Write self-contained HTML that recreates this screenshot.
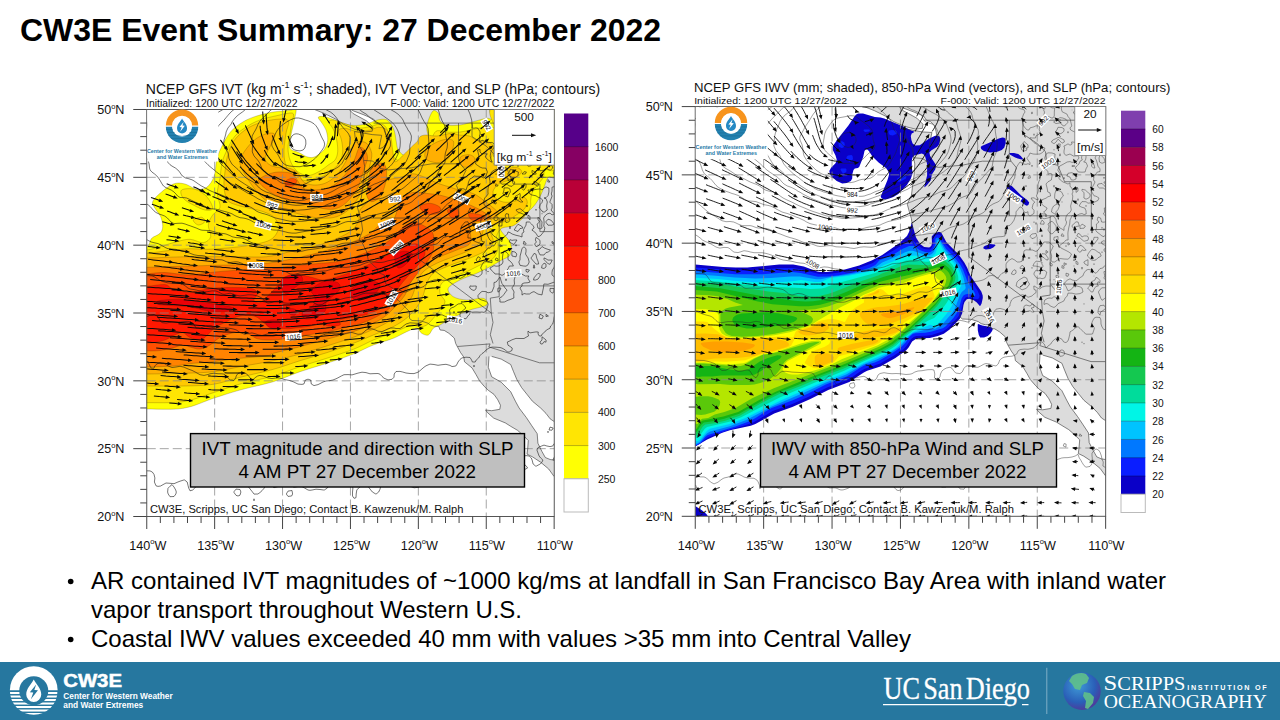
<!DOCTYPE html>
<html><head><meta charset="utf-8"><title>CW3E Event Summary</title>
<style>html,body{margin:0;padding:0;background:#fff;}body{width:1280px;height:720px;overflow:hidden;position:relative;font-family:"Liberation Sans",sans-serif;}svg{position:absolute;left:0;top:0;display:block}</style>
</head><body>
<svg width="1280" height="720" viewBox="0 0 1280 720">
<defs>
<clipPath id="cl"><rect x="146.75" y="109.5" width="407.5" height="407"/></clipPath>
<clipPath id="cr"><rect x="695.25" y="106.6" width="410.4" height="409.7"/></clipPath>
</defs>
<rect width="1280" height="720" fill="#fff"/>

<text x="20" y="40.6" font-size="32" font-weight="bold" font-family="Liberation Sans, sans-serif" fill="#000" textLength="641" lengthAdjust="spacingAndGlyphs">CW3E Event Summary: 27 December 2022</text>
<g clip-path="url(#cl)">
<path d="M316.5 89.1L316.5 95.9L330.1 101.3L346.4 106.8L353.2 110.8L364.0 114.9L373.5 119.0L376.3 123.1L380.3 124.4L384.4 128.5L385.8 133.9L387.1 142.1L383.0 147.5L379.0 148.8L380.3 142.1L381.7 135.3L372.2 134.6L354.5 131.5L355.2 138.0L359.3 146.1L362.7 151.5L363.4 159.7L364.7 166.5L364.0 177.3L362.7 186.8L361.3 197.7L357.2 206.5L359.3 214.0L361.3 220.7L362.7 230.2L359.3 239.1L362.7 243.8L366.7 251.9L368.1 259.4L373.5 265.5L377.6 268.9L377.6 272.3L384.4 275.0L384.4 279.1L385.8 283.8L389.8 286.5L393.2 288.6L391.9 292.0L392.5 295.4L398.0 300.1L402.1 304.2L406.1 308.2L409.5 311.6L409.5 318.4L412.0 320.5L421.1 320.9L427.9 323.2L430.6 325.2L434.6 326.2L438.7 326.3L440.1 330.0L444.2 330.4L448.9 333.3L454.3 338.1L455.7 343.5L457.5 346.9L460.4 352.3L463.8 357.1L464.5 361.8L472.0 367.9L476.1 374.7L479.5 380.8L484.2 386.3L488.3 390.3L494.0 394.4L497.8 399.8L500.5 405.3L499.8 409.3L491.7 410.7L485.6 410.0L487.6 412.7L493.7 418.1L505.3 422.9L510.7 426.3L517.5 430.3L522.9 435.1L528.3 440.5L527.7 448.7L527.0 454.1L532.4 456.8L540.6 462.2L548.7 469.0L554.1 476.5L567.7 477.2L567.7 89.1Z" fill="#dcdcdc"/>
<path d="M304.3 99.3L311.1 108.1L324.6 113.6L335.5 119.0L343.7 124.4L354.5 129.2L365.4 131.9L372.2 131.2L372.9 127.1L366.7 121.0L353.2 113.6L346.4 106.8L330.1 102.0L312.4 97.3Z" fill="#dcdcdc"/>
<path d="M489.0 356.4L488.3 367.3L491.7 376.8L501.2 382.2L510.7 391.7L515.4 401.2L519.1 408.0L526.3 417.5L531.7 425.6L537.2 433.7L537.9 443.2L541.9 451.4L545.3 457.5L550.1 459.5L567.7 462.2L567.7 428.3L554.1 421.5L550.1 418.8L546.0 413.4L540.6 408.0L532.4 401.2L527.0 394.4L521.6 387.6L516.8 379.5L513.4 371.3L510.7 364.5L501.2 359.1L491.7 356.4Z" fill="#fff"/>
<path d="M130.0 409.0C130.0 381.9 127.2 273.7 130.0 246.7C132.8 219.6 143.1 248.1 146.7 246.7C150.3 245.3 149.4 240.6 151.7 238.3C153.9 236.1 158.2 235.3 160.0 233.3C161.8 231.4 162.6 229.4 162.7 226.7C162.8 223.9 161.9 219.7 160.7 216.7C159.4 213.6 156.3 210.8 155.0 208.3C153.7 205.8 151.8 204.2 152.7 201.7C153.5 199.2 156.6 196.3 160.0 193.3C163.4 190.4 169.2 185.6 173.3 184.0C177.5 182.4 181.1 183.1 185.0 184.0C188.9 184.9 193.1 188.8 196.7 189.3C200.3 189.9 203.8 189.4 206.7 187.3C209.6 185.2 212.3 181.2 214.0 176.7C215.7 172.1 215.4 165.0 216.7 160.0C217.9 155.0 219.3 151.4 221.7 146.7C224.0 141.9 227.1 135.8 230.7 131.7C234.3 127.5 239.0 124.3 243.3 121.7C247.7 119.1 251.7 117.6 256.7 116.0C261.7 114.4 267.8 112.9 273.3 112.0C278.9 111.1 286.2 110.8 290.0 110.3C293.8 109.9 295.3 107.4 296.0 109.3C296.7 111.2 294.9 117.1 294.0 121.7C293.1 126.2 291.3 132.2 290.7 136.7C290.0 141.1 288.6 145.7 290.0 148.3C291.4 151.0 296.6 151.3 299.3 152.7C302.1 154.1 304.3 155.9 306.7 156.7C309.0 157.4 311.1 157.9 313.3 157.3C315.6 156.8 318.1 154.8 320.0 153.3C321.9 151.8 323.7 150.6 325.0 148.3C326.3 146.1 327.5 143.1 327.7 140.0C327.8 136.9 327.0 132.9 326.0 130.0C325.0 127.1 322.9 124.8 321.7 122.7C320.4 120.6 317.8 118.3 318.3 117.3C318.9 116.3 321.9 116.1 325.0 116.7C328.1 117.2 332.8 119.3 336.7 120.7C340.6 122.0 344.7 123.9 348.3 124.7C351.9 125.4 354.7 125.7 358.3 125.3C361.9 125.0 367.2 123.4 370.0 122.7C372.8 121.9 373.1 121.2 375.0 120.7C376.9 120.1 379.4 119.3 381.7 119.3C383.9 119.3 386.3 118.9 388.3 120.7C390.4 122.4 392.7 126.8 394.0 130.0C395.3 133.2 395.3 136.7 396.0 140.0C396.7 143.3 396.6 147.2 398.3 150.0C400.1 152.8 403.3 155.8 406.7 156.7C410.0 157.5 416.7 156.4 418.3 155.0C420.0 153.6 415.8 150.0 416.7 148.3C417.5 146.7 421.4 146.7 423.3 145.0C425.3 143.3 427.8 141.1 428.3 138.3C428.9 135.6 426.6 131.5 426.7 128.3C426.7 125.2 427.6 122.3 428.7 119.3C429.8 116.4 431.7 111.7 433.3 110.7C434.9 109.7 437.2 111.7 438.3 113.3C439.4 115.0 438.6 118.7 440.0 120.7C441.4 122.6 443.3 124.3 446.7 125.0C450.0 125.7 455.6 125.6 460.0 125.0C464.4 124.4 468.9 122.8 473.3 121.7C477.8 120.6 483.2 118.7 486.7 118.3C490.1 117.9 492.8 121.3 494.0 119.3C495.2 117.4 483.6 108.8 494.0 106.7C504.4 104.6 546.2 95.8 556.7 106.7C567.1 117.5 558.1 159.9 556.7 171.7C555.3 183.4 550.4 174.7 548.3 177.3C546.2 179.9 545.4 184.1 544.0 187.3C542.6 190.6 541.8 193.4 540.0 196.7C538.2 199.9 536.1 203.6 533.3 206.7C530.6 209.7 526.7 212.7 523.3 215.0C520.0 217.3 516.7 219.0 513.3 220.7C510.0 222.3 505.4 223.4 503.3 225.0C501.2 226.6 499.4 226.9 500.7 230.0C501.9 233.1 509.1 239.2 510.7 243.3C512.2 247.5 511.5 252.2 510.0 255.0C508.5 257.8 504.4 258.3 501.7 260.0C498.9 261.7 497.5 262.8 493.3 265.0C489.2 267.2 482.2 270.8 476.7 273.3C471.1 275.8 464.7 277.5 460.0 280.0C455.3 282.5 449.4 285.6 448.3 288.3C447.2 291.1 450.3 294.7 453.3 296.7C456.4 298.6 461.7 299.7 466.7 300.0C471.7 300.3 480.0 297.5 483.3 298.3C486.7 299.2 488.9 303.1 486.7 305.0C484.4 306.9 475.6 307.9 470.0 310.0C464.4 312.1 458.3 314.8 453.3 317.3C448.3 319.8 443.3 323.2 440.0 325.0C436.7 326.8 435.3 326.7 433.3 328.3C431.4 330.0 430.3 334.2 428.3 335.0C426.4 335.8 423.6 334.4 421.7 333.3C419.7 332.2 419.2 328.6 416.7 328.3C414.2 328.1 410.6 330.0 406.7 331.7C402.8 333.3 398.9 336.1 393.3 338.3C387.8 340.6 380.0 342.4 373.3 345.0C366.7 347.6 361.1 350.9 353.3 354.0C345.6 357.1 335.6 360.4 326.7 363.3C317.8 366.3 308.9 368.6 300.0 371.7C291.1 374.7 283.3 378.6 273.3 381.7C263.3 384.7 250.0 387.2 240.0 390.0C230.0 392.8 222.8 395.3 213.3 398.3C203.9 401.4 194.4 406.6 183.3 408.3C172.2 410.1 155.6 408.9 146.7 409.0C137.8 409.1 132.8 409.0 130.0 409.0C127.2 409.0 130.0 436.1 130.0 409.0Z" fill="#ffff03" stroke="#3a2a00" stroke-opacity="0.45" stroke-width="0.5"/>
<path d="M130.0 402.3C130.0 376.9 127.2 275.4 130.0 250.0C132.8 224.6 141.7 250.6 146.7 250.0C151.7 249.4 155.0 248.1 160.0 246.7C165.0 245.3 171.7 242.9 176.7 241.7C181.7 240.4 185.6 239.2 190.0 239.3C194.4 239.5 199.9 243.1 203.3 242.7C206.8 242.2 209.8 239.6 210.7 236.7C211.5 233.7 208.0 228.6 208.3 225.0C208.7 221.4 210.7 217.9 212.7 215.0C214.6 212.1 219.2 210.9 220.0 207.3C220.8 203.7 217.3 198.2 217.3 193.3C217.3 188.5 219.2 183.4 220.0 178.3C220.8 173.2 220.8 167.5 222.0 162.7C223.2 157.8 225.2 153.8 227.3 149.3C229.5 144.9 231.8 139.8 235.0 136.0C238.2 132.2 242.5 129.3 246.7 126.7C250.8 124.0 255.0 121.8 260.0 120.0C265.0 118.2 271.2 116.8 276.7 115.7C282.1 114.6 290.2 112.1 292.7 113.3C295.2 114.6 292.2 119.4 291.7 123.3C291.2 127.2 290.3 132.5 289.7 136.7C289.1 140.8 287.9 144.4 288.0 148.3C288.1 152.2 288.8 156.6 290.0 160.0C291.2 163.4 293.1 166.7 295.0 169.0C296.9 171.3 299.2 172.9 301.7 174.0C304.2 175.1 306.9 175.8 310.0 175.3C313.1 174.8 316.9 172.7 320.0 171.0C323.1 169.3 325.8 166.8 328.3 165.0C330.8 163.2 333.4 162.2 335.0 160.0C336.6 157.8 337.4 155.0 337.7 151.7C337.9 148.3 337.4 143.7 336.7 140.0C335.9 136.3 334.7 132.3 333.3 129.3C332.0 126.3 328.7 123.6 328.7 122.0C328.7 120.4 331.4 120.0 333.3 120.0C335.2 120.0 337.2 121.1 340.0 122.0C342.8 122.9 346.7 124.3 350.0 125.3C353.3 126.3 356.7 127.8 360.0 128.0C363.3 128.2 366.7 127.3 370.0 126.7C373.3 126.0 377.3 123.9 380.0 124.0C382.7 124.1 384.4 125.2 386.0 127.3C387.6 129.4 388.4 132.9 389.3 136.7C390.2 140.4 390.2 146.2 391.3 150.0C392.4 153.8 393.4 157.4 396.0 159.3C398.6 161.3 402.7 161.7 406.7 161.7C410.7 161.7 417.3 161.3 420.0 159.3C422.7 157.4 421.0 152.7 422.7 150.0C424.3 147.3 428.2 145.8 430.0 143.3C431.8 140.8 432.1 137.1 433.3 135.0C434.6 132.9 435.1 131.2 437.3 130.7C439.6 130.2 442.9 131.8 446.7 132.0C450.4 132.2 455.6 132.4 460.0 132.0C464.4 131.6 468.9 130.2 473.3 129.3C477.8 128.4 483.2 127.1 486.7 126.7C490.1 126.2 492.8 130.0 494.0 126.7C495.2 123.3 483.6 110.0 494.0 106.7C504.4 103.3 546.2 96.9 556.7 106.7C567.1 116.4 558.6 154.4 556.7 165.0C554.8 175.6 547.6 167.9 545.3 170.0C543.1 172.1 544.6 174.9 543.3 177.3C542.1 179.7 539.8 181.9 538.0 184.3C536.2 186.7 533.9 189.1 532.7 191.7C531.4 194.3 531.0 197.6 530.7 200.0C530.3 202.4 531.2 203.8 530.7 206.0C530.1 208.2 529.1 210.9 527.3 213.3C525.6 215.8 522.4 218.6 520.0 220.7C517.6 222.8 515.7 224.7 512.7 226.0C509.6 227.3 504.3 226.6 501.7 228.3C499.0 230.1 497.2 233.6 496.7 236.7C496.1 239.7 498.9 243.1 498.3 246.7C497.8 250.3 496.4 255.3 493.3 258.3C490.3 261.4 484.4 262.8 480.0 265.0C475.6 267.2 471.1 269.7 466.7 271.7C462.2 273.6 457.5 274.7 453.3 276.7C449.2 278.6 443.9 280.6 441.7 283.3C439.4 286.1 439.4 290.3 440.0 293.3C440.6 296.4 445.0 298.9 445.0 301.7C445.0 304.4 441.9 307.2 440.0 310.0C438.1 312.8 435.6 315.8 433.3 318.3C431.1 320.8 428.9 323.6 426.7 325.0C424.4 326.4 422.5 326.7 420.0 326.7C417.5 326.7 414.4 324.7 411.7 325.0C408.9 325.3 406.9 326.8 403.3 328.3C399.7 329.8 395.0 332.1 390.0 334.0C385.0 335.9 379.4 337.4 373.3 340.0C367.2 342.6 361.1 346.3 353.3 349.3C345.6 352.4 335.6 355.4 326.7 358.3C317.8 361.2 308.9 363.7 300.0 366.7C291.1 369.6 283.3 373.1 273.3 376.0C263.3 378.9 250.0 381.2 240.0 384.0C230.0 386.8 222.8 389.7 213.3 392.7C203.9 395.6 194.4 400.0 183.3 401.7C172.2 403.3 155.6 402.5 146.7 402.7C137.8 402.8 132.8 402.7 130.0 402.7C127.2 402.6 130.0 427.8 130.0 402.3Z" fill="#ffe503" stroke="#3a2a00" stroke-opacity="0.45" stroke-width="0.5"/>
<path d="M181.7 190.0C183.6 188.5 190.8 188.2 195.0 189.3C199.2 190.4 203.7 193.5 206.7 196.7C209.6 199.8 212.9 206.1 212.7 208.3C212.4 210.6 208.2 210.6 205.0 210.0C201.8 209.4 196.9 206.9 193.3 205.0C189.7 203.1 185.3 200.8 183.3 198.3C181.4 195.8 179.7 191.5 181.7 190.0Z" fill="#ffe503" stroke="#3a2a00" stroke-opacity="0.45" stroke-width="0.5"/>
<path d="M193.3 220.0C193.9 218.7 199.7 217.1 201.7 217.3C203.6 217.6 205.6 220.4 205.0 221.7C204.4 222.9 200.3 225.3 198.3 225.0C196.4 224.7 192.8 221.3 193.3 220.0Z" fill="#ffe503" stroke="#3a2a00" stroke-opacity="0.45" stroke-width="0.5"/>
<path d="M130.0 386.0C130.0 363.9 127.2 275.4 130.0 253.3C132.8 231.2 141.7 253.6 146.7 253.3C151.7 253.1 155.6 252.2 160.0 251.7C164.4 251.1 168.3 250.5 173.3 250.0C178.3 249.5 184.4 248.8 190.0 248.7C195.6 248.6 201.1 249.4 206.7 249.3C212.2 249.3 217.8 248.8 223.3 248.3C228.9 247.9 234.4 247.4 240.0 246.7C245.6 245.9 251.7 245.1 256.7 244.0C261.7 242.9 266.7 241.8 270.0 240.0C273.3 238.2 275.3 235.8 276.7 233.3C278.1 230.8 278.9 227.8 278.3 225.0C277.8 222.2 275.8 218.9 273.3 216.7C270.8 214.4 267.2 213.1 263.3 211.7C259.4 210.3 254.4 209.4 250.0 208.3C245.6 207.2 240.4 206.4 236.7 205.0C232.9 203.6 229.4 203.1 227.3 200.0C225.2 196.9 224.4 191.4 224.0 186.7C223.6 181.9 224.4 176.7 225.0 171.7C225.6 166.7 225.9 161.7 227.3 156.7C228.7 151.7 230.4 146.1 233.3 141.7C236.3 137.2 240.6 133.2 245.0 130.0C249.4 126.8 254.7 124.4 260.0 122.7C265.3 120.9 271.9 119.7 276.7 119.3C281.4 119.0 286.8 118.3 288.3 120.7C289.9 123.0 286.7 128.4 286.0 133.3C285.3 138.2 284.1 145.0 284.0 150.0C283.9 155.0 284.2 159.4 285.3 163.3C286.4 167.2 288.2 170.7 290.7 173.3C293.1 176.0 296.5 178.1 300.0 179.3C303.5 180.6 307.8 181.2 311.7 180.7C315.6 180.1 319.7 177.9 323.3 176.0C326.9 174.1 330.6 171.7 333.3 169.3C336.1 166.9 338.4 164.6 340.0 161.7C341.6 158.7 342.4 155.4 342.7 151.7C342.9 147.9 342.1 142.8 341.3 139.3C340.6 135.8 337.7 132.5 338.3 130.7C338.9 128.8 341.9 128.2 345.0 128.3C348.1 128.4 352.5 131.1 356.7 131.3C360.8 131.6 366.4 130.7 370.0 130.0C373.6 129.3 375.7 127.4 378.3 127.3C381.0 127.2 383.9 127.8 386.0 129.3C388.1 130.9 389.6 133.2 390.7 136.7C391.8 140.1 391.9 145.8 392.7 150.0C393.4 154.2 393.2 160.8 395.0 161.7C396.8 162.5 400.6 157.5 403.3 155.0C406.1 152.5 409.4 148.9 411.7 146.7C413.9 144.4 415.6 143.3 417.0 141.7C418.4 140.0 418.5 137.8 420.0 136.7C421.5 135.6 423.2 135.1 426.0 135.0C428.8 134.9 432.8 136.3 437.0 136.0C441.2 135.7 447.7 133.5 451.3 133.3C454.9 133.2 455.7 134.6 458.7 135.0C461.7 135.4 466.6 135.3 469.3 136.0C472.1 136.7 472.6 138.4 475.0 139.3C477.4 140.2 481.3 140.7 484.0 141.3C486.7 142.0 489.4 141.9 491.0 143.3C492.6 144.8 493.7 147.4 493.7 150.0C493.7 152.6 490.8 156.6 491.0 159.0C491.2 161.4 492.2 163.1 494.7 164.7C497.1 166.2 502.1 167.9 505.7 168.3C509.3 168.8 513.7 166.8 516.3 167.3C519.0 167.9 521.7 170.0 521.7 171.7C521.7 173.3 518.7 175.8 516.3 177.3C513.9 178.8 510.3 179.5 507.3 180.7C504.3 181.8 500.7 182.5 498.3 184.3C495.9 186.2 493.3 189.2 493.0 191.7C492.7 194.1 494.6 197.2 496.7 199.0C498.8 200.8 502.4 202.1 505.7 202.3C508.9 202.6 513.3 201.6 516.3 200.7C519.3 199.8 521.8 196.7 523.7 197.0C525.5 197.3 527.3 200.2 527.3 202.3C527.3 204.4 525.5 207.6 523.7 209.7C521.8 211.8 519.1 213.2 516.3 215.0C513.6 216.8 510.6 219.2 507.3 220.7C504.1 222.2 499.6 222.4 496.7 224.0C493.8 225.6 490.6 227.1 490.0 230.0C489.4 232.9 493.9 238.3 493.3 241.7C492.8 245.0 490.0 247.5 486.7 250.0C483.3 252.5 477.8 254.7 473.3 256.7C468.9 258.6 464.4 260.0 460.0 261.7C455.6 263.3 451.1 264.7 446.7 266.7C442.2 268.6 436.7 270.6 433.3 273.3C430.0 276.1 428.3 279.7 426.7 283.3C425.0 286.9 424.7 291.4 423.3 295.0C421.9 298.6 420.6 301.7 418.3 305.0C416.1 308.3 412.8 312.2 410.0 315.0C407.2 317.8 405.0 319.4 401.7 321.7C398.3 323.9 394.7 326.1 390.0 328.3C385.3 330.6 379.4 332.5 373.3 335.0C367.2 337.5 361.1 340.4 353.3 343.3C345.6 346.3 335.6 349.8 326.7 352.7C317.8 355.6 308.9 357.9 300.0 360.7C291.1 363.4 283.3 366.6 273.3 369.3C263.3 372.1 250.0 374.8 240.0 377.3C230.0 379.8 222.8 382.9 213.3 384.3C203.9 385.8 194.4 385.7 183.3 386.0C172.2 386.3 155.6 386.0 146.7 386.0C137.8 386.0 132.8 386.0 130.0 386.0C127.2 386.0 130.0 408.1 130.0 386.0Z" fill="#ffc902" stroke="#3a2a00" stroke-opacity="0.45" stroke-width="0.5"/>
<path d="M240.0 160.0C240.8 156.7 243.9 151.9 246.7 148.3C249.4 144.7 253.1 140.8 256.7 138.3C260.3 135.8 265.3 133.9 268.3 133.3C271.4 132.8 274.7 132.8 275.0 135.0C275.3 137.2 271.7 142.8 270.0 146.7C268.3 150.6 265.0 155.3 265.0 158.3C265.0 161.4 267.8 163.5 270.0 165.0C272.2 166.5 275.0 166.9 278.3 167.5C281.7 168.1 286.7 167.4 290.0 168.3C293.3 169.3 296.1 171.1 298.3 173.3C300.6 175.6 300.8 179.7 303.3 181.7C305.8 183.6 309.7 184.7 313.3 185.0C316.9 185.3 321.4 184.7 325.0 183.3C328.6 181.9 332.2 179.2 335.0 176.7C337.8 174.2 339.4 171.7 341.7 168.3C343.9 165.0 346.4 160.6 348.3 156.7C350.3 152.8 351.7 147.5 353.3 145.0C355.0 142.5 356.1 141.9 358.3 141.7C360.6 141.4 364.4 141.4 366.7 143.3C368.9 145.3 371.1 149.7 371.7 153.3C372.2 156.9 370.8 161.1 370.0 165.0C369.2 168.9 367.8 172.8 366.7 176.7C365.6 180.6 365.0 184.4 363.3 188.3C361.7 192.2 359.2 196.4 356.7 200.0C354.2 203.6 351.7 207.2 348.3 210.0C345.0 212.8 340.8 215.3 336.7 216.7C332.5 218.1 327.8 218.3 323.3 218.3C318.9 218.3 314.4 217.5 310.0 216.7C305.6 215.8 301.1 214.4 296.7 213.3C292.2 212.2 287.8 211.7 283.3 210.0C278.9 208.3 274.2 206.1 270.0 203.3C265.8 200.6 261.9 197.2 258.3 193.3C254.7 189.4 251.1 184.2 248.3 180.0C245.6 175.8 243.1 171.7 241.7 168.3C240.3 165.0 239.2 163.3 240.0 160.0Z" fill="#ffaf02" stroke="#3a2a00" stroke-opacity="0.45" stroke-width="0.5"/>
<path d="M130.0 374.0C130.0 354.7 127.2 277.3 130.0 258.0C132.8 238.7 140.6 258.1 146.7 258.0C152.8 257.9 159.4 257.6 166.7 257.3C173.9 257.1 182.2 256.8 190.0 256.7C197.8 256.6 205.0 256.7 213.3 256.7C221.7 256.7 231.1 256.7 240.0 256.7C248.9 256.7 258.3 257.5 266.7 256.7C275.0 255.8 282.2 253.3 290.0 251.7C297.8 250.0 306.1 248.6 313.3 246.7C320.6 244.7 327.2 242.5 333.3 240.0C339.4 237.5 345.8 234.7 350.0 231.7C354.2 228.6 356.7 225.3 358.3 221.7C360.0 218.1 358.1 213.6 360.0 210.0C361.9 206.4 366.7 203.9 370.0 200.0C373.3 196.1 376.9 190.0 380.0 186.7C383.1 183.3 384.9 181.6 388.3 180.0C391.8 178.4 396.8 178.4 400.7 177.3C404.6 176.3 408.1 173.8 411.7 173.7C415.3 173.5 419.0 175.2 422.3 176.3C425.7 177.5 428.6 179.3 431.7 180.7C434.7 182.0 437.7 183.3 440.7 184.3C443.7 185.4 446.7 186.1 449.7 187.0C452.7 187.9 455.7 189.2 458.7 190.0C461.7 190.8 464.7 190.8 467.7 191.7C470.7 192.6 473.9 193.8 476.7 195.3C479.4 196.8 481.6 198.9 484.0 200.7C486.4 202.4 488.6 203.9 491.0 206.0C493.4 208.1 497.9 211.3 498.3 213.3C498.7 215.4 495.3 216.8 493.3 218.3C491.4 219.9 488.3 220.7 486.7 222.7C485.0 224.6 484.4 226.8 483.3 230.0C482.2 233.2 482.2 238.3 480.0 241.7C477.8 245.0 474.4 247.5 470.0 250.0C465.6 252.5 458.9 254.4 453.3 256.7C447.8 258.9 441.7 260.8 436.7 263.3C431.7 265.8 426.7 268.3 423.3 271.7C420.0 275.0 418.4 279.4 416.7 283.3C414.9 287.2 414.3 291.4 412.7 295.0C411.0 298.6 409.1 301.9 406.7 305.0C404.3 308.1 401.4 310.6 398.3 313.3C395.3 316.1 392.5 319.0 388.3 321.7C384.2 324.3 379.2 326.7 373.3 329.3C367.5 331.9 361.1 334.6 353.3 337.3C345.6 340.1 335.6 343.2 326.7 346.0C317.8 348.8 308.9 351.6 300.0 354.0C291.1 356.4 283.3 358.6 273.3 360.7C263.3 362.8 250.0 364.8 240.0 366.7C230.0 368.5 222.8 370.6 213.3 371.7C203.9 372.8 194.4 372.9 183.3 373.3C172.2 373.7 155.6 373.9 146.7 374.0C137.8 374.1 132.8 374.0 130.0 374.0C127.2 374.0 130.0 393.3 130.0 374.0Z" fill="#ffaf02" stroke="#3a2a00" stroke-opacity="0.45" stroke-width="0.5"/>
<path d="M426.0 150.0C427.5 147.3 431.7 144.8 435.0 143.0C438.3 141.2 442.9 139.7 446.0 139.3C449.1 139.0 452.3 139.2 453.3 141.0C454.4 142.8 453.3 147.0 452.3 150.0C451.4 153.0 450.2 156.9 447.7 159.0C445.1 161.1 440.6 162.7 437.0 162.7C433.4 162.7 427.8 161.1 426.0 159.0C424.2 156.9 424.5 152.7 426.0 150.0Z" fill="#ffaf02" stroke="#3a2a00" stroke-opacity="0.45" stroke-width="0.5"/>
<path d="M460.3 157.3C461.5 155.4 466.9 154.4 469.3 154.7C471.8 154.9 474.7 157.1 475.0 159.0C475.3 160.9 473.4 165.1 471.3 166.3C469.2 167.6 464.2 167.8 462.3 166.3C460.5 164.8 459.2 159.3 460.3 157.3Z" fill="#ffaf02" stroke="#3a2a00" stroke-opacity="0.45" stroke-width="0.5"/>
<path d="M259.2 179.2C260.6 177.6 265.1 175.4 268.3 174.2C271.5 173.0 274.7 172.2 278.3 172.0C281.9 171.8 287.2 172.2 290.0 173.0C292.8 173.8 293.6 175.2 295.0 176.7C296.4 178.1 296.9 179.7 298.3 181.7C299.7 183.6 300.8 186.9 303.3 188.3C305.8 189.7 309.4 190.0 313.3 190.0C317.2 190.0 322.8 189.4 326.7 188.3C330.6 187.2 333.9 185.3 336.7 183.3C339.4 181.4 341.1 179.2 343.3 176.7C345.6 174.2 348.1 171.4 350.0 168.3C351.9 165.3 353.6 161.5 355.0 158.3C356.4 155.1 357.2 151.0 358.3 149.2C359.4 147.4 360.4 147.1 361.7 147.5C362.9 147.9 364.9 149.9 365.8 151.7C366.8 153.5 367.6 155.8 367.5 158.3C367.4 160.8 366.0 163.6 365.0 166.7C364.0 169.7 362.8 173.3 361.7 176.7C360.6 180.0 360.0 183.3 358.3 186.7C356.7 190.0 354.2 193.6 351.7 196.7C349.2 199.7 346.4 202.9 343.3 205.0C340.3 207.1 336.9 208.6 333.3 209.2C329.7 209.7 325.6 209.0 321.7 208.3C317.8 207.6 313.9 205.8 310.0 205.0C306.1 204.2 302.2 204.2 298.3 203.3C294.4 202.5 290.6 201.4 286.7 200.0C282.8 198.6 278.6 196.9 275.0 195.0C271.4 193.1 267.5 190.3 265.0 188.3C262.5 186.4 261.0 184.9 260.0 183.3C259.0 181.8 257.8 180.7 259.2 179.2Z" fill="#ff8301" stroke="#3a2a00" stroke-opacity="0.45" stroke-width="0.5"/>
<path d="M130.0 367.0C130.0 350.4 127.2 283.9 130.0 267.3C132.8 250.7 140.6 267.4 146.7 267.3C152.8 267.2 159.4 266.9 166.7 266.7C173.9 266.4 182.2 266.2 190.0 266.0C197.8 265.8 205.0 265.6 213.3 265.3C221.7 265.1 231.1 265.0 240.0 264.7C248.9 264.3 258.3 264.2 266.7 263.3C275.0 262.4 282.2 260.9 290.0 259.3C297.8 257.8 306.1 255.8 313.3 254.0C320.6 252.2 326.7 250.4 333.3 248.3C340.0 246.3 347.2 244.2 353.3 241.7C359.4 239.2 365.6 236.1 370.0 233.3C374.4 230.6 376.1 227.2 380.0 225.0C383.9 222.8 389.9 224.2 393.3 220.0C396.8 215.8 397.6 204.6 400.7 200.0C403.7 195.4 407.4 193.8 411.7 192.7C415.9 191.6 421.2 192.9 426.0 193.3C430.8 193.8 436.1 194.4 440.7 195.3C445.2 196.3 449.2 197.7 453.3 199.0C457.5 200.3 461.8 201.8 465.7 203.3C469.6 204.8 473.3 206.3 476.7 208.0C480.0 209.7 483.3 211.7 485.7 213.3C488.1 214.9 491.3 216.4 491.0 217.7C490.7 218.9 486.7 219.9 484.0 220.7C481.3 221.4 477.3 221.3 475.0 222.3C472.7 223.3 470.8 225.4 470.0 226.7C469.2 227.9 470.0 227.2 470.0 230.0C470.0 232.8 472.2 240.0 470.0 243.3C467.8 246.7 461.7 247.8 456.7 250.0C451.7 252.2 445.0 254.4 440.0 256.7C435.0 258.9 430.6 260.8 426.7 263.3C422.8 265.8 419.4 268.3 416.7 271.7C413.9 275.0 411.9 279.4 410.0 283.3C408.1 287.2 407.2 291.4 405.0 295.0C402.8 298.6 399.7 301.7 396.7 305.0C393.6 308.3 390.6 311.9 386.7 315.0C382.8 318.1 378.9 320.6 373.3 323.3C367.8 326.1 361.1 329.0 353.3 331.7C345.6 334.3 335.6 336.8 326.7 339.3C317.8 341.8 308.9 344.3 300.0 346.7C291.1 349.0 278.9 351.8 273.3 353.3C267.8 354.9 272.2 355.2 266.7 356.0C261.1 356.8 248.9 357.4 240.0 358.3C231.1 359.3 221.1 360.8 213.3 361.7C205.6 362.5 200.0 362.6 193.3 363.3C186.7 364.1 181.1 365.4 173.3 366.0C165.6 366.6 153.9 366.8 146.7 367.0C139.4 367.2 132.8 367.0 130.0 367.0C127.2 367.0 130.0 383.6 130.0 367.0Z" fill="#ff8301" stroke="#3a2a00" stroke-opacity="0.45" stroke-width="0.5"/>
<path d="M370.0 171.7C371.1 168.6 372.8 166.4 375.0 165.0C377.2 163.6 381.4 162.2 383.3 163.3C385.3 164.4 386.4 168.1 386.7 171.7C386.9 175.3 386.1 180.8 385.0 185.0C383.9 189.2 382.2 193.9 380.0 196.7C377.8 199.4 373.9 201.9 371.7 201.7C369.4 201.4 367.2 198.1 366.7 195.0C366.1 191.9 367.8 187.2 368.3 183.3C368.9 179.4 368.9 174.7 370.0 171.7Z" fill="#ff8301" stroke="#3a2a00" stroke-opacity="0.45" stroke-width="0.5"/>
<path d="M285.0 181.7C285.7 180.3 289.7 178.5 291.7 178.3C293.6 178.2 296.4 179.6 296.7 180.8C296.9 182.1 294.9 184.9 293.3 185.8C291.8 186.8 288.9 187.4 287.5 186.7C286.1 186.0 284.3 183.1 285.0 181.7Z" fill="#ff4f01" stroke="#3a2a00" stroke-opacity="0.45" stroke-width="0.5"/>
<path d="M130.0 351.0C127.2 338.1 127.2 286.6 130.0 273.8C132.8 260.9 140.9 274.0 146.8 273.8C152.6 273.5 157.8 272.3 165.0 272.5C172.2 272.7 181.7 275.1 190.0 275.0C198.3 274.9 206.7 272.8 215.0 272.0C223.3 271.2 231.7 270.5 240.0 270.0C248.3 269.5 256.7 269.4 265.0 268.8C273.3 268.1 281.7 267.1 290.0 266.2C298.3 265.4 306.7 264.6 315.0 263.8C323.3 262.9 332.5 262.7 340.0 261.2C347.5 259.8 353.8 257.3 360.0 255.0C366.2 252.7 372.5 250.0 377.5 247.5C382.5 245.0 386.2 242.9 390.0 240.0C393.8 237.1 396.2 232.9 400.0 230.0C403.8 227.1 408.8 223.3 412.5 222.5C416.2 221.7 419.2 223.3 422.5 225.0C425.8 226.7 430.6 229.2 432.5 232.5C434.4 235.8 433.8 241.7 433.8 245.0C433.8 248.3 433.5 249.8 432.5 252.5C431.5 255.2 429.6 258.3 427.5 261.2C425.4 264.2 422.5 266.9 420.0 270.0C417.5 273.1 415.0 276.7 412.5 280.0C410.0 283.3 407.5 286.7 405.0 290.0C402.5 293.3 400.4 296.7 397.5 300.0C394.6 303.3 391.2 307.1 387.5 310.0C383.8 312.9 379.6 315.2 375.0 317.5C370.4 319.8 365.0 322.1 360.0 323.8C355.0 325.4 350.0 326.2 345.0 327.5C340.0 328.8 335.0 330.2 330.0 331.2C325.0 332.3 320.0 332.9 315.0 333.8C310.0 334.6 305.0 335.4 300.0 336.2C295.0 337.1 290.0 338.1 285.0 338.8C280.0 339.4 274.6 340.0 270.0 340.0C265.4 340.0 261.2 339.8 257.5 338.8C253.8 337.7 251.2 334.8 247.5 333.8C243.8 332.7 239.6 331.9 235.0 332.5C230.4 333.1 224.2 335.4 220.0 337.5C215.8 339.6 213.3 343.1 210.0 345.0C206.7 346.9 203.3 348.7 200.0 349.0C196.7 349.3 192.9 347.7 190.0 347.0C187.1 346.3 185.4 344.8 182.5 345.0C179.6 345.2 176.2 347.1 172.5 348.0C168.8 348.9 164.3 350.0 160.0 350.5C155.7 351.0 151.8 350.9 146.8 351.0C141.8 351.1 132.8 363.9 130.0 351.0Z" fill="#ff4f01" stroke="#3a2a00" stroke-opacity="0.45" stroke-width="0.5"/>
<path d="M420.0 206.7C420.6 204.9 426.7 203.2 430.0 203.3C433.3 203.4 438.6 205.7 440.0 207.3C441.4 209.0 440.6 212.2 438.3 213.3C436.1 214.4 429.7 215.1 426.7 214.0C423.6 212.9 419.4 208.4 420.0 206.7Z" fill="#ff4f01" stroke="#3a2a00" stroke-opacity="0.45" stroke-width="0.5"/>
<path d="M447.7 209.7C448.6 208.2 454.8 207.8 456.7 208.7C458.5 209.6 459.6 213.5 458.7 215.0C457.8 216.5 453.2 218.6 451.3 217.7C449.5 216.8 446.8 211.2 447.7 209.7Z" fill="#ff4f01" stroke="#3a2a00" stroke-opacity="0.45" stroke-width="0.5"/>
<path d="M469.3 213.3C471.4 212.7 482.2 214.8 484.0 216.0C485.8 217.2 482.4 220.1 480.3 220.7C478.2 221.3 473.2 220.9 471.3 219.7C469.5 218.4 467.2 213.9 469.3 213.3Z" fill="#ff4f01" stroke="#3a2a00" stroke-opacity="0.45" stroke-width="0.5"/>
<path d="M130.0 286.2C132.8 276.8 140.9 286.5 146.8 286.2C152.6 286.0 160.7 284.1 165.0 284.5C169.3 284.9 168.3 287.4 172.5 288.8C176.7 290.1 185.0 292.3 190.0 292.5C195.0 292.7 198.3 290.8 202.5 290.0C206.7 289.2 209.6 288.4 215.0 288.0C220.4 287.6 228.8 287.4 235.0 287.5C241.2 287.6 248.8 287.7 252.5 288.8C256.2 289.8 257.3 291.9 257.5 293.8C257.7 295.6 253.3 298.5 253.8 300.0C254.2 301.5 257.3 303.5 260.0 302.5C262.7 301.5 266.7 296.9 270.0 293.8C273.3 290.6 276.7 286.5 280.0 283.8C283.3 281.0 286.7 279.0 290.0 277.5C293.3 276.0 296.2 275.0 300.0 275.0C303.8 275.0 308.8 276.7 312.5 277.5C316.2 278.3 318.8 280.0 322.5 280.0C326.2 280.0 330.4 278.8 335.0 277.5C339.6 276.2 345.0 274.4 350.0 272.5C355.0 270.6 360.0 268.5 365.0 266.2C370.0 264.0 375.4 261.0 380.0 258.8C384.6 256.5 388.8 254.4 392.5 252.5C396.2 250.6 398.8 249.0 402.5 247.5C406.2 246.0 411.7 243.8 415.0 243.8C418.3 243.8 420.8 245.8 422.5 247.5C424.2 249.2 425.4 251.2 425.0 253.8C424.6 256.2 422.3 259.4 420.0 262.5C417.7 265.6 414.2 269.2 411.2 272.5C408.3 275.8 405.2 279.2 402.5 282.5C399.8 285.8 397.5 289.2 395.0 292.5C392.5 295.8 390.4 299.6 387.5 302.5C384.6 305.4 381.2 307.9 377.5 310.0C373.8 312.1 369.2 313.8 365.0 315.0C360.8 316.2 356.7 316.7 352.5 317.5C348.3 318.3 342.1 318.8 340.0 320.0C337.9 321.2 341.7 324.0 340.0 325.0C338.3 326.0 333.3 326.5 330.0 326.2C326.7 326.0 323.3 323.8 320.0 323.8C316.7 323.8 313.3 325.6 310.0 326.2C306.7 326.9 303.8 327.1 300.0 327.5C296.2 327.9 291.5 328.8 287.5 328.8C283.5 328.8 280.0 328.3 276.2 327.5C272.5 326.7 268.1 325.4 265.0 323.8C261.9 322.1 260.4 319.0 257.5 317.5C254.6 316.0 251.2 315.0 247.5 315.0C243.8 315.0 238.8 316.2 235.0 317.5C231.2 318.8 228.3 320.8 225.0 322.5C221.7 324.2 217.9 325.4 215.0 327.5C212.1 329.6 210.0 332.9 207.5 335.0C205.0 337.1 202.9 339.6 200.0 340.0C197.1 340.4 192.9 338.8 190.0 337.5C187.1 336.2 185.0 332.9 182.5 332.5C180.0 332.1 177.9 333.8 175.0 335.0C172.1 336.2 168.3 338.8 165.0 340.0C161.7 341.2 158.0 342.0 155.0 342.5C152.0 343.0 150.9 342.9 146.8 343.0C142.6 343.1 132.8 352.5 130.0 343.0C127.2 333.5 127.2 295.7 130.0 286.2Z" fill="#ff1801" stroke="#3a2a00" stroke-opacity="0.45" stroke-width="0.5"/>
<path d="M157.5 301.2C159.4 300.4 164.6 299.7 170.0 299.5C175.4 299.3 182.9 299.3 190.0 300.0C197.1 300.7 205.4 302.5 212.5 303.8C219.6 305.0 230.0 306.2 232.5 307.5C235.0 308.8 231.2 310.6 227.5 311.2C223.8 311.9 216.2 312.0 210.0 311.2C203.8 310.5 196.7 308.0 190.0 307.0C183.3 306.0 175.2 305.9 170.0 305.5C164.8 305.1 160.8 305.2 158.8 304.5C156.7 303.8 155.6 302.1 157.5 301.2Z" fill="#eb0107" stroke="#3a2a00" stroke-opacity="0.45" stroke-width="0.5"/>
<path d="M281.2 280.0C282.5 277.5 286.9 275.8 290.0 275.0C293.1 274.2 297.9 274.0 300.0 275.0C302.1 276.0 303.3 279.2 302.5 281.2C301.7 283.3 297.5 285.4 295.0 287.5C292.5 289.6 289.6 293.3 287.5 293.8C285.4 294.2 283.5 292.3 282.5 290.0C281.5 287.7 280.0 282.5 281.2 280.0Z" fill="#eb0107" stroke="#3a2a00" stroke-opacity="0.45" stroke-width="0.5"/>
<path d="M315.0 286.2C317.3 284.6 321.2 281.9 325.0 281.2C328.8 280.6 335.0 281.2 337.5 282.5C340.0 283.8 340.8 286.5 340.0 288.8C339.2 291.0 334.8 294.0 332.5 296.2C330.2 298.5 327.5 300.0 326.2 302.5C325.0 305.0 326.9 308.8 325.0 311.2C323.1 313.8 318.3 316.2 315.0 317.5C311.7 318.8 307.1 319.6 305.0 318.8C302.9 317.9 301.2 314.6 302.5 312.5C303.8 310.4 310.4 308.8 312.5 306.2C314.6 303.8 315.2 300.0 315.0 297.5C314.8 295.0 311.2 293.1 311.2 291.2C311.2 289.4 312.7 287.9 315.0 286.2Z" fill="#eb0107" stroke="#3a2a00" stroke-opacity="0.45" stroke-width="0.5"/>
<path d="M266.2 321.2C267.7 320.2 273.8 319.4 276.2 320.0C278.8 320.6 281.5 323.5 281.2 325.0C281.0 326.5 277.3 328.5 275.0 328.8C272.7 329.0 269.0 327.5 267.5 326.2C266.0 325.0 264.8 322.3 266.2 321.2Z" fill="#eb0107" stroke="#3a2a00" stroke-opacity="0.45" stroke-width="0.5"/>
<path d="M290.0 308.8C291.1 308.1 295.4 309.0 296.2 310.0C297.1 311.0 296.1 314.4 295.0 315.0C293.9 315.6 290.3 314.8 289.5 313.8C288.7 312.7 288.9 309.4 290.0 308.8Z" fill="#eb0107" stroke="#3a2a00" stroke-opacity="0.45" stroke-width="0.5"/>
<path d="M350.0 291.2C350.8 288.5 356.2 285.4 360.0 283.8C363.8 282.1 369.2 281.0 372.5 281.2C375.8 281.5 379.6 282.9 380.0 285.0C380.4 287.1 377.5 291.5 375.0 293.8C372.5 296.0 368.3 297.7 365.0 298.8C361.7 299.8 357.5 301.2 355.0 300.0C352.5 298.8 349.2 294.0 350.0 291.2Z" fill="#eb0107" stroke="#3a2a00" stroke-opacity="0.45" stroke-width="0.5"/>
<path d="M395.0 255.0C396.2 252.3 402.1 251.2 405.0 251.2C407.9 251.2 412.5 252.7 412.5 255.0C412.5 257.3 407.5 262.9 405.0 265.0C402.5 267.1 399.2 269.2 397.5 267.5C395.8 265.8 393.8 257.7 395.0 255.0Z" fill="#eb0107" stroke="#3a2a00" stroke-opacity="0.45" stroke-width="0.5"/>
<path d="M214.65 109.5V516.5M282.55 109.5V516.5M350.45 109.5V516.5M418.35 109.5V516.5M486.25 109.5V516.5M146.75 448.66H554.25M146.75 380.83H554.25M146.75 313.00H554.25M146.75 245.16H554.25M146.75 177.32H554.25" stroke="#888" stroke-width="1" stroke-dasharray="9 4" fill="none" opacity="0.75"/>
<path d="M296.0 133.8L294.0 134.3L291.9 136.0L290.0 140.0L289.7 142.0L290.0 144.8L291.7 148.0L294.0 149.7L296.0 150.4L300.0 150.9L303.1 150.0L304.8 148.0L305.9 144.0L305.7 140.0L304.0 137.0L302.0 135.5L298.4 134.0L296.0 133.8M296.0 118.0L294.0 118.4L290.2 120.0L288.0 121.2L286.0 122.4L283.8 124.0L281.2 126.0L279.1 128.0L277.5 130.0L276.0 132.6L274.3 136.0L273.3 138.0L272.0 141.5L271.7 144.0L272.0 146.0L274.0 149.7L276.0 152.0L277.5 154.0L278.7 156.0L280.0 158.6L282.0 162.0L284.0 163.9L286.0 165.1L289.2 166.0L292.0 166.3L296.0 166.6L300.0 166.7L302.9 166.0L306.0 164.7L308.0 163.5L310.4 162.0L313.2 160.0L315.6 158.0L317.5 156.0L319.2 154.0L320.6 152.0L322.1 150.0L324.0 147.1L324.7 144.0L324.0 141.5L322.1 138.0L321.1 136.0L320.0 133.4L318.6 130.0L317.5 128.0L316.0 125.8L314.0 123.8L311.1 122.0L308.0 120.8L305.3 120.0L302.0 118.8L298.7 118.0L296.0 118.0M285.5 104.0L282.0 105.2L279.1 106.0L276.0 107.1L273.9 108.0L271.0 110.0L268.8 112.0L267.0 114.0L264.9 116.0L262.8 118.0L260.8 120.0L259.3 122.0L258.0 124.4L256.5 128.0L255.5 130.0L254.0 132.5L252.1 136.0L252.0 138.0L252.2 140.0L252.7 144.0L252.4 148.0L252.3 152.0L254.0 155.9L255.8 158.0L257.6 160.0L259.1 162.0L260.1 164.0L261.7 168.0L262.8 170.0L264.5 172.0L267.2 174.0L270.0 175.3L272.0 176.2L275.1 178.0L277.4 180.0L279.9 182.0L282.0 183.1L286.0 184.0L288.0 184.1L292.0 184.3L296.0 184.9L300.0 185.2L304.0 184.4L306.0 183.6L308.8 182.0L312.0 180.5L314.0 179.9L318.0 179.1L322.0 178.0L324.0 177.1L326.0 175.9L328.2 174.0L330.3 172.0L333.1 170.0L336.0 168.3L338.0 167.1L340.0 165.5L342.0 163.3L343.9 160.0L344.7 158.0L346.0 155.9L348.0 153.3L349.3 150.0L349.5 146.0L349.8 142.0L350.0 140.0L350.0 137.5L348.7 134.0L347.2 132.0L345.3 130.0L343.4 128.0L341.8 126.0L340.0 123.4L338.0 120.2L336.6 118.0L335.0 116.0L333.1 114.0L330.4 112.0L328.0 110.8L326.0 109.7L323.2 108.0L320.1 106.0L318.0 105.0L314.5 104.0M250.8 104.0L248.5 106.0L246.6 108.0L244.9 110.0L242.4 112.0L240.0 113.7L238.0 115.2L236.0 117.0L234.0 119.3L232.0 122.0L231.2 124.0L229.6 126.0L227.9 128.0L226.1 132.0L225.8 134.0L224.7 138.0L224.0 140.0L223.7 144.0L224.0 146.5L226.0 149.7L227.6 152.0L228.4 154.0L228.8 158.0L230.0 160.8L231.9 164.0L233.9 166.0L236.0 167.8L238.0 169.5L240.0 171.6L242.0 174.0L243.9 176.0L246.0 178.0L248.0 179.1L250.0 180.2L253.2 182.0L255.7 184.0L257.5 186.0L259.4 188.0L262.0 189.9L264.0 190.9L266.0 192.0L270.0 193.2L272.0 194.1L276.0 196.0L278.0 196.4L281.6 198.0L284.0 198.3L288.0 199.3L290.0 200.1L294.0 200.6L298.0 200.7L302.0 200.3L304.6 200.0L308.0 198.9L312.0 198.2L314.0 198.0L318.0 196.5L320.4 196.0L324.0 194.6L326.7 194.0L330.0 192.5L332.0 191.6L334.9 190.0L338.0 188.1L340.0 187.0L342.8 186.0L346.0 184.6L348.0 183.7L351.1 182.0L354.0 180.1L356.0 178.5L358.0 177.2L360.9 176.0L364.0 174.5L366.0 173.3L368.0 172.0L370.3 170.0L372.1 168.0L374.0 165.3L376.0 163.4L378.3 162.0L381.1 160.0L382.2 158.0L383.6 154.0L385.6 152.0L388.0 150.5L389.4 148.0L390.4 146.0L390.5 142.0L389.9 140.0L388.0 136.7L386.0 135.2L384.9 132.0L384.0 129.3L382.1 126.0L380.0 124.0L378.0 122.8L376.0 121.7L373.2 120.0L370.4 118.0L368.3 116.0L366.1 114.0L364.0 112.9L362.0 111.6L360.0 109.9L356.8 108.0L354.1 106.0L352.0 105.2L350.5 104.0M241.8 104.0L239.0 106.0L236.1 108.0L234.0 109.5L232.0 111.1L230.0 113.0L228.0 115.3L226.0 117.7L224.1 120.0L222.1 122.0L220.1 124.0L218.3 126.0L217.0 128.0L216.0 130.6L214.7 134.0L213.9 136.0L212.1 140.0L211.6 142.0L211.8 146.0L212.5 148.0L214.0 150.9L215.6 154.0L216.5 156.0L218.0 159.1L219.6 162.0L221.0 164.0L223.0 166.0L225.3 168.0L227.7 170.0L229.9 172.0L231.8 174.0L233.8 176.0L235.9 178.0L238.0 179.6L240.0 181.0L242.0 182.3L244.6 184.0L247.8 186.0L250.0 187.3L252.0 188.6L254.0 190.0L256.9 192.0L260.0 194.0L262.0 195.1L264.0 196.0L268.0 197.7L270.0 198.5L273.4 200.0L276.0 201.2L278.5 202.0L282.0 202.9L286.0 203.7L288.0 204.2L292.0 204.9L296.0 205.3L300.0 205.2L304.0 204.7L308.0 204.1L310.0 203.8L314.0 203.0L317.7 202.0L320.0 201.3L323.8 200.0L326.0 199.2L329.3 198.0L332.0 197.0L334.2 196.0L338.0 194.2L340.0 193.3L342.5 192.0L346.0 190.3L348.0 189.4L351.1 188.0L354.0 186.6L356.0 185.6L359.1 184.0L362.0 182.5L364.0 181.5L366.9 180.0L370.0 178.3L372.0 177.1L374.0 175.9L377.3 174.0L380.0 172.6L382.0 171.6L385.1 170.0L388.0 168.0L390.0 166.3L392.0 164.2L393.7 162.0L395.0 160.0L396.1 158.0L398.0 154.1L398.9 152.0L399.8 148.0L400.1 146.0L400.3 142.0L400.1 138.0L399.7 136.0L398.4 132.0L397.5 130.0L396.0 127.2L394.0 124.4L392.0 122.3L390.0 120.7L388.0 119.2L386.0 117.8L383.5 116.0L380.6 114.0L378.0 112.4L376.0 111.1L374.0 109.8L371.1 108.0L368.0 106.3L366.0 105.2L363.5 104.0M229.7 104.0L227.2 106.0L224.8 108.0L222.2 110.0L220.0 111.2L218.0 112.4L215.5 114.0L212.9 116.0L210.7 118.0L208.7 120.0L206.7 122.0L204.9 124.0L203.3 126.0L202.0 128.0L200.0 130.4L198.0 133.6L196.9 136.0L197.3 140.0L197.8 144.0L197.7 148.0L198.0 151.2L198.6 154.0L200.1 156.0L202.0 158.3L204.0 160.7L206.0 162.8L208.0 164.8L210.0 166.6L212.0 168.2L214.2 170.0L216.5 172.0L219.2 174.0L222.0 175.9L224.0 177.7L226.0 179.7L228.0 181.5L230.0 182.9L232.0 184.1L236.0 186.0L238.0 187.3L240.0 188.4L242.6 190.0L246.0 192.0L248.0 193.3L250.0 194.1L253.5 196.0L256.0 197.5L258.0 198.8L260.6 200.0L264.0 201.7L266.0 202.7L269.3 204.0L272.0 205.7L274.0 206.5L278.0 207.9L280.0 208.1L284.0 208.8L288.0 209.4L292.0 209.9L294.0 210.2L298.0 210.3L300.7 210.0L304.0 209.8L308.0 209.4L312.0 208.7L315.0 208.0L318.0 207.7L322.0 206.8L324.0 206.0L328.0 204.2L330.0 203.5L333.4 202.0L336.0 201.4L339.9 200.0L342.0 199.4L344.7 198.0L348.0 196.1L350.0 195.4L352.7 194.0L356.0 193.1L358.9 192.0L362.0 190.8L364.0 189.9L367.2 188.0L370.0 186.5L372.0 185.4L374.6 184.0L378.0 182.8L380.0 181.8L384.0 180.5L386.0 179.7L388.6 178.0L391.1 176.0L393.4 174.0L395.6 172.0L398.0 170.1L400.0 168.6L402.0 166.9L404.0 164.7L405.8 162.0L406.9 160.0L408.0 157.3L409.4 154.0L409.8 150.0L409.8 146.0L410.1 144.0L411.2 140.0L411.4 136.0L410.0 132.6L408.0 130.0L407.1 128.0L405.8 126.0L404.0 122.4L403.0 120.0L401.6 118.0L399.9 116.0L397.8 114.0L395.0 112.0L392.0 110.4L390.0 109.0L387.8 108.0L384.0 106.0L382.0 105.0L379.2 104.0M195.1 104.0L192.2 106.0L190.0 107.3L188.0 108.2L184.0 109.9L182.0 110.9L180.0 112.1L177.3 114.0L175.0 116.0L173.1 118.0L171.4 120.0L170.0 122.0L168.0 125.5L167.2 128.0L166.7 132.0L166.0 135.1L164.7 138.0L163.8 140.0L163.1 144.0L164.0 147.7L164.9 150.0L166.0 153.3L166.5 156.0L167.0 160.0L168.0 162.5L170.0 164.7L172.0 166.1L175.4 168.0L177.9 170.0L179.6 172.0L180.9 174.0L182.4 176.0L185.6 178.0L188.0 178.5L192.0 179.8L194.0 180.9L196.0 182.3L198.4 184.0L201.5 186.0L204.0 187.3L206.0 188.4L208.8 190.0L212.0 191.5L214.0 192.3L218.0 193.6L220.0 194.3L223.9 196.0L226.0 197.1L228.0 198.1L232.0 199.8L234.0 200.6L236.9 202.0L240.0 203.4L242.0 204.1L246.0 205.3L248.2 206.0L252.0 207.9L254.0 209.3L256.0 210.8L258.2 212.0L262.0 213.3L264.8 214.0L268.0 215.0L270.4 216.0L274.0 217.5L276.0 218.1L280.0 219.0L284.0 219.9L286.0 220.4L290.0 221.2L294.0 221.4L298.0 221.3L302.0 221.3L306.0 220.9L310.0 220.0L312.0 219.5L316.0 218.5L319.0 218.0L322.0 217.5L326.0 216.4L328.0 215.7L332.0 214.3L334.0 213.6L338.0 212.6L340.4 212.0L344.0 210.7L346.0 209.7L349.6 208.0L352.0 207.2L356.0 206.5L359.0 206.0L362.0 205.2L364.5 204.0L367.7 202.0L370.0 200.6L372.0 199.8L376.0 199.1L380.0 198.7L382.6 198.0L386.0 196.6L388.0 195.5L391.0 194.0L394.0 192.8L396.1 192.0L400.0 190.2L402.0 188.9L404.0 187.5L406.0 185.8L408.1 184.0L410.3 182.0L412.7 180.0L415.1 178.0L417.3 176.0L419.0 174.0L420.3 172.0L421.8 168.0L422.5 166.0L424.0 162.9L425.6 160.0L426.5 158.0L427.6 154.0L428.0 151.9L428.6 148.0L428.9 144.0L428.7 140.0L428.4 136.0L428.4 132.0L428.0 128.4L427.0 126.0L425.8 124.0L424.0 121.4L422.1 118.0L421.2 116.0L420.0 113.3L418.2 110.0L416.5 108.0L414.1 106.0L412.0 104.7L411.1 104.0M160.9 104.0L158.8 106.0L157.2 108.0L156.0 110.7L154.4 114.0L152.9 116.0L150.9 118.0L149.2 120.0L148.0 122.2L147.3 126.0L146.5 130.0L146.0 132.5L145.1 136.0L145.1 140.0L145.1 144.0L144.1 148.0L143.5 150.0L144.0 154.0L145.2 156.0L146.6 158.0L148.0 160.2L149.1 164.0L149.5 168.0L150.1 170.0L152.0 172.1L154.6 174.0L156.9 176.0L158.5 178.0L160.0 180.3L162.0 183.9L163.5 186.0L166.0 187.7L168.0 188.6L171.2 190.0L174.0 192.0L176.0 194.0L177.6 196.0L180.0 197.5L184.0 197.6L186.6 198.0L190.0 199.6L192.0 200.6L194.8 202.0L198.0 203.3L200.0 204.0L204.0 205.9L206.0 207.0L208.1 208.0L212.0 208.8L216.0 209.2L219.4 210.0L222.0 210.8L226.0 211.8L228.0 212.4L232.0 213.8L234.0 215.1L236.0 216.1L240.0 217.7L243.0 218.0L246.0 218.6L249.9 220.0L252.0 221.2L254.0 222.3L257.9 224.0L260.0 225.0L263.3 226.0L266.0 227.4L268.0 228.3L272.0 229.8L274.0 230.0L278.0 230.2L282.0 231.0L285.8 232.0L288.0 232.6L292.0 233.1L296.0 233.1L300.0 232.3L302.0 231.9L306.0 231.3L310.0 230.7L314.0 230.3L316.2 230.0L320.0 229.5L324.0 228.4L326.0 227.8L330.0 227.2L334.0 226.6L336.1 226.0L340.0 224.2L342.0 223.3L345.5 222.0L348.0 221.5L352.0 221.6L356.0 221.4L359.4 220.0L362.0 218.4L364.0 217.4L367.8 216.0L370.0 215.6L374.0 215.3L378.0 214.1L380.0 213.6L384.0 212.6L386.9 212.0L390.0 211.8L394.0 210.3L396.0 209.2L398.0 207.8L401.6 206.0L404.0 205.2L407.5 204.0L410.0 202.9L412.0 201.7L414.0 199.9L416.0 198.0L418.7 196.0L422.0 194.2L424.0 193.0L426.0 191.3L427.8 188.0L428.4 186.0L430.0 183.0L432.0 180.7L434.0 178.8L436.0 176.3L437.5 174.0L438.5 172.0L440.0 169.2L442.0 166.4L444.0 164.2L445.1 162.0L444.9 158.0L445.2 154.0L446.0 151.0L447.1 148.0L447.5 144.0L446.8 140.0L446.0 137.0L445.6 134.0L445.6 130.0L444.7 126.0L443.9 124.0L442.0 120.6L441.0 118.0L440.0 116.0L439.0 112.0L438.0 109.4L436.0 106.0L434.1 104.0M140.0 200.9L142.0 202.1L146.0 203.7L148.0 204.7L150.0 206.4L152.0 208.7L154.0 210.9L156.0 212.5L159.1 214.0L162.0 215.0L164.6 216.0L167.4 218.0L169.2 220.0L171.0 222.0L174.0 223.6L178.0 223.3L182.0 223.2L185.1 224.0L188.0 225.1L190.7 226.0L194.0 227.2L196.2 228.0L200.0 229.7L202.0 230.2L206.0 230.4L210.0 230.6L214.0 231.7L216.0 232.3L220.0 233.2L224.0 233.6L226.0 234.0L230.0 235.6L232.0 236.7L236.0 237.6L240.0 237.8L242.0 238.0L246.0 239.6L248.0 240.8L250.2 242.0L254.0 243.5L256.9 244.0L260.0 244.8L263.4 246.0L266.0 247.0L270.0 247.9L272.0 248.2L276.0 248.9L280.0 249.8L282.0 250.2L286.0 250.7L290.0 251.1L294.0 251.6L298.0 251.8L302.0 251.2L306.0 250.2L308.0 249.8L312.0 249.3L316.0 248.8L320.0 248.1L322.0 247.7L326.0 247.3L330.0 247.2L334.0 246.4L336.0 245.7L340.0 244.2L342.0 243.5L346.0 243.0L350.0 243.0L354.0 242.0L356.0 241.5L360.0 240.4L363.1 240.0L366.0 239.8L370.0 239.2L373.1 238.0L376.0 237.0L380.0 236.3L384.0 236.3L386.6 236.0L390.0 235.1L393.0 234.0L396.0 233.2L400.0 232.3L402.0 231.9L405.9 230.0L408.0 228.4L410.0 227.0L412.0 226.0L416.0 225.0L420.0 224.1L422.0 223.1L424.0 221.4L426.0 218.9L428.0 216.5L430.0 214.9L432.0 213.9L436.0 212.7L438.7 212.0L441.9 210.0L443.6 208.0L445.3 206.0L447.5 204.0L450.0 202.2L452.0 200.7L454.0 198.4L455.0 196.0L456.0 193.1L457.7 190.0L460.0 188.6L464.0 188.9L466.0 190.3L466.7 188.0L468.0 184.6L468.5 182.0L470.0 178.8L472.1 178.0L474.0 175.9L476.0 176.3L480.0 176.3L483.9 178.0L484.1 178.0L486.0 175.6L487.4 172.0L486.0 168.2L482.3 168.0L480.0 167.1L478.0 165.7L475.6 164.0L476.0 161.2L478.0 160.0L478.0 158.0L478.9 156.0L478.0 152.2L477.5 150.0L480.0 149.4L480.0 152.0L482.0 154.0L484.0 153.7L487.4 154.0L485.2 156.0L486.0 158.0L488.3 160.0L491.2 162.0L492.2 162.0L491.1 160.0L490.2 156.0L490.9 152.0L492.0 149.9L494.0 147.5L494.3 144.0L492.0 142.4L488.0 142.7L486.0 141.9L482.0 140.1L480.0 142.4L479.5 140.0L480.1 138.0L479.4 136.0L480.1 134.0L480.0 131.8L478.0 128.3L476.0 127.8L474.0 128.2L472.0 128.0L472.4 126.0L472.0 124.0L471.7 120.0L470.5 116.0L470.0 114.0L468.2 110.0L467.1 108.0L465.9 106.0L464.7 104.0M514.0 115.9L512.0 116.5L510.0 119.9L510.0 120.1L512.0 122.4L514.0 124.5L514.5 122.0L516.0 120.0L516.0 116.7L514.0 115.9M496.0 125.4L496.0 126.3L496.0 125.4M512.0 135.2L510.0 137.5L509.6 140.0L507.1 142.0L508.9 144.0L511.0 144.0L511.6 140.0L512.6 138.0L512.0 135.2M508.0 147.5L508.0 149.1L508.0 147.5M508.0 155.9L507.1 158.0L508.0 160.2L509.1 158.0L510.2 156.0L508.0 155.9M506.0 161.8L506.0 162.1L506.0 161.8M515.4 104.0L516.8 106.0L520.0 106.4L522.0 104.2L522.1 104.0M551.5 104.0L554.0 104.5L554.3 104.0M140.0 236.3L144.0 237.6L146.0 238.9L148.0 240.4L151.3 242.0L154.0 242.7L158.0 243.6L160.0 244.5L162.6 246.0L166.0 247.9L168.0 248.7L172.0 249.1L176.0 249.4L178.7 250.0L182.0 250.9L186.0 251.9L188.0 252.5L192.0 254.0L194.0 254.8L198.0 255.5L202.0 255.6L204.6 256.0L208.0 257.7L210.0 258.8L214.0 259.8L218.0 259.6L222.0 259.9L224.0 260.6L227.0 262.0L230.0 262.5L233.7 262.0L236.0 261.8L238.2 262.0L242.0 263.4L244.0 264.6L247.9 266.0L248.8 266.0L252.0 265.9L254.0 266.1L258.0 267.4L260.0 268.1L264.0 269.4L268.0 269.9L270.0 270.1L274.0 270.6L278.0 270.4L282.0 270.5L286.0 271.8L288.0 272.9L290.4 274.0L294.0 274.4L296.0 274.0L300.0 272.9L304.0 272.5L308.0 272.8L312.0 272.6L315.1 272.0L318.0 271.4L322.0 271.1L326.0 270.9L328.9 270.0L332.0 269.1L335.1 268.0L338.0 267.4L342.0 267.3L346.0 267.4L350.0 266.9L354.0 266.1L356.0 265.9L360.0 265.3L363.0 264.0L366.0 262.9L368.9 262.0L372.0 261.8L374.9 262.0L378.0 262.5L382.0 262.4L384.1 262.0L388.0 260.8L392.0 260.0L394.0 259.7L398.0 258.3L400.0 257.4L402.7 256.0L406.0 254.8L410.0 254.3L414.0 254.2L416.0 253.7L418.7 252.0L420.6 250.0L422.6 248.0L425.4 246.0L428.0 245.1L432.0 245.0L436.0 244.2L438.0 243.0L440.0 240.9L442.0 238.6L444.0 237.2L448.0 236.3L452.0 236.9L456.0 237.3L460.0 236.0L460.0 234.3L459.8 232.0L460.6 230.0L461.7 226.0L463.4 224.0L465.0 222.0L468.0 221.8L468.8 224.0L469.3 228.0L471.0 230.0L470.0 232.7L468.0 234.8L467.9 238.0L468.9 238.0L470.2 238.0L472.6 240.0L476.0 241.9L478.0 242.5L482.0 244.0L482.0 244.0L484.7 242.0L482.0 241.5L481.1 238.0L480.9 234.0L479.5 232.0L480.0 228.3L481.1 226.0L480.7 222.0L481.2 218.0L484.0 216.1L486.0 215.7L488.0 213.3L490.9 212.0L490.0 208.7L487.4 208.0L485.4 206.0L483.8 204.0L484.0 200.8L484.7 198.0L486.6 196.0L488.1 194.0L487.9 192.0L488.0 188.8L488.5 186.0L490.0 183.5L490.0 181.1L489.3 178.0L490.2 176.0L491.5 172.0L494.0 170.3L496.0 169.3L500.0 168.6L503.2 170.0L506.0 170.8L507.7 168.0L510.0 166.1L510.9 164.0L511.9 160.0L512.4 160.0L515.2 160.0L516.0 157.6L518.0 159.0L522.0 159.0L526.0 158.1L528.0 156.2L529.2 154.0L526.5 152.0L525.3 152.0L522.0 153.7L518.7 152.0L516.0 151.3L512.8 150.0L514.0 146.9L515.3 144.0L516.0 141.1L519.1 140.0L517.8 138.0L520.0 137.9L522.0 138.5L524.0 137.7L526.0 138.5L528.0 141.9L530.0 142.4L531.3 140.0L529.4 138.0L527.5 136.0L524.0 134.8L522.0 132.8L520.9 130.0L518.2 128.0L517.9 126.0L518.7 124.0L520.0 120.6L520.0 118.5L518.8 116.0L517.2 114.0L514.0 113.2L510.0 113.3L507.8 112.0L505.8 112.0L504.0 114.6L502.0 116.3L500.0 114.7L500.0 112.9L501.3 110.0L504.0 108.7L504.0 107.8L504.0 105.6L506.0 106.4L507.4 104.0M536.0 105.0L534.0 106.0L533.2 110.0L531.4 112.0L533.8 114.0L534.1 114.0L536.0 111.4L538.0 109.3L538.0 106.2L536.0 105.0M494.0 107.1L496.0 108.6L496.0 110.3L494.0 108.9L494.0 107.1M502.0 118.8L506.0 119.5L508.0 121.5L510.0 123.3L511.4 126.0L510.0 130.0L508.6 132.0L506.0 133.2L506.0 135.0L506.5 138.0L504.6 138.0L502.3 136.0L501.3 136.0L502.0 138.5L502.0 140.4L500.0 139.7L496.0 138.1L496.0 137.8L498.0 134.6L499.7 132.0L502.0 131.7L502.0 129.4L500.0 126.2L500.0 125.3L500.8 122.0L502.0 118.8M532.0 123.6L530.1 126.0L529.6 128.0L528.0 131.3L527.4 134.0L530.0 135.1L531.7 132.0L534.0 130.9L538.0 131.7L540.0 132.8L542.0 131.9L546.0 131.9L549.7 130.0L549.7 126.0L546.0 125.1L542.0 125.2L538.2 124.0L537.9 124.0L536.0 126.1L534.0 125.2L532.0 123.6M504.0 131.9L504.0 133.7L504.0 131.9M546.0 137.9L546.0 138.2L546.0 137.9M544.0 140.4L544.0 143.7L544.3 146.0L543.3 148.0L545.3 148.0L548.0 147.0L550.8 146.0L550.0 142.5L548.0 141.5L544.0 140.4M536.0 145.1L536.0 146.7L536.0 145.1M500.0 149.6L502.7 150.0L502.5 154.0L503.7 158.0L500.8 160.0L498.0 160.9L496.0 159.1L494.0 156.4L494.0 154.7L494.7 152.0L498.0 150.4L500.0 149.6M534.0 148.4L532.8 152.0L531.3 154.0L532.0 156.1L534.6 158.0L537.4 158.0L538.1 156.0L540.3 154.0L539.6 152.0L537.1 150.0L534.0 148.4M538.0 159.7L538.0 160.1L540.0 162.8L540.3 166.0L538.9 168.0L540.0 170.9L544.0 170.1L546.0 168.1L549.0 170.0L550.6 170.0L552.8 168.0L552.0 165.7L548.6 164.0L546.0 163.8L542.8 162.0L540.7 160.0L538.0 159.7M530.0 170.0L530.0 170.0L530.0 170.0M524.0 171.7L522.1 174.0L525.4 174.0L526.4 172.0L524.0 171.7M532.0 170.4L532.0 172.9L534.0 174.4L536.3 174.0L535.1 172.0L532.0 170.4M530.0 175.5L530.0 176.4L532.2 176.0L530.0 175.5M504.0 177.7L502.1 180.0L500.0 181.5L500.0 182.5L502.0 184.2L505.8 184.0L506.2 184.0L509.8 186.0L512.0 186.3L514.0 184.3L514.8 182.0L512.1 180.0L510.0 179.8L508.0 180.5L508.0 178.0L508.0 178.0L504.0 177.7M548.0 179.5L547.8 182.0L550.0 182.0L550.0 182.0L548.0 179.5M496.0 183.7L495.4 186.0L498.0 186.0L498.0 185.7L496.0 183.7M546.0 186.9L544.0 188.1L542.0 190.0L540.0 188.9L536.0 189.4L533.1 190.0L530.0 190.3L528.0 189.9L528.0 190.3L529.9 194.0L532.0 195.0L536.0 195.8L538.0 197.2L540.2 198.0L542.7 200.0L542.0 202.4L540.0 204.7L539.2 208.0L541.4 210.0L542.7 212.0L544.4 212.0L547.2 210.0L546.6 206.0L547.3 202.0L546.0 198.6L544.0 198.0L546.0 197.7L548.0 195.7L548.9 192.0L548.9 188.0L546.0 186.9M520.0 193.4L518.0 194.9L515.5 196.0L516.0 199.0L518.0 200.5L520.5 202.0L522.9 202.0L520.9 200.0L519.7 198.0L520.3 196.0L520.0 193.4M526.0 205.7L526.0 206.2L528.0 206.0L526.0 205.7M470.0 207.9L472.0 209.8L472.0 210.4L470.0 212.7L468.0 212.0L469.3 210.0L470.0 207.9M500.0 209.3L500.0 210.8L500.0 209.3M536.0 209.2L536.0 210.4L536.0 209.2M506.0 213.7L505.1 216.0L506.3 218.0L505.0 220.0L506.0 222.5L508.7 222.0L510.1 220.0L508.8 218.0L508.5 214.0L506.0 213.7M542.0 213.6L542.0 214.1L542.0 213.6M490.0 217.9L490.0 218.3L490.0 217.9M514.0 217.5L514.0 218.8L514.0 217.5M538.0 217.1L538.0 219.4L539.5 222.0L537.1 224.0L537.9 228.0L540.0 229.0L542.1 228.0L541.7 226.0L542.0 222.1L542.0 221.9L540.0 219.2L538.0 217.1M486.0 221.4L486.0 222.8L488.0 224.5L490.5 224.0L489.0 222.0L486.0 221.4M492.0 225.6L492.0 226.4L492.0 225.6M558.0 112.0L556.8 110.0L556.9 106.0L557.4 104.0M558.0 142.5L556.4 140.0L554.0 138.6L551.8 138.0L550.8 134.0L553.0 132.0L553.3 128.0L552.8 124.0L551.3 122.0L548.0 120.0L548.0 119.8L552.0 119.5L555.1 120.0L558.0 121.4M558.0 159.9L556.0 160.5L553.9 160.0L550.0 159.6L548.0 160.7L546.0 159.8L545.6 156.0L545.8 152.0L546.3 152.0L550.0 153.2L554.0 153.1L556.0 151.3L557.6 148.0L558.0 145.2M558.0 177.7L556.0 176.0L553.2 174.0L554.0 170.9L555.9 168.0L558.0 167.7M558.0 228.7L555.9 230.0L558.0 231.1M140.0 275.2L143.1 276.0L144.8 276.0L148.0 275.7L152.0 275.9L154.0 276.7L156.2 278.0L159.4 280.0L162.0 281.2L164.5 282.0L168.0 282.9L172.0 283.2L176.0 282.9L180.0 283.1L182.4 284.0L185.4 286.0L187.9 288.0L190.0 289.0L194.0 289.6L196.3 290.0L200.0 291.1L203.9 292.0L204.3 292.0L208.0 291.6L212.0 290.9L216.0 291.0L218.5 292.0L222.0 293.9L224.0 294.3L226.0 294.0L230.0 293.2L233.0 294.0L236.0 295.2L240.0 295.9L244.0 295.4L248.0 294.8L252.0 294.9L256.0 295.6L258.0 296.2L261.8 298.0L263.9 300.0L265.6 302.0L268.0 303.1L272.0 302.4L274.0 301.6L278.0 301.2L281.0 302.0L284.0 302.9L288.0 303.3L292.0 302.9L296.0 302.7L300.0 303.3L304.0 303.3L308.0 302.3L310.0 301.8L312.7 302.0L316.0 304.0L318.0 304.9L322.0 304.6L324.0 303.3L326.0 301.9L330.0 300.3L334.0 300.1L337.9 300.0L340.0 299.6L344.0 298.4L346.0 297.9L350.0 297.3L354.0 296.9L357.1 296.0L360.0 294.8L362.0 294.0L366.0 293.1L370.0 293.1L374.0 293.0L378.0 292.9L382.0 293.5L384.0 294.4L388.0 295.4L390.7 294.0L393.3 292.0L396.0 290.6L400.0 290.3L403.4 292.0L405.7 292.0L408.0 291.1L410.2 290.0L414.0 288.5L417.8 288.0L420.0 287.9L424.0 286.5L426.0 284.3L428.0 282.4L430.0 281.3L434.0 280.0L436.0 279.8L438.3 280.0L442.0 280.3L446.0 280.3L450.0 280.1L452.0 279.3L456.0 278.6L458.0 277.6L460.0 278.6L462.0 277.5L464.8 276.0L466.0 273.2L468.2 274.0L472.0 274.8L475.1 276.0L478.0 277.0L480.0 275.6L482.0 273.8L482.1 270.0L480.6 268.0L482.0 264.9L483.7 262.0L486.0 261.3L488.0 262.1L492.0 262.7L492.0 260.4L488.0 261.8L486.0 258.6L484.0 256.8L482.9 254.0L484.9 252.0L486.2 250.0L488.0 247.8L490.0 248.2L491.9 246.0L494.0 245.9L496.0 242.7L496.0 241.6L492.0 241.7L489.9 240.0L488.0 236.6L487.3 234.0L489.2 232.0L491.1 232.0L492.0 234.0L494.0 236.2L497.0 238.0L499.3 240.0L502.0 241.5L502.6 238.0L505.4 236.0L507.4 234.0L508.0 231.9L510.0 232.6L512.2 234.0L516.0 235.3L519.3 236.0L522.0 237.0L522.0 236.0L522.0 233.4L524.0 232.0L523.4 230.0L524.4 228.0L526.0 225.1L526.3 222.0L529.4 222.0L531.5 224.0L533.4 226.0L534.1 228.0L532.0 229.7L532.0 230.2L534.8 232.0L536.4 234.0L538.0 236.7L540.2 236.0L542.0 233.9L544.0 231.3L544.9 228.0L543.7 226.0L544.1 224.0L544.0 221.1L543.6 218.0L544.9 216.0L546.9 214.0L550.0 213.1L552.0 214.9L554.6 214.0L552.7 212.0L551.0 210.0L552.2 208.0L552.0 204.4L550.0 202.4L550.0 201.3L551.4 198.0L552.1 196.0L551.3 194.0L552.0 191.1L552.0 188.4L552.0 187.2L556.0 186.2L558.0 185.7M544.0 115.3L546.1 116.0L546.0 118.7L544.0 117.5L544.0 115.3M538.0 119.5L538.0 120.9L538.0 119.5M526.0 121.3L526.0 122.4L526.0 121.3M522.0 123.9L524.1 124.0L524.0 126.3L522.0 124.2L522.0 123.9M520.0 143.6L524.0 143.9L524.7 146.0L524.0 149.8L520.9 148.0L518.7 146.0L520.0 143.6M530.0 159.9L532.0 160.5L532.0 163.8L530.8 166.0L528.0 166.2L526.7 164.0L529.3 162.0L530.0 159.9M518.0 165.1L518.0 166.6L518.0 165.1M510.0 169.7L514.0 169.7L516.0 171.2L518.4 172.0L518.0 175.3L516.0 177.3L512.0 177.3L509.5 176.0L507.5 174.0L509.5 172.0L510.0 169.7M496.0 173.8L496.0 174.4L496.0 173.8M498.0 176.0L498.0 176.0L498.0 176.0M534.0 181.1L536.0 182.2L538.7 184.0L538.0 186.2L536.0 185.7L534.0 183.6L534.0 181.1M524.0 183.5L526.1 184.0L526.0 187.1L524.1 190.0L523.3 190.0L521.2 188.0L522.9 186.0L524.0 183.5M504.0 187.9L508.0 187.9L510.0 189.1L510.4 192.0L509.1 194.0L508.0 197.0L505.1 196.0L502.9 194.0L504.0 190.1L504.0 189.2L504.0 187.9M492.0 199.9L494.0 200.4L496.2 202.0L496.0 204.0L494.0 203.4L491.5 202.0L492.0 199.9M516.0 209.9L520.0 208.6L522.0 210.0L524.3 212.0L527.0 214.0L524.0 214.5L522.0 213.6L518.0 212.2L516.0 210.3L516.0 209.9M528.0 215.1L530.0 216.4L530.0 219.9L528.0 217.6L528.0 215.1M494.0 216.9L498.0 217.1L498.0 219.5L496.0 220.7L494.0 219.8L494.0 216.9M502.0 221.4L502.0 223.5L501.9 226.0L498.4 226.0L500.0 222.1L502.0 221.4M518.0 224.3L521.5 226.0L523.0 228.0L520.0 228.6L518.0 231.5L514.2 230.0L516.0 226.9L518.0 224.3M510.0 226.1L510.0 228.8L510.0 226.1M500.0 235.9L500.0 236.1L500.0 235.9M536.0 237.4L535.3 240.0L536.4 242.0L534.6 244.0L536.0 246.6L538.1 246.0L540.0 244.0L540.0 240.4L538.0 238.7L536.0 237.4M552.0 241.4L552.0 243.1L554.0 244.3L554.0 243.0L552.0 241.4M490.0 242.4L490.0 244.5L490.0 242.4M500.0 244.9L500.0 246.8L502.5 246.0L500.0 244.9M512.0 251.4L511.8 254.0L512.0 256.0L516.0 256.9L516.8 254.0L515.1 252.0L512.0 251.4M534.0 253.4L532.5 256.0L530.9 258.0L532.4 260.0L534.3 262.0L536.0 264.1L538.7 264.0L538.0 261.1L536.7 258.0L536.0 254.2L534.0 253.4M478.0 256.7L480.5 258.0L479.5 260.0L478.0 262.0L476.0 260.0L478.0 256.7M496.0 257.9L495.2 260.0L498.0 260.9L498.0 258.8L496.0 257.9M544.0 257.9L544.0 259.5L546.0 261.8L548.0 263.6L550.0 264.3L551.3 262.0L552.2 260.0L551.1 260.0L548.0 260.1L546.0 258.8L544.0 257.9M460.0 262.0L460.0 262.0L460.0 262.0M544.0 263.1L542.0 265.6L541.6 268.0L544.0 268.5L546.0 267.0L546.0 264.1L544.0 263.1M534.0 264.8L533.3 268.0L534.8 268.0L534.0 264.8M526.0 269.3L526.0 271.4L528.0 272.3L529.4 270.0L526.0 269.3M506.0 278.9L506.0 280.7L506.0 278.9M470.0 285.9L469.7 288.0L472.0 289.8L474.0 290.5L476.0 288.9L476.3 286.0L474.5 286.0L472.0 286.2L470.0 285.9M558.0 253.0L556.8 250.0L558.0 248.9M558.0 278.0L556.0 278.4L554.0 276.6L552.0 274.9L552.0 272.5L552.4 270.0L554.0 267.5L555.4 264.0L555.9 260.0L557.0 258.0L556.0 256.0L553.9 254.0L556.0 253.3L558.0 254.8M140.0 316.7L144.0 317.3L148.0 316.2L150.0 315.3L154.0 314.6L157.2 316.0L158.7 318.0L160.0 320.7L162.0 322.6L166.0 323.1L170.0 322.3L172.0 321.9L176.0 321.9L178.0 322.1L180.5 322.0L184.0 321.6L188.0 321.4L190.7 322.0L193.5 324.0L194.9 326.0L196.0 328.0L200.0 328.5L202.0 327.4L206.0 326.1L210.0 326.9L214.0 327.8L216.0 328.1L219.7 328.0L222.0 327.9L226.0 327.9L228.0 328.1L232.0 328.7L236.0 329.8L238.0 331.1L240.0 332.5L244.0 334.0L248.0 333.6L252.0 332.9L256.0 334.0L258.0 334.8L262.0 335.5L266.0 334.4L268.0 333.8L272.0 333.4L274.6 334.0L278.0 335.2L282.0 335.1L286.0 335.3L288.2 336.0L292.0 337.9L294.0 338.4L297.7 338.0L300.0 337.1L303.1 336.0L306.0 335.5L309.5 336.0L312.0 336.6L316.0 337.3L320.0 336.4L322.0 335.4L325.8 334.0L328.0 333.7L332.0 333.4L336.0 333.2L340.0 333.6L344.0 333.8L348.0 332.9L352.0 332.5L356.0 333.7L358.0 334.3L361.3 334.0L364.0 332.1L366.0 330.2L368.0 329.1L372.0 328.8L375.5 330.0L378.0 331.2L382.0 331.6L385.7 330.0L388.0 328.9L390.5 328.0L394.0 328.0L396.0 328.5L400.0 328.5L402.0 327.3L404.0 325.5L406.1 324.0L410.0 322.8L414.0 323.1L418.0 323.3L421.5 322.0L423.6 320.0L425.2 318.0L427.5 316.0L430.0 315.2L434.0 315.3L438.0 315.3L442.0 314.8L444.6 316.0L448.0 317.6L450.0 314.9L450.0 312.8L449.5 310.0L451.1 308.0L454.0 307.0L456.0 305.5L458.1 304.0L462.0 303.5L464.0 305.5L465.9 308.0L463.5 310.0L461.1 312.0L460.0 314.2L460.0 316.7L462.0 318.1L466.0 318.8L467.9 316.0L469.8 314.0L470.0 311.5L472.0 312.2L475.1 312.0L477.1 312.0L480.0 312.2L482.0 312.0L484.0 312.4L486.0 310.9L487.2 308.0L488.0 304.9L488.0 303.3L486.0 301.4L482.0 300.1L480.0 299.4L478.0 297.7L478.0 295.5L480.0 293.0L482.0 291.4L486.0 291.6L488.0 292.8L491.8 292.0L492.7 290.0L494.0 286.7L494.0 285.2L494.0 282.5L496.2 282.0L498.0 279.6L500.0 277.0L500.8 280.0L502.0 283.6L503.9 286.0L505.0 288.0L507.1 290.0L505.6 292.0L504.0 294.3L502.0 296.7L499.4 298.0L500.0 300.0L499.9 302.0L502.0 302.1L504.4 302.0L508.0 300.2L510.0 299.6L513.9 298.0L513.7 294.0L514.1 292.0L513.1 290.0L511.8 288.0L513.4 286.0L514.5 284.0L514.2 280.0L515.3 276.0L516.3 274.0L520.0 272.1L522.0 274.2L525.4 276.0L527.2 276.0L528.8 276.0L527.8 278.0L528.9 280.0L530.1 282.0L528.0 282.7L524.0 283.0L521.9 284.0L522.1 286.0L520.0 287.8L520.0 288.1L522.0 291.8L522.0 292.7L522.0 295.1L524.0 293.5L526.3 294.0L529.4 294.0L532.0 292.3L534.0 291.6L536.0 292.9L538.0 294.1L542.0 294.9L542.5 292.0L543.4 288.0L543.9 284.0L544.2 284.0L548.0 284.3L550.0 283.6L554.0 282.2L558.0 283.5M548.0 219.2L550.8 220.0L552.6 222.0L554.2 224.0L552.0 225.2L548.0 225.2L546.0 222.4L546.0 221.6L548.0 219.2M510.0 239.6L512.0 240.4L514.0 240.0L517.0 240.0L515.6 242.0L514.0 244.5L512.0 243.5L509.2 242.0L510.0 239.6M524.0 241.1L526.0 243.6L526.0 244.2L523.3 244.0L524.0 241.1M516.0 244.6L516.0 246.1L516.0 244.6M524.0 246.8L526.0 248.7L526.0 251.8L525.5 254.0L526.7 256.0L528.1 258.0L529.2 262.0L528.0 264.8L526.0 266.2L523.6 266.0L520.0 265.3L518.8 262.0L520.0 259.9L520.1 256.0L521.2 252.0L522.0 248.4L524.0 246.8M542.0 246.5L544.3 248.0L548.0 249.4L550.5 250.0L548.5 252.0L546.0 252.5L544.0 255.0L540.0 254.9L538.6 252.0L537.8 250.0L540.0 249.0L542.0 246.5M504.0 250.9L506.0 252.0L508.2 254.0L508.0 257.3L508.0 259.6L510.0 261.0L512.0 263.2L513.4 266.0L511.0 266.0L509.4 266.0L508.0 269.0L506.0 271.1L504.6 274.0L502.0 275.4L499.2 274.0L497.3 274.0L495.0 274.0L493.4 272.0L491.1 270.0L489.9 268.0L492.0 266.9L494.0 265.6L496.0 266.2L498.8 266.0L502.0 264.1L503.0 262.0L502.4 258.0L502.9 254.0L504.0 250.9M486.0 269.6L486.0 270.5L486.0 269.6M510.0 269.9L510.0 270.0L510.0 269.9M488.0 271.2L488.0 272.0L488.0 271.2M538.0 273.3L540.3 274.0L540.0 276.1L538.0 279.1L535.6 280.0L533.5 280.0L534.0 277.9L536.0 275.4L538.0 273.3M454.0 311.4L454.0 313.3L454.0 311.4M456.0 313.6L456.0 314.2L456.0 313.6M140.0 363.0L142.0 361.2L146.0 361.0L148.0 362.0L149.9 366.0L151.0 368.0L154.0 368.2L154.8 366.0L156.8 364.0L160.0 362.6L164.0 363.3L166.0 364.6L168.1 366.0L172.0 367.5L176.0 367.0L180.0 366.3L184.0 367.1L186.0 368.1L190.0 369.7L192.0 370.4L195.2 372.0L198.0 373.6L200.0 374.7L204.0 375.4L208.0 374.5L210.0 373.8L214.0 373.2L218.0 373.7L222.0 373.8L224.0 374.1L226.3 376.0L228.1 378.0L230.2 380.0L234.0 380.5L235.7 378.0L236.2 376.0L238.0 373.4L242.0 372.2L246.0 373.6L248.0 375.2L250.0 377.8L251.5 380.0L253.0 380.0L254.6 378.0L257.6 376.0L260.0 375.4L263.3 376.0L266.0 377.2L268.0 378.0L272.0 378.6L276.0 378.0L278.0 377.9L280.0 378.1L284.0 379.4L287.0 380.0L290.0 380.6L293.8 382.0L296.0 383.1L298.0 384.1L302.0 384.4L304.0 383.9L305.3 380.0L308.0 379.2L310.7 380.0L311.3 384.0L314.0 385.6L318.0 384.6L320.0 383.6L323.0 382.0L326.0 381.0L330.0 380.6L332.9 380.0L336.0 378.8L338.0 377.8L341.3 376.0L344.0 374.7L348.0 374.6L352.0 374.9L355.0 374.0L358.0 373.1L362.0 372.2L366.0 372.6L370.0 373.8L374.0 373.6L378.0 373.5L380.0 374.2L382.0 376.4L384.0 378.2L388.0 379.9L392.0 379.3L394.0 377.2L394.2 374.0L396.0 371.5L400.0 371.4L402.7 372.0L406.0 373.0L410.0 373.5L414.0 373.6L418.0 372.2L420.0 370.7L422.0 368.9L424.0 367.2L426.0 365.8L430.0 364.1L434.0 364.5L438.0 365.3L442.0 364.7L446.0 364.3L450.0 365.4L452.0 366.6L455.8 366.0L457.1 364.0L458.0 362.0L460.0 359.4L462.0 357.9L466.0 357.2L470.0 357.5L471.6 360.0L472.4 362.0L475.2 362.0L476.2 360.0L478.6 358.0L480.0 355.6L482.0 353.6L484.4 352.0L486.0 350.0L489.0 348.0L492.0 347.1L496.0 347.2L500.0 347.5L502.0 348.1L505.4 350.0L507.4 352.0L509.2 352.0L512.0 350.4L512.2 348.0L510.0 346.4L508.0 345.2L507.3 342.0L510.0 340.9L512.0 339.8L516.0 338.4L520.0 338.5L524.0 338.5L526.0 337.3L528.5 336.0L528.0 333.5L528.0 331.0L530.0 332.9L534.0 332.2L536.0 331.9L538.3 332.0L538.0 334.0L539.4 336.0L541.2 336.0L542.2 334.0L544.8 332.0L546.4 330.0L550.0 328.2L550.6 326.0L552.7 324.0L553.8 320.0L554.0 317.8L555.0 314.0L556.0 310.8L556.0 309.7L555.3 306.0L557.7 304.0L558.0 303.5M498.0 288.0L500.9 288.0L500.0 290.5L498.0 292.2L497.8 290.0L498.0 288.0M550.0 288.4L554.0 288.5L554.0 291.9L552.0 293.2L550.0 291.1L550.0 288.4M540.0 314.2L543.3 316.0L542.0 318.9L539.0 318.0L540.0 314.2M546.0 314.3L548.4 316.0L546.0 316.6L546.0 314.3M542.0 336.8L542.0 339.9L542.0 340.1L539.9 342.0L540.9 344.0L542.4 344.0L544.0 341.6L546.0 342.2L546.1 340.0L544.0 338.3L542.0 336.8M474.0 365.2L474.0 366.9L474.0 365.2M558.0 456.6L556.0 455.5L554.0 457.3L552.9 460.0L556.0 460.0L558.0 458.7M140.0 472.3L142.0 471.6L146.0 470.8L150.0 470.9L152.3 472.0L154.0 474.4L154.9 478.0L154.4 482.0L156.0 485.8L158.0 486.4L160.6 486.0L164.0 484.1L166.0 483.0L170.0 483.3L174.0 483.7L177.9 482.0L180.0 481.2L183.8 480.0L184.6 480.0L187.2 482.0L188.0 485.4L188.7 488.0L190.0 490.8L192.7 490.0L194.8 488.0L196.5 486.0L198.0 482.7L198.3 480.0L200.0 476.6L202.0 475.3L206.0 474.3L208.9 476.0L210.1 478.0L212.7 478.0L216.0 477.5L218.3 478.0L222.0 479.7L224.0 480.7L227.6 482.0L230.0 482.5L234.0 482.9L238.0 483.3L242.0 483.3L245.3 484.0L247.8 486.0L249.3 488.0L250.9 490.0L252.5 492.0L254.0 494.1L257.9 494.0L260.0 492.5L262.0 490.7L264.0 488.3L265.4 486.0L266.8 484.0L270.0 484.0L272.0 485.9L274.0 487.7L278.0 486.5L280.0 484.5L282.0 482.9L284.0 481.8L286.7 482.0L289.6 484.0L291.5 486.0L294.0 487.2L298.0 486.5L302.0 486.6L304.6 488.0L308.0 490.0L310.0 490.3L312.1 490.0L316.0 489.2L320.0 489.5L323.6 490.0L324.3 490.0L327.4 488.0L328.2 486.0L330.0 483.3L332.0 481.8L336.0 481.5L338.0 482.0L342.0 483.4L346.0 483.7L350.0 483.4L352.0 484.7L352.9 488.0L352.5 492.0L352.5 496.0L354.0 498.3L356.0 497.7L356.2 494.0L356.8 490.0L358.7 488.0L361.2 486.0L363.8 484.0L365.8 482.0L365.5 478.0L368.0 476.0L368.7 480.0L366.2 482.0L367.9 486.0L369.2 488.0L370.8 490.0L372.4 492.0L375.8 494.0L376.1 494.0L378.7 492.0L380.0 489.2L380.8 486.0L382.0 483.4L384.8 482.0L386.8 482.0L390.0 483.2L392.0 484.1L394.6 484.0L398.0 482.0L400.0 480.7L402.0 479.6L405.5 480.0L407.4 482.0L408.5 484.0L410.0 486.1L414.0 487.8L418.0 487.3L420.3 486.0L420.0 483.8L418.0 480.5L417.8 478.0L419.1 476.0L422.0 474.8L426.0 475.6L428.0 477.0L430.0 478.5L432.0 480.0L434.8 482.0L438.0 484.0L442.0 482.7L444.0 480.9L446.0 479.1L448.0 477.3L450.0 475.1L452.0 472.4L454.0 470.4L458.0 471.1L462.0 471.3L466.0 470.4L470.0 470.0L474.0 471.3L476.0 472.7L480.0 473.0L481.6 470.0L482.6 468.0L484.0 465.9L487.4 464.0L490.0 463.9L492.0 464.8L494.0 466.7L494.9 470.0L494.0 472.9L493.5 476.0L494.0 478.1L496.0 480.4L500.0 481.1L504.0 480.4L506.0 479.5L507.3 476.0L506.0 473.7L504.1 470.0L505.8 466.0L508.0 465.2L510.0 466.7L511.7 470.0L514.0 471.9L516.0 472.2L518.1 472.0L522.0 470.9L524.0 469.9L527.6 468.0L526.0 465.7L523.5 464.0L521.3 462.0L522.0 458.3L524.0 456.0L526.0 455.6L529.1 456.0L531.3 458.0L532.1 460.0L533.1 464.0L535.5 466.0L536.5 466.0L540.0 464.1L542.0 462.2L542.9 460.0L540.7 458.0L539.1 456.0L538.0 453.0L536.9 450.0L538.0 447.6L541.6 446.0L544.0 445.1L546.9 446.0L550.0 446.6L552.8 446.0L554.0 443.7L556.0 444.2L558.0 447.1M550.0 427.1L553.2 428.0L552.0 430.2L549.0 430.0L550.0 427.1M548.0 431.2L548.0 432.7L548.0 431.2M172.0 484.6L170.0 486.2L168.0 488.3L167.6 492.0L168.2 494.0L170.0 496.7L174.0 496.5L175.9 494.0L176.3 492.0L175.7 490.0L174.0 487.0L172.0 484.6M236.0 489.1L234.0 491.7L234.0 492.5L236.0 495.3L238.0 496.0L240.0 495.2L240.9 492.0L240.0 489.5L236.0 489.1M288.0 491.1L286.3 494.0L288.0 496.4L291.6 496.0L292.6 494.0L292.0 490.5L288.0 491.1M254.0 498.8L254.0 500.8L254.0 498.8" fill="none" stroke="#1a1a1a" stroke-opacity="0.85" stroke-width="0.7"/>
<path d="M316.5 95.9L330.1 101.3L346.4 106.8L353.2 110.8L364.0 114.9L373.5 119.0L376.3 123.1L380.3 124.4L384.4 128.5L385.8 133.9L387.1 142.1L383.0 147.5L379.0 148.8L380.3 142.1L381.7 135.3L372.2 134.6L354.5 131.5L355.2 138.0L359.3 146.1L362.7 151.5L363.4 159.7L364.7 166.5L364.0 177.3L362.7 186.8L361.3 197.7L357.2 206.5L359.3 214.0L361.3 220.7L362.7 230.2L359.3 239.1L362.7 243.8L366.7 251.9L368.1 259.4L373.5 265.5L377.6 268.9L377.6 272.3L384.4 275.0L384.4 279.1L385.8 283.8L389.8 286.5L393.2 288.6L391.9 292.0L392.5 295.4L398.0 300.1L402.1 304.2L406.1 308.2L409.5 311.6L409.5 318.4L412.0 320.5L421.1 320.9L427.9 323.2L430.6 325.2L434.6 326.2L438.7 326.3L440.1 330.0L444.2 330.4L448.9 333.3L454.3 338.1L455.7 343.5L457.5 346.9L460.4 352.3L463.8 357.1L464.5 361.8L472.0 367.9L476.1 374.7L479.5 380.8L484.2 386.3L488.3 390.3L494.0 394.4L497.8 399.8L500.5 405.3L499.8 409.3L491.7 410.7L485.6 410.0L487.6 412.7L493.7 418.1L505.3 422.9L510.7 426.3L517.5 430.3L522.9 435.1L528.3 440.5L527.7 448.7L527.0 454.1L532.4 456.8L540.6 462.2L548.7 469.0L554.1 476.5M304.3 99.3L311.1 108.1L324.6 113.6L335.5 119.0L343.7 124.4L354.5 129.2L365.4 131.9L372.2 131.2L372.9 127.1L366.7 121.0L353.2 113.6L346.4 106.8L330.1 102.0L312.4 97.3L304.3 99.3M489.0 356.4L488.3 367.3L491.7 376.8L501.2 382.2L510.7 391.7L515.4 401.2L519.1 408.0L526.3 417.5L531.7 425.6L537.2 433.7L537.9 443.2L541.9 451.4L545.3 457.5L550.1 459.5L567.7 462.2M554.1 421.5L550.1 418.8L546.0 413.4L540.6 408.0L532.4 401.2L527.0 394.4L521.6 387.6L516.8 379.5L513.4 371.3L510.7 364.5L501.2 359.1L491.7 356.4M373.5 123.1L567.7 123.1M364.0 160.4L372.2 161.0L379.0 165.1L380.3 168.5L388.5 169.9L402.1 168.5L411.6 167.8L423.8 165.1L431.9 163.8L460.2 163.8M458.5 123.1L458.5 158.3L460.2 163.8L465.9 170.5L461.8 178.7L456.4 185.5L458.7 190.9L458.7 218.0M361.3 218.0L539.9 218.0M418.4 218.0L418.4 258.7L491.3 313.0L493.0 322.5L490.3 334.7L493.0 343.5M499.2 218.0L499.2 296.7L490.3 298.1L491.3 313.0M499.2 285.9L567.7 285.9M472.0 123.1L472.0 136.6L486.2 146.1L494.4 154.3L495.8 165.1L506.6 167.8L513.4 184.1L539.9 184.1L539.9 231.6L567.7 231.6M539.9 177.3L567.7 177.3M457.5 346.5L490.1 343.9L488.8 346.9L539.6 362.8L567.7 362.8" fill="none" stroke="#333" stroke-width="0.7" stroke-opacity="0.85"/>
<g transform="translate(316.7 197.7) rotate(0)"><rect x="-6.6" y="-3.7" width="13.1" height="7.4" fill="#fff"/><text x="0" y="2.4" font-size="6.5" text-anchor="middle" font-family="Liberation Sans, sans-serif" fill="#111">984</text></g>
<g transform="translate(272.3 205.0) rotate(18)"><rect x="-6.6" y="-3.7" width="13.1" height="7.4" fill="#fff"/><text x="0" y="2.4" font-size="6.5" text-anchor="middle" font-family="Liberation Sans, sans-serif" fill="#111">992</text></g>
<g transform="translate(263.3 225.0) rotate(15)"><rect x="-8.4" y="-3.7" width="16.8" height="7.4" fill="#fff"/><text x="0" y="2.4" font-size="6.5" text-anchor="middle" font-family="Liberation Sans, sans-serif" fill="#111">1000</text></g>
<g transform="translate(395.0 199.0) rotate(-5)"><rect x="-6.6" y="-3.7" width="13.1" height="7.4" fill="#fff"/><text x="0" y="2.4" font-size="6.5" text-anchor="middle" font-family="Liberation Sans, sans-serif" fill="#111">992</text></g>
<g transform="translate(461.7 198.3) rotate(25)"><rect x="-8.4" y="-3.7" width="16.8" height="7.4" fill="#fff"/><text x="0" y="2.4" font-size="6.5" text-anchor="middle" font-family="Liberation Sans, sans-serif" fill="#111">1000</text></g>
<g transform="translate(386.7 224.0) rotate(-20)"><rect x="-8.4" y="-3.7" width="16.8" height="7.4" fill="#fff"/><text x="0" y="2.4" font-size="6.5" text-anchor="middle" font-family="Liberation Sans, sans-serif" fill="#111">1008</text></g>
<g transform="translate(396.7 247.7) rotate(-45)"><rect x="-8.4" y="-3.7" width="16.8" height="7.4" fill="#fff"/><text x="0" y="2.4" font-size="6.5" text-anchor="middle" font-family="Liberation Sans, sans-serif" fill="#111">1008</text></g>
<g transform="translate(483.3 226.0) rotate(-15)"><rect x="-8.4" y="-3.7" width="16.8" height="7.4" fill="#fff"/><text x="0" y="2.4" font-size="6.5" text-anchor="middle" font-family="Liberation Sans, sans-serif" fill="#111">1008</text></g>
<g transform="translate(486.7 125.0) rotate(60)"><rect x="-6.6" y="-3.7" width="13.1" height="7.4" fill="#fff"/><text x="0" y="2.4" font-size="6.5" text-anchor="middle" font-family="Liberation Sans, sans-serif" fill="#111">992</text></g>
<g transform="translate(501.0 171.7) rotate(90)"><rect x="-6.6" y="-3.7" width="13.1" height="7.4" fill="#fff"/><text x="0" y="2.4" font-size="6.5" text-anchor="middle" font-family="Liberation Sans, sans-serif" fill="#111">000</text></g>
<g transform="translate(255.7 265.7) rotate(0)"><rect x="-8.4" y="-3.7" width="16.8" height="7.4" fill="#fff"/><text x="0" y="2.4" font-size="6.5" text-anchor="middle" font-family="Liberation Sans, sans-serif" fill="#111">1008</text></g>
<g transform="translate(293.3 336.7) rotate(-5)"><rect x="-8.4" y="-3.7" width="16.8" height="7.4" fill="#fff"/><text x="0" y="2.4" font-size="6.5" text-anchor="middle" font-family="Liberation Sans, sans-serif" fill="#111">1016</text></g>
<g transform="translate(391.7 298.3) rotate(-60)"><rect x="-8.4" y="-3.7" width="16.8" height="7.4" fill="#fff"/><text x="0" y="2.4" font-size="6.5" text-anchor="middle" font-family="Liberation Sans, sans-serif" fill="#111">1016</text></g>
<g transform="translate(455.0 320.0) rotate(10)"><rect x="-8.4" y="-3.7" width="16.8" height="7.4" fill="#fff"/><text x="0" y="2.4" font-size="6.5" text-anchor="middle" font-family="Liberation Sans, sans-serif" fill="#111">1016</text></g>
<g transform="translate(513.3 273.3) rotate(-5)"><rect x="-8.4" y="-3.7" width="16.8" height="7.4" fill="#fff"/><text x="0" y="2.4" font-size="6.5" text-anchor="middle" font-family="Liberation Sans, sans-serif" fill="#111">1016</text></g>
<path d="M286.7 106.6L286.1 109.3L285.5 111.9L284.9 114.6L284.3 117.3L283.8 119.9L284.0 118.2M262.7 111.5L262.9 114.8L263.2 118.0L263.5 121.2L263.4 120.1M329.7 123.4L327.9 120.7L326.1 118.0L324.3 115.3L324.9 116.3M266.0 114.3L266.2 116.9L266.4 119.5L266.6 122.2L266.8 124.8L267.0 127.4L267.3 130.1L267.6 132.7L266.9 131.0M372.2 128.5L369.7 126.5L366.9 124.8L364.1 123.1L365.1 123.8M480.6 129.0L483.1 126.9L485.5 124.8L488.0 122.7L487.1 123.4M232.9 122.4L234.4 125.3L235.8 128.2L237.3 131.1L236.7 130.1M337.4 136.3L337.6 133.6L337.8 130.9L338.0 128.2L338.2 125.5L338.2 122.8L338.8 124.4M440.3 132.8L442.6 130.5L444.9 128.2L447.2 125.9L446.4 126.7M280.5 121.1L280.2 123.7L279.9 126.3L279.8 129.0L279.9 131.6L279.9 134.2L280.3 136.9L280.9 139.4L280.1 137.9M334.3 139.7L334.6 137.0L334.9 134.3L335.1 131.6L335.3 128.9L335.4 126.2L336.1 127.8M386.0 137.3L387.5 134.4L389.1 131.6L390.7 128.8L390.2 129.8M439.6 136.2L441.9 133.9L444.2 131.6L446.5 129.3L445.7 130.1M245.3 125.4L246.4 127.8L247.5 130.2L248.6 132.6L249.7 135.0L250.8 137.4L251.9 139.8L253.1 142.2L252.2 140.6M359.0 145.1L360.2 142.7L361.1 140.2L361.5 137.6L361.1 135.0L360.7 132.4L359.5 130.1L357.7 128.1L358.9 129.4M459.0 140.6L461.0 138.7L463.0 136.9L465.0 135.0L467.0 133.1L469.0 131.3L467.7 132.4M260.1 125.8L260.3 128.4L260.7 130.9L261.2 133.5L261.9 136.0L262.8 138.4L263.7 140.8L264.6 143.2L265.6 145.6L266.6 148.0L265.9 146.4M358.3 148.1L359.5 145.8L360.7 143.4L361.7 141.0L362.4 138.4L363.0 135.8L362.9 133.2L361.9 130.8L363.4 131.8M472.7 143.7L474.7 142.0L476.8 140.2L478.9 138.4L480.9 136.6L483.0 134.9L481.7 135.9M288.1 135.8L289.0 138.9L290.4 141.8L291.7 144.7L290.5 144.3M328.0 147.6L329.6 144.8L330.8 141.8L332.1 138.8L332.3 140.0M383.0 151.5L384.2 149.1L385.2 146.7L386.3 144.2L387.3 141.8L388.3 139.4L389.4 137.0L390.6 134.6L389.7 136.1M436.2 150.8L438.1 149.0L440.0 147.3L441.9 145.4L443.7 143.6L445.6 141.8L447.4 140.0L449.2 138.2L451.1 136.3L452.9 134.5L451.6 135.8M220.4 139.9L222.3 142.6L224.2 145.2L226.0 147.8L225.4 146.9M272.3 135.4L273.2 137.9L274.1 140.3L275.1 142.8L276.1 145.2L277.2 147.6L278.2 150.0L279.4 152.4L278.1 151.2M380.9 154.7L382.2 152.4L383.3 150.0L384.4 147.6L385.4 145.2L386.5 142.8L387.5 140.3L388.5 137.9L387.6 139.4M419.1 152.0L421.1 150.3L423.1 148.6L425.2 146.9L427.2 145.2L429.2 143.5L431.2 141.8L433.1 140.0L431.9 141.3M473.0 152.0L475.0 150.3L477.0 148.6L479.0 146.9L481.1 145.2L483.1 143.5L485.1 141.8L487.2 140.1L485.8 141.3M231.3 139.7L232.7 141.9L234.2 144.1L235.6 146.4L237.0 148.6L238.4 150.8L239.8 153.1L241.2 155.3L240.2 153.9M345.5 159.8L347.0 157.7L348.4 155.5L349.7 153.2L350.9 150.9L352.0 148.6L353.1 146.3L354.1 143.9L355.1 141.5L355.9 139.0L356.2 140.9M446.5 155.8L448.5 154.0L450.4 152.2L452.3 150.4L454.2 148.6L456.2 146.8L458.1 145.0L460.0 143.2L458.7 144.4M250.3 141.1L251.6 143.3L252.9 145.6L254.3 147.8L255.7 149.9L257.3 152.0L258.8 154.1L260.4 156.1L262.2 158.0L264.0 159.9L262.7 158.6M356.2 164.6L358.0 162.7L359.6 160.7L361.0 158.6L362.3 156.4L363.6 154.2L364.9 152.0L366.2 149.8L367.5 147.6L368.7 145.3L370.0 143.1L371.1 140.8L370.6 142.6M414.9 158.9L416.8 157.1L418.8 155.4L420.8 153.7L422.9 152.0L424.9 150.3L426.9 148.6L428.9 146.9L427.6 148.1M476.7 158.6L478.8 156.9L480.8 155.3L482.9 153.6L485.0 152.0L487.0 150.4L489.1 148.7L491.2 147.1L489.8 148.2M231.4 146.5L232.9 148.7L234.3 151.0L235.7 153.2L237.1 155.4L238.6 157.6L240.0 159.8L241.5 162.0L240.4 160.7M292.5 153.1L295.4 154.5L298.5 155.4L301.6 156.3L300.4 156.8M337.6 164.0L339.3 162.0L340.9 159.8L342.4 157.7L343.7 155.4L345.1 153.1L346.4 150.8L347.5 148.4L347.1 150.2M388.7 161.6L390.5 159.6L392.3 157.5L394.0 155.4L395.6 153.3L397.2 151.1L396.3 152.5M450.6 162.4L452.6 160.6L454.6 158.9L456.6 157.2L458.5 155.4L460.5 153.6L462.5 151.9L464.5 150.1L463.1 151.3M214.7 153.8L216.8 156.3L218.8 158.8L220.9 161.3L220.2 160.4M264.3 149.9L265.5 152.3L266.8 154.6L268.3 156.7L269.9 158.8L271.6 160.9L273.4 162.8L275.4 164.5L273.8 163.7M320.6 163.6L323.0 161.4L324.9 158.8L326.9 156.2L326.4 157.2M374.6 166.8L376.4 164.9L378.2 162.9L379.9 160.9L381.5 158.8L383.1 156.7L384.6 154.5L386.1 152.3L385.3 153.9M436.3 167.3L438.3 165.6L440.3 163.9L442.3 162.2L444.2 160.5L446.1 158.8L448.1 157.1L450.0 155.4L451.9 153.6L453.8 151.9L452.5 153.1M236.6 151.5L238.0 153.7L239.4 155.9L240.9 158.0L242.4 160.1L244.0 162.2L245.5 164.3L247.2 166.2L248.9 168.2L250.7 170.0L249.4 168.8M294.8 161.2L297.9 161.9L301.2 162.2L304.4 162.5L303.2 162.8M344.7 172.1L346.7 170.6L348.8 169.0L350.8 167.4L352.7 165.8L354.6 164.1L356.4 162.2L358.2 160.3L359.8 158.4L361.2 156.2L362.5 154.0L363.8 151.8L362.9 153.4M405.9 169.3L407.8 167.5L409.8 165.7L411.8 164.0L413.7 162.2L415.7 160.4L417.7 158.7L419.6 156.9L418.3 158.1M453.1 168.9L455.1 167.3L457.1 165.6L459.2 163.9L461.2 162.2L463.2 160.5L465.3 158.8L467.3 157.1L465.9 158.2M242.0 155.5L243.5 157.7L245.0 159.8L246.6 161.8L248.3 163.7L250.1 165.6L251.9 167.5L253.7 169.3L255.5 171.2L257.4 173.0L256.0 171.8M303.6 166.1L306.9 165.9L310.1 165.6L313.3 165.3L312.2 165.8M364.6 172.5L366.7 170.9L368.8 169.3L370.7 167.5L372.6 165.6L374.4 163.7L376.2 161.7L377.9 159.7L376.9 161.2M410.7 172.5L412.7 170.8L414.7 169.1L416.7 167.3L418.7 165.6L420.7 163.9L422.7 162.1L424.7 160.4L423.4 161.6M459.6 173.5L461.7 172.0L463.7 170.4L465.8 168.8L467.8 167.2L469.8 165.6L471.9 164.0L473.9 162.4L476.0 160.8L478.0 159.2L476.6 160.3M222.6 160.9L224.3 162.9L226.0 165.0L227.7 167.0L229.4 169.0L231.1 171.0L232.9 173.0L234.7 174.9L233.3 173.8M274.8 162.4L276.9 163.8L279.1 165.2L281.3 166.5L283.6 167.8L285.9 169.0L288.2 170.2L290.5 171.4L292.9 172.3L295.4 173.1L293.5 173.0M334.1 175.7L336.4 174.6L338.7 173.4L340.9 172.0L343.1 170.6L345.1 169.0L347.2 167.4L349.2 165.8L351.2 164.1L353.1 162.3L352.0 163.8M389.5 175.8L391.5 174.1L393.5 172.4L395.6 170.7L397.6 169.0L399.6 167.3L401.5 165.5L403.5 163.8L402.3 165.0M444.0 175.6L446.1 173.9L448.2 172.3L450.2 170.7L452.3 169.0L454.3 167.3L456.4 165.7L458.4 164.0L457.1 165.1M498.6 175.4L500.7 173.8L502.8 172.2L504.9 170.6L507.0 169.0L509.1 167.4L511.1 165.7L513.2 164.1L511.9 165.2M540.0 174.8L541.9 172.8L543.8 170.9L545.8 169.0L547.7 167.1L549.6 165.2L548.4 166.3M256.3 163.5L258.1 165.3L260.0 167.2L261.8 169.0L263.7 170.7L265.7 172.4L267.7 174.1L269.8 175.6L272.0 176.9L274.2 178.3L272.6 177.5M318.7 174.3L321.4 173.8L324.0 173.2L326.6 172.4L329.2 171.6L331.7 170.5L330.4 171.6M361.5 181.6L363.6 180.1L365.7 178.6L367.8 177.1L369.8 175.6L371.8 174.0L373.8 172.4L375.8 170.8L377.7 169.1L379.6 167.4L381.5 165.6L383.4 163.9L382.1 165.2M426.5 179.0L428.6 177.3L430.7 175.7L432.7 174.1L434.8 172.4L436.8 170.7L438.9 169.1L440.9 167.4L439.6 168.5M485.2 178.6L487.3 177.0L489.5 175.5L491.6 174.0L493.7 172.4L495.9 170.8L498.0 169.3L500.1 167.7L498.7 168.8M529.0 178.0L530.9 176.2L532.9 174.3L534.9 172.4L536.8 170.5L538.8 168.6L537.6 169.8M240.0 166.6L241.7 168.5L243.5 170.4L245.3 172.3L247.2 174.1L249.1 175.8L251.0 177.5L253.0 179.2L255.0 180.8L257.1 182.4L255.5 181.5M293.6 174.9L296.3 175.5L299.0 175.8L301.7 175.8L304.4 175.8L307.1 175.6L305.4 175.8M334.1 182.0L336.5 181.2L339.0 180.4L341.4 179.5L343.7 178.4L345.9 177.2L348.1 175.8L350.3 174.4L352.4 173.0L354.5 171.5L356.5 170.0L358.6 168.6L357.2 169.7M396.9 182.5L399.0 180.9L401.0 179.2L403.0 177.5L405.0 175.8L407.1 174.1L409.1 172.4L411.1 170.7L409.8 171.9M458.6 182.0L460.8 180.5L462.9 178.9L465.0 177.4L467.2 175.8L469.3 174.2L471.4 172.7L473.5 171.1L472.1 172.2M499.6 182.1L501.8 180.6L503.9 179.0L506.0 177.4L508.1 175.8L510.2 174.2L512.3 172.6L514.3 170.9L513.0 172.1M249.4 169.1L251.2 170.9L253.1 172.7L255.0 174.4L256.9 176.1L258.9 177.7L260.9 179.2L263.0 180.7L265.1 182.1L267.3 183.5L269.5 184.7L271.8 185.9L270.1 185.3M306.7 179.9L309.4 179.7L312.1 179.4L314.9 179.2L317.6 179.0L320.3 178.7L318.6 179.1M359.0 187.9L361.2 186.5L363.3 185.1L365.4 183.7L367.5 182.2L369.6 180.7L371.7 179.2L373.7 177.7L375.8 176.1L377.8 174.5L379.7 172.9L381.7 171.2L380.3 172.4M424.9 185.5L427.1 183.9L429.2 182.4L431.3 180.8L433.4 179.2L435.5 177.6L437.6 176.0L439.7 174.4L438.3 175.5M468.3 185.2L470.5 183.7L472.6 182.2L474.8 180.7L477.0 179.2L479.1 177.7L481.3 176.2L483.4 174.6L482.0 175.7M531.9 184.7L533.9 182.9L535.9 181.1L537.9 179.2L539.9 177.3L541.8 175.4L540.7 176.6M221.2 175.4L223.1 177.3L225.0 179.2L227.0 180.9L229.0 182.6L231.0 184.3L233.1 185.9L235.3 187.4L233.7 186.6M273.7 176.1L275.9 177.3L278.2 178.5L280.4 179.6L282.8 180.5L285.2 181.3L287.7 181.9L290.1 182.6L292.6 183.3L295.0 183.9L297.5 184.6L300.0 185.1L302.5 185.5L305.0 185.8L303.1 185.9M331.2 187.1L333.6 186.4L336.1 185.8L338.6 185.1L341.0 184.3L343.4 183.5L345.8 182.6L348.2 181.7L350.5 180.5L352.7 179.2L354.9 177.8L357.0 176.4L355.5 177.4M391.5 190.6L393.5 189.1L395.6 187.5L397.6 185.8L399.6 184.2L401.6 182.6L403.7 181.0L405.7 179.3L407.7 177.7L409.7 176.1L408.3 177.2M447.6 188.7L449.8 187.2L451.9 185.7L454.1 184.1L456.2 182.6L458.4 181.1L460.5 179.5L462.7 178.0L461.3 179.0M501.8 187.5L504.0 185.9L506.2 184.2L508.3 182.6L510.5 181.0L512.7 179.3L511.4 180.4M166.7 183.8L169.7 184.9L172.7 186.0L175.8 187.1L174.7 186.7M215.6 181.1L217.8 182.8L220.0 184.4L222.2 186.0L224.4 187.6L226.7 189.1L225.2 188.3M258.3 178.2L260.4 179.7L262.5 181.1L264.7 182.5L266.9 183.7L269.2 184.9L271.5 186.0L273.8 187.1L276.2 188.1L278.5 189.1L280.9 190.0L283.4 190.7L281.6 190.3M321.2 189.2L323.7 188.9L326.2 188.5L328.7 188.0L331.2 187.3L333.7 186.7L336.2 186.0L338.6 185.3L341.1 184.6L343.5 183.9L346.0 183.1L348.4 182.2L346.9 183.3M365.9 194.3L368.1 193.0L370.3 191.7L372.4 190.4L374.6 189.0L376.7 187.5L378.8 186.0L380.8 184.5L382.9 182.9L384.9 181.3L386.8 179.7L388.8 178.1L387.4 179.2M421.3 193.4L423.4 191.9L425.5 190.5L427.7 189.0L429.8 187.5L431.9 186.0L434.0 184.5L436.1 183.0L438.2 181.5L440.3 180.0L438.9 181.0M479.0 191.9L481.2 190.4L483.4 189.0L485.6 187.5L487.8 186.0L489.9 184.5L492.1 183.0L494.3 181.5L492.9 182.5M193.4 186.7L196.4 188.1L199.3 189.4L202.3 190.7L201.2 190.3M235.3 183.9L237.4 185.4L239.7 186.8L241.9 188.2L244.3 189.4L246.6 190.6L249.0 191.8L251.4 192.9L249.7 192.3M284.8 185.9L287.3 186.5L289.8 187.2L292.3 187.9L294.7 188.5L297.2 189.0L299.8 189.4L302.3 189.8L304.9 190.1L307.4 190.2L310.0 190.2L312.5 190.2L310.7 190.3M347.7 194.6L350.2 193.8L352.6 192.9L355.0 191.9L357.3 190.7L359.5 189.4L361.8 188.1L364.0 186.8L366.2 185.4L368.3 183.9L366.9 185.0M402.8 196.7L405.0 195.3L407.1 193.8L409.3 192.4L411.4 190.9L413.5 189.4L415.7 187.9L417.8 186.4L419.9 184.9L422.0 183.4L420.5 184.5M463.2 195.3L465.4 193.8L467.6 192.3L469.8 190.9L472.0 189.4L474.2 187.9L476.4 186.5L478.6 185.0L477.1 186.0M512.6 194.5L514.7 192.8L516.8 191.1L519.0 189.4L521.1 187.7L523.2 186.0L521.9 187.1M199.4 190.2L202.3 191.5L205.3 192.8L208.3 194.1L207.2 193.7M246.9 187.1L249.2 188.4L251.5 189.5L253.8 190.7L256.2 191.7L258.6 192.8L260.9 193.9L263.3 194.9L265.7 195.9L268.1 196.9L266.4 196.3M289.9 190.6L292.4 191.2L294.9 191.7L297.4 192.2L300.0 192.5L302.5 192.7L305.1 192.8L307.7 192.9L310.2 192.9L312.8 192.9L315.3 192.9L317.9 192.9L316.1 193.0M353.2 197.4L355.7 196.4L358.1 195.3L360.4 194.1L362.8 192.8L365.1 191.5L367.3 190.2L369.6 188.8L368.1 189.8M405.1 199.9L407.2 198.5L409.4 197.1L411.6 195.7L413.8 194.2L415.9 192.8L418.1 191.4L420.2 189.9L422.3 188.4L424.5 187.0L423.0 188.0M454.1 200.0L456.3 198.6L458.4 197.1L460.6 195.7L462.7 194.2L464.9 192.8L467.0 191.4L469.2 189.9L471.3 188.5L473.5 187.0L472.0 188.0M521.9 198.0L524.0 196.2L526.1 194.5L528.2 192.8L530.3 191.1L532.4 189.3L531.2 190.5M165.6 194.0L168.6 195.1L171.7 196.2L174.7 197.3L173.6 196.9M215.0 192.7L217.5 193.9L220.0 195.1L222.4 196.2L224.9 197.3L227.4 198.5L225.8 197.8M276.9 192.3L279.3 193.1L281.8 193.8L284.2 194.5L286.7 195.1L289.2 195.7L291.7 196.2L294.2 196.7L296.7 197.1L299.3 197.5L301.8 197.7L304.4 197.9L302.5 197.9M320.7 198.7L323.3 198.6L325.8 198.4L328.3 198.0L330.8 197.5L333.3 196.9L335.8 196.2L338.3 195.5L340.8 194.9L343.2 194.2L345.7 193.6L348.2 192.9L346.5 193.6M379.0 202.9L381.3 201.6L383.5 200.3L385.8 198.9L388.0 197.6L390.1 196.2L392.3 194.8L394.5 193.4L396.6 191.9L398.7 190.4L397.3 191.5M440.8 203.6L442.9 202.1L445.0 200.6L447.2 199.1L449.3 197.7L451.4 196.2L453.6 194.7L455.7 193.3L457.8 191.8L460.0 190.3L458.5 191.4M495.7 200.9L497.9 199.4L500.1 197.8L502.3 196.2L504.5 194.6L506.7 193.0L505.4 194.0M151.0 197.4L154.1 198.5L157.1 199.6L160.2 200.7L159.1 200.3M212.5 196.4L215.0 197.5L217.5 198.5L220.0 199.6L222.6 200.7L225.1 201.7L223.5 201.1M265.3 195.4L267.7 196.3L270.2 197.2L272.6 198.1L275.1 198.9L277.6 199.6L280.1 200.3L282.6 201.0L285.1 201.5L287.7 202.0L285.9 201.8M312.3 200.1L314.8 200.1L317.4 200.1L319.9 200.1L322.5 200.1L325.1 199.9L327.6 199.6L330.1 199.3L332.7 198.8L335.2 198.3L337.6 197.6L340.1 197.0L338.3 197.5M357.3 206.7L359.7 205.6L362.0 204.5L364.2 203.4L366.5 202.1L368.7 200.9L370.9 199.6L373.2 198.3L375.4 197.0L377.6 195.8L379.8 194.5L382.0 193.1L380.5 194.2M415.3 207.9L417.5 206.6L419.7 205.2L421.8 203.8L424.0 202.4L426.1 201.0L428.2 199.6L430.3 198.2L432.5 196.7L434.6 195.3L436.7 193.8L438.8 192.3L437.3 193.4M479.0 205.3L481.2 203.9L483.4 202.5L485.7 201.0L487.9 199.6L490.1 198.2L492.3 196.7L494.5 195.2L493.1 196.3M188.3 200.4L190.8 201.3L193.4 202.1L196.0 203.0L198.6 203.9L201.1 204.7L199.6 204.1M230.1 198.8L232.5 199.9L234.9 201.0L237.4 202.0L239.8 203.0L242.2 204.0L244.7 205.0L247.1 206.0L245.5 205.4M282.9 200.9L285.4 201.4L287.9 201.8L290.5 202.2L293.0 202.5L295.6 202.8L298.1 203.0L300.7 203.2L303.2 203.4L305.8 203.5L308.3 203.5L310.9 203.5L309.1 203.5M344.9 206.1L347.4 205.4L350.0 204.7L352.5 203.9L355.0 203.0L357.4 202.1L359.9 201.1L362.3 200.0L360.8 200.9M388.1 209.7L390.4 208.4L392.6 207.1L394.8 205.7L397.0 204.4L399.2 203.0L401.4 201.6L403.6 200.3L405.8 198.9L408.0 197.5L406.5 198.5M449.9 211.5L452.0 210.1L454.1 208.7L456.2 207.2L458.4 205.8L460.5 204.4L462.6 203.0L464.8 201.6L466.9 200.2L469.1 198.8L471.2 197.4L473.4 196.0L471.8 197.0M501.5 209.4L503.7 207.9L505.8 206.3L507.8 204.6L509.9 203.0L512.0 201.4L514.1 199.7L516.1 198.1L514.7 199.2M151.9 204.2L155.0 205.3L158.1 206.4L161.1 207.5L160.0 207.1M195.5 203.8L198.1 204.6L200.7 205.5L203.2 206.4L205.8 207.3L208.3 208.2L206.8 207.6M254.2 202.5L256.7 203.5L259.1 204.5L261.6 205.5L264.1 206.4L266.5 207.3L269.0 208.3L271.5 209.1L269.8 208.8M307.1 206.6L309.7 206.6L312.2 206.6L314.8 206.6L317.3 206.5L319.9 206.5L322.5 206.4L325.0 206.3L327.6 206.1L330.1 205.9L332.6 205.5L335.2 205.0L333.4 205.5M361.4 212.5L363.8 211.4L366.1 210.2L368.3 209.0L370.6 207.7L372.8 206.4L375.1 205.1L377.3 203.8L379.6 202.5L381.8 201.2L380.3 202.1M405.0 214.5L407.2 213.2L409.4 211.8L411.5 210.5L413.7 209.1L415.9 207.8L418.0 206.4L420.2 205.0L422.4 203.7L424.5 202.3L426.7 200.9L428.8 199.5L427.3 200.5M475.1 213.1L477.4 211.8L479.6 210.5L481.8 209.1L484.0 207.8L486.2 206.4L488.4 205.0L490.6 203.6L492.8 202.2L494.9 200.8L493.5 201.9M181.9 207.7L185.0 208.8L188.0 209.8L191.1 210.8L190.0 210.6M227.9 206.8L230.4 207.8L232.9 208.8L235.5 209.8L238.0 210.8L240.5 211.8L239.0 211.2M270.5 207.3L273.0 207.9L275.6 208.5L278.1 209.0L280.7 209.5L283.2 209.8L285.8 210.1L288.4 210.4L290.9 210.7L293.5 210.9L291.7 210.8M329.9 212.2L332.5 211.7L335.0 211.3L337.6 210.8L340.1 210.3L342.7 209.8L345.2 209.3L347.8 208.7L350.3 208.1L352.8 207.5L351.1 208.2M382.3 216.2L384.6 215.0L386.8 213.7L389.1 212.4L391.3 211.1L393.6 209.8L395.8 208.5L398.0 207.2L400.3 205.8L402.5 204.5L400.9 205.4M439.8 219.8L441.9 218.3L444.0 216.9L446.1 215.5L448.2 214.1L450.3 212.6L452.4 211.2L454.5 209.8L456.6 208.4L458.7 207.0L460.8 205.6L462.9 204.2L465.0 202.8L467.2 201.4L465.6 202.4M495.5 215.9L497.7 214.4L499.8 212.9L502.0 211.4L504.1 209.8L506.2 208.2L508.3 206.6L510.4 205.0L509.0 206.1M167.1 211.0L170.2 212.1L173.2 213.2L176.3 214.3L175.2 213.9M215.9 210.2L218.5 211.2L221.0 212.2L223.5 213.2L226.0 214.2L228.6 215.2L227.0 214.6M271.5 211.4L274.1 212.0L276.7 212.5L279.3 212.9L281.9 213.2L284.6 213.5L287.2 213.8L289.8 214.1L288.1 213.9M319.4 214.8L322.0 214.6L324.5 214.4L327.1 214.0L329.7 213.6L332.2 213.2L334.8 212.8L337.3 212.3L339.9 211.9L342.4 211.4L340.7 211.8M380.7 219.5L382.9 218.3L385.2 217.0L387.5 215.8L389.7 214.5L392.0 213.2L394.2 211.9L396.5 210.6L398.7 209.3L400.9 207.9L399.4 208.9M427.4 221.7L429.6 220.3L431.7 218.9L433.9 217.5L436.0 216.1L438.1 214.7L440.2 213.2L442.3 211.7L444.4 210.3L446.5 208.8L448.6 207.4L450.7 205.9L449.2 206.9M484.1 219.9L486.4 218.6L488.6 217.3L490.8 216.0L493.0 214.6L495.2 213.2L497.4 211.8L499.5 210.3L501.7 208.9L503.8 207.3L502.3 208.5M183.0 214.9L186.1 215.8L189.3 216.6L192.4 217.4L191.3 217.2M242.4 213.6L244.9 214.6L247.4 215.6L250.0 216.6L252.5 217.6L255.0 218.6L253.4 218.0M290.7 215.7L293.3 215.9L295.9 216.2L298.5 216.4L301.2 216.6L303.8 216.8L306.4 217.0L309.1 217.2L307.3 217.2M340.1 218.6L342.7 218.1L345.3 217.6L347.8 217.1L350.4 216.6L353.0 216.1L355.6 215.5L358.1 214.7L356.5 215.5M402.6 224.6L404.8 223.3L407.0 222.0L409.2 220.7L411.4 219.3L413.6 218.0L415.7 216.6L417.9 215.2L420.1 213.9L422.3 212.5L424.4 211.2L426.6 209.8L425.1 210.9M449.1 224.7L451.3 223.3L453.5 222.0L455.7 220.6L457.8 219.3L460.0 217.9L462.2 216.6L464.4 215.3L466.6 213.9L468.8 212.6L470.9 211.3L473.1 210.0L471.6 210.9M516.3 221.8L518.4 220.1L520.5 218.3L522.6 216.6L524.6 214.9L526.7 213.1L525.4 214.2M194.9 218.2L197.6 218.8L200.2 219.4L202.9 220.0L205.5 220.6L208.2 221.3L206.6 220.7M249.3 217.2L251.9 218.2L254.4 219.1L257.0 220.0L259.5 220.9L262.1 221.8L260.5 221.4M298.6 219.3L301.2 219.6L303.8 219.8L306.5 219.9L309.1 220.0L311.8 220.1L314.4 220.1L317.0 220.1L315.3 220.3M352.3 223.9L354.8 223.3L357.3 222.6L359.8 221.8L362.3 221.0L364.7 220.0L367.1 219.0L369.4 218.0L371.8 216.8L374.1 215.6L372.5 216.5M402.3 227.9L404.5 226.6L406.7 225.3L408.9 224.0L411.1 222.7L413.3 221.4L415.5 220.0L417.7 218.6L419.8 217.3L422.0 215.9L424.2 214.6L426.3 213.2L424.8 214.3M460.6 228.5L462.8 227.3L465.1 226.0L467.3 224.8L469.5 223.6L471.8 222.4L474.0 221.2L476.2 220.0L478.4 218.8L480.7 217.6L482.9 216.3L485.1 215.1L487.3 213.8L489.5 212.5L487.9 213.5M162.3 221.7L165.4 222.5L168.6 223.4L171.7 224.3L170.6 224.0M222.0 220.7L224.6 221.7L227.1 222.5L229.7 223.4L232.3 224.3L234.9 225.1L233.3 224.6M275.2 222.3L277.8 222.6L280.4 222.9L283.0 223.2L285.7 223.4L288.3 223.6L290.9 223.9L293.5 224.1L291.8 224.0M319.9 224.9L322.6 224.6L325.2 224.2L327.8 223.8L330.4 223.4L333.0 223.0L335.6 222.5L338.2 222.1L336.5 222.4M383.9 230.4L386.2 229.3L388.5 228.2L390.8 227.0L393.1 225.9L395.3 224.6L397.6 223.4L399.8 222.2L402.0 220.9L404.2 219.6L406.4 218.3L408.6 216.9L407.0 217.9M433.4 231.4L435.6 230.1L437.8 228.8L440.0 227.4L442.2 226.1L444.4 224.8L446.5 223.4L448.7 222.0L450.9 220.7L453.0 219.3L455.2 217.9L457.3 216.5L455.8 217.5M486.9 228.5L489.2 227.3L491.6 226.0L493.9 224.7L496.2 223.4L498.4 222.1L500.7 220.7L502.9 219.2L501.5 220.3M216.3 224.3L218.9 225.2L221.5 226.0L224.1 226.8L226.7 227.6L229.3 228.4L227.7 227.9M267.2 225.5L269.9 226.0L272.6 226.4L275.3 226.8L278.0 227.2L280.7 227.5L279.0 227.4M310.4 227.4L313.1 227.3L315.7 227.2L318.3 227.0L321.0 226.8L323.6 226.6L326.2 226.2L328.8 225.9L327.1 226.2M369.1 232.6L371.5 231.8L373.9 230.9L376.3 230.0L378.7 228.9L381.0 227.9L383.3 226.8L385.6 225.7L387.9 224.6L390.2 223.4L392.5 222.2L394.7 221.0L393.1 222.0M415.5 234.5L417.8 233.2L420.0 232.0L422.2 230.7L424.4 229.4L426.6 228.1L428.8 226.8L431.0 225.5L433.2 224.2L435.4 222.8L437.6 221.4L439.7 220.1L438.2 221.1M468.4 232.5L470.7 231.4L473.0 230.3L475.4 229.1L477.7 228.0L480.0 226.8L482.3 225.6L484.6 224.4L486.9 223.2L489.2 222.0L487.7 223.0M177.7 228.7L180.8 229.5L184.0 230.2L187.1 230.9L186.0 230.7M230.7 228.0L233.3 228.8L236.0 229.5L238.6 230.2L241.2 230.9L243.8 231.6L242.2 231.2M294.5 229.6L297.1 229.8L299.8 230.0L302.4 230.1L305.0 230.2L307.7 230.3L310.3 230.3L312.9 230.3L311.2 230.5M339.1 232.2L341.7 231.7L344.3 231.2L346.9 230.7L349.5 230.2L352.1 229.7L354.6 229.1L357.2 228.5L355.5 229.1M386.0 238.0L388.4 237.0L390.7 235.9L393.0 234.9L395.3 233.7L397.5 232.6L399.8 231.4L402.0 230.2L404.2 229.0L406.5 227.8L408.7 226.5L410.9 225.2L413.0 223.9L415.2 222.6L413.6 223.6M449.4 237.3L451.7 236.1L454.0 234.9L456.2 233.7L458.5 232.6L460.8 231.4L463.0 230.2L465.3 229.0L467.6 227.8L469.9 226.7L472.1 225.5L474.4 224.3L472.8 225.2M207.2 231.9L209.8 232.5L212.5 233.1L215.2 233.6L217.8 234.1L220.5 234.7L218.8 234.4M247.6 231.7L250.2 232.3L252.9 233.0L255.5 233.6L258.2 234.2L260.8 234.8L259.2 234.6M310.5 234.3L313.1 234.2L315.8 234.0L318.4 233.8L321.0 233.6L323.6 233.4L326.3 233.1L328.9 232.7L327.2 233.0M364.0 238.2L366.5 237.6L369.0 236.9L371.4 236.1L373.9 235.4L376.3 234.5L378.7 233.6L381.1 232.7L383.4 231.7L385.8 230.7L388.1 229.7L390.4 228.6L388.8 229.4M411.1 242.1L413.3 240.9L415.6 239.7L417.8 238.5L420.0 237.3L422.3 236.1L424.5 234.8L426.7 233.6L428.9 232.4L431.1 231.1L433.3 229.8L435.5 228.5L437.7 227.2L439.8 225.9L438.3 226.9M476.8 238.0L479.2 236.9L481.6 235.8L484.0 234.7L486.4 233.6L488.7 232.5L491.1 231.3L493.5 230.1L491.9 231.0M168.5 236.1L171.7 236.5L175.0 237.0L178.2 237.5L177.0 237.2M236.4 235.2L239.1 235.8L241.8 236.4L244.4 237.0L247.1 237.6L249.7 238.2L248.1 237.9M285.3 236.6L287.9 236.7L290.6 236.8L293.2 236.9L295.8 237.0L298.5 237.1L301.1 237.1L303.8 237.2L302.0 237.2M335.6 239.4L338.1 239.0L340.7 238.5L343.2 238.0L345.7 237.5L348.3 237.0L350.8 236.5L353.4 235.9L355.9 235.4L358.4 234.7L356.7 235.2M378.2 242.6L380.6 241.8L383.0 241.0L385.4 240.1L387.8 239.1L390.1 238.1L392.5 237.0L394.8 235.9L397.1 234.8L399.4 233.7L401.7 232.5L403.9 231.3L402.3 232.2M442.7 244.0L445.0 242.8L447.2 241.6L449.5 240.5L451.8 239.3L454.1 238.1L456.4 237.0L458.7 235.9L461.0 234.7L463.2 233.6L465.5 232.4L467.8 231.3L466.2 232.1M166.5 239.7L169.7 240.0L172.9 240.4L176.1 240.8L175.0 240.6M219.7 239.2L222.4 239.6L225.1 240.0L227.8 240.4L230.4 240.8L233.1 241.2L231.5 240.9M273.4 240.0L276.1 240.1L278.7 240.2L281.3 240.3L284.0 240.4L286.6 240.5L289.2 240.5L291.9 240.6L290.1 240.6M324.6 242.3L327.1 242.0L329.7 241.6L332.3 241.2L334.8 240.8L337.4 240.4L339.9 240.0L342.5 239.5L345.0 239.0L347.6 238.5L345.8 238.9M369.3 244.8L371.8 244.2L374.3 243.5L376.8 242.9L379.2 242.1L381.6 241.3L384.0 240.4L386.4 239.5L388.8 238.6L391.2 237.6L393.5 236.5L395.8 235.4L394.2 236.3M421.7 248.0L423.9 246.8L426.1 245.5L428.3 244.2L430.6 242.9L432.8 241.7L435.0 240.4L437.2 239.1L439.5 237.9L441.7 236.6L443.9 235.4L446.2 234.1L444.6 235.0M489.7 243.8L492.2 242.7L494.6 241.6L497.1 240.4L499.6 239.2L502.0 238.1L500.5 238.9M188.0 242.4L190.6 242.9L193.3 243.3L196.0 243.8L198.7 244.3L201.4 244.7L199.7 244.5M242.6 242.4L245.3 242.9L248.0 243.3L250.7 243.8L253.4 244.3L256.0 244.7L254.4 244.5M294.8 243.9L297.5 243.9L300.1 243.9L302.7 243.9L305.4 243.8L308.0 243.7L310.7 243.7L313.3 243.5L311.5 243.7M336.7 246.8L339.2 246.4L341.8 245.9L344.3 245.4L346.8 244.9L349.3 244.3L351.8 243.8L354.3 243.3L356.8 242.7L359.3 242.1L361.8 241.6L364.3 241.0L362.5 241.4M389.8 251.5L392.1 250.5L394.5 249.5L396.8 248.4L399.0 247.3L401.3 246.1L403.6 245.0L405.8 243.8L408.0 242.6L410.3 241.4L412.5 240.2L414.8 239.1L417.0 237.9L419.2 236.6L417.6 237.6M448.8 250.1L451.1 249.0L453.4 247.9L455.8 246.8L458.1 245.8L460.5 244.8L462.8 243.8L465.2 242.8L467.6 241.8L469.9 240.8L472.3 239.8L474.6 238.8L472.9 239.6M147.9 246.4L151.1 246.8L154.3 247.2L157.5 247.6L156.4 247.5M189.2 245.9L191.9 246.4L194.5 246.8L197.2 247.2L199.9 247.6L202.6 248.0L200.9 247.8M249.2 245.8L251.9 246.2L254.5 246.5L257.1 246.9L259.7 247.2L262.3 247.5L264.9 247.8L267.6 248.0L265.8 248.0M300.8 247.8L303.3 247.7L305.9 247.6L308.5 247.5L311.1 247.4L313.7 247.2L316.3 247.0L318.9 246.8L321.5 246.6L324.0 246.4L322.2 246.6M356.6 250.5L359.1 249.9L361.6 249.4L364.1 248.9L366.6 248.3L369.1 247.8L371.6 247.2L374.1 246.6L376.6 246.0L379.0 245.4L381.5 244.7L383.9 243.9L382.2 244.6M400.8 257.0L403.2 255.9L405.5 254.6L407.8 253.4L410.2 252.2L412.5 250.9L414.8 249.7L417.2 248.4L419.5 247.2L421.8 246.0L424.1 244.7L426.4 243.4L428.7 242.1L431.0 240.8L433.3 239.5L435.6 238.2L434.1 239.1M464.7 250.8L467.2 249.9L469.7 249.0L472.1 248.1L474.6 247.2L477.1 246.3L479.5 245.3L482.0 244.3L480.4 245.0M169.0 249.3L171.6 249.6L174.2 249.9L176.9 250.3L179.5 250.6L182.1 250.9L184.7 251.3L187.3 251.7L185.6 251.5M214.1 249.5L216.7 249.7L219.4 250.0L222.0 250.3L224.6 250.6L227.2 250.9L229.9 251.2L232.5 251.5L230.7 251.3M280.4 250.6L283.0 250.6L285.6 250.6L288.3 250.6L290.9 250.6L293.6 250.6L296.2 250.6L298.8 250.6L297.1 250.6M318.1 252.3L320.7 252.0L323.2 251.8L325.8 251.5L328.3 251.3L330.8 250.9L333.4 250.6L335.9 250.3L338.4 249.9L341.0 249.5L343.5 249.0L346.0 248.5L344.2 248.9M379.6 256.9L382.0 256.2L384.4 255.4L386.8 254.5L389.2 253.6L391.6 252.7L393.9 251.7L396.2 250.6L398.5 249.5L400.8 248.4L403.0 247.3L405.3 246.1L407.5 245.0L409.8 243.8L408.1 244.6M432.3 258.5L434.4 257.1L436.6 255.7L438.8 254.4L441.0 253.1L443.2 251.8L445.5 250.6L447.7 249.4L450.0 248.2L452.3 247.1L454.6 246.0L456.9 244.9L455.2 245.6M500.7 253.3L503.6 252.0L506.6 250.6L509.5 249.2L508.5 249.7M148.7 252.8L151.3 253.1L153.9 253.4L156.6 253.7L159.2 254.0L161.8 254.3L164.4 254.6L167.1 254.9L165.3 254.7M205.1 252.9L207.7 253.2L210.3 253.4L213.0 253.7L215.6 254.0L218.2 254.3L220.8 254.6L223.5 254.8L221.7 254.6M260.7 253.5L263.3 253.6L265.9 253.8L268.6 253.9L271.2 254.0L273.9 254.1L276.5 254.1L279.1 254.2L277.4 254.2M313.0 255.4L315.6 255.2L318.1 255.0L320.7 254.8L323.2 254.5L325.8 254.3L328.3 254.0L330.9 253.7L333.4 253.4L336.0 253.1L338.5 252.7L341.0 252.3L339.2 252.7M355.1 257.7L357.6 257.2L360.0 256.7L362.5 256.1L365.0 255.6L367.5 255.1L370.0 254.5L372.4 254.0L374.9 253.5L377.4 252.9L379.9 252.3L382.3 251.6L384.7 250.9L387.1 250.1L385.4 250.9M415.0 263.8L417.2 262.5L419.3 261.1L421.4 259.7L423.5 258.3L425.6 256.9L427.7 255.4L429.8 254.0L431.9 252.6L434.0 251.2L436.2 249.8L438.3 248.5L440.5 247.2L442.7 245.9L441.0 246.8M482.3 257.1L484.9 256.2L487.4 255.1L489.8 254.0L492.3 252.9L494.8 251.8L493.3 252.5M184.0 255.7L186.5 256.0L189.1 256.4L191.7 256.7L194.2 257.1L196.8 257.4L199.4 257.7L202.0 258.0L204.5 258.3L207.1 258.6L205.3 258.4M225.2 255.9L227.7 256.2L230.3 256.5L232.9 256.8L235.5 257.1L238.0 257.4L240.6 257.7L243.2 258.0L245.8 258.3L248.3 258.6L246.5 258.5M283.8 257.4L286.4 257.4L288.9 257.4L291.5 257.4L294.0 257.4L296.6 257.4L299.2 257.4L301.7 257.4L304.3 257.3L306.8 257.2L309.4 257.0L311.9 256.8L310.1 257.0M336.5 260.8L339.0 260.4L341.5 260.0L344.0 259.5L346.5 259.0L348.9 258.5L351.4 257.9L353.9 257.4L356.4 256.9L358.9 256.3L361.4 255.8L363.8 255.3L366.3 254.7L368.8 254.2L367.0 254.6M392.6 266.6L395.1 265.5L397.5 264.4L399.9 263.3L402.3 262.2L404.6 261.1L407.0 259.9L409.3 258.6L411.7 257.4L414.0 256.2L416.3 254.9L418.6 253.6L421.0 252.4L423.3 251.1L425.5 249.8L427.8 248.4L426.3 249.3M452.1 260.9L454.6 260.0L457.1 259.1L459.6 258.2L462.1 257.4L464.6 256.6L467.1 255.8L469.6 255.0L467.9 255.5M148.0 259.2L150.6 259.6L153.1 259.9L155.7 260.2L158.3 260.5L160.9 260.8L163.4 261.1L166.0 261.4L168.6 261.7L171.1 262.0L169.4 261.8M191.7 259.3L194.3 259.7L196.8 260.0L199.4 260.3L202.0 260.5L204.6 260.8L207.2 261.1L209.7 261.3L212.3 261.5L214.9 261.8L213.1 261.6M256.3 260.1L258.9 260.3L261.5 260.5L264.1 260.6L266.7 260.7L269.3 260.8L271.9 260.9L274.5 260.9L277.1 261.0L279.6 261.0L277.8 261.0M307.6 262.1L310.2 261.9L312.7 261.7L315.3 261.5L317.8 261.2L320.4 261.0L322.9 260.8L325.5 260.6L328.0 260.3L330.6 260.1L333.1 259.8L335.6 259.5L333.8 259.8M350.0 264.6L352.4 264.0L354.9 263.5L357.4 262.9L359.9 262.4L362.4 261.9L364.8 261.3L367.3 260.8L369.8 260.3L372.3 259.7L374.8 259.2L377.2 258.6L379.7 258.0L382.1 257.3L380.4 258.0M421.1 268.1L423.3 266.7L425.4 265.2L427.6 263.8L429.7 262.3L431.8 260.8L434.0 259.3L436.1 257.9L438.3 256.4L440.5 255.1L438.9 255.9M474.1 263.1L476.7 262.3L479.3 261.6L481.9 260.8L484.6 260.0L487.1 259.1L485.6 259.9M172.2 262.5L174.8 262.8L177.4 263.2L180.0 263.5L182.5 263.9L185.1 264.2L187.7 264.5L190.2 264.9L192.8 265.2L195.4 265.5L193.6 265.3M227.7 262.8L230.3 263.1L232.9 263.4L235.5 263.6L238.0 263.9L240.6 264.2L243.2 264.5L245.8 264.8L248.3 265.0L250.9 265.3L249.1 265.1M281.7 264.3L284.3 264.3L286.9 264.3L289.4 264.3L292.0 264.3L294.5 264.2L297.1 264.2L299.7 264.2L302.2 264.1L304.8 263.9L307.3 263.7L309.9 263.5L308.0 263.7M327.5 266.8L330.0 266.5L332.5 266.2L335.0 265.9L337.5 265.5L340.1 265.1L342.6 264.7L345.0 264.2L347.5 263.7L350.0 263.2L352.5 262.7L355.0 262.2L357.5 261.6L359.9 261.1L358.1 261.5M371.9 270.9L374.5 270.2L377.0 269.5L379.5 268.8L382.1 268.0L384.6 267.1L387.0 266.2L389.5 265.2L391.9 264.2L394.4 263.2L396.8 262.2L399.2 261.1L401.6 260.0L404.0 258.8L406.4 257.7L408.7 256.5L407.2 257.3M451.2 266.8L453.8 265.9L456.4 265.0L459.0 264.2L461.6 263.4L464.2 262.6L462.6 263.0M154.1 265.7L156.7 266.0L159.2 266.3L161.8 266.7L164.3 267.0L166.9 267.3L169.4 267.6L171.9 267.9L174.5 268.2L177.0 268.6L179.6 268.9L182.1 269.2L180.3 269.0M210.0 266.2L212.5 266.5L215.1 266.7L217.6 266.9L220.2 267.1L222.7 267.4L225.3 267.6L227.8 267.8L230.4 268.1L232.9 268.3L235.5 268.6L238.0 268.8L236.2 268.7M261.1 267.2L263.7 267.3L266.2 267.4L268.7 267.5L271.3 267.5L273.8 267.6L276.3 267.6L278.9 267.6L281.4 267.6L283.9 267.6L286.5 267.6L289.0 267.6L291.6 267.6L294.1 267.5L292.2 267.6M309.3 269.2L311.9 269.0L314.4 268.7L316.9 268.5L319.4 268.3L322.0 268.1L324.5 267.8L327.0 267.6L329.6 267.4L332.1 267.1L334.6 266.8L337.1 266.5L339.6 266.1L342.1 265.7L340.3 266.1M371.7 274.4L374.2 273.7L376.8 273.0L379.3 272.2L381.8 271.4L384.3 270.5L386.8 269.6L389.2 268.6L391.7 267.6L394.1 266.6L396.5 265.5L398.9 264.5L401.3 263.4L403.7 262.3L406.1 261.1L408.5 260.0L406.9 260.8M430.2 272.6L432.6 271.4L434.9 270.1L437.2 268.9L439.5 267.6L441.9 266.3L444.2 265.1L446.6 263.9L444.9 264.6M179.3 269.1L181.8 269.4L184.4 269.8L186.9 270.1L189.5 270.4L192.0 270.7L194.6 271.0L197.1 271.3L199.6 271.6L202.2 271.8L204.7 272.1L207.3 272.3L205.4 272.2M237.2 269.5L239.7 269.7L242.3 270.0L244.8 270.2L247.3 270.4L249.8 270.6L252.4 270.8L254.9 271.0L257.4 271.2L260.0 271.3L262.5 271.5L265.0 271.6L267.6 271.7L270.1 271.8L268.2 271.8M282.2 271.5L284.8 271.4L287.3 271.4L289.8 271.4L292.4 271.3L294.9 271.2L297.4 271.1L300.0 271.0L302.5 270.9L305.0 270.7L307.6 270.5L310.1 270.3L312.6 270.1L315.2 269.9L313.3 270.0M334.1 274.3L336.6 273.9L339.1 273.5L341.6 273.1L344.1 272.6L346.6 272.1L349.1 271.5L351.6 271.0L354.0 270.5L356.5 269.9L359.0 269.3L361.5 268.8L363.9 268.2L366.4 267.6L364.6 268.0M398.9 278.4L401.2 277.3L403.5 276.3L405.8 275.2L408.1 274.1L410.4 273.1L412.7 272.1L415.0 271.0L417.3 269.9L419.6 268.8L421.8 267.6L424.0 266.3L426.1 264.9L428.2 263.4L426.7 264.5M451.1 273.3L453.7 272.5L456.3 271.8L458.9 271.0L461.5 270.2L464.1 269.5L462.5 269.9M130.1 272.5L132.6 272.8L135.2 273.1L137.7 273.3L140.2 273.6L142.7 273.9L145.2 274.1L147.8 274.4L150.3 274.7L152.8 274.9L155.3 275.2L157.9 275.4L160.4 275.7L162.9 276.0L161.1 275.8M178.2 272.3L180.7 272.6L183.2 272.9L185.7 273.2L188.2 273.5L190.8 273.8L193.3 274.1L195.8 274.4L198.3 274.7L200.9 274.9L203.4 275.2L205.9 275.5L208.4 275.7L211.0 275.9L209.1 275.8M238.9 273.1L241.5 273.3L244.0 273.5L246.5 273.7L249.1 273.9L251.6 274.1L254.1 274.2L256.7 274.4L259.2 274.6L261.7 274.7L264.3 274.8L266.8 274.9L269.3 275.0L271.9 275.0L270.0 275.0M291.1 275.5L293.7 275.4L296.2 275.3L298.7 275.1L301.3 275.0L303.8 274.8L306.3 274.6L308.8 274.4L311.4 274.2L313.9 274.0L316.4 273.8L319.0 273.5L321.5 273.3L324.0 273.1L322.2 273.3M348.0 279.5L350.5 278.9L353.1 278.3L355.7 277.7L358.2 277.0L360.8 276.4L363.3 275.7L365.9 275.1L368.5 274.4L371.0 273.7L373.6 273.1L376.1 272.4L378.7 271.7L381.2 270.9L383.7 270.1L386.2 269.2L384.6 269.9M416.4 277.9L418.9 277.1L421.5 276.3L424.0 275.4L426.4 274.4L428.9 273.4L431.3 272.3L433.6 271.2L432.1 272.0M458.7 276.1L461.9 275.2L465.0 274.4L468.1 273.6L467.0 273.9M163.6 275.8L166.1 276.0L168.6 276.3L171.1 276.6L173.7 276.9L176.2 277.2L178.7 277.5L181.2 277.8L183.7 278.1L186.3 278.4L188.8 278.7L191.3 279.0L193.8 279.3L196.3 279.6L194.5 279.4M210.9 276.2L213.4 276.4L215.9 276.7L218.5 276.9L221.0 277.1L223.5 277.3L226.0 277.6L228.6 277.8L231.1 278.0L233.6 278.2L236.2 278.4L238.7 278.6L241.2 278.8L243.7 279.0L241.9 278.9M263.4 277.6L266.0 277.7L268.5 277.8L271.0 277.8L273.6 277.8L276.1 277.8L278.6 277.8L281.2 277.8L283.7 277.8L286.3 277.7L288.8 277.7L291.3 277.6L293.9 277.5L296.4 277.4L294.5 277.6M324.1 280.9L326.7 280.6L329.4 280.3L332.0 280.0L334.6 279.7L337.2 279.3L339.8 278.8L342.4 278.3L345.0 277.8L347.6 277.3L350.2 276.7L352.7 276.1L355.3 275.5L357.9 274.9L360.4 274.3L363.0 273.6L361.3 274.1M373.8 284.9L376.3 284.2L378.9 283.4L381.4 282.7L383.9 281.8L386.4 280.9L388.8 279.9L391.3 278.9L393.7 277.8L396.1 276.7L398.5 275.6L400.9 274.5L403.3 273.4L405.7 272.3L408.1 271.2L410.5 270.1L408.9 270.9M447.4 279.5L450.6 278.6L453.7 277.8L456.8 277.0L455.7 277.3M150.2 279.6L152.7 279.8L155.2 280.0L157.7 280.3L160.3 280.5L162.8 280.7L165.3 281.0L167.8 281.2L170.4 281.4L172.9 281.7L175.4 282.0L177.9 282.2L180.5 282.5L183.0 282.8L181.1 282.6M193.1 279.4L195.7 279.7L198.2 280.0L200.7 280.2L203.2 280.5L205.8 280.7L208.3 281.0L210.8 281.2L213.3 281.4L215.9 281.7L218.4 281.9L220.9 282.1L223.4 282.4L226.0 282.6L224.1 282.4M246.2 280.3L248.7 280.5L251.2 280.6L253.8 280.8L256.3 280.9L258.8 281.0L261.4 281.1L263.9 281.2L266.4 281.3L269.0 281.4L271.5 281.4L274.1 281.4L276.6 281.5L279.1 281.5L277.3 281.5M295.5 282.8L298.1 282.7L300.7 282.5L303.4 282.3L306.0 282.1L308.6 281.9L311.3 281.7L313.9 281.4L316.5 281.2L319.1 281.0L321.8 280.7L324.4 280.5L327.0 280.2L329.7 279.9L332.3 279.6L334.9 279.3L333.2 279.6M349.9 286.6L352.5 285.9L355.1 285.3L357.6 284.6L360.2 283.9L362.7 283.2L365.3 282.6L367.8 281.9L370.4 281.2L372.9 280.5L375.5 279.8L378.0 279.1L380.5 278.4L383.1 277.6L385.6 276.7L388.0 275.8L386.4 276.5M426.0 282.5L428.6 282.1L431.3 281.7L434.0 281.2L436.7 280.7L439.3 280.1L437.7 280.6M171.9 282.7L174.5 282.9L177.0 283.2L179.5 283.5L182.0 283.8L184.6 284.0L187.1 284.3L189.6 284.6L192.1 284.9L194.6 285.2L197.2 285.4L199.7 285.7L202.2 285.9L204.7 286.2L202.9 286.0M225.5 283.5L228.1 283.7L230.6 283.9L233.1 284.0L235.7 284.2L238.2 284.3L240.7 284.5L243.3 284.6L245.8 284.7L248.3 284.9L250.9 285.0L253.4 285.1L255.9 285.2L258.5 285.3L256.6 285.3M265.3 284.9L267.9 284.9L270.4 285.0L272.9 285.0L275.4 285.0L277.9 285.0L280.5 284.9L283.0 284.9L285.5 284.8L288.0 284.7L290.5 284.6L293.1 284.5L295.6 284.4L298.1 284.2L300.6 284.1L303.1 283.9L305.6 283.7L308.1 283.5L310.7 283.3L313.2 283.1L311.3 283.3M332.2 288.8L334.8 288.4L337.4 288.0L340.0 287.5L342.6 287.0L345.2 286.5L347.8 285.9L350.4 285.2L352.9 284.6L355.5 284.0L358.0 283.3L360.6 282.6L363.1 281.9L365.7 281.3L368.2 280.6L370.8 279.9L369.1 280.4M398.9 289.4L401.3 288.4L403.6 287.4L406.0 286.4L408.5 285.5L410.9 284.6L413.3 283.7L415.8 283.0L418.3 282.4L420.9 281.9L419.1 282.1M139.9 286.6L142.5 286.8L145.2 287.0L147.8 287.2L150.4 287.3L153.1 287.5L155.7 287.7L158.3 287.8L161.0 288.0L163.6 288.2L166.2 288.4L168.9 288.6L171.5 288.8L174.1 289.0L176.8 289.2L179.4 289.4L177.7 289.3M190.6 286.2L193.2 286.5L195.7 286.8L198.2 287.0L200.7 287.3L203.2 287.5L205.8 287.8L208.3 288.0L210.8 288.2L213.4 288.5L215.9 288.7L218.4 288.9L220.9 289.1L223.5 289.3L221.6 289.2M247.0 287.3L249.5 287.4L252.1 287.5L254.6 287.6L257.1 287.7L259.7 287.8L262.2 287.9L264.8 288.0L267.3 288.1L269.8 288.1L272.4 288.2L274.9 288.2L277.4 288.2L280.0 288.2L278.1 288.2M291.3 289.6L293.9 289.4L296.5 289.3L299.2 289.1L301.8 288.9L304.4 288.7L307.1 288.5L309.7 288.2L312.3 288.0L315.0 287.8L317.6 287.5L320.2 287.3L322.8 287.1L325.5 286.8L328.1 286.5L330.7 286.2L329.0 286.5M353.3 294.5L355.7 293.9L358.1 293.2L360.6 292.6L363.0 291.9L365.4 291.3L367.9 290.6L370.3 290.0L372.8 289.3L375.2 288.7L377.6 288.0L380.0 287.3L382.5 286.6L384.9 285.9L387.3 285.1L389.6 284.2L392.0 283.3L394.3 282.4L396.6 281.3L398.9 280.3L397.2 281.1M424.7 288.8L427.4 288.6L430.1 288.3L432.8 288.0L435.5 287.7L438.2 287.3L436.6 287.7M171.5 289.7L174.1 289.9L176.6 290.1L179.1 290.4L181.6 290.6L184.2 290.9L186.7 291.1L189.2 291.4L191.7 291.7L194.3 291.9L196.8 292.2L199.3 292.4L201.8 292.7L204.4 292.9L202.5 292.8M219.2 290.3L221.9 290.5L224.5 290.7L227.1 290.8L229.8 291.0L232.4 291.1L235.0 291.2L237.7 291.3L240.3 291.4L243.0 291.5L245.6 291.6L248.2 291.7L250.9 291.8L253.5 291.9L256.2 292.0L258.8 292.1L257.0 292.1M271.1 292.0L273.8 292.0L276.4 292.0L279.0 292.0L281.7 291.9L284.3 291.8L287.0 291.7L289.6 291.6L292.2 291.4L294.9 291.2L297.5 291.1L300.1 290.9L302.8 290.7L305.4 290.5L308.0 290.3L310.7 290.0L308.9 290.2M327.2 294.9L329.8 294.6L332.4 294.3L335.1 293.9L337.7 293.5L340.3 293.1L342.9 292.5L345.4 292.0L348.0 291.4L350.6 290.8L353.2 290.2L355.7 289.5L358.3 288.8L360.8 288.2L363.4 287.5L365.9 286.8L364.2 287.3M386.5 297.0L389.0 296.3L391.4 295.5L393.8 294.8L396.2 293.9L398.6 293.1L401.0 292.3L403.4 291.4L405.8 290.5L408.2 289.7L410.6 288.9L413.0 288.2L415.5 287.7L418.0 287.3L416.1 287.4M147.7 293.6L150.3 293.7L152.9 293.9L155.6 294.0L158.2 294.2L160.8 294.3L163.5 294.5L166.1 294.6L168.7 294.8L171.4 295.0L174.0 295.2L176.6 295.4L179.3 295.6L181.9 295.8L184.5 296.0L187.2 296.3L185.4 296.1M194.8 292.9L197.4 293.2L200.0 293.5L202.7 293.7L205.3 294.0L207.9 294.2L210.6 294.4L213.2 294.6L215.8 294.8L218.5 295.0L221.1 295.2L223.7 295.3L226.4 295.5L229.0 295.6L231.6 295.7L234.3 295.8L232.5 295.7M261.7 294.8L264.3 294.9L267.0 294.9L269.6 295.0L272.2 295.0L274.9 295.0L277.5 294.9L280.2 294.9L282.8 294.8L285.4 294.7L288.1 294.6L290.7 294.5L293.3 294.3L296.0 294.2L298.6 294.0L301.2 293.8L299.5 293.9M298.0 297.0L300.5 296.8L303.0 296.6L305.5 296.4L308.0 296.1L310.6 295.9L313.1 295.7L315.6 295.5L318.1 295.3L320.6 295.0L323.1 294.8L325.6 294.6L328.1 294.3L330.6 294.1L333.1 293.8L335.6 293.5L338.1 293.1L340.6 292.7L343.1 292.3L345.6 291.8L343.8 292.3M358.3 300.2L360.9 299.6L363.5 298.9L366.0 298.2L368.6 297.5L371.1 296.8L373.7 296.2L376.2 295.5L378.8 294.8L381.3 294.1L383.9 293.4L386.4 292.7L388.9 291.9L391.4 291.1L393.9 290.2L396.4 289.3L394.8 290.0M437.0 295.7L440.2 295.2L443.4 294.8L446.6 294.4L445.5 294.4M169.7 296.4L172.3 296.6L175.0 296.8L177.6 297.0L180.2 297.2L182.9 297.5L185.5 297.7L188.1 298.0L190.8 298.2L193.4 298.4L196.0 298.7L198.6 298.9L201.3 299.2L203.9 299.4L206.5 299.7L209.2 299.9L207.4 299.8M227.8 297.4L230.4 297.5L233.1 297.6L235.7 297.7L238.4 297.8L241.0 297.9L243.6 298.0L246.3 298.1L248.9 298.2L251.5 298.3L254.2 298.4L256.8 298.5L259.5 298.6L262.1 298.7L264.7 298.7L267.4 298.8L265.6 298.8M288.7 299.9L291.4 299.7L294.0 299.5L296.6 299.3L299.3 299.1L301.9 298.9L304.5 298.7L307.2 298.4L309.8 298.2L312.4 298.0L315.0 297.7L317.7 297.5L320.3 297.3L322.9 297.0L325.6 296.8L328.2 296.6L326.4 296.8M337.2 303.6L339.7 303.2L342.1 302.8L344.6 302.3L347.1 301.8L349.5 301.3L352.0 300.7L354.4 300.1L356.9 299.5L359.3 298.8L361.8 298.2L364.2 297.6L366.6 296.9L369.1 296.3L371.5 295.6L373.9 295.0L376.4 294.3L378.8 293.7L381.2 293.0L383.7 292.3L381.9 292.9M407.7 299.8L410.3 299.3L412.9 298.9L415.5 298.5L418.1 298.2L420.7 297.9L423.4 297.6L426.0 297.3L424.2 297.5M130.1 300.4L132.8 300.6L135.4 300.7L138.0 300.9L140.7 301.0L143.3 301.2L145.9 301.3L148.6 301.5L151.2 301.6L153.8 301.7L156.5 301.9L159.1 302.0L161.8 302.2L164.4 302.3L167.0 302.4L169.7 302.6L167.9 302.5M183.8 299.7L186.5 300.0L189.1 300.2L191.7 300.4L194.3 300.7L197.0 300.9L199.6 301.2L202.2 301.4L204.9 301.6L207.5 301.8L210.1 302.0L212.8 302.2L215.4 302.4L218.0 302.6L220.7 302.7L223.3 302.9L221.5 302.8M241.3 300.9L243.9 301.0L246.6 301.1L249.2 301.2L251.8 301.3L254.5 301.4L257.1 301.4L259.8 301.5L262.4 301.6L265.0 301.7L267.7 301.7L270.3 301.8L273.0 301.8L275.6 301.8L278.2 301.8L280.9 301.7L279.1 301.8M289.9 303.7L292.4 303.5L294.9 303.3L297.4 303.1L299.9 302.9L302.5 302.7L305.0 302.5L307.5 302.3L310.0 302.0L312.5 301.8L315.0 301.6L317.5 301.4L320.0 301.2L322.5 300.9L325.1 300.7L327.6 300.5L330.1 300.2L332.6 300.0L335.1 299.7L337.6 299.4L335.7 299.7M349.7 306.6L352.2 306.1L354.8 305.5L357.4 304.9L359.9 304.2L362.5 303.6L365.1 302.9L367.6 302.3L370.2 301.6L372.7 300.9L375.3 300.3L377.8 299.6L380.4 299.0L382.9 298.3L385.5 297.6L388.0 296.9L386.4 297.4M402.4 303.6L405.0 303.0L407.6 302.5L410.2 302.0L412.8 301.6L415.4 301.2L418.0 300.8L420.6 300.5L418.9 300.6M460.9 301.9L464.2 301.8L467.4 301.6L470.6 301.4L469.5 301.6M153.9 303.4L156.4 303.6L158.9 303.7L161.4 303.8L163.9 304.0L166.5 304.1L169.0 304.3L171.5 304.5L174.0 304.6L176.5 304.8L179.0 305.0L181.5 305.2L184.1 305.4L186.6 305.6L189.1 305.8L191.6 306.0L194.1 306.3L196.6 306.5L199.1 306.7L201.6 306.9L199.8 306.8M215.5 304.1L218.1 304.3L220.7 304.4L223.4 304.5L226.0 304.6L228.7 304.7L231.3 304.8L233.9 304.9L236.6 305.0L239.2 305.1L241.8 305.2L244.5 305.3L247.1 305.4L249.8 305.5L252.4 305.6L255.0 305.6L253.3 305.6M266.4 305.4L269.0 305.5L271.6 305.5L274.3 305.5L276.9 305.4L279.6 305.4L282.2 305.3L284.8 305.1L287.5 305.0L290.1 304.9L292.8 304.7L295.4 304.5L298.0 304.3L300.6 304.1L303.3 303.9L305.9 303.7L304.2 303.8M309.4 306.9L312.1 306.7L314.7 306.5L317.3 306.2L320.0 306.0L322.6 305.8L325.2 305.5L327.8 305.3L330.5 305.0L333.1 304.7L335.7 304.4L338.3 304.1L341.0 303.7L343.6 303.3L346.2 302.8L348.7 302.3L347.0 302.8M379.0 308.2L381.5 307.7L384.0 307.2L386.5 306.6L389.1 306.1L391.6 305.6L394.1 305.0L396.5 304.4L399.0 303.9L401.5 303.3L404.0 302.7L406.5 302.2L404.7 302.5M441.4 305.7L444.7 305.3L447.9 305.0L451.1 304.7L450.0 304.7M139.1 307.3L141.7 307.4L144.3 307.6L147.0 307.7L149.6 307.8L152.2 308.0L154.9 308.1L157.5 308.3L160.2 308.4L162.8 308.5L165.4 308.7L168.1 308.8L170.7 309.0L173.3 309.2L176.0 309.3L178.6 309.5L176.8 309.4M187.3 306.4L189.8 306.6L192.3 306.9L194.8 307.1L197.3 307.3L199.8 307.5L202.4 307.7L204.9 307.9L207.4 308.1L209.9 308.2L212.4 308.4L214.9 308.6L217.4 308.7L220.0 308.8L222.5 309.0L225.0 309.1L227.5 309.2L230.0 309.3L232.5 309.4L235.1 309.5L233.2 309.4M248.4 307.9L251.0 308.0L253.6 308.0L256.3 308.1L258.9 308.2L261.6 308.3L264.2 308.3L266.8 308.4L269.5 308.4L272.1 308.4L274.8 308.4L277.4 308.4L280.0 308.3L282.7 308.3L285.3 308.2L288.0 308.0L286.2 308.2M295.3 310.6L297.8 310.4L300.3 310.2L302.8 309.9L305.3 309.7L307.8 309.5L310.3 309.3L312.8 309.1L315.4 308.8L317.9 308.6L320.4 308.4L322.9 308.2L325.4 308.0L327.9 307.7L330.4 307.5L332.9 307.2L335.4 306.9L337.9 306.6L340.4 306.3L342.9 305.9L341.1 306.3M363.0 312.2L365.5 311.6L367.9 311.1L370.4 310.5L372.9 310.0L375.4 309.5L377.9 308.9L380.3 308.4L382.8 307.9L385.3 307.4L387.8 306.8L390.3 306.3L392.8 305.8L395.2 305.2L393.4 305.7M429.2 309.2L431.9 308.9L434.6 308.7L437.3 308.4L440.0 308.1L442.8 307.8L441.1 308.0M170.3 310.2L173.0 310.4L175.6 310.5L178.2 310.7L180.9 310.9L183.5 311.2L186.1 311.4L188.8 311.6L191.4 311.8L194.0 312.0L196.6 312.2L199.3 312.4L201.9 312.7L204.5 312.9L207.2 313.1L209.8 313.2L208.1 313.1M229.1 311.0L231.7 311.1L234.3 311.2L237.0 311.3L239.6 311.4L242.3 311.5L244.9 311.6L247.5 311.7L250.2 311.8L252.8 311.9L255.4 312.0L258.1 312.1L260.7 312.1L263.4 312.2L266.0 312.3L268.6 312.3L266.9 312.3M277.0 313.0L279.6 312.9L282.2 312.8L284.9 312.7L287.5 312.5L290.1 312.4L292.8 312.2L295.4 312.0L298.0 311.8L300.7 311.6L303.3 311.4L305.9 311.1L308.6 310.9L311.2 310.7L313.8 310.5L316.5 310.2L314.7 310.4M337.4 315.5L340.0 315.1L342.6 314.8L345.2 314.3L347.8 313.9L350.4 313.4L353.0 312.9L355.6 312.4L358.2 311.8L360.8 311.2L363.4 310.7L365.9 310.1L368.5 309.5L371.1 308.9L373.7 308.3L376.2 307.7L374.5 308.1M398.0 313.5L400.6 313.1L403.2 312.6L405.8 312.2L408.4 311.8L411.0 311.4L413.6 311.0L416.3 310.7L414.5 310.9M457.3 312.2L460.6 312.0L463.8 311.8L467.0 311.6L465.9 311.7M136.1 314.0L138.8 314.2L141.4 314.3L144.1 314.5L146.7 314.6L149.3 314.8L152.0 314.9L154.6 315.1L157.2 315.2L159.9 315.3L162.5 315.5L165.1 315.7L167.8 315.8L170.4 316.0L173.0 316.2L175.7 316.3L173.9 316.2M187.9 313.6L190.5 313.8L193.2 314.0L195.8 314.2L198.4 314.4L201.1 314.6L203.7 314.8L206.3 315.0L209.0 315.2L211.6 315.4L214.2 315.5L216.9 315.7L219.5 315.8L222.1 316.0L224.8 316.1L227.4 316.2L225.7 316.1M235.0 314.5L237.6 314.6L240.3 314.7L242.9 314.8L245.6 314.9L248.2 314.9L250.8 315.0L253.5 315.1L256.1 315.2L258.8 315.3L261.4 315.4L264.0 315.4L266.7 315.5L269.3 315.5L271.9 315.5L274.6 315.5L272.8 315.5M290.6 317.3L293.1 317.1L295.6 316.9L298.1 316.7L300.6 316.5L303.1 316.3L305.6 316.1L308.2 315.9L310.7 315.6L313.2 315.4L315.7 315.2L318.2 315.0L320.7 314.8L323.2 314.5L325.7 314.3L328.2 314.0L330.7 313.8L333.2 313.5L335.8 313.2L338.3 312.9L336.4 313.2M354.5 318.6L357.0 318.1L359.5 317.6L362.0 317.2L364.5 316.7L367.0 316.2L369.5 315.7L372.0 315.2L374.5 314.7L377.0 314.3L379.5 313.8L382.0 313.3L384.4 312.9L386.9 312.5L385.1 312.8M424.6 315.9L427.3 315.7L430.0 315.4L432.8 315.2L435.5 315.0L438.2 314.7L436.5 314.9M157.3 317.2L159.9 317.4L162.5 317.5L165.2 317.7L167.8 317.9L170.4 318.0L173.1 318.2L175.7 318.4L178.3 318.6L181.0 318.8L183.6 319.0L186.2 319.2L188.9 319.4L191.5 319.6L194.1 319.8L196.8 320.0L195.0 319.9M210.5 317.6L213.1 317.7L215.8 317.9L218.4 318.0L221.0 318.2L223.7 318.3L226.3 318.4L228.9 318.5L231.6 318.6L234.2 318.7L236.9 318.8L239.5 318.9L242.1 319.0L244.8 319.1L247.4 319.2L250.1 319.3L248.3 319.2M276.9 319.7L279.5 319.7L282.2 319.6L284.8 319.4L287.4 319.3L290.1 319.2L292.7 319.0L295.3 318.8L298.0 318.6L300.6 318.4L303.2 318.2L305.9 318.0L308.5 317.7L311.1 317.5L313.8 317.3L316.4 317.1L314.6 317.2M316.4 320.8L319.0 320.6L321.7 320.3L324.3 320.1L326.9 319.8L329.5 319.5L332.2 319.2L334.8 318.9L337.4 318.6L340.0 318.3L342.6 317.9L345.3 317.5L347.9 317.1L350.5 316.7L353.1 316.3L355.7 315.8L353.9 316.1M381.8 320.1L384.4 319.7L387.0 319.4L389.6 319.0L392.3 318.6L394.9 318.2L397.5 317.8L400.1 317.4L398.4 317.7M443.9 319.3L447.1 318.9L450.3 318.6L453.5 318.3L452.4 318.3M152.1 320.6L154.7 320.8L157.3 321.0L160.0 321.1L162.6 321.3L165.2 321.5L167.9 321.6L170.5 321.8L173.1 322.0L175.8 322.2L178.4 322.4L181.0 322.6L183.7 322.8L186.3 323.0L188.9 323.2L191.6 323.4L189.8 323.2M196.9 320.7L199.5 320.9L202.2 321.0L204.8 321.2L207.4 321.4L210.1 321.6L212.7 321.7L215.3 321.9L218.0 322.0L220.6 322.1L223.2 322.3L225.9 322.4L228.5 322.5L231.1 322.6L233.8 322.7L236.4 322.8L234.7 322.8M250.1 321.8L252.6 321.8L255.1 321.9L257.6 321.9L260.1 322.0L262.7 322.0L265.2 322.1L267.7 322.1L270.2 322.1L272.7 322.0L275.3 322.0L277.8 322.0L280.3 321.9L282.8 321.8L285.3 321.7L287.9 321.6L290.4 321.5L292.9 321.4L295.4 321.2L297.9 321.0L296.0 321.2M316.9 324.2L319.5 324.0L322.1 323.7L324.8 323.5L327.4 323.2L330.0 322.9L332.6 322.6L335.3 322.3L337.9 322.0L340.5 321.7L343.1 321.3L345.7 321.0L348.3 320.6L351.0 320.2L353.6 319.8L356.2 319.3L354.4 319.6M369.9 324.0L372.4 323.5L375.0 323.1L377.6 322.8L380.1 322.4L382.7 322.0L385.3 321.6L387.8 321.3L390.4 320.9L393.0 320.5L391.2 320.8M436.3 322.7L439.5 322.3L442.7 322.0L445.9 321.7L444.8 321.8M178.5 323.8L181.1 324.0L183.8 324.2L186.4 324.4L189.0 324.6L191.7 324.8L194.3 325.0L196.9 325.2L199.6 325.4L202.2 325.6L204.8 325.8L207.5 325.9L210.1 326.1L212.7 326.3L215.4 326.4L218.0 326.6L216.2 326.5M228.8 324.8L231.4 324.9L233.9 325.0L236.5 325.1L239.0 325.2L241.5 325.2L244.1 325.3L246.6 325.4L249.1 325.5L251.7 325.6L254.2 325.6L256.7 325.7L259.3 325.7L261.8 325.8L260.0 325.8M285.7 326.8L288.3 326.7L290.9 326.6L293.6 326.4L296.2 326.2L298.8 326.0L301.5 325.8L304.1 325.6L306.7 325.4L309.4 325.2L312.0 325.0L314.6 324.7L317.3 324.5L319.9 324.2L322.5 324.0L325.1 323.7L323.4 323.9M341.5 327.5L344.1 327.2L346.6 326.9L349.1 326.5L351.7 326.2L354.2 325.8L356.7 325.4L359.3 325.0L361.8 324.6L364.3 324.2L366.8 323.7L369.4 323.3L367.5 323.6M406.2 326.5L408.9 326.1L411.6 325.7L414.3 325.4L417.0 325.1L419.7 324.8L418.0 324.9M134.2 327.4L136.8 327.5L139.4 327.7L142.1 327.9L144.7 328.1L147.3 328.3L150.0 328.4L152.6 328.6L155.2 328.8L157.9 329.0L160.5 329.2L163.1 329.3L165.8 329.5L168.4 329.7L171.0 329.9L173.7 330.1L171.9 330.0M187.6 327.3L190.2 327.5L192.9 327.7L195.5 327.9L198.1 328.1L200.8 328.3L203.4 328.5L206.0 328.6L208.7 328.8L211.3 329.0L213.9 329.1L216.6 329.3L219.2 329.4L221.9 329.5L224.5 329.7L227.1 329.8L225.4 329.7M246.1 328.5L248.6 328.6L251.2 328.6L253.7 328.7L256.3 328.7L258.8 328.8L261.3 328.8L263.9 328.8L266.4 328.8L268.9 328.8L271.5 328.8L274.0 328.8L276.6 328.8L279.1 328.7L277.2 328.8M300.9 330.3L303.4 330.1L306.0 329.9L308.5 329.7L311.0 329.5L313.6 329.3L316.1 329.0L318.6 328.8L321.1 328.6L323.7 328.3L326.2 328.1L328.7 327.8L331.2 327.6L333.8 327.3L331.9 327.5M341.6 330.8L344.1 330.5L346.7 330.2L349.2 329.9L351.7 329.5L354.3 329.2L356.8 328.8L359.3 328.4L361.9 328.0L364.4 327.6L366.9 327.2L369.5 326.8L367.6 327.1M411.0 329.6L414.2 329.2L417.5 328.8L420.7 328.4L419.5 328.5M158.2 330.7L160.8 330.9L163.4 331.1L166.1 331.3L168.7 331.4L171.3 331.6L174.0 331.8L176.6 332.0L179.2 332.2L181.9 332.4L184.5 332.6L187.1 332.8L189.8 333.0L192.4 333.2L195.0 333.4L197.7 333.5L195.9 333.4M213.6 331.4L216.2 331.5L218.7 331.7L221.2 331.8L223.8 331.9L226.3 332.0L228.8 332.1L231.4 332.2L233.9 332.3L236.4 332.4L239.0 332.5L241.5 332.5L244.1 332.6L246.6 332.7L244.7 332.7M268.1 332.6L270.7 332.6L273.2 332.5L275.8 332.5L278.3 332.4L280.8 332.4L283.4 332.3L285.9 332.2L288.4 332.1L291.0 332.0L293.5 331.9L296.0 331.7L298.6 331.6L301.1 331.4L299.2 331.5M315.1 333.7L317.7 333.4L320.2 333.2L322.8 333.0L325.3 332.7L327.9 332.5L330.4 332.2L333.0 331.9L335.5 331.7L338.1 331.4L340.6 331.1L343.1 330.9L341.3 331.1M380.9 333.3L383.6 333.0L386.3 332.6L389.0 332.2L391.7 331.8L394.4 331.4L392.7 331.7M140.1 334.1L142.7 334.3L145.3 334.5L148.0 334.7L150.6 334.9L153.2 335.0L155.9 335.2L158.5 335.4L161.1 335.6L163.8 335.8L166.4 336.0L169.0 336.2L171.7 336.3L174.3 336.5L176.9 336.7L179.6 336.9L177.8 336.8M191.4 334.4L193.9 334.6L196.4 334.8L198.9 335.0L201.5 335.1L204.0 335.3L206.5 335.5L209.1 335.6L211.6 335.7L214.1 335.9L216.7 336.0L219.2 336.2L221.7 336.3L224.3 336.4L222.4 336.3M250.6 335.5L253.1 335.5L255.6 335.6L258.2 335.6L260.7 335.6L263.2 335.6L265.8 335.6L268.3 335.6L270.9 335.6L273.4 335.6L275.9 335.5L278.5 335.5L281.0 335.5L283.5 335.4L281.7 335.5M314.0 337.0L316.5 336.8L319.1 336.6L321.6 336.3L324.2 336.1L326.7 335.8L329.3 335.6L331.8 335.4L334.3 335.1L336.9 334.9L339.4 334.6L342.0 334.4L340.2 334.6M374.8 336.8L377.5 336.4L380.2 336.0L382.9 335.6L385.6 335.2L388.3 334.8L386.6 335.1M170.0 337.7L172.6 337.9L175.1 338.1L177.6 338.3L180.2 338.5L182.7 338.6L185.2 338.8L187.8 339.0L190.3 339.2L192.8 339.4L195.4 339.5L197.9 339.7L200.4 339.9L202.9 340.1L201.1 339.9M220.7 338.5L223.2 338.6L225.8 338.7L228.3 338.8L230.9 338.9L233.4 338.9L236.0 339.0L238.6 339.1L241.1 339.1L243.7 339.2L246.2 339.2L248.8 339.3L247.0 339.3M289.6 339.9L292.2 339.8L294.8 339.7L297.3 339.5L299.9 339.4L302.4 339.2L305.0 339.0L307.5 338.8L310.1 338.6L312.6 338.4L315.2 338.2L317.7 337.9L315.9 338.1M344.3 340.1L347.0 339.8L349.6 339.6L352.2 339.3L354.8 339.0L357.5 338.7L360.1 338.4L362.7 338.1L361.0 338.3M130.8 340.9L133.5 341.1L136.1 341.3L138.7 341.5L141.4 341.7L144.0 341.8L146.6 342.0L149.3 342.2L151.9 342.4L154.5 342.6L157.2 342.8L159.8 343.0L162.4 343.1L165.1 343.3L167.7 343.5L170.3 343.7L168.6 343.6M190.3 341.3L192.8 341.4L195.3 341.6L197.9 341.8L200.4 341.9L202.9 342.1L205.5 342.3L208.0 342.4L210.5 342.5L213.1 342.7L215.6 342.8L218.1 342.9L220.7 343.1L223.2 343.2L221.3 343.1M248.5 342.3L251.1 342.4L253.7 342.4L256.2 342.4L258.8 342.4L261.3 342.4L263.9 342.4L266.5 342.4L269.0 342.4L271.6 342.4L274.1 342.4L276.7 342.3L274.9 342.4M297.8 343.6L300.3 343.4L302.9 343.2L305.4 343.0L308.0 342.8L310.5 342.6L313.1 342.4L315.6 342.2L318.2 342.0L320.7 341.7L323.3 341.5L325.8 341.3L324.0 341.4M371.4 343.3L374.6 342.9L377.8 342.4L381.0 341.9L379.8 342.1M172.2 344.5L174.8 344.7L177.3 344.9L179.8 345.1L182.4 345.3L184.9 345.4L187.4 345.6L189.9 345.8L192.5 346.0L195.0 346.2L197.5 346.3L200.1 346.5L202.6 346.7L205.1 346.8L203.3 346.7M222.9 345.4L225.4 345.5L228.0 345.6L230.5 345.6L233.1 345.7L235.7 345.8L238.2 345.8L240.8 345.8L243.3 345.9L245.9 345.9L248.5 345.9L251.0 346.0L249.2 346.0M273.6 346.1L276.2 346.1L278.7 346.0L281.3 346.0L283.8 345.9L286.4 345.9L289.0 345.8L291.5 345.7L294.1 345.6L296.6 345.5L299.2 345.4L301.7 345.2L299.9 345.4M333.5 346.7L336.1 346.5L338.7 346.3L341.4 346.0L344.0 345.8L346.6 345.6L349.3 345.3L351.9 345.1L350.1 345.3M156.2 348.1L158.7 348.3L161.3 348.5L163.9 348.7L166.4 348.8L169.0 349.0L171.5 349.2L174.1 349.4L176.6 349.6L179.2 349.8L181.7 349.9L184.3 350.1L182.4 350.0M214.4 348.7L216.9 348.8L219.5 348.9L222.1 349.0L224.6 349.1L227.2 349.1L229.7 349.2L232.3 349.3L234.8 349.3L237.4 349.4L240.0 349.4L242.5 349.4L240.7 349.4M262.7 349.3L265.2 349.3L267.8 349.2L270.3 349.2L272.9 349.2L275.5 349.2L278.0 349.2L280.6 349.2L283.1 349.2L285.7 349.1L288.3 349.1L290.8 349.0L289.0 349.1M316.1 350.1L318.7 349.9L321.3 349.7L323.9 349.4L326.6 349.2L329.2 349.0L331.8 348.7L334.5 348.5L332.7 348.7M175.7 351.5L178.2 351.7L180.8 351.9L183.3 352.1L185.9 352.2L188.4 352.4L191.0 352.6L193.6 352.8L196.1 353.0L198.7 353.1L201.2 353.3L203.8 353.5L201.9 353.4M229.0 352.4L231.5 352.5L234.1 352.5L236.7 352.5L239.2 352.6L241.8 352.6L244.3 352.6L246.9 352.6L249.5 352.6L252.0 352.6L254.6 352.6L257.1 352.6L255.3 352.6M294.6 353.2L297.2 353.1L299.9 352.9L302.5 352.8L305.1 352.6L307.8 352.4L310.4 352.2L313.0 352.0L311.3 352.2M346.0 353.2L349.3 352.9L352.5 352.6L355.7 352.3L354.6 352.4M126.4 354.9L129.0 355.1L131.5 355.3L134.1 355.5L136.6 355.6L139.2 355.8L141.7 356.0L144.3 356.2L146.8 356.4L149.4 356.5L151.9 356.7L154.5 356.9L152.7 356.8M183.7 354.9L186.2 355.1L188.8 355.3L191.4 355.5L193.9 355.7L196.5 355.8L199.0 356.0L201.6 356.2L204.1 356.3L206.7 356.5L209.2 356.6L211.8 356.8L210.0 356.7M245.7 356.0L248.3 356.0L250.8 356.0L253.4 356.0L255.9 356.0L258.5 356.0L261.1 356.0L263.6 356.0L266.2 356.0L268.7 356.0L271.3 356.0L273.9 356.0L272.0 356.0M298.1 356.7L300.7 356.5L303.3 356.4L306.0 356.2L308.6 356.0L311.2 355.8L313.9 355.6L316.5 355.4L314.7 355.5M161.9 358.3L164.4 358.5L167.0 358.7L169.5 358.8L172.1 359.0L174.6 359.2L177.2 359.4L179.7 359.6L182.3 359.8L184.8 360.0L187.4 360.2L189.9 360.3L188.1 360.2M209.6 358.8L212.2 358.9L214.7 359.1L217.3 359.2L219.8 359.2L222.4 359.3L224.9 359.4L227.5 359.5L230.1 359.5L232.6 359.6L235.2 359.6L237.7 359.7L235.9 359.6M263.6 359.4L266.2 359.4L268.8 359.4L271.4 359.4L274.0 359.4L276.6 359.4L279.2 359.4L281.8 359.4L284.4 359.4L287.0 359.3L285.2 359.4M329.8 360.0L333.1 359.7L336.3 359.4L339.5 359.1L338.4 359.2M141.2 361.7L143.8 361.9L146.3 362.1L148.9 362.3L151.4 362.4L154.0 362.6L156.5 362.8L159.1 363.0L161.6 363.2L164.2 363.3L166.7 363.5L169.3 363.7L167.5 363.6M199.0 362.1L201.6 362.2L204.2 362.4L206.8 362.5L209.4 362.7L212.0 362.8L214.6 362.9L217.2 363.0L219.7 363.1L222.3 363.2L220.5 363.2M263.5 362.8L266.1 362.8L268.8 362.8L271.4 362.8L274.0 362.8L276.7 362.8L279.3 362.8L282.0 362.8L280.2 362.8M316.8 363.4L320.1 363.1L323.3 362.8L326.5 362.5L325.4 362.6M183.5 365.3L186.1 365.5L188.7 365.7L191.3 365.8L193.9 366.0L196.4 366.2L199.0 366.4L201.6 366.5L204.2 366.7L206.8 366.9L205.0 366.8M222.7 366.0L225.3 366.0L227.9 366.1L230.5 366.1L233.1 366.2L235.7 366.2L238.3 366.2L240.9 366.2L243.5 366.3L246.1 366.3L244.3 366.3M295.3 366.5L298.6 366.4L301.8 366.2L305.0 366.0L303.9 366.1M143.0 368.6L145.6 368.8L148.2 369.0L150.8 369.2L153.4 369.4L155.9 369.6L158.5 369.8L161.1 370.0L163.7 370.2L166.3 370.4L164.5 370.3M201.7 368.9L204.3 369.1L206.9 369.2L209.5 369.4L212.1 369.5L214.7 369.6L217.3 369.7L219.9 369.8L222.4 369.9L225.0 370.0L223.2 370.0M247.1 369.6L249.7 369.6L252.4 369.6L255.0 369.6L257.7 369.6L260.3 369.6L262.9 369.6L265.6 369.6L263.8 369.6M162.1 371.9L164.7 372.2L167.3 372.4L169.8 372.6L172.4 372.8L175.0 373.0L177.6 373.2L180.2 373.4L182.8 373.6L185.3 373.8L183.5 373.7M224.5 372.8L227.1 372.9L229.8 372.9L232.4 373.0L235.1 373.0L237.7 373.0L240.3 373.0L243.0 373.1L241.2 373.1M281.6 373.1L284.8 373.0L288.1 373.0L291.3 373.0L290.1 373.0M160.6 375.5L163.2 375.7L165.9 376.0L168.5 376.2L171.1 376.4L173.7 376.6L176.4 376.8L179.0 377.1L177.2 376.9M208.1 375.9L210.7 376.1L213.4 376.2L216.0 376.3L218.6 376.4L221.3 376.5L223.9 376.6L226.6 376.6L224.8 376.6M267.6 376.4L270.9 376.4L274.1 376.4L277.4 376.4L276.2 376.4M178.6 378.9L181.2 379.2L183.9 379.4L186.5 379.6L189.1 379.8L191.8 380.0L194.4 380.2L197.0 380.4L195.3 380.3M238.2 379.8L240.9 379.8L243.7 379.8L246.4 379.8L249.1 379.8L251.8 379.8L250.1 379.8M138.2 382.3L140.9 382.5L143.5 382.8L146.1 383.0L148.8 383.2L151.4 383.4L154.0 383.6L156.7 383.9L154.9 383.7M188.0 382.4L190.6 382.6L193.2 382.8L195.9 383.0L198.5 383.2L201.1 383.4L203.8 383.6L206.4 383.7L204.6 383.6M243.2 383.2L246.4 383.2L249.6 383.2L252.9 383.2L251.7 383.2M164.5 385.9L167.2 386.1L169.9 386.4L172.7 386.6L175.4 386.8L178.1 387.1L176.4 386.9M222.7 386.4L225.4 386.5L228.1 386.6L230.8 386.6L233.5 386.6L236.3 386.7L234.6 386.7M155.7 389.3L158.4 389.5L161.1 389.8L163.8 390.0L166.5 390.2L169.2 390.5L167.5 390.3M208.4 389.6L211.1 389.8L213.8 389.9L216.6 390.0L219.3 390.1L222.0 390.2L220.3 390.2M184.1 392.7L186.8 393.0L189.5 393.2L192.3 393.4L195.0 393.6L197.7 393.8L196.0 393.7M153.9 396.1L156.6 396.3L159.3 396.6L162.0 396.8L164.8 397.0L167.5 397.3L165.8 397.1M197.4 396.4L200.7 396.6L203.9 396.8L207.1 397.0L206.0 397.0M177.1 399.5L179.8 399.7L182.5 400.0L185.2 400.2L187.9 400.4L190.6 400.6L188.9 400.5M169.3 403.0L172.6 403.3L175.8 403.6L179.0 403.9L177.9 403.8" fill="none" stroke="#0a0a0a" stroke-width="1.05" stroke-linecap="butt"/>
<path d="M283.3 122.6L282.2 118.0L285.7 118.5ZM263.8 124.5L261.6 120.2L265.2 119.9ZM322.4 112.7L326.4 115.3L323.4 117.3ZM268.0 135.3L265.2 131.5L268.6 130.6ZM361.3 121.5L366.0 122.2L364.2 125.3ZM490.5 120.6L488.3 124.8L486.0 122.1ZM238.8 134.0L235.1 130.9L238.3 129.2ZM337.9 120.1L340.5 124.0L337.0 124.7ZM449.5 123.6L447.6 128.0L445.1 125.4ZM281.7 141.9L278.4 138.5L281.7 137.2ZM335.3 123.5L337.8 127.5L334.3 128.1ZM392.3 126.0L391.7 130.7L388.6 128.9ZM448.8 127.0L446.9 131.4L444.4 128.8ZM254.3 144.5L250.6 141.5L253.7 139.8ZM355.9 126.2L360.2 128.2L357.5 130.7ZM471.0 129.5L468.9 133.7L466.5 131.1ZM267.6 150.4L264.3 147.1L267.6 145.7ZM360.1 128.8L364.6 130.4L362.2 133.1ZM485.1 133.1L482.9 137.3L480.6 134.6ZM293.6 147.4L289.2 145.6L291.7 143.0ZM332.8 135.6L334.1 140.2L330.5 139.8ZM391.9 132.3L391.3 137.0L388.2 135.2ZM454.8 132.7L452.9 137.1L450.4 134.5ZM227.9 150.5L223.9 148.0L226.8 145.9ZM280.7 154.7L276.6 152.3L279.5 150.1ZM389.7 135.5L389.2 140.2L386.0 138.5ZM435.0 138.2L433.2 142.5L430.6 140.0ZM489.2 138.5L486.9 142.7L484.7 139.9ZM242.6 157.5L238.7 154.9L241.7 152.9ZM356.5 136.5L358.0 141.0L354.4 140.8ZM461.9 141.4L460.0 145.7L457.5 143.1ZM265.8 161.7L261.4 159.9L264.0 157.3ZM372.0 138.4L372.3 143.1L368.9 142.0ZM430.9 145.2L428.8 149.4L426.4 146.7ZM493.2 145.4L490.9 149.6L488.7 146.8ZM243.1 164.1L239.0 161.8L241.8 159.5ZM304.8 156.7L300.5 158.6L300.4 155.0ZM348.5 146.0L348.8 150.7L345.4 149.6ZM398.8 148.8L397.8 153.5L394.9 151.5ZM466.4 148.4L464.3 152.6L461.9 150.0ZM223.0 163.8L218.8 161.6L221.6 159.2ZM277.5 166.0L272.8 165.3L274.7 162.2ZM328.6 153.4L327.9 158.2L324.8 156.3ZM387.4 150.0L386.9 154.8L383.7 153.1ZM455.7 150.1L453.7 154.4L451.3 151.8ZM252.6 171.9L248.2 170.1L250.7 167.5ZM307.6 162.5L303.4 164.6L303.1 161.0ZM365.1 149.6L364.5 154.3L361.3 152.5ZM421.6 155.2L419.5 159.4L417.1 156.7ZM469.3 155.4L467.1 159.6L464.8 156.9ZM259.3 174.8L254.8 173.2L257.2 170.5ZM316.5 164.9L312.6 167.6L311.9 164.1ZM379.5 157.6L378.4 162.2L375.5 160.2ZM426.7 158.7L424.5 162.9L422.2 160.2ZM480.0 157.6L477.7 161.7L475.5 158.9ZM236.5 176.8L232.1 175.1L234.6 172.5ZM297.9 173.7L293.3 174.8L293.8 171.3ZM354.9 160.5L353.4 165.0L350.6 162.7ZM405.4 162.0L403.5 166.3L401.0 163.7ZM460.4 162.3L458.2 166.5L455.9 163.7ZM515.2 162.4L513.0 166.6L510.7 163.9ZM551.5 163.2L549.7 167.6L547.2 165.1ZM276.5 179.5L271.8 179.0L273.5 175.9ZM334.1 169.2L331.4 173.1L329.4 170.1ZM385.2 162.1L383.4 166.5L380.8 164.0ZM442.9 165.7L440.7 169.9L438.4 167.2ZM502.2 166.1L499.8 170.2L497.6 167.4ZM540.7 166.7L538.9 171.1L536.3 168.5ZM259.3 183.8L254.6 183.0L256.5 180.0ZM309.8 175.4L305.6 177.6L305.3 174.0ZM360.7 167.0L358.3 171.2L356.1 168.3ZM413.1 169.0L411.0 173.2L408.6 170.5ZM475.6 169.5L473.2 173.6L471.0 170.7ZM516.4 169.2L514.1 173.4L511.8 170.7ZM274.1 187.0L269.4 186.9L270.8 183.6ZM323.0 178.4L318.9 180.9L318.4 177.3ZM383.6 169.5L381.5 173.8L379.1 171.1ZM441.8 172.8L439.5 176.9L437.2 174.1ZM485.6 173.1L483.1 177.1L481.0 174.2ZM543.8 173.5L541.9 177.9L539.4 175.3ZM237.5 188.8L232.8 188.1L234.7 185.0ZM307.5 185.8L303.2 187.7L303.1 184.1ZM359.1 174.9L356.5 178.9L354.4 176.0ZM411.7 174.4L409.5 178.6L407.1 175.8ZM464.8 176.4L462.3 180.5L460.2 177.6ZM514.8 177.6L512.5 181.8L510.2 179.0ZM178.8 188.3L174.1 188.4L175.3 185.0ZM229.0 190.5L224.3 189.8L226.1 186.7ZM285.8 191.5L281.1 192.0L282.1 188.6ZM350.7 181.1L347.8 184.9L346.0 181.8ZM390.8 176.4L388.6 180.6L386.2 177.9ZM442.4 178.4L440.0 182.5L437.8 179.6ZM496.4 180.0L493.9 184.0L491.8 181.1ZM205.2 192.1L200.5 191.9L202.0 188.6ZM253.8 194.0L249.0 193.9L250.4 190.6ZM315.1 190.2L310.7 192.1L310.7 188.5ZM370.5 182.4L367.9 186.4L365.8 183.5ZM424.1 181.9L421.6 185.9L419.5 183.0ZM480.8 183.5L478.2 187.5L476.1 184.5ZM525.3 184.3L523.1 188.5L520.8 185.7ZM211.2 195.4L206.5 195.3L207.9 192.0ZM270.5 197.9L265.7 198.0L267.0 194.6ZM320.5 192.8L316.1 194.8L316.0 191.2ZM371.8 187.4L369.1 191.3L367.1 188.3ZM426.6 185.5L424.1 189.5L422.0 186.5ZM475.6 185.6L473.0 189.5L471.0 186.6ZM534.5 187.6L532.3 191.8L530.0 189.1ZM177.8 198.4L173.0 198.6L174.2 195.2ZM229.9 199.6L225.1 199.4L226.6 196.1ZM306.9 198.0L302.5 199.7L302.6 196.1ZM350.6 192.2L347.0 195.3L345.9 191.8ZM400.8 188.9L398.4 192.9L396.2 190.0ZM462.1 188.9L459.5 192.8L457.5 189.9ZM508.9 191.3L506.5 195.4L504.3 192.6ZM163.2 201.8L158.5 202.0L159.7 198.6ZM227.6 202.8L222.8 202.7L224.2 199.4ZM290.2 202.5L285.6 203.6L286.1 200.0ZM342.6 196.3L338.8 199.2L337.9 195.7ZM384.2 191.8L381.5 195.7L379.5 192.7ZM440.9 190.9L438.3 194.9L436.2 191.9ZM496.7 193.7L494.1 197.7L492.0 194.8ZM203.7 205.6L199.0 205.8L200.2 202.4ZM249.6 207.0L244.8 207.0L246.2 203.7ZM313.5 203.5L309.1 205.3L309.1 201.7ZM364.7 198.8L361.6 202.5L359.9 199.3ZM410.2 196.0L407.5 200.0L405.5 196.9ZM475.5 194.6L472.8 198.5L470.8 195.5ZM518.2 196.4L515.9 200.6L513.6 197.8ZM164.2 208.6L159.4 208.8L160.6 205.4ZM210.9 209.2L206.1 209.3L207.5 205.9ZM274.0 209.8L269.3 210.5L270.2 207.0ZM337.7 204.5L333.8 207.2L333.0 203.7ZM384.1 199.9L381.2 203.7L379.4 200.6ZM430.9 198.0L428.3 202.0L426.3 199.0ZM497.1 199.3L494.5 203.3L492.4 200.4ZM194.2 211.7L189.5 212.3L190.4 208.9ZM243.1 212.8L238.3 212.9L239.6 209.5ZM296.1 211.2L291.6 212.6L291.9 209.0ZM355.3 206.7L351.7 209.9L350.5 206.5ZM404.7 203.1L401.9 207.0L400.0 203.9ZM469.3 200.0L466.6 203.9L464.6 200.9ZM512.5 203.3L510.2 207.5L507.9 204.7ZM179.3 215.4L174.6 215.6L175.8 212.2ZM231.1 216.2L226.4 216.3L227.6 212.9ZM292.4 214.3L287.9 215.7L288.2 212.1ZM345.0 210.9L341.0 213.5L340.3 210.0ZM403.1 206.6L400.3 210.4L398.4 207.4ZM452.8 204.4L450.2 208.4L448.2 205.5ZM505.8 205.8L503.4 209.9L501.3 207.0ZM195.6 218.1L190.9 218.9L191.6 215.4ZM257.6 219.5L252.8 219.7L254.0 216.3ZM311.7 217.3L307.3 219.0L307.3 215.4ZM360.6 213.9L357.2 217.2L355.9 213.8ZM428.7 208.4L426.1 212.4L424.1 209.4ZM475.3 208.6L472.5 212.5L470.6 209.4ZM528.8 211.4L526.6 215.6L524.3 212.8ZM210.8 222.1L206.0 222.4L207.2 219.0ZM264.7 222.6L260.0 223.1L261.0 219.7ZM319.7 220.0L315.4 222.1L315.2 218.5ZM376.3 214.4L373.4 218.1L371.6 215.0ZM428.5 211.8L425.8 215.8L423.8 212.7ZM491.6 211.2L488.9 215.0L486.9 212.0ZM174.8 225.1L170.1 225.7L171.0 222.2ZM237.5 225.9L232.7 226.3L233.8 222.9ZM296.2 224.3L291.6 225.7L291.9 222.2ZM340.8 221.6L336.8 224.1L336.2 220.6ZM410.8 215.6L408.0 219.4L406.1 216.4ZM459.5 215.2L456.7 219.0L454.8 216.0ZM505.1 217.7L502.6 221.8L500.5 218.9ZM231.9 229.1L227.2 229.7L228.2 226.2ZM283.4 227.8L278.8 229.2L279.1 225.6ZM331.4 225.5L327.4 228.0L326.8 224.4ZM397.0 219.8L394.0 223.5L392.3 220.4ZM441.9 218.7L439.2 222.6L437.2 219.6ZM491.5 220.8L488.5 224.5L486.8 221.4ZM190.3 231.6L185.6 232.4L186.4 228.9ZM246.4 232.3L241.7 233.0L242.6 229.5ZM315.6 230.3L311.3 232.3L311.1 228.7ZM359.8 227.9L356.0 230.8L355.0 227.3ZM417.4 221.3L414.6 225.1L412.7 222.1ZM476.7 223.1L473.6 226.8L471.9 223.6ZM223.2 235.2L218.5 236.1L219.2 232.6ZM263.5 235.3L258.8 236.3L259.5 232.8ZM331.5 232.3L327.4 234.8L326.9 231.2ZM392.7 227.4L389.6 231.0L388.0 227.8ZM442.0 224.6L439.2 228.5L437.3 225.4ZM495.8 228.9L492.8 232.6L491.1 229.4ZM181.4 238.0L176.7 239.0L177.3 235.4ZM252.4 238.7L247.7 239.6L248.4 236.1ZM306.4 237.2L302.0 239.0L302.0 235.4ZM360.9 234.1L357.1 237.0L356.2 233.5ZM406.2 230.1L403.2 233.8L401.5 230.7ZM470.1 230.2L467.0 233.7L465.4 230.5ZM179.4 241.2L174.7 242.3L175.3 238.8ZM235.8 241.7L231.2 242.7L231.8 239.2ZM294.5 240.6L290.1 242.4L290.1 238.8ZM350.1 238.0L346.2 240.7L345.4 237.2ZM398.1 234.3L395.0 237.9L393.4 234.7ZM448.4 232.9L445.4 236.6L443.7 233.5ZM504.5 236.9L501.3 240.5L499.7 237.2ZM204.1 245.1L199.5 246.3L199.9 242.7ZM258.7 245.1L254.1 246.3L254.6 242.7ZM315.9 243.4L311.7 245.5L311.4 241.9ZM366.8 240.4L362.9 243.2L362.1 239.7ZM421.5 235.4L418.5 239.1L416.7 236.0ZM477.0 237.8L473.7 241.2L472.2 237.9ZM160.8 247.9L156.2 249.2L156.6 245.7ZM205.3 248.3L200.7 249.6L201.2 246.0ZM270.2 248.2L265.7 249.8L265.9 246.2ZM326.6 246.1L322.4 248.4L322.0 244.8ZM386.4 243.1L382.9 246.3L381.6 242.9ZM437.9 236.9L435.0 240.6L433.2 237.5ZM484.4 243.3L481.1 246.7L479.7 243.4ZM189.9 252.1L185.3 253.2L185.8 249.7ZM235.1 251.8L230.5 253.1L231.0 249.5ZM301.5 250.6L297.1 252.4L297.1 248.8ZM348.5 248.0L344.6 250.7L343.8 247.2ZM412.0 242.6L409.0 246.2L407.3 243.1ZM459.3 243.9L456.0 247.3L454.5 244.0ZM512.5 247.9L509.3 251.4L507.7 248.1ZM169.7 255.2L165.1 256.5L165.5 252.9ZM226.1 255.1L221.5 256.4L221.9 252.8ZM281.8 254.2L277.4 256.0L277.4 252.4ZM343.5 251.9L339.6 254.5L338.9 250.9ZM389.5 249.2L386.1 252.5L384.8 249.2ZM444.9 244.7L441.9 248.4L440.2 245.2ZM497.3 250.6L494.0 254.1L492.5 250.8ZM209.7 258.8L205.1 260.2L205.5 256.6ZM250.9 258.9L246.3 260.3L246.7 256.7ZM314.5 256.6L310.3 258.8L310.0 255.2ZM371.3 253.7L367.4 256.4L366.6 252.9ZM430.1 247.0L427.2 250.8L425.4 247.8ZM472.1 254.2L468.5 257.2L467.4 253.8ZM173.7 262.4L169.1 263.6L169.6 260.0ZM217.5 262.0L212.9 263.4L213.3 259.8ZM282.2 261.0L277.8 262.8L277.8 259.2ZM338.2 259.2L334.1 261.6L333.6 258.0ZM384.6 256.6L380.9 259.7L379.8 256.3ZM442.7 253.7L439.8 257.5L438.0 254.3ZM489.7 258.2L486.3 261.5L484.9 258.2ZM198.0 265.8L193.4 267.1L193.8 263.6ZM253.5 265.5L249.0 266.9L249.3 263.3ZM312.4 263.3L308.2 265.5L307.9 261.9ZM362.4 260.5L358.5 263.2L357.7 259.7ZM411.0 255.2L408.0 258.9L406.3 255.7ZM466.8 261.8L463.0 264.8L462.1 261.3ZM184.6 269.6L180.0 270.8L180.5 267.2ZM240.6 269.1L236.0 270.5L236.4 266.9ZM296.6 267.5L292.3 269.4L292.2 265.8ZM344.6 265.3L340.6 267.9L340.0 264.3ZM410.8 258.8L407.8 262.4L406.1 259.2ZM448.9 262.8L445.7 266.2L444.2 263.0ZM209.8 272.6L205.3 274.0L205.6 270.4ZM272.6 271.8L268.2 273.6L268.3 270.0ZM317.7 269.6L313.5 271.8L313.1 268.2ZM368.9 267.0L365.0 269.8L364.2 266.3ZM430.3 262.0L427.7 266.0L425.6 263.0ZM466.7 268.8L463.0 271.7L462.0 268.2ZM165.4 276.2L160.9 277.6L161.3 274.0ZM213.5 276.2L208.9 277.6L209.3 274.0ZM274.4 275.1L270.0 276.8L270.0 273.2ZM326.5 272.9L322.3 275.1L322.0 271.5ZM388.7 268.3L385.2 271.6L383.9 268.3ZM436.0 269.9L432.9 273.6L431.2 270.4ZM471.2 272.7L467.5 275.6L466.5 272.1ZM198.9 279.8L194.3 281.2L194.7 277.6ZM246.3 279.2L241.8 280.7L242.0 277.1ZM298.9 277.3L294.6 279.4L294.4 275.8ZM365.6 273.0L361.7 275.8L360.9 272.3ZM412.9 269.0L409.7 272.5L408.1 269.2ZM460.0 276.2L456.2 279.0L455.2 275.5ZM185.5 283.1L180.9 284.4L181.3 280.8ZM228.5 282.8L224.0 284.2L224.2 280.6ZM281.7 281.4L277.3 283.3L277.2 279.7ZM337.5 278.9L333.4 281.4L332.9 277.8ZM390.5 274.8L387.1 278.2L385.7 274.9ZM442.0 279.4L438.2 282.3L437.2 278.8ZM207.3 286.5L202.7 287.8L203.1 284.2ZM261.0 285.4L256.5 287.1L256.7 283.5ZM315.7 282.9L311.5 285.1L311.1 281.5ZM373.3 279.2L369.6 282.1L368.6 278.6ZM423.5 281.5L419.4 283.9L418.8 280.4ZM182.0 289.7L177.5 291.1L177.8 287.5ZM226.0 289.5L221.5 291.0L221.7 287.4ZM282.5 288.1L278.2 290.0L278.1 286.4ZM333.3 285.9L329.2 288.3L328.7 284.7ZM401.2 279.2L398.0 282.7L396.4 279.5ZM440.9 286.9L436.9 289.5L436.3 285.9ZM206.9 293.2L202.4 294.5L202.7 291.0ZM261.4 292.2L257.0 293.9L257.1 290.3ZM313.3 289.8L309.1 292.0L308.7 288.4ZM368.5 286.1L364.7 289.0L363.7 285.5ZM420.5 286.9L416.3 289.2L415.9 285.6ZM189.8 296.5L185.2 297.9L185.6 294.3ZM236.9 295.9L232.5 297.5L232.6 293.9ZM303.9 293.6L299.6 295.7L299.3 292.1ZM348.0 291.3L344.2 294.0L343.3 290.5ZM398.8 288.3L395.5 291.6L394.1 288.3ZM449.9 293.9L445.7 296.2L445.3 292.7ZM211.8 300.1L207.3 301.5L207.5 298.0ZM270.0 298.9L265.6 300.6L265.6 297.0ZM330.8 296.3L326.6 298.6L326.3 295.0ZM386.1 291.6L382.4 294.6L381.3 291.2ZM428.6 297.1L424.4 299.3L424.0 295.7ZM172.3 302.8L167.8 304.3L168.0 300.7ZM225.9 303.0L221.5 304.6L221.6 301.0ZM283.5 301.6L279.2 303.6L279.0 300.0ZM340.1 299.0L336.0 301.5L335.4 298.0ZM390.6 296.2L386.9 299.2L385.8 295.7ZM423.3 300.2L419.1 302.4L418.7 298.9ZM473.9 301.2L469.6 303.3L469.3 299.8ZM204.1 307.1L199.6 308.6L199.9 305.0ZM257.7 305.7L253.2 307.4L253.3 303.8ZM308.5 303.4L304.3 305.6L304.0 302.0ZM351.3 301.8L347.4 304.5L346.6 301.0ZM409.0 301.7L405.1 304.3L404.4 300.7ZM454.3 304.4L450.1 306.5L449.8 302.9ZM181.2 309.7L176.7 311.2L177.0 307.6ZM237.6 309.6L233.1 311.2L233.2 307.6ZM290.6 307.9L286.3 310.0L286.1 306.4ZM345.4 305.5L341.4 308.1L340.7 304.5ZM397.7 304.7L393.8 307.4L393.0 303.9ZM445.5 307.5L441.3 309.8L440.9 306.2ZM212.4 313.4L207.9 314.9L208.2 311.3ZM271.3 312.3L266.9 314.1L266.9 310.5ZM319.1 310.0L314.9 312.2L314.5 308.6ZM378.8 307.2L374.9 309.9L374.1 306.4ZM418.9 310.4L414.7 312.7L414.3 309.1ZM470.3 311.4L466.0 313.5L465.8 309.9ZM178.3 316.5L173.8 318.0L174.1 314.4ZM230.0 316.3L225.6 317.9L225.7 314.3ZM277.2 315.5L272.9 317.3L272.8 313.7ZM340.8 312.6L336.7 315.0L336.1 311.5ZM389.5 312.1L385.4 314.6L384.8 311.0ZM440.9 314.4L436.7 316.7L436.3 313.1ZM199.4 320.2L194.9 321.7L195.1 318.1ZM252.7 319.4L248.2 321.0L248.4 317.4ZM319.0 316.8L314.8 319.0L314.5 315.4ZM358.3 315.3L354.3 317.9L353.6 314.4ZM402.7 317.0L398.6 319.5L398.1 315.9ZM456.7 318.0L452.5 320.1L452.2 316.6ZM194.2 323.6L189.7 325.0L189.9 321.4ZM239.1 322.9L234.6 324.6L234.7 321.0ZM300.4 320.8L296.2 323.0L295.9 319.4ZM358.8 318.8L354.8 321.4L354.1 317.9ZM395.5 320.2L391.4 322.6L390.9 319.0ZM449.1 321.3L445.0 323.6L444.6 320.0ZM220.6 326.7L216.2 328.3L216.3 324.7ZM264.4 325.8L259.9 327.6L260.0 324.0ZM327.8 323.5L323.6 325.7L323.2 322.1ZM371.9 322.9L367.8 325.4L367.2 321.8ZM422.4 324.5L418.2 326.7L417.8 323.1ZM176.3 330.3L171.8 331.7L172.1 328.2ZM229.8 329.9L225.3 331.5L225.4 327.9ZM281.6 328.7L277.3 330.6L277.2 327.0ZM336.3 327.0L332.1 329.3L331.7 325.7ZM372.0 326.4L367.9 328.9L367.4 325.3ZM423.9 328.1L419.7 330.3L419.3 326.7ZM200.3 333.7L195.8 335.2L196.0 331.6ZM249.1 332.7L244.7 334.5L244.8 330.9ZM303.6 331.2L299.4 333.3L299.1 329.7ZM345.7 330.6L341.5 332.9L341.1 329.3ZM397.0 331.1L392.9 333.5L392.4 329.9ZM182.2 337.1L177.7 338.6L177.9 335.0ZM226.8 336.5L222.3 338.1L222.5 334.5ZM286.1 335.3L281.7 337.3L281.6 333.7ZM344.5 334.1L340.4 336.3L340.0 332.8ZM391.0 334.4L386.9 336.8L386.4 333.3ZM205.5 340.2L201.0 341.7L201.2 338.1ZM251.4 339.3L246.9 341.1L247.0 337.5ZM320.3 337.7L316.1 339.9L315.7 336.3ZM365.3 337.7L361.2 340.1L360.7 336.5ZM173.0 343.9L168.4 345.4L168.7 341.8ZM225.7 343.3L221.3 344.9L221.4 341.3ZM279.3 342.3L274.9 344.2L274.8 340.6ZM328.4 341.0L324.2 343.2L323.8 339.6ZM384.2 341.5L380.1 343.9L379.6 340.3ZM207.7 347.0L203.2 348.5L203.4 344.9ZM253.6 346.0L249.2 347.8L249.2 344.2ZM304.3 345.1L300.0 347.2L299.8 343.6ZM354.5 344.8L350.3 347.1L350.0 343.5ZM186.8 350.3L182.3 351.8L182.6 348.2ZM245.1 349.5L240.7 351.2L240.7 347.6ZM293.4 348.9L289.0 350.9L288.9 347.3ZM337.1 348.3L332.9 350.4L332.6 346.9ZM206.3 353.6L201.8 355.2L202.0 351.6ZM259.7 352.6L255.3 354.4L255.3 350.8ZM315.7 351.8L311.4 354.0L311.1 350.4ZM358.9 352.0L354.7 354.2L354.4 350.7ZM157.1 357.1L152.5 358.6L152.8 355.0ZM214.4 356.9L209.9 358.5L210.0 354.9ZM276.4 356.0L272.0 357.8L272.0 354.2ZM319.1 355.2L314.9 357.3L314.6 353.7ZM192.5 360.5L188.0 362.0L188.2 358.4ZM240.3 359.7L235.9 361.4L235.9 357.8ZM289.6 359.3L285.2 361.2L285.1 357.6ZM342.7 358.8L338.5 361.0L338.2 357.4ZM171.8 363.9L167.3 365.4L167.6 361.8ZM224.9 363.3L220.5 365.0L220.6 361.4ZM284.6 362.8L280.2 364.6L280.2 361.0ZM329.7 362.2L325.5 364.4L325.2 360.8ZM209.4 367.0L204.9 368.6L205.1 365.0ZM248.7 366.3L244.3 368.1L244.3 364.5ZM308.3 365.8L304.0 367.9L303.8 364.3ZM168.9 370.6L164.3 372.0L164.6 368.5ZM227.6 370.0L223.2 371.8L223.3 368.2ZM268.2 369.6L263.8 371.4L263.8 367.8ZM187.9 374.0L183.4 375.5L183.7 371.9ZM245.6 373.1L241.2 374.9L241.2 371.3ZM294.5 372.9L290.2 374.8L290.1 371.2ZM181.6 377.3L177.1 378.7L177.4 375.1ZM229.2 376.7L224.8 378.4L224.8 374.8ZM280.6 376.4L276.2 378.2L276.2 374.6ZM199.7 380.6L195.1 382.1L195.4 378.5ZM254.5 379.8L250.1 381.6L250.1 378.0ZM159.3 384.1L154.7 385.5L155.1 381.9ZM209.0 383.9L204.5 385.4L204.7 381.8ZM256.1 383.2L251.7 385.0L251.7 381.4ZM180.8 387.3L176.2 388.7L176.6 385.1ZM239.0 386.7L234.6 388.5L234.6 384.9ZM171.9 390.7L167.4 392.1L167.7 388.5ZM224.7 390.3L220.3 392.0L220.4 388.4ZM200.4 394.0L195.9 395.5L196.1 391.9ZM170.2 397.5L165.6 398.9L166.0 395.3ZM210.4 397.2L205.9 398.8L206.1 395.2ZM193.3 400.9L188.8 402.3L189.1 398.7ZM182.2 404.1L177.7 405.6L178.0 402.0Z" fill="#0a0a0a"/>

</g>
<rect x="146.75" y="109.5" width="407.5" height="407.0" fill="none" stroke="#555" stroke-width="1"/>
<path d="M146.75 516.5v12.5M146.75 109.5v-0.0M160.33 516.5v6.5M160.33 109.5v-0.0M173.91 516.5v6.5M173.91 109.5v-0.0M187.49 516.5v6.5M187.49 109.5v-0.0M201.07 516.5v6.5M201.07 109.5v-0.0M214.65 516.5v12.5M214.65 109.5v-0.0M228.23 516.5v6.5M228.23 109.5v-0.0M241.81 516.5v6.5M241.81 109.5v-0.0M255.39 516.5v6.5M255.39 109.5v-0.0M268.97 516.5v6.5M268.97 109.5v-0.0M282.55 516.5v12.5M282.55 109.5v-0.0M296.13 516.5v6.5M296.13 109.5v-0.0M309.71 516.5v6.5M309.71 109.5v-0.0M323.29 516.5v6.5M323.29 109.5v-0.0M336.87 516.5v6.5M336.87 109.5v-0.0M350.45 516.5v12.5M350.45 109.5v-0.0M364.03 516.5v6.5M364.03 109.5v-0.0M377.61 516.5v6.5M377.61 109.5v-0.0M391.19 516.5v6.5M391.19 109.5v-0.0M404.77 516.5v6.5M404.77 109.5v-0.0M418.35 516.5v12.5M418.35 109.5v-0.0M431.93 516.5v6.5M431.93 109.5v-0.0M445.51 516.5v6.5M445.51 109.5v-0.0M459.09 516.5v6.5M459.09 109.5v-0.0M472.67 516.5v6.5M472.67 109.5v-0.0M486.25 516.5v12.5M486.25 109.5v-0.0M499.83 516.5v6.5M499.83 109.5v-0.0M513.41 516.5v6.5M513.41 109.5v-0.0M526.99 516.5v6.5M526.99 109.5v-0.0M540.57 516.5v6.5M540.57 109.5v-0.0M554.15 516.5v12.5M554.15 109.5v-0.0M146.75 516.50h-13.5M146.75 502.93h-6.5M146.75 489.37h-6.5M146.75 475.80h-6.5M146.75 462.23h-6.5M146.75 448.66h-13.5M146.75 435.10h-6.5M146.75 421.53h-6.5M146.75 407.96h-6.5M146.75 394.40h-6.5M146.75 380.83h-13.5M146.75 367.26h-6.5M146.75 353.70h-6.5M146.75 340.13h-6.5M146.75 326.56h-6.5M146.75 313.00h-13.5M146.75 299.43h-6.5M146.75 285.86h-6.5M146.75 272.29h-6.5M146.75 258.73h-6.5M146.75 245.16h-13.5M146.75 231.59h-6.5M146.75 218.03h-6.5M146.75 204.46h-6.5M146.75 190.89h-6.5M146.75 177.32h-13.5M146.75 163.76h-6.5M146.75 150.19h-6.5M146.75 136.62h-6.5M146.75 123.06h-6.5M146.75 109.49h-13.5" stroke="#444" stroke-width="1" fill="none"/>
<text x="129.25" y="549.6" font-size="12.6" font-family="Liberation Sans, sans-serif" fill="#111">140<tspan font-size="7.5" dy="-5.2">o</tspan><tspan dy="5.2">W</tspan></text>
<text x="197.15" y="549.6" font-size="12.6" font-family="Liberation Sans, sans-serif" fill="#111">135<tspan font-size="7.5" dy="-5.2">o</tspan><tspan dy="5.2">W</tspan></text>
<text x="265.05" y="549.6" font-size="12.6" font-family="Liberation Sans, sans-serif" fill="#111">130<tspan font-size="7.5" dy="-5.2">o</tspan><tspan dy="5.2">W</tspan></text>
<text x="332.95" y="549.6" font-size="12.6" font-family="Liberation Sans, sans-serif" fill="#111">125<tspan font-size="7.5" dy="-5.2">o</tspan><tspan dy="5.2">W</tspan></text>
<text x="400.85" y="549.6" font-size="12.6" font-family="Liberation Sans, sans-serif" fill="#111">120<tspan font-size="7.5" dy="-5.2">o</tspan><tspan dy="5.2">W</tspan></text>
<text x="468.75" y="549.6" font-size="12.6" font-family="Liberation Sans, sans-serif" fill="#111">115<tspan font-size="7.5" dy="-5.2">o</tspan><tspan dy="5.2">W</tspan></text>
<text x="536.65" y="549.6" font-size="12.6" font-family="Liberation Sans, sans-serif" fill="#111">110<tspan font-size="7.5" dy="-5.2">o</tspan><tspan dy="5.2">W</tspan></text>
<text x="124.45" y="521.30" font-size="12.6" text-anchor="end" font-family="Liberation Sans, sans-serif" fill="#111">20<tspan font-size="7.5" dy="-5.2">o</tspan><tspan dy="5.2">N</tspan></text>
<text x="124.45" y="453.46" font-size="12.6" text-anchor="end" font-family="Liberation Sans, sans-serif" fill="#111">25<tspan font-size="7.5" dy="-5.2">o</tspan><tspan dy="5.2">N</tspan></text>
<text x="124.45" y="385.63" font-size="12.6" text-anchor="end" font-family="Liberation Sans, sans-serif" fill="#111">30<tspan font-size="7.5" dy="-5.2">o</tspan><tspan dy="5.2">N</tspan></text>
<text x="124.45" y="317.80" font-size="12.6" text-anchor="end" font-family="Liberation Sans, sans-serif" fill="#111">35<tspan font-size="7.5" dy="-5.2">o</tspan><tspan dy="5.2">N</tspan></text>
<text x="124.45" y="249.96" font-size="12.6" text-anchor="end" font-family="Liberation Sans, sans-serif" fill="#111">40<tspan font-size="7.5" dy="-5.2">o</tspan><tspan dy="5.2">N</tspan></text>
<text x="124.45" y="182.12" font-size="12.6" text-anchor="end" font-family="Liberation Sans, sans-serif" fill="#111">45<tspan font-size="7.5" dy="-5.2">o</tspan><tspan dy="5.2">N</tspan></text>
<text x="124.45" y="114.29" font-size="12.6" text-anchor="end" font-family="Liberation Sans, sans-serif" fill="#111">50<tspan font-size="7.5" dy="-5.2">o</tspan><tspan dy="5.2">N</tspan></text>
<!-- left map titles -->
<g font-family="Liberation Sans, sans-serif" fill="#111">
<text x="145.8" y="94.4" font-size="14.7" textLength="454.5" lengthAdjust="spacingAndGlyphs">NCEP GFS IVT (kg m<tspan font-size="9.5" dy="-6.2">-1</tspan><tspan dy="6.2"> s</tspan><tspan font-size="9.5" dy="-6.2">-1</tspan><tspan dy="6.2">; shaded), IVT Vector, and SLP (hPa; contours)</tspan></text>
<text x="146" y="107.4" font-size="10" textLength="151.5" lengthAdjust="spacingAndGlyphs">Initialized: 1200 UTC 12/27/2022</text>
<text x="390.5" y="107.4" font-size="10" textLength="163.7" lengthAdjust="spacingAndGlyphs">F-000: Valid: 1200 UTC 12/27/2022</text>
<rect x="494.2" y="109.5" width="60" height="55.6" fill="#fff" stroke="#777" stroke-width="0.8"/>
<text x="524" y="121.3" font-size="11.8" text-anchor="middle">500</text>
<path d="M512 135.3H533" stroke="#111" stroke-width="1" fill="none"/><path d="M536.2 135.3l-5.2-2v4z" fill="#111"/>
<text x="496.8" y="160.9" font-size="11.8" textLength="55" lengthAdjust="spacingAndGlyphs">[kg m<tspan font-size="7" dy="-5">-1</tspan><tspan dy="5"> s</tspan><tspan font-size="7" dy="-5">-1</tspan><tspan dy="5">]</tspan></text>
<text x="150" y="512.6" font-size="11" textLength="313.5" lengthAdjust="spacingAndGlyphs">CW3E, Scripps, UC San Diego; Contact B. Kawzenuk/M. Ralph</text>
<rect x="190.5" y="433.6" width="334" height="53.4" fill="#bfbfbf" stroke="#000" stroke-width="1.4"/>
<text x="201.5" y="455" font-size="18.7" fill="#000" textLength="312" lengthAdjust="spacingAndGlyphs">IVT magnitude and direction with SLP</text>
<text x="238.5" y="477.6" font-size="18.7" fill="#000" textLength="237.5" lengthAdjust="spacingAndGlyphs">4 AM PT 27 December 2022</text>
</g>

<rect x="147.3" y="110" width="71" height="51.5" fill="#fff"/>
<g transform="translate(182.05 126.1) scale(1.0000)">
<path d="M-16.2 -0.5A16.2 16.2 0 0 1 16.2 -0.5L9.9 -0.5A9.9 9.9 0 0 0 -9.9 -0.5Z" fill="#f7941d"/>
<path d="M-16.2 0.6A16.2 16.2 0 0 0 16.2 0.6L9.9 0.6A9.9 9.9 0 0 1 -9.9 0.6Z" fill="#2381b0"/>
<path d="M-16 3.4H16M-15 6.4H15M-13.5 9.4H13.5M-11 12.4H11" stroke="#1a6a94" stroke-width="0.7" opacity="0.8"/>
<circle r="9.9" fill="#fff"/>
<path d="M0 -7.5C1.6 -4.4 5 -1.6 5 2.4A5 5 0 0 1 -5 2.4C-5 -1.6 -1.6 -4.4 0 -7.5Z" fill="#2489c4"/>
<path d="M1.6 -4.2L-2.6 0.9L-0.3 1.2L-1.9 5.6L2.8 -0.3L0.4 -0.6Z" fill="#fff"/>
</g>
<text x="146.9" y="152.7" font-size="6.1" font-weight="bold" font-family="Liberation Sans, sans-serif" fill="#1f7ba8" textLength="70.3" lengthAdjust="spacingAndGlyphs">Center for Western Weather</text>
<text x="156.8" y="158.8" font-size="6.1" font-weight="bold" font-family="Liberation Sans, sans-serif" fill="#1f7ba8" textLength="51.2" lengthAdjust="spacingAndGlyphs">and Water Extremes</text>
<rect x="564" y="113.50" width="24.3" height="33.51" fill="#560089"/>
<rect x="564" y="146.71" width="24.3" height="33.51" fill="#860063"/>
<rect x="564" y="179.92" width="24.3" height="33.51" fill="#b90037"/>
<rect x="564" y="213.12" width="24.3" height="33.51" fill="#eb0107"/>
<rect x="564" y="246.33" width="24.3" height="33.51" fill="#ff1801"/>
<rect x="564" y="279.54" width="24.3" height="33.51" fill="#ff4f01"/>
<rect x="564" y="312.75" width="24.3" height="33.51" fill="#ff8301"/>
<rect x="564" y="345.96" width="24.3" height="33.51" fill="#ffaf02"/>
<rect x="564" y="379.17" width="24.3" height="33.51" fill="#ffc902"/>
<rect x="564" y="412.38" width="24.3" height="33.51" fill="#ffe503"/>
<rect x="564" y="445.58" width="24.3" height="33.51" fill="#ffff03"/>
<rect x="564" y="478.79" width="24.3" height="33.51" fill="#ffffff"/>
<path d="M564 146.71h24.3M564 179.92h24.3M564 213.12h24.3M564 246.33h24.3M564 279.54h24.3M564 312.75h24.3M564 345.96h24.3M564 379.17h24.3M564 412.38h24.3M564 445.58h24.3M564 478.79h24.3" stroke="#000" stroke-opacity="0.35" stroke-width="0.8"/>
<rect x="564" y="478.79" width="24.3" height="33.21" fill="#fff" stroke="#bbb" stroke-width="1"/>
<text x="606.7" y="150.81" font-size="10.5" text-anchor="middle" font-family="Liberation Sans, sans-serif" fill="#111">1600</text>
<text x="606.7" y="184.02" font-size="10.5" text-anchor="middle" font-family="Liberation Sans, sans-serif" fill="#111">1400</text>
<text x="606.7" y="217.22" font-size="10.5" text-anchor="middle" font-family="Liberation Sans, sans-serif" fill="#111">1200</text>
<text x="606.7" y="250.43" font-size="10.5" text-anchor="middle" font-family="Liberation Sans, sans-serif" fill="#111">1000</text>
<text x="606.7" y="283.64" font-size="10.5" text-anchor="middle" font-family="Liberation Sans, sans-serif" fill="#111">800</text>
<text x="606.7" y="316.85" font-size="10.5" text-anchor="middle" font-family="Liberation Sans, sans-serif" fill="#111">700</text>
<text x="606.7" y="350.06" font-size="10.5" text-anchor="middle" font-family="Liberation Sans, sans-serif" fill="#111">600</text>
<text x="606.7" y="383.27" font-size="10.5" text-anchor="middle" font-family="Liberation Sans, sans-serif" fill="#111">500</text>
<text x="606.7" y="416.48" font-size="10.5" text-anchor="middle" font-family="Liberation Sans, sans-serif" fill="#111">400</text>
<text x="606.7" y="449.68" font-size="10.5" text-anchor="middle" font-family="Liberation Sans, sans-serif" fill="#111">300</text>
<text x="606.7" y="482.89" font-size="10.5" text-anchor="middle" font-family="Liberation Sans, sans-serif" fill="#111">250</text>
<g clip-path="url(#cr)">
<path d="M866.2 86.1L866.2 92.9L879.9 98.4L896.3 103.9L903.2 108.0L914.1 112.1L923.7 116.1L926.4 120.2L930.5 121.6L934.6 125.7L936.0 131.2L937.4 139.4L933.3 144.8L929.2 146.2L930.5 139.4L931.9 132.5L922.3 131.9L904.6 128.7L905.2 135.3L909.3 143.5L912.8 148.9L913.4 157.1L914.8 163.9L914.1 174.9L912.8 184.4L911.4 195.4L907.3 204.2L909.3 211.7L911.4 218.6L912.8 228.1L909.3 237.0L912.8 241.8L916.9 250.0L918.2 257.5L923.7 263.6L927.8 267.1L927.8 270.5L934.6 273.2L934.6 277.3L936.0 282.1L940.1 284.8L943.5 286.9L942.2 290.3L942.9 293.7L948.3 298.5L952.4 302.6L956.5 306.7L960.0 310.1L960.0 316.9L962.4 319.0L971.6 319.4L978.4 321.7L981.2 323.7L985.3 324.7L989.4 324.8L990.7 328.5L994.8 328.9L999.6 331.9L1005.1 336.7L1006.5 342.2L1008.2 345.6L1011.3 351.1L1014.7 355.8L1015.4 360.6L1022.9 366.8L1027.0 373.6L1030.4 379.7L1035.2 385.2L1039.3 389.3L1045.0 393.4L1048.9 398.8L1051.6 404.3L1050.9 408.4L1042.7 409.8L1036.6 409.1L1038.6 411.8L1044.8 417.3L1056.4 422.1L1061.9 425.5L1068.7 429.6L1074.2 434.4L1079.7 439.8L1079.0 448.0L1078.3 453.5L1083.8 456.2L1092.0 461.7L1100.2 468.5L1105.7 476.0L1119.3 476.7L1119.3 86.1Z" fill="#dcdcdc"/>
<path d="M853.9 96.3L860.8 105.2L874.5 110.7L885.4 116.1L893.6 121.6L904.6 126.4L915.5 129.1L922.3 128.4L923.0 124.3L916.9 118.2L903.2 110.7L896.3 103.9L879.9 99.1L862.1 94.3Z" fill="#dcdcdc"/>
<path d="M1040.0 355.1L1039.3 366.1L1042.7 375.6L1052.3 381.1L1061.9 390.7L1066.7 400.2L1070.4 407.0L1077.6 416.6L1083.1 424.8L1088.5 433.0L1089.2 442.6L1093.3 450.7L1096.8 456.9L1101.5 458.9L1119.3 461.7L1119.3 427.5L1105.7 420.7L1101.5 418.0L1097.4 412.5L1092.0 407.0L1083.8 400.2L1078.3 393.4L1072.8 386.6L1068.0 378.4L1064.6 370.2L1061.9 363.3L1052.3 357.9L1042.7 355.1Z" fill="#fff"/>
<path d="M858.2 113.6L863.0 113.6L874.8 117.0L880.5 117.6L884.2 118.6L903.4 126.6L911.8 130.8L913.8 131.2L913.8 132.5L911.7 133.6L910.8 136.1L911.4 140.1L912.6 143.6L915.2 145.5L919.8 145.3L929.2 138.6L935.2 135.7L937.8 135.7L939.4 136.6L940.2 138.1L940.3 140.1L938.8 144.7L937.2 146.7L931.2 150.4L929.4 152.6L930.1 156.1L935.7 164.6L936.1 166.1L935.2 169.6L931.9 174.6L930.8 180.2L927.1 185.1L924.7 187.3L924.3 187.1L927.1 175.6L927.1 164.1L925.0 156.1L923.8 154.4L921.8 153.6L914.7 155.2L912.5 157.6L911.8 160.6L911.8 167.6L912.7 173.1L910.8 178.7L906.8 185.2L898.3 194.1L893.4 197.1L887.8 199.0L884.8 199.5L882.8 199.0L881.2 197.8L880.7 196.6L887.5 180.1L889.1 174.6L889.0 172.6L886.0 168.1L878.6 162.6L872.2 156.3L868.9 151.1L867.2 149.4L865.8 149.5L864.5 151.1L863.2 157.1L859.2 167.1L857.8 168.0L854.8 168.4L853.5 170.1L852.4 174.1L852.2 178.6L850.8 181.1L846.8 183.1L842.2 183.5L836.7 181.1L831.2 176.3L829.8 173.6L829.3 171.1L831.2 167.5L835.3 163.6L836.7 161.1L836.6 159.1L835.5 155.6L832.8 150.1L832.8 146.9L833.2 145.6L837.8 139.0L848.4 125.6L854.8 116.0L856.2 114.6ZM1002.3 137.6L1004.2 137.7L1005.2 138.5L1005.8 143.1L1004.2 147.7L1001.8 150.1L996.5 152.1L989.8 152.6L983.8 151.1L981.2 149.1L980.7 147.1L981.8 146.1L998.8 138.6ZM1009.8 153.1L1014.0 153.1L1018.2 154.1L1020.8 155.9L1023.2 159.1L1022.8 159.6L1021.5 159.6L1015.1 157.6L1010.2 154.7L1009.2 153.6ZM1008.2 185.5L1009.8 185.2L1011.8 186.0L1021.2 195.4L1027.2 199.9L1029.2 202.4L1028.4 205.1L1026.8 205.7L1025.2 205.1L1012.2 194.3L1007.2 188.7L1006.8 186.6ZM911.8 222.6L916.0 237.6L920.1 244.1L924.2 246.9L929.2 247.4L931.2 246.1L932.0 243.6L931.7 236.6L934.2 233.8L938.3 232.1L939.8 232.1L941.5 233.1L946.3 242.1L958.8 254.8L964.3 262.4L967.2 267.8L970.4 275.6L981.3 291.6L982.7 295.6L982.8 298.1L981.6 303.6L980.2 306.0L979.8 306.0L976.8 302.4L973.8 300.3L969.2 298.8L966.8 299.3L964.5 302.1L963.5 305.1L962.2 313.3L959.8 318.8L949.6 329.6L943.8 333.7L937.8 336.1L929.8 338.1L919.8 338.2L915.8 338.9L912.1 341.6L908.8 347.3L906.0 350.6L895.4 358.1L880.4 366.6L867.2 370.7L863.8 372.4L849.3 382.1L828.2 389.9L810.4 399.1L792.3 407.1L774.2 413.4L755.4 424.1L750.8 425.7L729.8 430.2L722.2 432.8L707.2 439.4L695.2 446.6L695.2 264.4L723.2 267.0L735.8 267.6L747.2 267.5L779.2 264.6L793.2 264.6L803.8 266.6L817.2 271.4L820.8 272.0L826.8 272.0L844.8 269.4L859.2 265.4L872.2 260.2L882.2 254.9L899.2 243.2L907.0 236.1L909.0 232.1ZM989.8 244.1L994.6 244.6L995.4 245.1L995.4 245.6L993.3 247.6L990.2 249.0L985.8 249.6L983.4 248.6L983.5 247.1L984.7 246.1ZM978.2 324.0L982.2 325.5L989.2 326.7L991.8 327.6L992.8 329.0L992.2 330.7L990.4 333.6L987.8 336.1L984.0 337.6L980.2 337.5L978.8 335.1L977.8 330.3L977.7 324.6ZM695.2 505.9L702.2 510.5L706.4 514.1L707.8 516.1L695.2 516.1Z" fill="#0a00c8" fill-rule="evenodd"/>
<path d="M864.2 129.5L869.2 129.4L870.0 130.6L869.2 131.4L865.2 131.9L863.7 131.1L863.6 130.1ZM891.8 130.0L895.8 130.6L896.9 132.1L896.8 133.7L892.8 135.4L889.8 135.1L888.6 133.1L888.6 131.1L889.2 130.5ZM839.2 141.5L842.2 141.2L844.3 142.6L844.9 145.1L843.2 147.7L841.4 148.1L838.8 146.4L838.4 143.1ZM847.9 155.6L851.5 155.1L852.6 156.1L853.0 159.1L851.8 160.7L849.2 161.4L846.7 159.6L846.5 157.1ZM841.3 168.5L845.8 168.5L846.5 169.6L846.3 172.1L844.2 173.2L842.6 173.1L840.6 170.1L840.6 169.1ZM904.8 175.5L906.5 176.6L905.9 178.6L900.7 181.6L898.8 181.9L897.8 181.2L897.0 179.6L897.6 178.1ZM938.2 234.6L939.8 235.0L940.8 236.1L945.2 243.8L957.0 256.1L962.6 263.6L965.3 268.6L969.0 277.6L977.8 291.1L979.6 295.6L979.2 298.0L977.7 299.2L974.2 298.8L968.7 296.8L966.8 297.0L965.2 297.8L963.2 301.1L960.8 311.4L958.4 316.6L947.9 328.1L943.2 331.2L931.8 334.9L926.2 335.8L916.2 336.1L913.8 336.9L911.2 339.0L906.8 345.6L903.8 349.0L894.1 355.6L880.2 363.6L864.8 368.8L861.2 370.7L851.2 377.8L845.2 380.8L827.2 387.4L809.2 396.6L791.8 404.3L772.7 411.1L753.1 422.6L745.2 425.3L729.2 429.7L709.2 436.8L706.2 438.5L699.8 443.9L695.2 446.2L695.2 267.4L735.8 270.6L747.8 270.6L780.8 268.1L792.2 267.9L802.2 269.4L819.2 274.1L827.8 274.1L837.8 272.8L855.2 269.3L872.8 262.9L877.8 259.1L893.8 250.2L910.2 240.1L911.8 240.3L914.2 241.8L921.2 247.7L925.2 249.2L929.8 249.4L931.2 248.4L933.2 245.1L933.6 237.1L935.8 235.3Z" fill="#0a1eff" fill-rule="evenodd"/>
<path d="M937.2 237.5L939.2 238.3L946.2 249.1L954.6 257.6L960.4 265.1L962.9 269.6L967.2 280.8L974.2 291.9L975.4 295.1L974.2 296.2L971.2 294.4L968.2 293.7L965.2 294.4L963.5 295.6L961.6 298.6L959.2 307.6L957.2 312.5L953.4 318.1L945.8 326.2L942.8 328.2L930.8 331.7L925.2 332.8L915.2 333.2L912.7 334.1L909.2 337.0L905.7 342.6L901.8 346.6L892.8 352.8L879.8 360.2L874.8 362.4L864.2 365.6L859.8 367.9L847.2 376.3L825.8 384.5L808.2 393.4L792.8 400.3L771.7 408.1L767.2 410.4L755.2 418.3L747.5 422.1L735.5 426.6L707.8 435.1L705.2 437.1L700.8 442.6L695.2 445.6L695.2 271.1L735.2 274.3L761.8 274.3L792.2 271.9L800.8 272.9L817.8 276.8L828.8 276.4L838.8 275.3L854.2 272.4L869.2 268.0L875.4 265.1L879.3 260.6L893.8 254.2L902.8 248.8L909.2 246.0L913.8 246.1L919.2 249.7L924.2 251.7L928.2 252.5L930.7 252.1L932.8 250.1L934.3 247.1L935.3 244.1L935.2 240.1L935.8 238.5Z" fill="#0078ff" fill-rule="evenodd"/>
<path d="M937.8 240.0L938.8 240.2L940.2 241.6L944.8 249.7L955.6 262.1L960.3 269.1L963.5 277.6L965.7 287.6L965.3 289.1L961.8 292.1L959.7 295.6L955.2 307.8L952.6 312.6L941.8 325.1L935.2 328.7L929.8 328.5L912.8 333.1L908.8 336.2L902.8 343.3L898.7 347.1L887.2 354.4L877.2 359.3L863.3 364.6L846.2 374.5L824.8 383.0L806.7 391.6L771.8 406.6L746.2 420.1L729.8 426.3L710.2 431.6L707.2 433.3L704.8 435.7L699.7 442.1L697.2 443.4L695.2 443.5L695.2 274.6L712.8 275.4L734.8 277.6L755.2 278.4L770.8 278.1L790.8 276.4L799.8 276.4L816.2 279.3L820.8 279.3L832.2 276.7L844.8 275.3L854.8 273.5L869.8 269.7L876.1 267.1L882.2 262.4L895.2 257.1L905.2 252.2L909.8 250.8L912.8 250.8L925.8 255.0L929.2 255.3L931.9 254.1L934.1 251.6L936.4 245.1L936.9 241.1Z" fill="#00c3ff" fill-rule="evenodd"/>
<path d="M938.8 242.8L939.8 243.7L943.6 251.1L953.8 263.0L958.8 270.6L960.8 275.7L961.8 282.1L961.1 286.1L957.8 291.6L954.2 301.1L951.2 307.0L946.8 313.6L936.2 326.1L934.2 326.8L932.2 325.3L930.2 324.8L917.2 329.9L912.2 332.5L908.3 335.6L895.8 348.0L885.8 353.6L864.2 362.8L844.8 373.1L824.2 381.4L782.2 399.8L744.8 418.2L728.8 424.2L709.8 428.8L706.8 430.9L700.5 439.1L698.8 440.6L697.2 441.3L695.2 440.2L695.2 277.8L718.2 278.9L733.8 280.7L753.8 282.3L775.8 282.4L790.8 281.4L801.2 280.1L814.8 282.1L821.2 282.1L830.2 278.1L848.8 275.8L872.2 270.9L877.2 268.9L883.8 265.1L907.8 255.9L915.2 255.5L926.8 258.4L929.2 258.2L932.4 256.6L935.5 253.6Z" fill="#00f5e6" fill-rule="evenodd"/>
<path d="M939.8 255.0L941.3 255.1L945.2 257.6L952.2 264.5L956.8 272.1L958.2 276.6L958.4 279.6L957.2 284.8L946.9 302.6L941.9 309.6L934.2 318.1L927.8 320.8L916.8 327.8L903.8 337.9L896.2 345.5L890.2 349.6L863.2 361.6L844.2 370.8L819.8 380.5L780.2 397.2L741.2 417.3L729.2 421.8L707.1 427.1L704.8 428.8L698.3 437.6L697.2 438.1L695.2 437.9L695.2 280.1L717.2 281.4L752.8 285.6L769.8 286.8L801.2 288.1L810.2 289.1L821.8 288.6L825.6 287.6L832.8 284.6L875.2 273.1L883.8 269.0L906.2 260.6L913.8 259.9L925.2 261.8L928.2 261.8L931.2 260.7Z" fill="#00dc9b" fill-rule="evenodd"/>
<path d="M935.8 260.6L940.8 259.4L944.8 260.7L949.2 264.5L952.2 268.1L953.8 271.1L955.5 277.1L955.0 280.6L953.6 283.6L937.1 306.1L927.2 315.9L910.9 330.6L902.8 336.9L893.4 345.6L882.8 351.5L843.2 368.8L823.8 376.1L800.2 386.3L778.4 394.6L761.5 403.1L739.8 415.7L725.2 420.7L714.2 423.3L705.2 424.6L702.8 426.6L698.0 434.1L696.8 435.3L695.2 435.5L695.2 282.5L721.8 284.5L768.2 291.4L783.2 292.9L800.2 296.2L811.2 296.7L818.2 296.2L828.0 294.1L834.0 292.1L861.8 281.0L878.8 275.3L880.8 274.0L901.8 266.1L908.2 264.4L928.8 265.2L932.2 263.6Z" fill="#14c850" fill-rule="evenodd"/>
<path d="M938.7 263.6L942.2 263.7L944.8 264.8L948.8 268.1L951.3 271.6L952.7 275.1L953.1 278.1L952.6 281.1L950.5 285.6L935.2 305.6L910.0 329.6L892.8 343.9L882.2 349.8L846.8 365.2L814.9 377.6L797.8 385.1L777.2 393.1L760.8 401.4L739.2 413.8L724.2 418.7L714.2 421.0L703.8 422.5L701.1 425.1L697.2 431.3L695.2 432.8L695.2 286.1L720.2 288.2L759.8 295.8L794.2 300.7L805.2 301.6L812.8 301.3L822.2 300.0L830.8 297.8L843.7 292.9L866.7 283.0L883.2 277.0L896.8 272.9L908.8 269.7L928.7 267.5Z" fill="#14b414" fill-rule="evenodd"/>
<path d="M937.2 267.5L941.2 267.4L943.4 268.1L947.0 270.6L949.1 273.1L950.6 276.6L950.8 279.1L948.8 285.1L935.8 302.9L925.6 313.1L908.2 329.1L890.8 343.1L881.7 348.1L863.8 356.0L839.8 366.0L811.2 376.9L776.2 391.5L759.2 399.9L738.2 411.9L723.4 416.6L702.8 420.5L701.2 421.6L696.8 428.4L695.2 429.8L695.2 376.5L699.2 377.0L701.8 376.5L712.3 376.5L721.2 375.6L750.5 375.6L754.8 374.5L761.2 371.1L772.8 362.9L780.2 358.4L781.6 356.6L780.8 355.4L777.2 355.3L767.8 358.0L759.8 361.6L748.2 369.5L743.8 370.6L739.8 370.7L728.2 369.3L711.2 366.1L699.8 366.0L695.2 366.5L695.2 289.9L716.8 291.5L757.8 301.4L772.2 304.2L799.2 306.3L808.8 306.2L820.2 304.7L832.2 301.6L847.8 295.6L867.2 286.5L881.2 281.5L893.2 278.4L921.7 272.1ZM766.8 312.2L741.8 313.5L737.2 314.7L735.2 315.7L733.2 317.6L732.3 320.1L732.8 322.1L735.2 325.0L740.0 327.1L746.8 328.6L753.2 328.6L772.8 326.6L785.8 324.6L793.6 322.1L796.2 320.2L797.3 318.6L796.2 317.3L793.2 316.2L778.2 313.3Z" fill="#5ac80a" fill-rule="evenodd"/>
<path d="M934.8 270.6L941.2 271.0L943.8 273.2L945.8 276.2L946.4 278.6L945.9 282.1L944.7 285.6L940.9 291.6L933.3 301.6L919.2 315.5L902.8 330.7L887.4 342.6L879.4 346.6L847.2 360.2L773.8 388.2L752.2 398.3L735.6 408.1L724.3 412.1L714.8 414.4L708.2 418.1L702.2 418.8L699.8 420.6L697.6 424.1L695.2 423.7L695.2 414.6L701.2 414.9L705.2 414.4L714.2 411.8L717.5 409.1L719.5 405.6L720.2 402.6L719.9 401.1L718.7 399.6L712.2 396.9L708.2 396.2L699.2 396.2L695.2 397.0L695.2 383.7L697.8 384.2L720.2 384.1L730.8 385.1L748.8 385.1L754.2 384.5L760.2 383.0L766.2 380.9L770.2 378.8L775.8 374.7L780.2 369.6L784.1 362.6L786.8 360.0L819.2 342.6L818.8 342.1L815.2 342.0L808.9 343.1L776.2 352.4L762.4 355.1L754.8 358.6L744.2 365.0L740.8 366.0L728.8 365.7L703.8 363.4L695.2 363.5L695.2 294.7L709.2 295.2L717.8 296.3L727.4 299.1L735.2 302.5L742.9 305.1L729.2 307.4L725.8 308.6L722.2 310.7L720.8 313.0L720.4 315.1L720.4 320.6L721.8 326.9L725.7 333.1L727.8 334.6L731.8 336.1L742.2 336.8L757.3 336.1L774.8 333.7L792.1 330.1L807.5 325.6L810.2 324.1L812.2 322.1L813.1 319.1L811.2 316.6L806.2 313.9L797.7 310.6L815.2 309.2L827.8 306.5L844.8 300.3L863.2 291.6L879.8 285.0L904.8 279.3Z" fill="#b4e600" fill-rule="evenodd"/>
<path d="M929.2 274.1L932.8 273.8L934.2 274.4L936.8 278.4L942.2 282.3L943.0 284.1L942.2 286.6L938.8 292.6L932.4 301.6L921.2 312.5L908.4 323.6L902.2 329.9L897.2 333.8L888.8 339.3L877.2 345.4L842.2 359.0L832.8 363.7L821.2 368.4L805.2 373.1L798.2 374.6L791.8 374.6L788.8 374.0L785.2 372.5L782.4 369.6L785.2 363.6L787.7 361.1L820.2 344.1L821.0 343.1L821.1 341.6L818.8 340.4L811.8 340.9L800.8 343.4L779.2 350.9L773.8 352.4L762.8 354.3L754.2 357.9L746.2 362.4L743.2 363.2L729.2 364.5L704.3 362.6L695.2 362.7L695.2 309.3L705.8 309.3L709.8 309.9L717.2 312.9L718.7 315.1L718.8 326.6L719.8 330.1L721.9 333.6L726.1 336.1L731.8 337.3L742.8 337.9L763.2 336.6L774.2 335.3L789.8 332.3L810.2 325.7L817.2 320.9L841.0 307.1L853.8 300.8L863.8 294.7L874.3 290.6L878.3 287.9L883.8 286.4L897.8 284.6L902.2 283.5L916.9 277.6Z" fill="#ffff00" fill-rule="evenodd"/>
<path d="M926.2 286.0L928.8 286.0L931.3 287.6L934.4 295.1L934.7 296.6L934.1 298.6L931.8 301.6L921.2 311.7L902.9 323.6L903.0 328.1L898.8 332.0L894.2 334.7L882.5 339.6L879.1 343.1L873.8 345.8L849.8 353.5L839.2 356.0L833.8 362.3L821.2 367.6L817.8 368.3L813.8 367.9L808.0 365.6L804.5 363.1L808.4 356.1L812.2 352.1L815.8 350.0L824.8 346.8L829.2 344.0L830.2 341.6L829.8 340.3L824.8 338.4L820.2 337.7L804.8 339.5L795.2 339.1L794.4 339.6L791.2 345.6L788.8 347.3L773.2 352.0L762.8 353.7L745.2 360.3L726.2 361.8L716.2 361.4L695.2 362.0L695.2 321.4L703.2 321.4L707.2 321.9L713.8 328.6L720.3 333.6L725.8 336.7L731.2 337.9L742.8 338.4L783.8 336.4L792.8 337.4L793.7 336.6L795.5 332.1L797.2 330.2L810.2 326.3L817.8 321.6L821.2 320.4L827.8 319.2L833.2 319.1L838.2 320.1L844.2 322.1L845.2 321.8L848.2 316.1L851.9 310.6L856.2 307.0L864.0 302.6L863.7 296.6L864.2 295.6L873.8 291.8L878.2 288.9L880.6 289.1L883.0 290.1L889.2 295.4L890.8 295.7L902.8 293.7L916.2 288.7Z" fill="#ffdc00" fill-rule="evenodd"/>
<path d="M877.8 290.6L878.7 290.6L879.3 291.6L878.1 293.1L872.4 295.1L868.0 295.6L868.0 295.1L873.2 293.3ZM918.8 299.1L931.8 297.6L932.7 298.1L932.7 298.6L926.0 306.1L920.8 310.9L904.8 318.2L888.8 324.2L883.8 325.3L877.2 325.7L868.8 324.6L865.8 323.1L863.2 320.6L860.9 317.6L859.8 315.1L860.1 313.1L861.2 312.1L864.3 310.6L872.3 308.1L878.2 306.9L884.2 306.7L897.8 305.1L904.9 303.6ZM819.2 322.6L822.8 322.4L827.3 323.6L829.2 325.5L828.8 328.4L824.3 332.1L815.8 334.4L808.8 335.5L805.8 335.5L800.9 334.1L798.8 332.6L798.2 331.6L798.6 331.1L811.2 327.3ZM888.8 328.1L896.8 327.7L899.8 328.0L900.9 328.6L898.4 331.1L895.9 332.6L887.5 335.1L879.2 336.7L865.8 338.4L858.2 338.4L855.5 337.6L853.7 336.1L853.9 335.1L855.3 334.1L861.2 332.2L871.8 330.1ZM695.2 333.8L705.2 333.4L717.8 334.3L727.8 338.0L737.8 339.1L759.8 338.3L779.2 339.6L786.2 341.2L788.8 343.4L789.1 344.6L788.4 346.1L784.9 347.6L773.1 351.1L762.8 352.8L754.5 356.1L737.2 358.1L714.8 358.6L700.0 360.6L695.2 360.6ZM873.2 340.1L877.8 340.0L878.5 340.6L877.7 342.1L873.9 344.1L848.8 350.4L841.8 351.5L838.3 350.2L837.5 349.1L838.9 347.6L851.2 344.1L863.8 341.5ZM822.8 353.1L828.4 353.6L832.8 355.6L834.0 357.6L833.3 360.6L832.4 361.6L821.4 366.1L818.8 366.6L816.8 366.1L815.7 365.1L814.8 362.7L814.7 357.6L815.2 356.1L817.4 354.1Z" fill="#ffbe00" fill-rule="evenodd"/>
<path d="M899.2 310.9L914.3 307.1L913.9 308.6L909.2 312.0L903.0 314.6L893.2 317.6L889.3 318.2L886.0 317.6L882.3 316.1L880.8 314.6L881.8 313.7L884.1 313.1ZM714.2 341.5L726.8 341.6L742.9 342.6L752.9 344.1L754.4 344.6L754.9 345.6L753.7 347.1L750.8 348.6L744.0 350.6L735.2 351.7L724.8 352.2L716.7 351.7L710.2 350.1L703.2 346.7L700.8 344.1L701.2 343.1L703.2 342.5Z" fill="#ffa000" fill-rule="evenodd"/>
<path d="M763.65 106.6V516.3M832.05 106.6V516.3M900.45 106.6V516.3M968.85 106.6V516.3M1037.25 106.6V516.3M695.25 448.01H1105.65M695.25 379.73H1105.65M695.25 311.44H1105.65M695.25 243.16H1105.65M695.25 174.87H1105.65" stroke="#888" stroke-width="1" stroke-dasharray="9 4" fill="none" opacity="0.75"/>
<path d="M844.0 133.6L842.0 135.1L840.2 138.0L840.5 142.0L842.0 144.4L844.0 146.2L848.0 147.5L852.0 146.6L854.0 145.0L855.8 142.0L856.1 140.0L855.9 138.0L854.0 134.7L852.0 133.3L848.0 132.5L844.0 133.6M850.0 115.7L848.0 116.1L844.0 116.9L840.0 117.6L838.0 118.0L834.0 119.8L832.0 121.7L830.3 124.0L829.0 126.0L827.6 128.0L826.0 130.7L824.7 134.0L824.1 138.0L823.7 140.0L823.0 144.0L823.6 148.0L824.7 150.0L826.4 152.0L828.6 154.0L831.0 156.0L833.2 158.0L835.5 160.0L838.0 161.7L840.0 162.7L844.0 163.4L848.0 163.4L852.0 163.3L856.0 162.7L858.1 162.0L861.8 160.0L864.0 158.1L865.9 156.0L867.9 154.0L870.0 152.4L872.0 151.0L874.0 149.0L874.9 146.0L874.0 142.5L873.2 140.0L872.8 136.0L872.6 132.0L871.9 130.0L870.0 127.4L868.0 125.6L866.0 124.0L863.2 122.0L860.5 120.0L858.0 118.1L856.0 116.7L854.0 115.9L850.0 115.7M836.7 100.0L834.0 101.5L832.0 102.5L828.0 103.9L826.0 104.3L822.0 105.8L820.0 107.1L818.0 108.8L816.0 110.7L814.0 113.1L812.0 116.0L810.9 118.0L809.7 120.0L808.0 122.6L806.0 125.6L804.5 128.0L803.5 130.0L802.0 132.7L800.2 136.0L799.7 138.0L800.0 140.0L801.8 144.0L802.4 146.0L803.0 150.0L803.5 154.0L804.1 156.0L806.0 159.2L808.0 161.8L810.0 164.0L811.9 166.0L813.9 168.0L816.0 170.0L818.0 171.5L820.0 172.9L822.1 174.0L826.0 175.4L828.2 176.0L832.0 177.4L834.0 178.2L838.0 179.6L840.0 180.2L844.0 181.4L846.0 182.0L850.0 182.7L854.0 182.0L856.0 181.3L859.4 180.0L862.0 179.4L866.0 179.0L870.0 178.3L872.0 177.3L874.0 175.8L876.0 173.9L878.3 172.0L881.4 170.0L884.0 168.7L886.0 167.6L888.1 166.0L890.0 163.1L891.6 160.0L892.8 158.0L894.1 156.0L896.0 152.1L896.6 150.0L898.0 146.0L898.7 144.0L899.8 140.0L898.8 136.0L897.4 134.0L895.7 132.0L894.0 129.6L892.8 126.0L892.0 123.2L890.2 120.0L888.6 118.0L886.7 116.0L884.8 114.0L882.8 112.0L880.7 110.0L878.4 108.0L876.0 106.3L874.0 105.1L871.5 104.0L868.0 102.9L865.2 102.0L862.0 100.9L859.7 100.0M803.4 100.0L800.1 102.0L798.0 103.8L796.0 105.6L794.0 107.6L792.0 109.7L790.0 111.5L788.0 112.9L786.0 114.3L784.0 116.1L782.0 118.5L780.0 121.5L779.1 124.0L778.0 126.4L776.4 130.0L775.7 132.0L774.7 136.0L774.3 140.0L774.0 142.0L773.9 146.0L774.8 148.0L776.0 150.8L778.0 153.1L780.0 155.9L780.9 158.0L782.0 160.4L783.8 164.0L785.5 166.0L787.3 168.0L789.3 170.0L791.4 172.0L793.6 174.0L796.0 175.9L798.0 177.2L800.0 178.8L802.0 180.4L804.0 182.0L807.7 184.0L810.0 185.3L812.0 186.4L814.0 188.1L817.7 190.0L820.0 190.5L823.7 192.0L826.0 192.5L829.9 194.0L832.0 194.4L836.0 195.5L838.5 196.0L842.0 196.6L846.0 197.5L850.0 197.5L854.0 196.8L858.0 196.4L862.0 196.3L864.2 196.0L868.0 194.7L870.4 194.0L874.0 192.3L876.0 191.4L880.0 190.1L882.0 188.9L884.6 188.0L888.0 186.2L890.0 184.7L892.0 183.6L894.6 182.0L898.0 180.0L900.0 178.4L902.0 178.0L905.4 176.0L908.0 174.5L910.0 173.1L912.2 172.0L914.1 170.0L916.0 167.6L918.0 165.6L920.4 164.0L924.0 162.4L926.0 161.6L928.0 160.0L930.0 157.7L932.0 155.5L934.0 153.8L936.0 151.9L938.0 149.2L939.3 146.0L939.8 142.0L939.2 138.0L938.6 134.0L938.0 131.9L936.2 128.0L934.6 126.0L932.2 124.0L930.0 123.4L926.0 122.1L924.0 120.3L922.8 118.0L922.0 115.9L920.0 113.7L917.3 112.0L914.0 110.4L912.0 109.9L908.7 108.0L906.0 106.0L904.0 104.5L902.0 103.6L899.8 102.0L896.3 100.0M793.0 100.0L790.2 102.0L788.0 103.7L786.0 105.2L784.0 106.9L782.0 108.8L780.0 110.7L778.0 112.7L776.0 114.7L774.0 116.8L772.0 118.9L770.0 121.1L768.0 123.4L766.0 125.8L764.5 128.0L763.6 130.0L762.9 134.0L762.7 138.0L762.1 142.0L761.9 144.0L762.0 146.0L763.7 150.0L765.1 152.0L766.7 154.0L768.1 156.0L770.0 159.2L771.6 162.0L773.0 164.0L775.0 166.0L777.5 168.0L780.0 169.9L782.0 171.7L784.0 173.6L786.0 175.6L788.0 177.3L790.0 178.8L792.0 180.0L795.1 182.0L798.0 183.9L800.0 185.3L802.0 186.7L804.1 188.0L807.2 190.0L810.0 191.7L812.0 192.8L814.4 194.0L818.0 195.6L820.0 196.3L824.0 197.7L826.0 198.4L830.0 199.6L832.0 200.1L836.0 201.0L840.0 201.8L842.0 202.2L846.0 202.6L850.0 202.5L853.1 202.0L856.0 201.6L860.0 201.2L864.0 200.6L866.5 200.0L870.0 198.9L872.4 198.0L876.0 196.7L878.1 196.0L882.0 194.5L884.0 193.6L887.1 192.0L890.0 190.4L892.0 189.4L894.9 188.0L898.0 186.6L900.0 185.7L903.4 184.0L906.0 182.6L908.0 181.5L911.0 180.0L914.0 178.6L916.0 177.6L919.1 176.0L922.0 174.3L924.0 173.1L926.0 171.9L930.0 170.0L932.0 169.1L934.2 168.0L937.1 166.0L939.2 164.0L941.0 162.0L942.8 160.0L944.5 158.0L946.0 156.0L948.0 152.3L948.8 150.0L949.9 146.0L950.5 144.0L951.1 140.0L950.6 136.0L950.0 134.0L948.6 130.0L947.9 128.0L946.4 124.0L945.1 122.0L943.3 120.0L941.1 118.0L938.5 116.0L936.0 114.4L934.0 113.4L931.3 112.0L928.0 110.1L926.0 108.8L924.0 107.6L921.1 106.0L918.0 104.6L916.0 103.7L912.6 102.0L910.0 100.4L909.4 100.0M780.6 100.0L778.0 101.6L776.0 103.0L774.0 104.6L772.0 106.5L770.0 108.3L767.7 110.0L764.0 112.0L762.0 113.2L760.0 115.0L758.1 118.0L756.3 120.0L754.3 122.0L752.0 124.0L750.0 125.8L748.4 128.0L747.5 130.0L746.1 134.0L745.7 136.0L745.9 140.0L746.4 142.0L747.7 146.0L748.3 148.0L749.4 152.0L750.3 154.0L752.0 156.3L754.0 158.5L756.0 160.2L758.2 162.0L760.5 164.0L762.7 166.0L764.7 168.0L766.9 170.0L769.6 172.0L772.0 173.6L774.0 175.0L776.0 176.2L778.4 178.0L780.3 180.0L782.0 182.0L784.0 184.0L787.4 186.0L790.0 186.9L792.6 188.0L796.0 189.8L798.0 191.3L800.0 192.2L802.8 194.0L806.0 195.7L808.0 196.7L810.8 198.0L814.0 199.6L816.0 200.3L820.0 201.8L822.0 202.7L826.0 203.8L828.0 204.5L832.0 205.4L836.0 205.9L838.0 206.5L842.0 207.5L846.0 208.0L850.0 207.8L854.0 207.3L858.0 206.8L862.0 206.3L864.2 206.0L868.0 205.2L870.3 204.0L874.0 203.0L876.2 202.0L880.0 201.4L884.0 200.0L886.0 199.1L888.0 197.8L890.8 196.0L894.0 194.5L896.0 193.5L900.0 192.2L902.0 191.7L905.8 190.0L908.0 189.0L910.0 187.7L913.2 186.0L916.0 185.0L918.2 184.0L922.0 182.7L924.0 181.6L927.6 180.0L930.0 179.2L932.4 178.0L936.0 176.6L938.0 175.6L940.3 174.0L943.3 172.0L945.8 170.0L948.0 168.3L950.0 166.5L952.0 164.3L954.0 162.0L955.6 160.0L956.4 158.0L957.6 154.0L958.0 150.8L958.9 148.0L960.0 144.0L960.7 142.0L961.1 138.0L960.0 134.4L959.3 132.0L958.0 128.7L957.5 126.0L956.4 122.0L955.6 120.0L954.0 117.8L952.0 115.9L949.7 114.0L947.4 112.0L945.4 110.0L943.7 108.0L942.0 105.9L939.4 104.0L936.0 103.1L932.0 102.4L930.0 101.6L926.1 100.0M748.4 100.0L746.0 101.6L744.0 102.5L740.0 103.7L738.0 104.4L735.2 106.0L733.1 108.0L731.4 110.0L729.6 112.0L727.2 114.0L724.1 116.0L722.0 117.3L720.0 119.0L718.0 122.0L717.1 124.0L716.0 126.6L715.1 130.0L715.0 134.0L714.8 138.0L714.0 140.4L712.8 144.0L713.1 148.0L714.3 150.0L716.1 152.0L718.0 154.3L719.6 158.0L720.0 160.0L721.2 164.0L722.6 166.0L725.0 168.0L728.0 169.7L730.0 170.9L732.0 172.1L734.7 174.0L738.0 176.0L740.0 176.9L742.4 178.0L746.0 179.8L748.0 180.9L750.2 182.0L754.0 183.5L756.0 184.2L759.5 186.0L762.0 187.8L764.0 189.2L766.0 190.3L770.0 191.4L773.2 192.0L776.0 193.1L778.0 194.3L780.2 196.0L783.1 198.0L786.0 199.5L788.0 200.4L791.6 202.0L794.0 203.2L796.0 204.3L799.6 206.0L802.0 207.0L804.5 208.0L808.0 209.5L810.0 210.4L814.0 211.8L816.0 212.4L820.0 213.8L822.0 214.5L826.0 215.8L828.0 216.2L832.0 216.5L836.0 217.0L840.0 218.0L842.0 218.4L846.0 218.6L850.0 218.2L852.0 218.0L856.0 217.7L860.0 217.3L864.0 216.6L866.9 216.0L870.0 215.4L874.0 214.9L877.9 214.0L880.0 213.2L882.6 212.0L886.0 210.4L888.0 209.5L892.0 208.2L894.0 207.6L898.0 206.3L900.0 205.6L904.0 204.3L906.0 203.6L910.0 202.3L912.0 201.6L915.6 200.0L918.0 199.0L921.4 198.0L924.0 197.5L928.0 197.0L932.0 196.0L934.0 195.0L936.0 193.9L940.0 192.0L942.0 191.4L946.0 190.4L948.0 189.8L951.1 188.0L953.3 186.0L955.2 184.0L957.1 182.0L959.4 180.0L962.0 178.0L964.0 176.3L965.8 174.0L966.8 172.0L968.0 169.4L970.0 166.6L972.0 164.3L973.7 162.0L974.7 160.0L976.0 156.0L976.5 154.0L977.5 150.0L977.8 146.0L977.4 142.0L977.6 138.0L978.0 136.0L978.5 132.0L978.0 129.5L976.2 126.0L974.9 124.0L973.9 122.0L972.7 118.0L972.0 115.0L970.6 112.0L969.1 110.0L967.0 108.0L964.9 106.0L963.1 104.0L961.5 102.0L959.9 100.0M713.2 100.0L711.1 102.0L708.9 104.0L706.6 106.0L704.2 108.0L702.2 110.0L700.9 112.0L700.0 114.9L698.9 118.0L697.8 120.0L696.0 123.1L694.9 126.0L694.1 130.0L693.7 132.0L692.9 136.0L692.5 140.0L693.1 144.0L693.1 148.0L692.4 152.0L692.9 156.0L694.8 158.0L697.6 160.0L699.2 162.0L700.4 164.0L701.8 168.0L702.3 170.0L704.0 173.2L706.0 175.2L708.0 176.7L710.0 178.4L712.0 180.4L714.0 182.9L716.0 185.3L718.0 187.1L720.0 188.4L723.5 190.0L726.0 191.3L728.2 192.0L732.0 193.5L734.0 194.0L738.0 195.4L740.0 196.5L742.5 198.0L745.6 200.0L748.0 200.9L752.0 201.2L756.0 201.6L758.0 202.4L762.0 203.9L764.0 204.7L768.0 205.4L770.4 206.0L774.0 207.5L776.0 208.9L778.2 210.0L782.0 212.0L784.0 212.6L788.0 213.7L790.0 214.5L794.0 216.0L796.0 217.0L799.0 218.0L802.0 219.5L804.0 220.4L806.6 222.0L810.0 223.6L812.0 224.1L816.0 225.0L820.0 226.0L822.0 226.3L826.0 226.7L830.0 226.9L834.0 227.5L836.0 228.1L840.0 229.5L844.0 229.5L848.0 228.9L852.0 228.9L856.0 229.3L860.0 229.3L864.0 228.3L866.0 227.7L870.0 226.9L874.0 226.2L876.3 226.0L880.0 225.1L882.1 224.0L886.0 222.4L888.0 221.6L892.0 220.7L894.8 220.0L898.0 219.4L901.9 218.0L904.0 217.4L907.7 216.0L910.0 215.5L914.0 214.5L916.0 213.9L920.0 213.2L924.0 212.4L926.0 211.9L930.0 211.0L932.7 210.0L936.0 209.3L940.0 208.2L942.0 207.9L946.0 206.8L948.0 206.0L951.7 204.0L954.0 202.6L956.0 201.2L958.0 199.6L960.7 198.0L964.0 196.6L966.0 196.0L969.8 194.0L971.8 192.0L972.9 190.0L974.0 187.7L976.0 184.7L978.0 182.3L980.0 180.3L982.0 178.3L983.9 176.0L985.7 174.0L987.6 172.0L989.3 170.0L991.1 168.0L992.3 166.0L992.9 162.0L993.8 158.0L994.6 156.0L996.0 152.8L996.7 150.0L997.1 146.0L997.1 142.0L996.6 138.0L996.0 135.9L995.4 132.0L995.1 128.0L994.0 124.5L993.2 122.0L991.9 120.0L990.0 116.0L989.2 114.0L988.0 110.9L986.8 108.0L985.6 106.0L983.8 104.0L981.9 102.0L980.4 100.0M688.0 194.6L690.0 196.0L692.3 198.0L694.5 200.0L696.6 202.0L698.8 204.0L701.1 206.0L703.4 208.0L705.7 210.0L708.0 211.9L710.0 213.4L712.0 214.6L714.5 216.0L717.7 218.0L720.0 219.6L722.0 220.7L726.0 221.7L730.0 221.5L733.6 222.0L736.0 223.0L738.0 224.0L742.0 225.6L746.0 225.7L750.0 225.6L752.0 226.0L756.0 227.5L758.1 228.0L762.0 228.3L766.0 228.4L770.0 229.5L772.0 230.5L775.0 232.0L778.0 233.3L780.2 234.0L784.0 235.5L786.0 236.3L790.0 237.6L792.0 238.1L796.0 239.3L798.0 240.0L802.0 241.8L804.0 242.5L808.0 243.1L811.8 244.0L814.0 244.8L817.1 246.0L820.0 246.5L824.0 246.2L826.0 245.8L830.0 245.6L832.9 246.0L836.0 246.8L840.0 247.0L844.0 247.0L848.0 247.5L850.2 248.0L854.0 248.5L856.4 248.0L860.0 247.2L864.0 246.8L868.0 247.1L872.0 247.3L876.0 246.5L878.0 245.7L881.7 244.0L884.0 243.3L888.0 242.3L890.0 241.8L894.0 240.9L898.0 240.1L900.0 239.9L904.0 239.5L908.0 238.6L910.0 237.9L914.0 236.3L916.0 235.6L920.0 235.0L924.0 234.5L926.6 234.0L930.0 233.5L934.0 233.2L938.0 233.3L942.0 232.1L944.0 230.9L946.0 229.6L949.1 228.0L952.0 226.9L955.6 226.0L958.0 225.6L962.0 224.5L964.0 223.7L966.7 222.0L969.3 220.0L971.9 218.0L974.0 216.7L976.0 215.8L980.0 214.3L982.0 213.4L984.2 212.0L986.1 210.0L988.0 207.8L990.0 205.9L993.0 204.0L996.0 202.7L998.0 201.9L1000.4 200.0L1002.0 197.6L1004.0 194.3L1005.9 192.0L1007.6 190.0L1009.3 188.0L1010.6 186.0L1012.0 183.6L1013.3 180.0L1014.7 178.0L1015.1 174.0L1015.6 170.0L1016.0 168.0L1018.0 164.8L1020.0 162.0L1020.1 162.0L1023.6 164.0L1026.0 164.4L1028.0 163.7L1030.0 164.6L1030.0 162.8L1028.0 160.0L1026.7 158.0L1028.6 156.0L1030.0 153.0L1033.0 154.0L1036.0 154.2L1040.0 154.0L1042.0 152.8L1044.0 151.0L1044.9 148.0L1042.0 147.1L1038.9 146.0L1036.3 144.0L1034.0 142.7L1032.0 140.6L1030.0 138.3L1030.0 137.7L1032.3 138.0L1035.5 138.0L1036.0 135.9L1039.4 134.0L1040.3 132.0L1039.2 130.0L1039.7 126.0L1036.0 125.8L1034.0 126.8L1030.0 127.9L1028.9 130.0L1027.2 130.0L1025.2 128.0L1023.6 126.0L1022.5 122.0L1022.2 118.0L1023.6 114.0L1025.0 112.0L1024.0 109.7L1020.0 108.6L1018.0 107.0L1016.0 105.1L1014.2 102.0L1013.5 100.0M1032.0 111.9L1031.9 114.0L1032.0 114.0L1032.0 111.9M1060.0 117.6L1058.0 118.8L1056.0 120.4L1053.6 122.0L1056.0 123.6L1060.0 122.9L1062.0 124.9L1064.0 126.1L1066.0 124.6L1068.0 122.2L1068.0 121.9L1066.0 119.3L1062.7 118.0L1060.0 117.6M1060.0 119.4L1060.0 120.3L1060.0 119.4M1034.0 133.8L1034.0 135.4L1034.0 133.8M1058.0 137.4L1056.0 138.6L1052.8 140.0L1051.3 142.0L1054.0 143.7L1056.1 142.0L1058.0 139.1L1060.0 141.0L1062.0 143.2L1064.4 142.0L1064.0 139.9L1060.3 138.0L1058.0 137.4M1024.0 141.5L1026.0 143.2L1028.0 144.9L1028.0 147.9L1026.0 148.0L1027.0 150.0L1024.0 151.1L1021.9 150.0L1020.6 146.0L1022.3 144.0L1024.0 141.5M1058.0 143.9L1058.0 144.2L1060.0 146.6L1060.3 144.0L1058.0 143.9M1054.0 149.5L1054.0 150.2L1054.0 149.5M1060.0 153.7L1059.7 156.0L1060.2 156.0L1060.0 153.7M1060.0 161.1L1060.0 162.2L1060.0 161.1M1032.0 165.1L1032.0 166.6L1032.0 165.1M1030.0 175.4L1028.0 177.3L1028.0 178.4L1030.4 178.0L1030.0 175.4M1054.0 185.2L1054.0 187.2L1054.0 185.2M1068.0 193.8L1068.0 194.1L1068.0 193.8M1057.5 100.0L1055.7 102.0L1056.4 104.0L1055.8 104.0L1052.0 102.4L1050.0 101.6L1048.2 100.0M688.0 230.5L690.3 232.0L694.0 233.9L696.0 235.1L698.0 236.4L700.2 238.0L702.4 240.0L706.0 241.9L708.0 242.5L711.0 244.0L714.0 245.8L716.0 247.0L719.3 248.0L720.5 248.0L724.0 247.4L728.0 247.6L730.0 248.8L732.0 250.6L734.0 252.1L738.0 252.6L740.1 252.0L744.0 250.7L748.0 251.3L750.4 252.0L754.0 252.7L758.0 252.7L762.0 252.7L766.0 253.4L768.2 254.0L772.0 255.3L774.0 256.1L777.9 258.0L780.0 259.1L783.2 260.0L786.0 260.4L790.0 261.0L794.0 261.8L796.0 262.4L800.0 263.0L804.0 263.3L806.3 264.0L809.6 266.0L812.0 267.5L814.0 268.3L818.0 268.2L820.0 267.7L824.0 266.9L828.0 267.2L831.1 268.0L834.0 268.7L838.0 269.2L841.6 270.0L844.0 271.2L846.0 272.1L850.0 272.4L852.0 271.9L856.0 270.6L860.0 270.3L864.0 270.3L866.4 270.0L870.0 269.3L874.0 268.5L878.0 268.1L880.0 267.9L884.0 267.0L886.6 266.0L890.0 264.6L892.0 263.8L896.0 263.4L900.0 263.2L904.0 262.3L906.0 261.8L910.0 261.1L914.0 261.0L918.0 260.6L920.0 260.0L924.0 258.6L926.0 257.8L930.0 257.5L933.9 258.0L934.1 258.0L938.0 257.3L941.8 256.0L944.0 255.4L948.0 254.9L952.0 254.2L954.0 253.6L957.8 252.0L960.0 251.2L964.0 250.1L966.0 249.8L970.0 248.7L972.0 248.0L976.0 246.4L978.0 245.7L982.0 244.4L984.0 243.5L986.1 242.0L988.4 240.0L992.0 238.1L994.0 237.5L998.0 236.8L1002.0 236.6L1005.0 236.0L1004.9 232.0L1005.7 228.0L1007.1 226.0L1010.0 225.3L1012.0 223.1L1014.0 220.2L1014.7 218.0L1016.0 214.5L1016.0 212.2L1016.0 211.9L1018.0 209.4L1020.0 206.8L1022.4 208.0L1024.0 211.9L1026.0 212.7L1028.0 211.7L1028.0 212.3L1028.0 214.4L1030.0 216.1L1032.0 214.7L1034.0 213.4L1034.0 210.3L1032.1 208.0L1033.1 204.0L1034.8 202.0L1032.2 200.0L1031.1 198.0L1034.0 197.8L1036.0 199.3L1038.0 200.0L1038.0 198.7L1036.4 196.0L1038.0 192.0L1038.4 190.0L1038.0 187.9L1038.0 184.4L1038.7 182.0L1040.0 179.2L1040.0 176.9L1039.4 174.0L1041.0 172.0L1043.2 170.0L1046.0 169.3L1048.0 171.8L1048.0 172.8L1048.0 174.3L1050.0 173.3L1052.0 174.0L1052.0 176.1L1051.3 180.0L1048.0 181.8L1046.0 184.0L1046.0 184.0L1047.1 188.0L1047.8 192.0L1050.0 192.9L1050.6 196.0L1048.0 196.7L1046.0 198.2L1042.0 199.8L1041.3 202.0L1042.0 204.4L1044.0 206.1L1047.1 208.0L1046.0 210.3L1043.6 212.0L1045.7 214.0L1043.8 214.0L1040.0 213.4L1039.2 216.0L1040.0 218.2L1042.0 217.8L1044.0 218.8L1047.7 218.0L1050.0 217.3L1052.0 216.0L1054.0 216.4L1056.0 219.6L1056.4 222.0L1058.0 225.4L1059.9 228.0L1062.0 229.0L1064.0 230.5L1064.0 228.9L1064.0 227.6L1066.0 224.4L1066.6 222.0L1065.5 220.0L1066.0 216.9L1067.6 214.0L1070.0 212.5L1071.3 210.0L1070.6 206.0L1071.7 202.0L1072.4 200.0L1072.8 196.0L1072.0 194.0L1073.0 192.0L1072.0 188.2L1070.0 186.4L1070.0 184.8L1070.0 182.8L1068.0 184.1L1066.0 183.1L1063.0 182.0L1060.3 180.0L1058.7 178.0L1060.0 174.9L1060.0 173.5L1058.0 170.5L1058.0 169.3L1059.8 166.0L1062.0 164.9L1064.0 163.8L1067.1 162.0L1070.0 161.6L1072.0 162.4L1075.9 162.0L1077.4 160.0L1079.0 158.0L1078.0 155.7L1074.3 156.0L1073.4 156.0L1070.0 154.0L1070.0 154.0L1066.0 155.4L1064.0 153.5L1064.0 150.9L1064.6 148.0L1063.9 146.0L1066.0 145.1L1068.0 143.8L1070.0 145.2L1072.1 144.0L1071.5 142.0L1072.5 142.0L1076.0 142.5L1076.0 140.4L1076.0 138.7L1078.1 138.0L1077.3 136.0L1078.6 136.0L1081.0 136.0L1078.3 134.0L1076.0 132.5L1074.0 131.7L1070.7 130.0L1069.9 128.0L1071.8 126.0L1070.8 122.0L1070.0 118.9L1068.0 116.5L1066.9 114.0L1064.0 112.7L1062.0 111.6L1061.2 108.0L1062.3 106.0L1061.6 104.0L1062.0 102.0L1062.8 100.0M1046.0 104.3L1049.0 106.0L1052.0 107.9L1054.7 108.0L1054.3 112.0L1054.3 116.0L1052.9 118.0L1051.8 118.0L1048.0 116.4L1046.0 118.6L1042.8 118.0L1044.0 114.7L1044.5 112.0L1043.6 110.0L1045.1 108.0L1046.0 104.3M1072.0 109.9L1072.0 110.1L1072.0 109.9M1078.0 109.7L1076.0 110.2L1073.3 112.0L1074.3 114.0L1077.6 116.0L1080.0 117.9L1081.5 120.0L1082.4 120.0L1084.5 118.0L1084.8 114.0L1087.3 112.0L1085.5 110.0L1082.0 109.9L1080.0 110.5L1078.0 109.7M1082.0 110.5L1082.0 112.2L1082.0 110.5M1082.0 123.8L1081.6 126.0L1080.0 128.8L1080.0 130.9L1082.0 133.1L1086.0 132.7L1089.9 132.0L1088.0 129.8L1085.3 128.0L1084.2 124.0L1082.0 123.8M1058.0 127.3L1062.0 127.5L1064.0 128.8L1064.0 131.2L1062.0 133.0L1059.6 134.0L1056.6 134.0L1055.2 132.0L1056.9 130.0L1058.0 127.3M1092.0 129.9L1092.0 130.2L1092.0 129.9M1068.0 131.5L1068.0 133.1L1068.0 131.5M1098.0 131.9L1097.0 134.0L1098.4 134.0L1098.0 131.9M1048.0 152.8L1052.0 153.0L1055.1 154.0L1054.7 158.0L1056.0 161.0L1056.0 162.8L1054.0 164.7L1051.5 164.0L1049.2 162.0L1046.0 161.8L1044.7 158.0L1046.0 154.2L1048.0 152.8M1092.0 163.6L1091.4 166.0L1093.3 168.0L1094.9 168.0L1094.0 164.4L1092.0 163.6M1068.0 173.3L1066.8 176.0L1070.0 177.1L1071.3 180.0L1073.6 180.0L1076.0 179.0L1076.2 176.0L1074.2 174.0L1072.0 172.6L1068.0 173.3M1064.0 177.3L1064.0 179.0L1064.0 177.3M1026.0 185.4L1026.0 186.8L1026.0 185.4M1082.0 189.3L1082.0 190.6L1084.0 192.8L1084.0 195.7L1083.9 198.0L1086.0 199.2L1088.8 198.0L1090.2 196.0L1089.9 194.0L1087.4 192.0L1085.3 190.0L1082.0 189.3M1056.0 190.0L1060.0 191.0L1062.0 192.5L1063.4 196.0L1061.1 198.0L1060.0 201.2L1056.0 200.1L1054.6 198.0L1054.8 194.0L1056.0 190.0M1062.0 201.7L1062.0 202.3L1062.0 201.7M1058.0 203.8L1059.4 206.0L1058.0 209.5L1056.0 211.9L1056.0 212.1L1056.0 214.5L1054.0 213.5L1051.5 212.0L1052.0 208.9L1053.6 206.0L1056.0 204.5L1058.0 203.8M1046.0 214.1L1046.0 217.0L1046.0 214.1M1042.0 220.1L1040.1 224.0L1044.0 224.2L1044.1 222.0L1042.0 220.1M1024.0 225.7L1022.9 228.0L1026.0 229.9L1028.0 230.3L1029.8 228.0L1028.0 225.3L1024.0 225.7M1062.0 233.6L1061.1 236.0L1064.0 236.3L1064.0 235.5L1062.0 233.6M1054.0 237.3L1053.8 240.0L1056.0 241.2L1058.0 240.0L1058.0 236.5L1054.0 237.3M1076.9 100.0L1080.0 100.8L1081.0 100.0M1085.3 100.0L1086.8 102.0L1084.9 104.0L1083.7 106.0L1080.0 106.1L1078.0 104.2L1076.0 103.5L1074.0 104.3L1072.0 102.3L1072.0 101.9L1074.9 100.0M1102.5 100.0L1100.0 101.2L1098.3 100.0M1110.0 102.8L1108.0 102.0L1106.3 100.0M1110.0 157.5L1109.5 160.0L1109.3 164.0L1108.0 167.3L1107.4 170.0L1110.0 171.8M1110.0 182.8L1107.8 182.0L1104.0 181.9L1104.0 182.4L1106.0 185.0L1106.0 187.2L1104.0 185.6L1102.0 183.4L1098.2 184.0L1097.3 186.0L1099.6 188.0L1100.2 188.0L1103.7 188.0L1105.6 190.0L1107.8 190.0L1108.0 187.5L1110.0 187.5M688.0 271.5L690.0 272.4L694.0 273.6L698.0 273.5L702.0 273.3L704.7 274.0L707.0 276.0L708.4 278.0L710.0 280.5L712.0 282.1L716.0 282.8L720.0 282.9L724.0 283.9L726.0 284.5L730.0 284.9L734.0 284.5L738.0 284.4L741.6 286.0L744.0 287.8L746.0 288.3L750.0 288.1L754.0 288.1L758.0 288.3L760.9 288.0L764.0 287.5L768.0 287.1L772.0 287.6L774.7 288.0L778.0 288.5L782.0 289.3L784.0 290.1L786.5 292.0L788.7 294.0L792.0 295.0L795.7 294.0L798.0 293.4L802.0 293.9L804.0 294.7L806.8 296.0L810.0 297.1L814.0 297.3L818.0 297.3L820.6 298.0L824.0 299.5L826.2 300.0L830.0 300.3L834.0 300.9L837.9 302.0L840.0 302.4L844.0 302.2L846.0 301.7L850.0 300.2L852.0 299.7L856.0 299.2L860.0 298.7L864.0 298.0L866.0 297.9L868.4 298.0L872.0 298.4L876.0 298.1L878.0 297.5L882.0 296.3L884.0 295.7L888.0 295.7L892.0 295.3L896.0 294.3L898.0 294.0L900.0 294.0L904.0 295.1L908.0 295.9L912.0 294.8L914.0 293.9L918.0 292.2L920.0 291.9L922.6 292.0L926.0 292.4L928.3 292.0L932.0 290.3L934.0 289.4L938.0 288.4L942.0 288.2L944.8 288.0L948.0 287.3L951.2 286.0L954.0 284.8L958.0 284.0L960.5 284.0L964.0 283.8L968.0 282.8L970.5 282.0L974.0 281.5L978.0 281.2L982.0 280.3L984.0 279.5L986.4 278.0L988.7 276.0L992.0 275.4L994.5 276.0L996.7 278.0L998.2 278.0L1000.0 275.3L1002.0 273.3L1005.2 272.0L1006.0 268.8L1006.0 267.3L1006.0 264.0L1007.2 262.0L1009.6 260.0L1012.0 258.6L1014.7 260.0L1017.2 262.0L1019.4 262.0L1022.0 261.3L1022.6 258.0L1024.4 256.0L1023.5 254.0L1024.0 250.9L1026.0 249.8L1030.0 250.0L1030.1 250.0L1032.4 250.0L1036.0 251.5L1038.2 250.0L1040.0 247.0L1042.0 245.4L1043.9 242.0L1044.6 242.0L1046.1 242.0L1049.3 242.0L1051.0 244.0L1053.3 246.0L1052.0 249.0L1050.5 252.0L1051.7 256.0L1051.1 260.0L1052.0 262.0L1054.7 262.0L1057.5 260.0L1060.0 258.5L1064.0 259.0L1068.0 259.2L1070.0 257.4L1071.5 254.0L1068.8 252.0L1066.0 250.5L1064.0 249.5L1061.0 248.0L1059.4 246.0L1061.4 244.0L1064.0 242.4L1066.0 240.0L1068.1 240.0L1068.0 236.9L1067.9 234.0L1068.0 232.0L1068.7 228.0L1069.7 224.0L1070.0 220.0L1071.0 218.0L1072.0 215.4L1074.0 216.0L1076.0 215.8L1079.6 214.0L1082.0 213.5L1084.0 214.6L1086.2 214.0L1086.0 210.8L1084.8 208.0L1082.0 207.3L1079.2 206.0L1080.2 204.0L1082.0 201.6L1086.0 201.7L1088.0 203.2L1092.0 202.7L1094.8 202.0L1098.0 200.4L1099.0 198.0L1096.0 196.2L1094.0 195.8L1092.0 192.3L1090.8 190.0L1092.0 188.0L1094.0 184.1L1095.0 182.0L1093.5 180.0L1094.0 176.3L1095.9 174.0L1097.3 172.0L1100.0 171.6L1100.0 168.5L1098.0 166.6L1097.5 164.0L1096.3 160.0L1095.0 158.0L1096.0 155.9L1098.0 152.5L1100.0 150.7L1102.5 150.0L1104.0 146.8L1104.0 145.4L1102.0 143.8L1100.0 140.0L1101.2 136.0L1102.2 134.0L1104.0 130.1L1104.2 128.0L1103.4 126.0L1105.8 124.0L1105.3 120.0L1104.0 117.2L1100.0 117.7L1098.0 118.0L1098.2 120.0L1097.2 122.0L1096.0 124.5L1093.8 126.0L1090.3 126.0L1088.2 124.0L1087.6 122.0L1088.8 120.0L1087.8 118.0L1088.5 116.0L1092.0 114.0L1093.7 112.0L1096.0 110.9L1098.0 108.0L1098.0 108.0L1100.9 110.0L1104.0 110.6L1106.0 109.2L1108.0 106.0L1108.1 106.0L1110.0 106.2M1086.0 135.9L1088.3 136.0L1092.0 137.0L1094.0 138.0L1095.8 142.0L1093.4 144.0L1090.8 146.0L1088.0 146.9L1085.0 146.0L1083.2 144.0L1081.6 142.0L1082.0 139.5L1084.0 136.7L1086.0 135.9M1084.0 147.3L1084.0 149.5L1084.0 147.3M1082.0 151.0L1082.0 152.3L1082.0 151.0M1084.0 153.4L1086.0 155.3L1086.0 157.4L1085.5 160.0L1083.7 162.0L1086.0 162.4L1087.6 166.0L1086.0 168.8L1085.1 172.0L1082.0 172.2L1078.3 172.0L1076.9 170.0L1075.2 168.0L1076.6 166.0L1079.0 164.0L1080.0 161.2L1082.3 160.0L1081.5 158.0L1082.0 155.1L1084.0 153.4M1072.0 165.6L1074.9 166.0L1072.0 166.5L1072.0 165.6M1078.0 188.2L1078.0 191.0L1076.0 192.4L1076.0 190.1L1078.0 188.2M1078.0 198.7L1078.0 200.5L1078.0 198.7M1086.0 205.4L1086.0 206.5L1086.0 205.4M1034.0 221.7L1034.0 222.6L1034.0 221.7M1052.0 221.2L1054.0 223.3L1056.0 225.8L1056.4 228.0L1055.9 230.0L1054.0 232.2L1052.0 234.0L1050.0 233.1L1048.0 230.1L1048.0 229.9L1049.0 226.0L1047.9 224.0L1050.0 222.3L1052.0 221.2M1076.0 221.8L1074.0 223.7L1072.0 225.5L1072.0 226.7L1074.0 228.2L1076.0 226.5L1079.4 226.0L1078.1 222.0L1076.0 221.8M1036.0 222.5L1036.0 224.4L1036.0 222.5M1082.0 224.1L1080.0 226.6L1080.0 228.5L1084.0 228.2L1085.4 226.0L1082.0 224.1M1092.0 227.3L1092.0 228.3L1092.0 227.3M1038.0 231.8L1038.0 232.3L1038.0 231.8M1032.0 234.0L1036.0 233.4L1036.8 236.0L1034.1 238.0L1032.0 238.7L1030.0 236.2L1030.0 235.9L1032.0 234.0M1042.0 234.8L1042.0 236.9L1042.0 234.8M1040.0 239.6L1040.0 240.0L1040.0 239.6M1080.0 245.3L1078.2 248.0L1077.2 250.0L1079.4 252.0L1080.7 252.0L1082.0 249.8L1084.0 250.5L1086.2 250.0L1084.1 248.0L1082.5 246.0L1080.0 245.3M1030.0 247.7L1030.0 250.0L1030.0 247.7M1036.0 255.4L1036.0 256.3L1036.0 255.4M1088.0 259.7L1086.0 260.6L1083.8 262.0L1084.9 264.0L1088.0 265.6L1088.0 263.0L1088.0 260.8L1088.0 259.7M1036.0 261.1L1034.0 263.6L1032.9 266.0L1036.0 266.1L1040.0 267.0L1042.0 268.0L1043.2 266.0L1041.8 264.0L1042.0 262.0L1040.0 261.6L1036.0 261.1M1050.0 262.4L1050.0 265.2L1052.0 266.1L1052.2 264.0L1050.0 262.4M1094.0 263.6L1094.0 264.7L1094.0 263.6M1022.0 265.2L1020.0 267.8L1020.0 268.4L1024.0 268.6L1024.0 266.8L1022.0 265.2M1090.0 266.0L1090.0 266.0L1090.0 266.0M1032.0 267.4L1032.0 268.4L1032.0 267.4M1014.0 269.7L1012.1 272.0L1011.4 274.0L1014.0 274.7L1016.0 273.1L1016.0 270.6L1014.0 269.7M1076.0 271.8L1076.0 272.6L1076.0 271.8M1066.0 273.2L1066.0 275.9L1068.0 276.3L1068.9 274.0L1066.0 273.2M1056.0 275.3L1056.0 277.2L1058.0 278.5L1058.9 276.0L1056.0 275.3M1050.0 279.7L1050.0 280.3L1050.0 279.7M1054.0 279.5L1054.0 280.1L1054.0 279.5M1056.0 280.9L1056.0 282.3L1056.0 280.9M1110.0 114.9L1107.6 114.0L1108.0 111.4L1110.0 112.4M1110.0 132.2L1108.0 130.6L1108.0 128.8L1110.0 128.3M1110.0 138.2L1108.0 137.0L1108.0 135.3L1110.0 135.5M1110.0 218.4L1108.0 217.2L1105.7 216.0L1103.3 214.0L1104.6 212.0L1104.3 208.0L1108.0 206.4L1110.0 206.9M1110.0 231.1L1108.0 232.3L1106.0 234.0L1104.0 236.7L1102.0 236.0L1099.6 234.0L1096.9 232.0L1095.5 230.0L1096.6 228.0L1096.4 224.0L1099.0 222.0L1097.2 220.0L1098.0 217.0L1100.6 218.0L1101.6 222.0L1104.0 222.2L1106.0 221.5L1107.9 224.0L1108.0 226.0L1110.0 225.4M688.0 312.6L691.6 312.0L694.0 311.6L697.6 312.0L700.0 312.9L702.6 314.0L706.0 315.0L710.0 316.0L712.0 316.9L714.0 318.4L716.0 320.6L718.0 322.2L722.0 322.7L725.3 322.0L728.0 321.6L732.0 321.6L736.0 321.8L740.0 321.9L742.4 322.0L746.0 322.6L750.0 322.8L752.8 322.0L756.0 321.3L759.9 322.0L762.0 323.6L764.0 325.3L766.0 326.1L768.0 325.9L771.7 324.0L774.0 323.5L776.6 324.0L780.0 325.9L782.0 327.4L784.0 328.4L788.0 328.1L790.0 327.6L794.0 327.1L796.8 328.0L800.0 329.8L802.0 330.4L806.0 331.0L810.0 331.7L812.0 332.2L816.0 333.1L820.0 333.0L824.0 332.3L828.0 332.5L832.0 333.3L834.9 334.0L838.0 334.9L840.5 336.0L844.0 337.3L848.0 336.6L850.0 334.9L852.0 333.4L856.0 332.1L860.0 332.8L864.0 333.9L868.0 333.2L870.9 332.0L874.0 331.1L878.0 331.5L880.0 332.1L884.0 332.8L886.3 332.0L888.8 330.0L891.6 328.0L894.0 327.6L896.0 328.1L899.0 330.0L901.6 332.0L904.0 332.5L906.2 332.0L910.0 330.3L912.0 329.6L916.0 329.1L920.0 329.3L924.0 329.5L928.0 329.7L932.0 328.9L934.0 327.6L936.0 326.0L940.0 324.5L943.1 324.0L946.0 323.9L950.0 323.5L954.0 322.1L956.0 321.2L960.0 320.3L964.0 321.1L967.3 322.0L968.3 322.0L971.0 320.0L973.2 318.0L976.0 316.2L978.0 315.5L982.0 315.6L984.0 316.4L987.5 318.0L990.0 318.5L992.0 317.8L993.4 314.0L994.0 311.8L996.0 309.2L1000.0 308.4L1004.0 309.5L1006.0 310.5L1007.7 308.0L1009.9 306.0L1010.0 304.0L1011.5 300.0L1014.0 298.0L1016.0 297.2L1019.8 296.0L1022.0 294.7L1026.0 295.6L1028.0 297.3L1031.9 296.0L1034.0 294.0L1036.0 292.6L1036.0 290.2L1034.0 289.5L1033.8 286.0L1034.2 286.0L1037.5 288.0L1040.0 289.1L1042.0 287.0L1046.0 286.0L1050.0 286.1L1052.0 285.6L1053.2 288.0L1055.6 290.0L1056.2 292.0L1058.0 294.5L1058.9 298.0L1057.0 298.0L1054.0 296.6L1052.0 298.3L1050.0 298.0L1048.0 298.2L1044.8 300.0L1044.0 303.0L1044.0 304.5L1046.0 303.5L1048.4 304.0L1050.2 306.0L1054.0 307.5L1056.2 306.0L1058.0 303.7L1061.8 302.0L1064.0 300.8L1065.2 298.0L1067.2 296.0L1068.0 293.1L1072.0 293.2L1075.3 294.0L1076.7 294.0L1080.0 293.6L1083.0 292.0L1082.0 288.0L1080.0 286.8L1076.4 286.0L1074.0 285.7L1072.7 288.0L1070.2 290.0L1068.0 290.9L1066.7 288.0L1065.8 286.0L1063.9 284.0L1065.3 282.0L1067.6 280.0L1070.0 278.8L1072.3 280.0L1076.0 280.9L1078.0 279.5L1080.0 277.7L1082.8 276.0L1084.0 273.0L1086.0 270.4L1088.0 269.4L1091.7 270.0L1093.4 272.0L1096.0 273.3L1098.0 271.1L1100.0 268.6L1102.9 268.0L1104.3 266.0L1107.1 264.0L1108.6 262.0L1108.0 259.4L1107.8 256.0L1106.0 252.2L1104.0 250.8L1104.0 249.1L1106.4 248.0L1106.0 245.7L1102.2 244.0L1101.2 242.0L1104.0 240.6L1106.0 242.2L1108.7 242.0L1110.0 240.6M1106.0 139.5L1106.0 140.5L1106.0 139.5M1102.0 153.5L1102.0 155.6L1102.0 156.2L1104.0 158.4L1105.2 162.0L1102.0 163.3L1099.5 162.0L1099.0 158.0L1100.0 155.0L1102.0 153.5M1104.0 177.1L1104.0 178.5L1104.0 177.1M1102.0 206.0L1102.0 206.0L1102.0 206.0M1078.0 233.4L1080.0 234.2L1082.0 237.0L1084.0 235.9L1087.3 236.0L1088.6 238.0L1088.0 240.2L1084.0 241.3L1082.0 239.7L1080.0 237.8L1076.8 236.0L1078.0 233.4M1088.0 233.9L1088.0 234.2L1088.0 233.9M1076.0 237.8L1076.0 238.7L1076.0 237.8M1094.0 237.3L1098.0 237.3L1098.0 239.0L1096.0 241.5L1094.3 244.0L1093.6 244.0L1091.1 242.0L1093.5 240.0L1094.0 237.3M1108.0 240.0L1108.0 240.0L1108.0 240.0M1068.0 242.6L1070.1 244.0L1068.0 245.1L1068.0 242.6M1066.0 245.5L1066.0 246.6L1066.0 245.5M1092.0 249.1L1095.5 250.0L1097.5 252.0L1100.0 253.0L1101.2 256.0L1098.0 257.8L1096.0 259.8L1094.0 260.4L1091.6 260.0L1089.5 258.0L1087.4 256.0L1088.0 254.0L1090.0 251.2L1092.0 249.1M1046.0 250.4L1048.1 252.0L1046.0 253.4L1046.0 250.4M1102.0 251.7L1102.0 252.6L1102.0 251.7M1042.0 253.7L1045.3 254.0L1046.6 256.0L1048.2 258.0L1048.0 260.0L1046.0 259.8L1044.0 257.7L1040.0 256.1L1040.0 255.9L1042.0 253.7M1076.0 255.3L1076.0 257.1L1076.0 255.3M1028.0 257.9L1030.1 258.0L1028.0 258.1L1028.0 257.9M1074.0 259.3L1074.0 261.0L1074.0 259.3M1076.0 261.0L1078.0 262.4L1078.0 264.6L1076.0 263.7L1076.0 261.0M1064.0 262.8L1066.7 264.0L1064.0 265.5L1064.0 262.8M1062.0 265.5L1064.0 266.6L1064.0 268.3L1061.9 268.0L1062.0 265.5M1074.0 265.7L1074.0 266.3L1074.0 265.7M1082.0 267.0L1082.0 269.2L1082.0 267.0M1036.0 270.1L1040.0 271.0L1044.0 270.2L1046.8 272.0L1046.0 275.1L1044.7 278.0L1042.0 278.7L1040.0 278.0L1038.0 278.4L1036.0 277.5L1034.0 274.3L1034.0 273.0L1036.0 270.1M1094.0 275.9L1094.0 276.2L1094.0 275.9M1024.0 277.0L1026.7 278.0L1028.0 281.8L1029.6 284.0L1028.0 286.5L1026.0 288.4L1022.0 289.9L1019.5 288.0L1016.1 286.0L1017.0 282.0L1019.0 280.0L1022.0 278.2L1024.0 277.0M1096.0 277.3L1095.0 280.0L1092.0 281.5L1090.0 283.9L1089.8 286.0L1087.6 288.0L1089.5 290.0L1091.3 292.0L1092.8 292.0L1094.0 289.1L1096.0 286.3L1098.4 286.0L1097.2 284.0L1098.0 281.8L1100.0 282.6L1100.0 280.6L1098.0 278.2L1096.0 277.3M1032.0 303.8L1030.4 306.0L1029.8 306.0L1026.0 305.0L1024.0 306.3L1023.5 310.0L1026.0 311.7L1030.0 310.7L1032.0 312.0L1034.1 312.0L1032.7 310.0L1031.2 308.0L1034.0 307.4L1034.0 304.9L1032.0 303.8M1110.0 313.5L1107.1 312.0L1108.0 309.3L1110.0 309.5M1110.0 331.3L1109.2 334.0L1110.0 334.6M688.0 356.8L690.2 358.0L694.0 359.8L696.0 360.2L700.0 360.4L704.0 360.5L708.0 361.4L710.2 362.0L714.0 363.3L716.0 364.7L718.0 366.7L720.0 369.1L722.0 370.5L726.0 370.2L728.0 369.2L730.0 367.8L733.4 368.0L735.0 370.0L738.0 371.4L742.0 371.0L746.0 370.0L748.0 369.9L750.0 371.0L751.8 374.0L753.2 376.0L756.0 377.8L758.0 375.0L758.1 372.0L760.0 368.3L762.0 367.5L766.0 367.2L768.3 368.0L771.1 370.0L772.0 372.5L773.9 376.0L776.0 376.1L778.0 374.5L780.0 372.6L782.0 371.5L786.0 371.3L790.0 371.8L792.0 372.1L796.0 372.3L800.0 372.5L804.0 372.6L808.0 372.5L812.0 373.0L814.0 374.4L815.9 378.0L817.8 380.0L820.0 380.7L824.0 380.2L826.0 378.8L828.0 376.4L830.0 375.8L832.0 377.3L833.5 380.0L834.6 382.0L836.0 384.2L839.7 384.0L841.4 382.0L843.2 380.0L845.7 378.0L848.0 377.4L852.0 377.6L856.0 377.8L860.0 376.9L864.0 376.3L867.3 378.0L869.3 380.0L872.0 381.0L875.2 380.0L876.8 378.0L878.0 375.0L880.0 373.5L884.0 372.7L888.0 373.4L892.0 373.7L896.0 373.5L900.0 373.7L902.2 374.0L906.0 374.5L910.0 374.2L912.0 373.7L914.9 372.0L918.0 371.0L922.0 370.7L925.9 370.0L928.0 369.7L932.0 369.6L934.0 370.1L934.8 374.0L934.4 378.0L938.0 379.8L940.0 376.7L940.5 374.0L942.0 370.9L944.0 369.3L946.5 368.0L950.0 367.2L952.0 368.3L954.0 371.3L956.0 373.1L960.0 373.6L962.2 372.0L964.0 368.3L966.0 366.2L968.0 365.6L970.9 366.0L974.0 367.4L978.0 367.3L980.6 366.0L984.0 364.1L986.0 363.5L989.4 364.0L992.0 365.1L996.0 366.0L998.2 364.0L999.8 360.0L1002.0 358.2L1004.0 357.2L1008.0 356.5L1012.0 356.2L1014.0 355.5L1016.7 354.0L1018.0 351.0L1020.0 349.6L1024.0 349.1L1028.0 349.3L1032.0 348.4L1034.0 347.8L1036.0 345.8L1038.4 344.0L1037.2 342.0L1038.0 339.8L1040.7 340.0L1042.0 342.0L1044.2 344.0L1045.9 348.0L1046.2 348.0L1048.0 346.0L1050.8 344.0L1052.0 341.8L1054.0 339.9L1056.5 338.0L1059.5 338.0L1062.0 339.3L1063.7 342.0L1066.0 342.6L1068.0 340.9L1068.9 338.0L1069.8 334.0L1070.0 331.9L1073.1 330.0L1075.2 328.0L1078.0 326.6L1080.0 328.4L1082.0 330.4L1084.0 332.5L1086.0 334.2L1090.0 334.2L1092.5 334.0L1093.9 330.0L1094.4 328.0L1093.1 326.0L1091.8 324.0L1092.1 322.0L1094.0 318.2L1096.0 317.2L1100.0 317.5L1100.9 320.0L1101.0 324.0L1102.0 326.9L1104.0 329.8L1107.6 328.0L1109.3 326.0L1110.0 325.6M1102.0 227.3L1102.0 228.4L1102.0 227.3M1104.0 228.5L1104.0 230.4L1104.0 228.5M1104.0 271.5L1106.9 272.0L1109.1 274.0L1108.0 277.6L1106.5 280.0L1105.7 280.0L1103.8 278.0L1104.8 276.0L1104.0 272.5L1104.0 271.5M1102.0 287.8L1106.0 287.7L1107.3 290.0L1108.5 292.0L1108.0 294.2L1106.0 297.3L1104.0 299.0L1102.0 300.3L1100.6 298.0L1100.0 296.0L1098.4 292.0L1100.0 289.5L1102.0 287.8M1084.0 303.6L1084.0 304.3L1084.0 303.6M1100.0 305.7L1104.0 305.2L1105.8 308.0L1103.9 310.0L1100.7 312.0L1100.0 315.2L1098.0 312.7L1098.0 311.2L1098.8 308.0L1100.0 305.7M1102.0 315.9L1102.0 316.0L1102.0 315.9M1108.0 334.9L1108.0 336.3L1108.0 334.9M1082.0 341.8L1082.0 342.6L1082.0 341.8M1084.0 343.3L1084.0 344.1L1084.0 343.3M1062.0 349.8L1060.0 350.6L1058.7 354.0L1060.0 356.3L1062.8 356.0L1064.6 354.0L1064.0 351.0L1062.0 349.8M850.0 383.7L849.3 386.0L851.2 388.0L853.5 388.0L855.0 386.0L854.0 382.6L850.0 383.7M1110.0 460.7L1109.4 458.0L1110.0 457.0M688.0 473.3L692.0 472.3L694.8 474.0L697.4 476.0L700.0 476.9L704.0 476.9L706.5 478.0L708.5 480.0L710.4 482.0L714.0 483.9L718.0 482.2L720.0 480.6L722.0 479.1L724.0 478.0L728.0 477.1L730.5 476.0L734.0 474.2L736.0 473.8L738.1 474.0L742.0 475.8L744.0 477.0L747.7 478.0L750.0 478.1L754.0 478.3L756.9 480.0L758.2 482.0L759.8 486.0L760.0 488.8L760.2 486.0L762.0 483.8L764.0 481.9L767.0 480.0L770.0 479.6L772.0 480.7L774.0 483.0L776.0 486.0L777.4 488.0L780.0 489.1L782.0 487.7L784.0 485.4L785.2 482.0L785.8 478.0L786.5 476.0L788.8 474.0L791.6 474.0L794.0 475.5L796.0 477.7L797.9 480.0L800.0 481.6L803.1 480.0L806.0 478.4L810.0 479.3L812.0 480.7L815.3 482.0L818.0 482.6L822.0 483.7L824.0 484.8L826.0 486.1L829.9 488.0L830.4 488.0L834.0 487.8L836.0 488.0L840.0 489.8L842.0 490.0L844.0 489.7L848.0 488.3L850.0 487.0L852.0 484.1L852.4 482.0L854.0 478.6L858.0 479.4L860.0 481.9L862.0 483.8L866.0 483.0L868.7 482.0L872.0 481.1L875.8 482.0L878.0 482.9L882.0 482.2L884.0 481.2L886.8 480.0L890.0 479.5L891.7 482.0L892.6 484.0L894.0 487.0L896.0 489.5L898.0 490.6L900.8 490.0L903.3 488.0L904.2 486.0L904.0 483.5L904.0 480.9L906.0 478.7L910.0 478.8L912.5 480.0L916.0 481.6L920.0 481.2L924.0 481.1L927.0 482.0L930.0 482.8L934.0 483.3L936.9 484.0L940.0 485.7L942.0 487.2L946.0 487.0L948.0 484.8L949.0 482.0L950.0 478.8L952.0 477.7L954.8 478.0L956.8 480.0L957.2 484.0L958.0 486.4L960.0 488.9L964.0 489.2L966.0 486.0L966.2 484.0L966.9 480.0L968.0 477.9L970.0 475.6L972.0 473.8L975.1 472.0L976.5 472.0L978.0 474.0L980.0 477.6L982.0 479.1L984.6 478.0L985.0 474.0L986.0 471.1L988.0 469.2L991.4 468.0L993.1 468.0L996.0 469.2L998.0 470.8L1000.0 472.2L1003.2 472.0L1005.9 470.0L1007.1 468.0L1007.9 464.0L1010.0 462.5L1013.0 464.0L1013.8 468.0L1014.4 470.0L1016.0 473.2L1018.0 475.4L1020.0 476.9L1022.0 478.0L1025.8 480.0L1028.0 480.7L1031.0 480.0L1032.9 478.0L1032.7 474.0L1031.9 472.0L1031.4 468.0L1034.0 467.0L1038.0 466.8L1042.0 467.6L1044.0 468.6L1046.0 470.0L1050.0 470.0L1051.7 468.0L1052.7 466.0L1054.0 462.1L1056.0 460.3L1058.0 459.3L1061.7 458.0L1064.0 457.7L1068.0 457.6L1072.0 457.0L1075.2 456.0L1078.0 454.3L1079.3 458.0L1080.7 460.0L1082.0 462.4L1084.0 465.6L1086.0 467.2L1090.0 466.4L1091.8 464.0L1092.0 461.9L1092.3 458.0L1092.0 456.0L1092.0 453.1L1094.0 450.6L1096.0 448.9L1098.5 450.0L1100.0 452.1L1101.4 456.0L1102.0 459.3L1103.3 462.0L1102.9 466.0L1106.0 467.9L1109.6 466.0L1110.0 462.8M1080.0 433.8L1082.0 436.0L1079.2 436.0L1080.0 433.8M1064.0 443.6L1066.1 444.0L1066.0 447.1L1063.3 446.0L1064.0 443.6M692.0 485.7L692.0 487.0L694.0 489.5L696.6 488.0L696.0 485.4L692.0 485.7" fill="none" stroke="#222" stroke-opacity="0.72" stroke-width="0.6"/>
<path d="M866.2 92.9L879.9 98.4L896.3 103.9L903.2 108.0L914.1 112.1L923.7 116.1L926.4 120.2L930.5 121.6L934.6 125.7L936.0 131.2L937.4 139.4L933.3 144.8L929.2 146.2L930.5 139.4L931.9 132.5L922.3 131.9L904.6 128.7L905.2 135.3L909.3 143.5L912.8 148.9L913.4 157.1L914.8 163.9L914.1 174.9L912.8 184.4L911.4 195.4L907.3 204.2L909.3 211.7L911.4 218.6L912.8 228.1L909.3 237.0L912.8 241.8L916.9 250.0L918.2 257.5L923.7 263.6L927.8 267.1L927.8 270.5L934.6 273.2L934.6 277.3L936.0 282.1L940.1 284.8L943.5 286.9L942.2 290.3L942.9 293.7L948.3 298.5L952.4 302.6L956.5 306.7L960.0 310.1L960.0 316.9L962.4 319.0L971.6 319.4L978.4 321.7L981.2 323.7L985.3 324.7L989.4 324.8L990.7 328.5L994.8 328.9L999.6 331.9L1005.1 336.7L1006.5 342.2L1008.2 345.6L1011.3 351.1L1014.7 355.8L1015.4 360.6L1022.9 366.8L1027.0 373.6L1030.4 379.7L1035.2 385.2L1039.3 389.3L1045.0 393.4L1048.9 398.8L1051.6 404.3L1050.9 408.4L1042.7 409.8L1036.6 409.1L1038.6 411.8L1044.8 417.3L1056.4 422.1L1061.9 425.5L1068.7 429.6L1074.2 434.4L1079.7 439.8L1079.0 448.0L1078.3 453.5L1083.8 456.2L1092.0 461.7L1100.2 468.5L1105.7 476.0M853.9 96.3L860.8 105.2L874.5 110.7L885.4 116.1L893.6 121.6L904.6 126.4L915.5 129.1L922.3 128.4L923.0 124.3L916.9 118.2L903.2 110.7L896.3 103.9L879.9 99.1L862.1 94.3L853.9 96.3M1040.0 355.1L1039.3 366.1L1042.7 375.6L1052.3 381.1L1061.9 390.7L1066.7 400.2L1070.4 407.0L1077.6 416.6L1083.1 424.8L1088.5 433.0L1089.2 442.6L1093.3 450.7L1096.8 456.9L1101.5 458.9L1119.3 461.7M1105.7 420.7L1101.5 418.0L1097.4 412.5L1092.0 407.0L1083.8 400.2L1078.3 393.4L1072.8 386.6L1068.0 378.4L1064.6 370.2L1061.9 363.3L1052.3 357.9L1042.7 355.1M923.7 120.2L1119.3 120.2M914.1 157.8L922.3 158.5L929.2 162.6L930.5 166.0L938.8 167.4L952.4 166.0L962.0 165.3L974.3 162.6L982.5 161.2L1011.0 161.2M1009.3 120.2L1009.3 155.8L1011.0 161.2L1016.7 168.0L1012.6 176.2L1007.2 183.1L1009.5 188.5L1009.5 215.8M911.4 215.8L1091.3 215.8M968.9 215.8L968.9 256.8L1042.3 311.4L1044.1 321.0L1041.4 333.3L1044.1 342.2M1050.2 215.8L1050.2 295.1L1041.4 296.4L1042.3 311.4M1050.2 284.1L1119.3 284.1M1022.9 120.2L1022.9 133.9L1037.2 143.5L1045.5 151.7L1046.8 162.6L1057.8 165.3L1064.6 181.7L1091.3 181.7L1091.3 229.5L1119.3 229.5M1091.3 174.9L1119.3 174.9M1008.2 345.2L1041.1 342.6L1039.8 345.6L1091.0 361.6L1119.3 361.6" fill="none" stroke="#333" stroke-width="0.7" stroke-opacity="0.85"/>
<g transform="translate(852.3 194.3) rotate(0)"><rect x="-6.6" y="-3.7" width="13.1" height="7.4" fill="#fff"/><text x="0" y="2.4" font-size="6.5" text-anchor="middle" font-family="Liberation Sans, sans-serif" fill="#111">984</text></g>
<g transform="translate(852.3 210.0) rotate(5)"><rect x="-6.6" y="-3.7" width="13.1" height="7.4" fill="#fff"/><text x="0" y="2.4" font-size="6.5" text-anchor="middle" font-family="Liberation Sans, sans-serif" fill="#111">992</text></g>
<g transform="translate(825.0 227.3) rotate(10)"><rect x="-8.4" y="-3.7" width="16.8" height="7.4" fill="#fff"/><text x="0" y="2.4" font-size="6.5" text-anchor="middle" font-family="Liberation Sans, sans-serif" fill="#111">1000</text></g>
<g transform="translate(971.0 176.0) rotate(-65)"><rect x="-6.6" y="-3.7" width="13.1" height="7.4" fill="#fff"/><text x="0" y="2.4" font-size="6.5" text-anchor="middle" font-family="Liberation Sans, sans-serif" fill="#111">992</text></g>
<g transform="translate(1047.7 163.3) rotate(-35)"><rect x="-8.4" y="-3.7" width="16.8" height="7.4" fill="#fff"/><text x="0" y="2.4" font-size="6.5" text-anchor="middle" font-family="Liberation Sans, sans-serif" fill="#111">1000</text></g>
<g transform="translate(1013.3 196.7) rotate(35)"><rect x="-8.4" y="-3.7" width="16.8" height="7.4" fill="#fff"/><text x="0" y="2.4" font-size="6.5" text-anchor="middle" font-family="Liberation Sans, sans-serif" fill="#111">1000</text></g>
<g transform="translate(927.7 227.7) rotate(-25)"><rect x="-8.4" y="-3.7" width="16.8" height="7.4" fill="#fff"/><text x="0" y="2.4" font-size="6.5" text-anchor="middle" font-family="Liberation Sans, sans-serif" fill="#111">1000</text></g>
<g transform="translate(1023.3 230.0) rotate(-30)"><rect x="-8.4" y="-3.7" width="16.8" height="7.4" fill="#fff"/><text x="0" y="2.4" font-size="6.5" text-anchor="middle" font-family="Liberation Sans, sans-serif" fill="#111">1008</text></g>
<g transform="translate(1043.3 120.7) rotate(-45)"><rect x="-6.6" y="-3.7" width="13.1" height="7.4" fill="#fff"/><text x="0" y="2.4" font-size="6.5" text-anchor="middle" font-family="Liberation Sans, sans-serif" fill="#111">992</text></g>
<g transform="translate(812.7 263.3) rotate(30)"><rect x="-8.4" y="-3.7" width="16.8" height="7.4" fill="#fff"/><text x="0" y="2.4" font-size="6.5" text-anchor="middle" font-family="Liberation Sans, sans-serif" fill="#111">1008</text></g>
<g transform="translate(938.3 259.3) rotate(-25)"><rect x="-8.4" y="-3.7" width="16.8" height="7.4" fill="#fff"/><text x="0" y="2.4" font-size="6.5" text-anchor="middle" font-family="Liberation Sans, sans-serif" fill="#111">1008</text></g>
<g transform="translate(948.3 292.7) rotate(-10)"><rect x="-8.4" y="-3.7" width="16.8" height="7.4" fill="#fff"/><text x="0" y="2.4" font-size="6.5" text-anchor="middle" font-family="Liberation Sans, sans-serif" fill="#111">1016</text></g>
<g transform="translate(989.3 316.0) rotate(60)"><rect x="-8.4" y="-3.7" width="16.8" height="7.4" fill="#fff"/><text x="0" y="2.4" font-size="6.5" text-anchor="middle" font-family="Liberation Sans, sans-serif" fill="#111">1016</text></g>
<g transform="translate(845.7 335.3) rotate(0)"><rect x="-8.4" y="-3.7" width="16.8" height="7.4" fill="#fff"/><text x="0" y="2.4" font-size="6.5" text-anchor="middle" font-family="Liberation Sans, sans-serif" fill="#111">1016</text></g>
<g transform="translate(1059.0 286.7) rotate(-85)"><rect x="-8.4" y="-3.7" width="16.8" height="7.4" fill="#fff"/><text x="0" y="2.4" font-size="6.5" text-anchor="middle" font-family="Liberation Sans, sans-serif" fill="#111">1016</text></g>
<path d="M702.4 514.3L700.5 515.3L698.7 516.3L696.8 517.3L698.9 516.1M702.5 501.0L700.6 501.8L698.7 502.6L696.7 503.5L698.9 502.4M702.5 487.4L700.6 488.2L698.7 489.0L696.7 489.8L698.9 488.8M702.0 472.9L700.4 474.2L698.7 475.3L697.0 476.5L699.0 475.2M701.7 459.0L700.2 460.3L698.7 461.7L697.2 463.0L699.0 461.4M701.2 445.4L699.9 446.7L698.7 448.0L697.4 449.3L699.3 447.4M699.2 430.8L699.2 432.6L698.7 434.4L698.1 436.1L699.8 434.0M696.6 417.7L697.6 419.2L698.7 420.7L699.7 422.2L698.2 420.1M696.0 404.1L697.3 405.6L698.7 407.0L700.0 408.5L698.4 406.6M695.0 390.9L696.8 392.1L698.7 393.4L700.5 394.6L698.7 393.3M694.2 377.9L696.4 378.8L698.7 379.7L700.9 380.6L699.0 380.0M693.4 364.5L696.0 365.3L698.7 366.1L701.3 366.8L699.6 366.4M692.2 351.3L695.4 351.9L698.7 352.4L701.9 353.0L700.7 352.9M691.5 338.0L695.1 338.4L698.7 338.8L702.2 339.1L701.3 339.2M691.3 324.2L695.0 324.7L698.7 325.1L702.3 325.5L701.5 325.5M691.1 310.3L693.6 310.7L696.2 311.1L698.7 311.4L701.2 311.8L703.7 312.1L701.8 311.9M690.9 296.6L693.5 297.0L696.1 297.4L698.7 297.8L701.3 298.2L703.9 298.5L702.0 298.3M690.7 282.9L693.4 283.3L696.0 283.7L698.7 284.1L701.3 284.5L704.0 284.9L702.2 284.7M690.6 269.0L693.3 269.5L696.0 270.0L698.7 270.5L701.3 270.9L704.0 271.4L702.3 271.1M690.8 255.0L693.4 255.6L696.0 256.2L698.7 256.8L701.3 257.4L703.9 258.0L702.2 257.7M691.0 241.1L693.6 241.8L696.1 242.5L698.7 243.2L701.2 243.8L703.8 244.5L702.0 244.0M690.8 227.3L693.4 228.0L696.0 228.8L698.7 229.5L701.3 230.2L704.0 231.0L702.3 230.5M689.5 212.7L692.6 213.8L695.6 214.8L698.7 215.8L701.7 216.9L704.8 217.9L703.5 217.5M689.1 198.7L691.5 199.6L693.9 200.4L696.3 201.3L698.7 202.2L701.1 203.1L703.5 203.9L705.8 204.8L704.0 204.1M689.0 184.8L691.4 185.7L693.8 186.7L696.3 187.6L698.7 188.5L701.1 189.5L703.5 190.4L705.9 191.3L704.1 190.6M688.7 170.4L691.2 171.6L693.7 172.7L696.2 173.8L698.7 174.9L701.2 176.0L703.7 177.1L706.2 178.2L704.5 177.5M689.1 156.4L691.5 157.6L693.9 158.8L696.3 160.0L698.7 161.2L701.1 162.4L703.5 163.6L705.9 164.8L704.2 164.0M690.6 143.0L693.3 144.5L696.0 146.1L698.7 147.6L701.4 149.1L704.1 150.6L702.8 149.9M691.2 129.6L693.7 131.0L696.2 132.5L698.7 133.9L701.1 135.3L703.6 136.8L702.2 135.9M691.1 115.8L693.6 117.3L696.1 118.8L698.7 120.2L701.2 121.7L703.7 123.2L702.4 122.4M690.6 101.8L693.3 103.4L696.0 105.0L698.7 106.6L701.3 108.2L704.0 109.8L702.8 109.1M719.5 514.4L717.6 515.3L715.8 516.3L713.9 517.3L716.0 516.1M719.6 501.0L717.7 501.8L715.8 502.6L713.8 503.4L716.1 502.5M719.7 487.5L717.7 488.2L715.8 489.0L713.8 489.7L716.1 488.9M719.2 473.0L717.5 474.2L715.8 475.3L714.1 476.5L716.2 475.4M718.9 459.0L717.4 460.3L715.8 461.7L714.2 463.0L716.0 461.5M718.2 445.1L717.0 446.6L715.8 448.0L714.5 449.4L716.4 447.6M714.4 430.9L715.3 432.6L715.8 434.4L716.3 436.1L717.2 433.5M713.4 417.9L714.6 419.3L715.8 420.7L716.9 422.1L715.3 420.0M712.4 404.5L714.1 405.8L715.8 407.0L717.4 408.3L715.5 406.8M711.8 391.4L713.8 392.3L715.8 393.4L717.7 394.4L715.8 393.1M711.1 378.8L713.4 379.3L715.8 379.7L718.1 380.2L716.1 379.8M710.6 365.0L713.2 365.6L715.8 366.1L718.3 366.6L716.5 366.2M708.5 352.0L712.1 352.2L715.8 352.4L719.4 352.6L718.5 352.6M708.0 338.7L710.6 338.7L713.2 338.7L715.8 338.8L718.4 338.8L720.9 338.8L719.0 338.8M708.1 324.8L710.7 324.9L713.2 325.0L715.8 325.1L718.3 325.2L720.9 325.3L718.9 325.2M708.1 310.6L710.7 310.9L713.2 311.2L715.8 311.4L718.3 311.7L720.9 312.0L719.0 311.8M707.9 296.8L710.5 297.1L713.1 297.5L715.8 297.8L718.4 298.1L721.0 298.4L719.2 298.2M707.9 283.2L710.5 283.5L713.1 283.8L715.8 284.1L718.4 284.4L721.0 284.7L719.2 284.5M707.6 269.2L710.3 269.6L713.1 270.0L715.8 270.5L718.5 270.9L721.2 271.3L719.5 271.0M707.8 255.1L710.5 255.7L713.1 256.3L715.8 256.8L718.4 257.4L721.1 257.9L719.3 257.6M708.2 241.1L710.7 241.8L713.2 242.5L715.8 243.2L718.3 243.8L720.8 244.5L719.0 244.1M707.9 227.3L710.6 228.1L713.2 228.8L715.8 229.5L718.4 230.2L721.0 230.9L719.3 230.5M706.5 212.6L709.6 213.7L712.7 214.8L715.8 215.8L718.9 216.9L722.0 218.0L720.8 217.6M706.2 198.7L708.6 199.6L711.0 200.4L713.4 201.3L715.8 202.2L718.2 203.1L720.6 203.9L723.0 204.8L721.1 204.1M706.0 184.7L708.4 185.7L710.9 186.6L713.3 187.6L715.8 188.5L718.2 189.5L720.7 190.4L723.1 191.4L721.4 190.7M705.1 169.9L707.7 171.2L710.4 172.4L713.1 173.6L715.8 174.9L718.4 176.1L721.1 177.4L723.8 178.6L722.4 177.9M705.1 156.0L707.8 157.4L710.4 158.7L713.1 160.0L715.8 161.2L718.4 162.5L721.1 163.7L723.8 165.0L722.4 164.3M707.3 142.8L710.1 144.4L712.9 146.0L715.8 147.6L718.6 149.1L721.5 150.7L720.3 150.1M708.4 129.7L710.9 131.1L713.3 132.5L715.8 133.9L718.2 135.3L720.7 136.7L719.2 135.9M708.2 115.7L710.7 117.2L713.3 118.7L715.8 120.2L718.3 121.8L720.8 123.3L719.5 122.4M707.8 101.4L710.5 103.1L713.1 104.8L715.8 106.6L718.4 108.3L721.0 110.1L720.0 109.3M736.5 514.2L734.7 515.3L732.9 516.3L731.0 517.3L733.1 516.2M736.5 500.6L734.7 501.6L732.9 502.6L731.0 503.7L733.2 502.5M736.4 486.9L734.7 487.9L732.9 489.0L731.1 490.0L733.2 488.9M736.4 473.2L734.6 474.3L732.9 475.3L731.1 476.4L733.1 475.1M735.7 459.3L734.3 460.5L732.9 461.7L731.4 462.8L733.5 461.2M735.5 445.3L734.2 446.7L732.9 448.0L731.5 449.3L733.4 447.5M732.9 430.5L733.0 432.4L732.9 434.4L732.7 436.3L733.8 433.9M730.2 417.7L731.6 419.1L732.9 420.7L734.1 422.3L733.0 420.0M729.4 404.6L731.2 405.8L732.9 407.0L734.6 408.3L732.7 406.8M728.9 391.4L730.9 392.4L732.9 393.4L734.8 394.4L732.9 393.2M728.2 378.8L730.5 379.2L732.9 379.7L735.2 380.2L733.2 379.6M727.7 365.0L730.3 365.5L732.9 366.1L735.5 366.6L733.7 366.2M725.7 352.0L729.3 352.2L732.9 352.4L736.4 352.6L735.5 352.4M725.2 338.7L727.7 338.7L730.3 338.7L732.9 338.8L735.4 338.8L738.0 338.8L736.1 338.7M725.3 324.8L727.8 324.9L730.3 325.0L732.9 325.1L735.4 325.2L737.9 325.3L736.0 325.2M725.2 310.6L727.8 310.9L730.3 311.2L732.9 311.4L735.4 311.7L738.0 312.0L736.0 311.8M725.0 296.8L727.6 297.1L730.2 297.5L732.9 297.8L735.5 298.1L738.1 298.4L736.3 298.2M724.9 283.3L727.6 283.5L730.2 283.8L732.9 284.1L735.5 284.4L738.2 284.8L736.3 284.5M724.7 269.2L727.4 269.6L730.2 270.1L732.9 270.5L735.6 270.9L738.3 271.3L736.6 271.0M724.7 255.3L727.4 255.8L730.1 256.3L732.9 256.8L735.6 257.3L738.3 257.8L736.7 257.5M724.5 241.0L727.3 241.7L730.1 242.5L732.9 243.2L735.7 243.9L738.4 244.6L736.9 244.2M723.9 226.7L726.9 227.7L729.9 228.6L732.9 229.5L735.9 230.4L738.9 231.4L737.6 230.9M723.0 212.2L725.5 213.1L727.9 214.0L730.4 214.9L732.9 215.8L735.3 216.8L737.8 217.7L740.3 218.7L738.5 218.0M722.6 198.1L725.2 199.1L727.8 200.1L730.3 201.1L732.9 202.2L735.4 203.2L738.0 204.3L740.5 205.4L738.9 204.7M722.4 183.8L725.0 185.0L727.6 186.2L730.3 187.3L732.9 188.5L735.5 189.7L738.1 190.9L740.7 192.1L739.2 191.4M722.0 169.7L724.7 171.0L727.5 172.3L730.2 173.6L732.9 174.9L735.6 176.2L738.3 177.5L740.9 178.9L739.6 178.2M722.0 156.0L724.7 157.3L727.4 158.6L730.2 159.9L732.9 161.2L735.6 162.6L738.3 163.9L740.9 165.4L739.7 164.5M723.0 141.7L725.5 143.1L727.9 144.6L730.4 146.1L732.9 147.6L735.3 149.0L737.8 150.5L740.2 152.1L738.9 151.1M724.7 128.2L726.7 129.6L728.8 131.0L730.9 132.4L732.9 133.9L734.9 135.4L736.9 136.9L738.9 138.4L737.3 137.2M725.7 114.3L728.1 116.2L730.5 118.2L732.9 120.2L735.2 122.3L737.5 124.4L736.5 123.4M725.5 100.4L728.0 102.4L730.5 104.5L732.9 106.6L735.3 108.7L737.6 110.8L736.7 109.9M753.9 514.5L751.9 515.4L750.0 516.3L748.0 517.2L750.1 516.1M753.7 500.6L751.8 501.6L750.0 502.6L748.1 503.7L750.2 502.5M753.5 486.8L751.7 487.9L750.0 489.0L748.2 490.1L750.3 488.8M753.4 473.1L751.7 474.2L750.0 475.3L748.2 476.4L750.3 475.2M752.8 459.3L751.4 460.5L750.0 461.7L748.5 462.9L750.6 461.2M752.5 445.3L751.3 446.7L750.0 448.0L748.7 449.3L750.7 447.6M750.5 430.6L750.4 432.5L750.0 434.4L749.6 436.2L750.9 433.9M748.0 417.4L749.0 419.0L750.0 420.7L750.9 422.4L750.1 420.0M746.7 404.4L748.4 405.7L750.0 407.0L751.6 408.4L749.9 406.7M745.9 391.3L747.9 392.4L750.0 393.4L752.0 394.4L750.0 393.4M745.4 378.1L747.7 378.9L750.0 379.7L752.2 380.6L750.3 379.9M744.8 364.6L747.4 365.3L750.0 366.1L752.5 366.8L750.8 366.3M743.8 351.3L746.9 351.8L750.0 352.4L753.1 353.0L751.7 352.6M743.0 338.0L746.5 338.3L750.0 338.8L753.4 339.2L752.5 339.0M742.7 324.4L746.3 324.7L750.0 325.1L753.6 325.5L752.8 325.4M742.4 310.6L744.9 310.9L747.4 311.2L750.0 311.4L752.5 311.7L755.0 312.0L753.1 311.8M742.1 296.8L744.7 297.1L747.4 297.5L750.0 297.8L752.6 298.1L755.2 298.4L753.4 298.3M741.9 283.0L744.6 283.4L747.3 283.8L750.0 284.1L752.7 284.5L755.3 284.9L753.6 284.7M741.7 269.2L744.5 269.6L747.2 270.0L750.0 270.5L752.7 270.9L755.5 271.4L753.8 271.1M741.4 255.1L744.2 255.7L747.1 256.2L750.0 256.8L752.8 257.4L755.7 258.0L754.2 257.7M740.8 240.6L743.8 241.5L746.9 242.3L750.0 243.2L753.0 244.0L756.1 244.8L754.8 244.5M739.9 225.8L742.4 226.7L744.9 227.6L747.4 228.6L750.0 229.5L752.5 230.4L755.0 231.4L757.5 232.3L755.8 231.7M739.2 211.0L741.9 212.2L744.6 213.4L747.3 214.6L750.0 215.8L752.7 217.1L755.4 218.3L758.1 219.5L756.6 218.9M739.1 197.2L741.8 198.4L744.5 199.7L747.3 200.9L750.0 202.2L752.7 203.5L755.4 204.7L758.1 206.0L756.7 205.3M739.0 183.0L741.7 184.4L744.5 185.8L747.2 187.2L750.0 188.5L752.7 189.9L755.5 191.3L758.2 192.6L756.9 192.0M738.5 167.9L740.8 169.2L743.1 170.6L745.4 172.0L747.7 173.4L750.0 174.9L752.3 176.3L754.5 177.7L756.8 179.1L759.1 180.5L757.6 179.7M738.1 153.3L740.5 154.8L742.9 156.4L745.3 158.0L747.6 159.6L750.0 161.2L752.3 162.8L754.7 164.5L757.0 166.1L759.3 167.7L758.0 166.8M739.1 139.5L741.3 141.1L743.4 142.8L745.6 144.4L747.8 146.0L750.0 147.6L752.2 149.1L754.4 150.7L756.6 152.3L758.8 153.8L757.3 152.8M742.5 126.8L744.4 128.6L746.2 130.3L748.1 132.1L750.0 133.9L751.9 135.7L753.7 137.4L755.7 139.2L754.2 137.9M744.0 114.3L746.0 116.3L748.0 118.3L750.0 120.2L752.0 122.2L753.9 124.2L752.8 123.0M743.3 100.1L745.5 102.3L747.8 104.4L750.0 106.6L752.2 108.8L754.4 110.9L753.4 109.9M771.5 515.4L769.3 515.8L767.1 516.3L764.9 516.8L767.0 516.1M771.3 501.5L769.2 502.0L767.1 502.6L765.0 503.2L767.1 502.4M765.8 418.0L766.4 419.4L767.1 420.7L767.7 422.0L766.6 419.2M764.3 404.6L765.7 405.8L767.1 407.0L768.4 408.3L766.9 406.1M762.6 392.0L764.8 392.7L767.1 393.4L769.3 394.1L767.3 393.4M762.5 378.4L764.8 379.1L767.1 379.7L769.4 380.4L767.3 379.8M762.2 364.5L764.6 365.3L767.1 366.1L769.5 366.8L767.6 366.3M761.3 351.0L764.2 351.7L767.1 352.4L769.9 353.1L768.4 352.7M760.4 337.8L763.7 338.3L767.1 338.8L770.4 339.3L769.3 339.1M759.7 324.5L763.4 324.8L767.1 325.1L770.7 325.4L769.9 325.4M759.4 310.9L762.0 311.1L764.5 311.3L767.1 311.4L769.6 311.6L772.2 311.7L770.2 311.7M759.2 297.1L761.8 297.4L764.5 297.6L767.1 297.8L769.7 298.0L772.3 298.2L770.4 298.1M758.9 283.1L761.6 283.5L764.4 283.8L767.1 284.1L769.8 284.5L772.5 284.7L770.7 284.6M758.5 269.1L761.4 269.5L764.2 270.0L767.1 270.5L769.9 270.9L772.8 271.4L771.2 271.2M758.1 254.8L761.1 255.5L764.1 256.2L767.1 256.8L770.1 257.5L773.1 258.1L771.7 257.8M757.7 240.5L760.8 241.4L764.0 242.3L767.1 243.2L770.2 244.0L773.3 244.8L772.1 244.5M757.2 225.9L759.7 226.9L762.1 227.8L764.6 228.7L767.1 229.5L769.5 230.3L772.0 231.1L774.5 231.9L772.7 231.4M756.4 211.0L759.0 212.2L761.7 213.5L764.4 214.7L767.1 215.8L769.8 217.0L772.5 218.2L775.2 219.2L773.7 218.8M756.1 197.0L758.8 198.3L761.6 199.6L764.3 200.9L767.1 202.2L769.8 203.5L772.6 204.8L775.3 206.0L774.0 205.5M755.4 182.1L757.7 183.4L760.0 184.7L762.4 186.0L764.7 187.3L767.1 188.5L769.4 189.8L771.8 191.1L774.1 192.4L776.4 193.7L774.8 192.8M755.4 167.0L757.7 168.6L760.0 170.2L762.4 171.8L764.7 173.3L767.1 174.9L769.4 176.4L771.8 178.0L774.2 179.5L776.5 181.0L775.2 180.1M755.4 153.0L757.7 154.7L760.1 156.3L762.4 157.9L764.7 159.6L767.1 161.2L769.4 162.9L771.7 164.5L774.1 166.2L776.4 167.8L775.0 166.9M756.3 138.3L758.4 140.2L760.5 142.1L762.7 143.9L764.9 145.8L767.1 147.6L769.3 149.4L771.5 151.2L773.7 153.0L775.9 154.8L774.6 153.7M756.7 122.5L758.5 124.4L760.2 126.2L762.0 128.1L763.7 130.0L765.4 132.0L767.1 133.9L768.8 135.8L770.5 137.8L772.2 139.7L773.9 141.6L775.6 143.5L774.3 142.1M756.8 109.3L758.6 111.0L760.3 112.8L762.0 114.7L763.8 116.5L765.4 118.4L767.1 120.2L768.7 122.1L770.3 124.1L771.9 126.0L773.6 127.9L775.2 129.8L773.9 128.3M758.3 97.6L760.0 99.3L761.8 101.1L763.6 102.9L765.3 104.8L767.1 106.6L768.8 108.4L770.5 110.3L772.2 112.2L773.9 114.1L772.6 112.5M788.9 515.9L786.6 516.1L784.2 516.3L781.8 516.5L783.9 516.3M788.7 502.0L786.4 502.3L784.2 502.6L781.9 503.0L784.1 502.6M783.4 418.7L783.5 419.0M783.0 404.8L783.2 405.1M780.1 391.8L782.1 392.5L784.2 393.4L786.2 394.3L784.4 392.8M779.6 378.3L781.9 379.0L784.2 379.7L786.4 380.4L784.5 379.7M779.2 364.6L781.7 365.3L784.2 366.1L786.6 366.8L784.8 366.3M778.2 351.2L781.2 351.8L784.2 352.4L787.1 353.0L785.7 352.8M777.2 338.1L780.7 338.4L784.2 338.8L787.7 339.1L786.7 339.0M776.5 324.9L779.0 325.0L781.6 325.1L784.2 325.1L786.7 325.1L789.3 325.2L787.4 325.2M776.4 311.4L779.0 311.4L781.6 311.4L784.2 311.4L786.8 311.4L789.4 311.5L787.5 311.4M776.4 297.6L779.0 297.7L781.6 297.7L784.2 297.8L786.8 297.8L789.4 297.9L787.5 297.9M776.0 283.5L778.8 283.7L781.5 283.9L784.2 284.1L786.9 284.3L789.6 284.5L787.8 284.4M775.5 269.3L778.4 269.7L781.3 270.1L784.2 270.5L787.1 270.9L789.9 271.2L788.3 271.1M775.2 254.8L778.2 255.5L781.2 256.2L784.2 256.8L787.2 257.5L790.2 258.1L788.8 257.9M775.3 240.8L778.3 241.6L781.2 242.4L784.2 243.2L787.1 243.9L790.1 244.7L788.7 244.4M775.4 227.1L778.3 227.9L781.2 228.7L784.2 229.5L787.1 230.3L790.0 231.1L788.6 230.7M774.1 212.2L776.6 213.2L779.1 214.1L781.6 215.0L784.2 215.8L786.7 216.7L789.3 217.5L791.8 218.3L790.1 217.8M771.8 195.7L774.3 197.0L776.8 198.3L779.2 199.6L781.7 200.9L784.2 202.2L786.6 203.5L789.1 204.7L791.7 205.9L794.2 207.1L792.6 206.5M770.4 179.4L772.7 180.9L775.1 182.4L777.3 183.9L779.6 185.4L781.9 187.0L784.2 188.5L786.4 190.1L788.7 191.6L791.0 193.2L793.3 194.7L795.6 196.2L794.0 195.4M770.8 165.7L773.0 167.2L775.2 168.7L777.5 170.3L779.7 171.8L781.9 173.3L784.2 174.9L786.4 176.4L788.6 178.0L790.9 179.5L793.1 181.1L795.3 182.6L793.8 181.6M772.7 152.0L774.9 153.8L777.2 155.7L779.5 157.6L781.8 159.4L784.2 161.2L786.5 163.0L788.9 164.8L791.2 166.6L793.6 168.3L792.3 167.4M774.0 136.0L775.7 138.0L777.4 139.9L779.1 141.8L780.8 143.7L782.5 145.6L784.2 147.6L785.9 149.5L787.6 151.4L789.3 153.3L791.1 155.1L792.9 156.9L791.4 155.7M773.9 121.4L775.6 123.5L777.4 125.5L779.1 127.6L780.8 129.7L782.5 131.8L784.2 133.9L785.8 136.0L787.4 138.2L788.9 140.4L790.5 142.7L792.0 144.9L790.9 143.4M774.0 108.1L775.7 110.1L777.5 112.1L779.2 114.1L780.8 116.1L782.5 118.2L784.2 120.2L785.8 122.3L787.4 124.4L789.0 126.5L790.5 128.7L791.9 130.9L791.0 129.3M774.6 95.6L776.6 97.7L778.5 99.9L780.4 102.1L782.3 104.3L784.2 106.6L786.0 108.8L787.8 111.1L789.6 113.4L791.3 115.8L790.5 114.4M806.0 515.8L803.6 516.1L801.3 516.3L798.9 516.5L801.0 516.4M805.7 502.0L803.5 502.3L801.3 502.6L799.0 503.0L801.3 502.7M800.5 418.6L800.6 418.9M800.2 404.7L800.3 405.0M798.3 391.0L799.8 392.2L801.3 393.4L802.7 394.6L800.9 392.8M796.7 378.1L799.0 378.9L801.3 379.7L803.6 380.5L801.6 380.0M795.9 365.0L798.6 365.5L801.3 366.1L804.0 366.6L802.3 366.4M794.9 351.6L798.1 352.0L801.3 352.4L804.5 352.8L803.2 352.7M794.1 338.3L797.7 338.6L801.3 338.8L804.9 339.0L804.0 339.0M793.7 325.0L796.2 325.0L798.7 325.1L801.3 325.1L803.8 325.2L806.3 325.2L804.4 325.2M793.5 311.4L796.1 311.4L798.7 311.4L801.3 311.4L803.9 311.5L806.4 311.5L804.5 311.4M793.4 297.7L796.1 297.7L798.7 297.7L801.3 297.8L803.9 297.8L806.5 297.9L804.6 297.9M793.2 283.9L795.9 284.0L798.6 284.1L801.3 284.1L803.9 284.2L806.6 284.3L804.8 284.3M792.8 269.8L795.6 270.0L798.4 270.3L801.3 270.5L804.1 270.7L806.9 270.8L805.3 270.8M792.2 255.2L795.2 255.8L798.2 256.3L801.3 256.8L804.3 257.3L807.4 257.8L805.9 257.7M792.2 240.8L795.2 241.6L798.2 242.4L801.3 243.2L804.3 243.9L807.3 244.6L806.0 244.4M792.1 227.1L795.2 227.9L798.2 228.7L801.3 229.5L804.3 230.3L807.4 231.1L806.0 230.8M790.1 212.2L792.9 213.2L795.7 214.1L798.5 215.0L801.3 215.8L804.1 216.7L806.9 217.6L809.7 218.4L808.2 218.0M788.4 195.4L790.9 196.9L793.4 198.4L796.0 199.7L798.6 201.0L801.3 202.2L803.9 203.4L806.6 204.4L809.4 205.5L812.1 206.4L810.6 205.9M788.1 179.6L790.2 181.1L792.4 182.6L794.6 184.2L796.8 185.7L799.0 187.1L801.3 188.5L803.5 189.9L805.8 191.2L808.2 192.4L810.7 193.5L813.1 194.5L811.4 193.9M788.4 166.1L790.5 167.6L792.6 169.1L794.8 170.5L796.9 172.0L799.1 173.5L801.3 174.9L803.4 176.3L805.6 177.7L807.9 179.0L810.2 180.3L812.5 181.4L810.7 180.8M790.9 151.2L792.9 153.4L794.9 155.4L796.9 157.4L799.1 159.4L801.3 161.2L803.5 163.1L805.8 164.8L808.1 166.5L810.5 168.1L809.0 167.4M792.8 133.6L794.1 136.0L795.5 138.3L796.9 140.7L798.3 143.0L799.8 145.3L801.3 147.6L802.8 149.8L804.3 152.1L806.0 154.2L807.8 156.3L809.7 158.2L808.2 157.2M792.1 118.5L793.5 120.6L794.8 122.8L796.1 125.0L797.4 127.2L798.7 129.5L800.0 131.7L801.3 133.9L802.6 136.1L803.8 138.4L805.1 140.6L806.4 142.8L807.7 145.0L809.0 147.2L807.8 145.7M792.5 106.0L794.1 108.3L795.6 110.7L797.1 113.0L798.5 115.4L799.9 117.8L801.3 120.2L802.6 122.7L804.0 125.1L805.3 127.6L806.6 130.0L807.9 132.5L807.2 130.9M793.1 94.4L794.9 96.8L796.6 99.2L798.2 101.6L799.8 104.1L801.3 106.6L802.8 109.1L804.2 111.7L805.5 114.3L806.8 116.9L806.2 115.4M822.8 515.3L820.6 515.8L818.4 516.3L816.2 516.8L818.4 516.4M822.6 501.5L820.5 502.1L818.4 502.6L816.2 503.2L818.5 502.7M817.0 418.2L817.7 419.4L818.4 420.7L819.1 422.0L817.6 419.3M816.2 404.5L817.3 405.8L818.4 407.0L819.5 408.3L817.7 406.1M814.4 391.6L816.4 392.5L818.4 393.4L820.3 394.3L818.3 393.2M813.1 379.1L815.7 379.4L818.4 379.7L821.0 380.1L819.2 379.8M813.0 365.6L815.7 365.8L818.4 366.1L821.1 366.3L819.3 366.2M811.4 352.1L814.9 352.3L818.4 352.4L821.9 352.6L820.8 352.5M810.6 338.7L813.2 338.7L815.8 338.8L818.4 338.8L821.0 338.8L823.5 338.8L821.6 338.8M810.8 325.0L813.3 325.0L815.8 325.1L818.4 325.1L820.9 325.1L823.4 325.2L821.5 325.2M810.7 311.3L813.3 311.4L815.8 311.4L818.4 311.4L820.9 311.5L823.5 311.5L821.5 311.5M810.6 297.8L813.2 297.8L815.8 297.8L818.4 297.8L821.0 297.8L823.6 297.8L821.7 297.8M810.6 284.1L813.2 284.1L815.8 284.1L818.4 284.1L821.0 284.1L823.6 284.1L821.7 284.1M810.2 270.3L812.9 270.4L815.7 270.4L818.4 270.5L821.1 270.5L823.8 270.5L822.0 270.5M809.2 256.1L812.2 256.4L815.3 256.6L818.4 256.8L821.4 257.0L824.5 257.2L823.1 257.2M808.2 241.5L810.8 242.0L813.3 242.4L815.8 242.8L818.4 243.2L820.9 243.5L823.5 243.8L826.0 244.0L824.1 243.9M806.9 227.0L809.8 227.7L812.6 228.3L815.5 228.9L818.4 229.5L821.2 230.1L824.1 230.6L827.0 231.0L825.5 230.9M804.3 211.4L807.1 212.3L809.9 213.2L812.7 214.1L815.5 215.0L818.4 215.8L821.2 216.7L824.0 217.5L826.9 218.3L829.7 219.0L828.2 218.8M802.8 196.3L805.4 197.4L807.9 198.4L810.5 199.4L813.1 200.3L815.8 201.2L818.4 202.2L821.0 203.1L823.6 204.1L826.2 205.0L828.8 206.0L831.4 206.9L829.7 206.5M804.2 182.3L806.4 183.6L808.7 184.7L811.1 185.8L813.5 186.7L815.9 187.7L818.4 188.5L820.8 189.4L823.2 190.3L825.7 191.1L828.1 192.0L830.6 192.8L828.7 192.3M807.5 169.7L810.1 171.2L812.8 172.6L815.6 173.8L818.4 174.9L821.2 176.0L824.0 177.0L826.9 177.8L825.4 177.6M809.6 154.4L811.6 156.4L813.7 158.2L816.0 159.8L818.4 161.2L820.8 162.6L823.3 163.9L825.9 164.9L824.2 164.6M812.5 135.1L813.5 137.7L814.5 140.2L815.6 142.8L816.9 145.2L818.4 147.6L819.8 149.9L821.5 152.1L823.4 154.1L825.6 155.8L823.9 155.3M813.8 117.9L814.7 120.6L815.4 123.2L816.2 125.9L816.9 128.6L817.6 131.2L818.4 133.9L819.1 136.6L819.9 139.2L820.8 141.9L821.8 144.4L823.0 146.9L821.6 145.8M814.1 105.5L814.9 107.9L815.7 110.3L816.4 112.8L817.1 115.3L817.7 117.8L818.4 120.2L819.0 122.7L819.7 125.2L820.3 127.7L821.0 130.2L821.7 132.6L821.1 130.8M813.6 94.2L814.7 96.6L815.8 99.0L816.7 101.5L817.6 104.0L818.4 106.6L819.1 109.1L819.8 111.7L820.4 114.3L820.9 116.9L820.5 115.1M839.4 514.6L837.5 515.5L835.5 516.3L833.5 517.1L835.7 516.4M839.2 500.7L837.4 501.7L835.5 502.6L833.6 503.6L835.8 502.7M834.1 418.4L834.8 419.5L835.5 420.7L836.2 421.9L834.7 419.1M833.3 405.0L834.4 406.0L835.5 407.0L836.6 408.1L834.6 405.8M832.2 391.9L833.9 392.6L835.5 393.4L837.1 394.1L834.7 392.9M830.7 378.9L833.1 379.3L835.5 379.7L837.8 380.2L835.9 379.5M830.1 365.5L832.8 365.8L835.5 366.1L838.2 366.4L836.4 366.0M828.8 352.0L832.1 352.2L835.5 352.4L838.8 352.6L837.7 352.5M827.9 338.7L830.4 338.7L833.0 338.7L835.5 338.8L838.0 338.8L840.5 338.8L838.5 338.8M828.0 325.0L831.7 325.0L835.5 325.1L839.2 325.2L838.4 325.2M827.9 311.4L830.4 311.4L832.9 311.4L835.5 311.4L838.0 311.5L840.5 311.5L838.6 311.5M827.6 297.8L830.3 297.8L832.9 297.8L835.5 297.8L838.1 297.8L840.7 297.8L838.8 297.8M827.6 284.1L830.2 284.1L832.8 284.1L835.5 284.1L838.1 284.1L840.7 284.1L838.9 284.2M827.1 270.5L829.9 270.5L832.7 270.5L835.5 270.5L838.3 270.4L841.0 270.4L839.3 270.5M826.1 256.8L829.2 256.8L832.4 256.8L835.5 256.8L838.6 256.8L841.7 256.8L840.3 256.8M825.4 242.8L827.9 243.0L830.4 243.1L832.9 243.1L835.5 243.2L838.0 243.2L840.5 243.2L843.1 243.2L841.1 243.2M823.7 228.3L826.7 228.7L829.6 229.1L832.5 229.3L835.5 229.5L838.4 229.7L841.4 229.8L844.3 229.9L842.8 229.9M821.5 212.4L824.2 213.2L827.0 214.0L829.8 214.8L832.6 215.4L835.5 215.8L838.3 216.3L841.2 216.7L844.1 217.0L846.9 217.2L845.3 217.1M820.6 197.1L823.1 198.0L825.6 198.9L828.0 199.8L830.5 200.7L833.0 201.5L835.5 202.2L838.0 202.9L840.5 203.5L843.1 204.0L845.7 204.3L848.3 204.5L846.4 204.4M822.7 184.7L825.2 185.6L827.7 186.4L830.3 187.2L832.9 187.9L835.5 188.5L838.1 189.2L840.7 189.8L843.3 190.3L845.9 190.7L844.1 190.6M827.8 173.3L830.3 173.9L832.9 174.4L835.5 174.9L838.0 175.4L840.6 175.8L838.8 175.5M828.3 159.6L831.9 160.5L835.5 161.2L839.1 162.0L838.2 161.8M831.0 142.3L833.1 145.1L835.5 147.6L837.9 150.1L836.8 149.7M833.5 123.5L833.6 126.1L834.0 128.8L834.6 131.4L835.5 133.9L836.4 136.4L837.5 138.8L838.9 141.1L837.9 139.6M835.2 108.3L835.4 111.2L835.4 114.2L835.5 117.2L835.5 120.2L835.5 123.2L835.5 126.2L835.7 129.2L834.9 127.9M832.8 95.1L833.7 97.9L834.5 100.8L835.1 103.7L835.5 106.6L835.9 109.5L836.1 112.5L836.3 115.4L836.3 113.9M856.4 514.6L854.5 515.4L852.6 516.3L850.7 517.2L852.8 516.1M856.3 500.9L854.4 501.8L852.6 502.6L850.7 503.5L852.9 502.4M851.8 418.7L851.9 419.0M850.9 405.3L851.1 405.5M850.3 392.5L850.6 392.7M849.8 378.7L851.2 379.2L852.6 379.7L854.0 380.3L851.2 379.2M848.1 364.9L850.3 365.5L852.6 366.1L854.8 366.7L852.7 366.0M846.7 351.7L849.6 352.0L852.6 352.4L855.5 352.8L854.0 352.5M845.8 338.4L849.2 338.6L852.6 338.8L856.0 338.9L854.9 338.9M845.2 325.1L848.9 325.1L852.6 325.1L856.2 325.1L855.4 325.1M844.9 311.6L847.5 311.6L850.0 311.5L852.6 311.4L855.1 311.4L857.7 311.3L855.7 311.4M844.7 298.1L847.3 298.0L850.0 297.9L852.6 297.8L855.2 297.7L857.8 297.6L855.9 297.7M844.4 284.5L847.1 284.4L849.8 284.3L852.6 284.1L855.3 284.0L858.0 283.8L856.3 284.0M843.8 270.9L846.7 270.8L849.6 270.7L852.6 270.5L855.5 270.3L858.4 270.1L856.9 270.2M843.3 257.1L846.4 257.0L849.5 256.9L852.6 256.8L855.7 256.7L858.8 256.6L857.4 256.7M843.5 243.2L846.5 243.2L849.5 243.2L852.6 243.2L855.6 243.2L858.6 243.2L857.1 243.2M842.2 229.4L844.8 229.5L847.4 229.5L850.0 229.5L852.6 229.5L855.2 229.5L857.7 229.5L860.3 229.5L858.4 229.6M836.3 214.4L839.0 214.7L841.7 215.0L844.4 215.2L847.1 215.4L849.9 215.6L852.6 215.8L855.3 216.1L858.0 216.3L860.7 216.5L863.4 216.7L866.1 216.8L864.4 217.0M836.5 200.2L839.2 200.8L841.8 201.2L844.5 201.5L847.2 201.8L849.9 202.0L852.6 202.2L855.3 202.4L857.9 202.6L860.6 202.8L863.3 203.0L866.0 203.1L864.2 203.3M840.6 187.6L843.6 188.0L846.6 188.3L849.6 188.5L852.6 188.5L855.6 188.6L858.6 188.4L861.6 188.1L860.2 188.8M844.4 173.9L847.1 174.4L849.8 174.7L852.6 174.9L855.3 175.0L858.1 174.9L856.7 176.1M846.2 159.5L849.4 160.4L852.6 161.2L855.7 162.0L854.6 163.1M851.4 145.7L851.6 146.0M849.6 132.1L851.0 133.1L852.6 133.9L854.1 134.7L851.3 134.9M847.5 115.6L849.5 118.5L852.6 120.2L855.7 122.0L854.8 122.9M847.2 99.1L848.8 101.7L850.6 104.3L852.6 106.6L854.6 108.9L857.0 110.9L855.3 111.3M873.7 515.2L871.7 515.8L869.7 516.3L867.7 516.8L870.0 516.1M873.7 501.9L871.7 502.3L869.7 502.6L867.6 503.0L870.0 502.4M868.8 418.6L868.9 418.9M868.1 405.1L868.3 405.4M867.3 392.3L868.5 392.8L869.7 393.4L870.8 394.0L868.1 392.3M866.8 378.5L868.3 379.1L869.7 379.7L871.1 380.4L868.4 379.1M865.6 364.8L867.6 365.4L869.7 366.1L871.7 366.7L869.5 366.0M864.2 351.6L866.9 352.0L869.7 352.4L872.4 352.8L870.7 352.6M862.9 338.6L866.3 338.7L869.7 338.8L873.0 338.8L871.9 338.8M862.0 325.3L864.6 325.3L867.1 325.2L869.7 325.1L872.2 325.0L874.8 324.9L872.8 325.0M861.9 311.7L864.5 311.6L867.1 311.5L869.7 311.4L872.3 311.4L874.9 311.3L873.0 311.3M861.8 298.2L864.4 298.1L867.0 297.9L869.7 297.8L872.3 297.6L874.9 297.5L873.1 297.6M861.4 284.9L864.2 284.6L866.9 284.4L869.7 284.1L872.4 283.9L875.2 283.6L873.4 283.8M861.0 271.5L863.9 271.2L866.8 270.8L869.7 270.5L872.6 270.1L875.5 269.7L873.9 270.0M860.4 257.6L863.5 257.4L866.6 257.2L869.7 256.8L872.8 256.5L875.9 256.1L874.5 256.4M860.1 243.4L863.3 243.4L866.5 243.3L869.7 243.2L872.8 243.0L876.0 242.7L874.8 243.1M858.5 230.0L861.3 230.0L864.1 229.9L866.9 229.7L869.7 229.5L872.5 229.3L875.2 228.9L878.0 228.4L876.3 228.9M855.0 215.4L857.9 215.6L860.8 215.8L863.8 216.0L866.7 216.0L869.7 215.8L872.6 215.7L875.5 215.3L878.4 214.8L881.3 214.1L879.8 214.5M854.9 202.0L857.9 202.2L860.8 202.4L863.8 202.5L866.7 202.4L869.7 202.2L872.6 201.9L875.5 201.4L878.4 200.8L881.2 199.9L879.8 200.5M858.6 191.3L861.5 191.0L864.3 190.4L867.0 189.6L869.7 188.5L872.3 187.4L874.8 186.1L877.2 184.5L876.2 185.8M864.3 180.4L866.3 178.8L868.1 176.9L869.7 174.9L871.2 172.8L872.7 170.6L871.8 172.3M865.5 167.1L867.6 164.2L869.7 161.2L871.7 158.3L871.1 158.9M864.6 149.2L867.2 148.6L869.7 147.6L872.1 146.5L871.2 148.2M866.0 135.2L867.8 134.6L869.7 133.9L871.5 133.2L869.2 134.5M864.8 121.7L867.2 121.0L869.7 120.2L872.1 119.5L870.4 120.5M862.4 106.9L866.0 107.0L869.7 106.6L873.3 106.2L872.7 106.9M890.9 515.6L888.8 515.9L886.8 516.3L884.7 516.7L887.1 516.2M890.9 502.2L888.9 502.4L886.8 502.6L884.7 502.9L887.1 502.6M886.4 418.6L886.4 418.9M886.1 404.8L886.2 405.1M884.8 391.2L885.8 392.3L886.8 393.4L887.8 394.5L886.0 392.0M883.6 378.0L885.2 378.9L886.8 379.7L888.3 380.6L886.0 379.2M882.6 364.9L884.7 365.5L886.8 366.1L888.9 366.7L886.6 366.1M881.6 351.8L884.2 352.1L886.8 352.4L889.4 352.7L887.5 352.5M880.5 338.7L883.6 338.8L886.8 338.8L889.9 338.8L888.6 338.8M879.4 325.4L883.1 325.3L886.8 325.1L890.4 324.9L889.6 325.0M879.0 311.8L881.6 311.7L884.2 311.6L886.8 311.4L889.3 311.3L891.9 311.1L890.0 311.4M878.6 298.3L881.3 298.2L884.0 298.0L886.8 297.8L889.5 297.6L892.2 297.4L890.5 297.6M878.4 284.6L881.2 284.4L884.0 284.3L886.8 284.1L889.6 284.0L892.4 283.8L890.7 283.9M878.3 271.6L881.1 271.2L884.0 270.8L886.8 270.5L889.6 270.1L892.4 269.7L890.8 270.1M877.8 258.9L880.8 258.3L883.8 257.6L886.8 256.8L889.7 256.1L892.7 255.2L891.4 255.7M877.5 245.5L880.6 244.8L883.7 244.0L886.8 243.2L889.8 242.3L892.9 241.5L891.6 241.8M876.9 232.0L879.4 231.5L881.9 230.8L884.3 230.2L886.8 229.5L889.2 228.8L891.7 228.2L894.1 227.5L892.2 228.0M871.6 219.5L874.1 219.1L876.7 218.5L879.2 217.9L881.7 217.2L884.3 216.5L886.8 215.8L889.3 215.2L891.8 214.5L894.3 213.8L896.8 213.1L899.3 212.3L897.6 213.1M871.7 206.1L874.3 205.7L876.8 205.1L879.3 204.4L881.8 203.7L884.3 202.9L886.8 202.2L889.3 201.4L891.7 200.7L894.2 199.8L896.6 198.8L898.9 197.6L897.4 198.8M875.5 194.3L877.8 193.3L880.1 192.3L882.4 191.1L884.6 189.9L886.8 188.5L888.9 187.2L891.0 185.8L893.1 184.3L895.2 182.8L893.6 184.1M881.3 181.6L883.2 179.5L885.0 177.2L886.8 174.9L888.5 172.6L890.3 170.2L889.4 171.5M882.8 167.8L884.1 165.6L885.5 163.4L886.8 161.2L888.1 159.0L889.2 156.7L889.2 158.7M886.8 153.9L887.0 150.7L886.8 147.6L886.5 144.4L886.8 145.7M887.6 140.0L887.1 136.9L886.8 133.9L886.4 130.9L885.9 132.3M884.3 126.7L885.4 123.4L886.8 120.2L888.1 117.1L887.4 117.9M880.8 111.9L882.9 110.2L884.8 108.4L886.8 106.6L888.7 104.8L890.6 102.9L889.3 104.3M908.0 515.5L905.9 515.9L903.9 516.3L901.8 516.7L904.2 516.2M908.0 502.1L905.9 502.4L903.9 502.6L901.8 502.9L904.2 502.6M903.4 418.5L903.5 418.8M903.0 404.8L903.1 405.1M902.0 391.4L902.9 392.4L903.9 393.4L904.8 394.4L902.7 392.0M900.7 378.4L902.3 379.0L903.9 379.7L905.4 380.4L902.9 379.2M899.7 365.5L901.8 365.8L903.9 366.1L905.9 366.3L903.5 366.2M899.0 352.2L901.4 352.3L903.9 352.4L906.3 352.5L904.2 352.5M898.4 338.8L901.1 338.8L903.9 338.8L906.6 338.7L904.8 338.8M897.5 325.7L900.7 325.4L903.9 325.1L907.1 324.8L905.8 325.0M896.6 312.5L900.3 312.0L903.9 311.4L907.5 310.8L906.7 311.2M895.9 298.8L898.6 298.5L901.2 298.2L903.9 297.8L906.5 297.4L909.1 296.9L907.4 297.5M895.6 285.0L898.4 284.8L901.1 284.5L903.9 284.1L906.6 283.8L909.3 283.3L907.6 283.7M895.6 272.2L898.4 271.7L901.1 271.1L903.9 270.5L906.6 269.8L909.3 269.1L907.6 269.5M895.5 259.7L898.3 258.8L901.1 257.8L903.9 256.8L906.7 255.8L909.4 254.7L908.1 255.4M895.0 245.9L898.0 245.0L900.9 244.1L903.9 243.2L906.8 242.2L909.7 241.2L908.5 241.9M894.8 232.0L897.8 231.2L900.9 230.4L903.9 229.5L906.9 228.6L909.9 227.6L908.8 228.5M891.3 220.1L893.8 219.3L896.4 218.5L898.9 217.7L901.4 216.8L903.9 215.8L906.3 214.9L908.7 213.7L911.1 212.5L913.3 211.1L911.9 212.3M890.4 207.8L893.2 207.1L896.0 206.2L898.8 205.1L901.4 203.8L903.9 202.2L906.4 200.6L908.8 199.0L911.2 197.3L913.6 195.6L912.4 196.6M891.4 196.7L894.0 195.2L896.5 193.6L899.0 191.9L901.4 190.2L903.9 188.5L906.3 186.8L908.7 185.1L911.1 183.3L913.4 181.5L912.5 182.7M894.1 183.2L896.1 181.6L898.1 180.0L900.1 178.3L902.0 176.6L903.9 174.9L905.7 173.1L907.6 171.3L909.3 169.4L911.0 167.4L909.9 169.0M897.2 170.5L899.0 168.3L900.7 166.0L902.3 163.6L903.9 161.2L905.4 158.8L906.8 156.3L908.2 153.8L907.4 155.3M901.0 156.9L902.2 153.9L903.1 150.7L903.9 147.6L904.6 144.4L905.3 141.2L905.1 142.4M903.1 142.4L903.3 139.6L903.5 136.7L903.9 133.9L904.2 131.1L904.6 128.3L904.0 129.8M901.5 129.2L902.1 126.1L902.9 123.2L903.9 120.2L904.9 117.3L906.0 114.5L905.3 115.7M899.4 114.9L900.8 112.1L902.3 109.3L903.9 106.6L905.4 103.9L907.1 101.2L906.4 102.4M925.2 515.6L923.1 515.9L921.0 516.3L918.9 516.7L921.2 516.2M925.1 501.8L923.0 502.2L921.0 502.6L918.9 503.1L921.3 502.6M921.0 418.6L921.0 418.9M920.1 405.0L920.2 405.2M919.5 391.9L919.7 392.1M918.0 378.7L919.5 379.2L921.0 379.7L922.4 380.3L919.8 378.9M917.3 366.1L919.1 366.1L921.0 366.1L922.8 366.1L920.1 366.1M915.6 352.4L918.3 352.4L921.0 352.4L923.7 352.4L921.8 352.4M915.7 338.8L918.4 338.8L921.0 338.8L923.6 338.7L921.7 338.8M915.2 326.0L918.1 325.6L921.0 325.1L923.8 324.6L922.3 325.1M914.6 313.6L917.8 312.6L921.0 311.4L924.1 310.3L923.2 311.0M913.9 300.4L916.3 299.6L918.6 298.7L921.0 297.8L923.3 296.8L925.6 295.8L923.9 296.8M913.0 286.1L915.6 285.5L918.3 284.8L921.0 284.1L923.6 283.5L926.3 282.8L924.6 283.4M912.7 272.1L915.5 271.5L918.2 271.0L921.0 270.5L923.7 270.0L926.5 269.5L924.8 270.0M913.1 260.1L915.8 259.1L918.4 258.0L921.0 256.8L923.5 255.6L926.0 254.3L924.8 255.5M913.3 248.3L916.0 246.8L918.5 245.1L921.0 243.2L923.4 241.3L925.7 239.2L924.9 240.4M912.4 235.5L914.7 234.2L916.9 232.8L919.0 231.2L921.0 229.5L922.9 227.8L924.8 225.9L926.5 224.0L925.4 225.5M911.6 223.2L914.1 221.6L916.5 219.8L918.8 217.9L921.0 215.8L923.1 213.8L925.2 211.6L927.2 209.4L926.2 210.6M910.2 210.6L912.5 209.1L914.7 207.4L916.9 205.8L918.9 204.0L921.0 202.2L923.0 200.4L925.0 198.5L926.9 196.5L928.7 194.5L927.6 195.9M909.5 198.0L912.0 196.3L914.4 194.6L916.7 192.7L918.9 190.7L921.0 188.5L923.0 186.4L925.0 184.1L926.9 181.8L928.8 179.6L927.9 180.7M910.6 185.3L912.9 183.5L915.1 181.4L917.1 179.3L919.1 177.1L921.0 174.9L922.9 172.6L924.8 170.4L926.6 168.1L928.4 165.7L927.5 167.0M911.9 173.3L913.5 171.4L915.1 169.5L916.7 167.5L918.2 165.4L919.6 163.3L921.0 161.2L922.4 159.1L923.7 157.0L925.1 154.8L926.4 152.7L927.7 150.5L926.7 152.2M912.4 161.2L913.9 158.9L915.3 156.7L916.7 154.4L918.1 152.1L919.5 149.8L921.0 147.6L922.4 145.3L923.8 143.0L925.2 140.7L926.6 138.4L928.0 136.1L927.1 137.7M913.6 146.5L915.1 144.0L916.6 141.5L918.0 138.9L919.5 136.4L921.0 133.9L922.4 131.4L923.9 128.9L925.4 126.3L926.8 123.8L926.1 125.2M915.1 131.6L916.3 129.3L917.4 127.1L918.6 124.8L919.8 122.5L921.0 120.2L922.1 118.0L923.2 115.7L924.3 113.3L925.3 111.0L924.9 112.9M916.7 116.3L917.9 113.9L919.0 111.5L920.0 109.1L921.0 106.6L921.9 104.1L922.9 101.6L923.7 99.1L923.3 100.9M942.7 516.2L940.4 516.2L938.1 516.3L935.7 516.4L937.9 516.2M942.6 502.4L940.3 502.5L938.1 502.6L935.8 502.8L938.0 502.5M937.8 418.4L937.8 418.7M937.0 404.8L937.1 405.1M936.2 391.6L936.5 391.9M935.0 378.6L936.5 379.1L938.1 379.7L939.6 380.3L937.0 379.2M934.0 365.9L936.0 366.0L938.1 366.1L940.1 366.2L937.6 366.0M933.3 352.4L935.7 352.4L938.1 352.4L940.5 352.4L938.4 352.4M933.0 339.1L935.6 338.9L938.1 338.8L940.6 338.6L938.6 338.9M932.8 326.7L935.5 326.0L938.1 325.1L940.7 324.2L939.2 325.1M932.8 314.9L935.5 313.3L938.1 311.4L940.6 309.6L939.8 310.7M932.7 302.2L935.4 300.1L938.1 297.8L940.7 295.5L940.1 296.3M931.8 288.2L935.0 286.3L938.1 284.1L941.1 282.0L940.6 282.6M931.0 273.9L933.5 273.1L935.9 271.9L938.1 270.5L940.3 269.0L942.4 267.5L940.8 268.4M931.5 261.7L933.8 260.2L935.9 258.5L938.1 256.8L940.2 255.1L942.3 253.3L941.3 254.8M933.0 250.3L934.9 248.1L936.5 245.7L938.1 243.2L939.6 240.7L941.0 238.1L940.3 239.5M932.6 238.6L934.0 236.3L935.4 234.1L936.7 231.8L938.1 229.5L939.4 227.2L940.7 224.9L942.1 222.6L941.0 224.1M930.8 226.5L932.3 224.4L933.7 222.2L935.2 220.1L936.6 218.0L938.1 215.8L939.5 213.7L941.0 211.6L942.5 209.5L943.9 207.4L942.9 209.0M930.6 212.4L932.1 210.4L933.6 208.3L935.1 206.3L936.6 204.2L938.1 202.2L939.6 200.1L941.1 198.1L942.6 196.1L944.1 194.0L942.9 195.6M928.5 200.0L930.5 197.7L932.4 195.4L934.3 193.1L936.2 190.8L938.1 188.5L940.0 186.2L941.8 183.9L943.7 181.6L945.5 179.2L944.7 180.5M928.6 186.3L930.5 184.1L932.5 181.8L934.4 179.5L936.2 177.2L938.1 174.9L939.9 172.5L941.7 170.1L943.3 167.7L945.0 165.2L944.2 166.5M929.6 173.0L931.4 170.8L933.2 168.4L934.9 166.1L936.5 163.7L938.1 161.2L939.7 158.8L941.2 156.3L942.8 153.9L944.3 151.4L943.5 152.8M930.1 160.3L931.5 158.2L932.8 156.1L934.1 154.0L935.5 151.8L936.8 149.7L938.1 147.6L939.4 145.4L940.7 143.3L942.0 141.1L943.2 139.0L944.5 136.8L943.6 138.6M929.6 147.6L931.0 145.3L932.4 143.1L933.8 140.8L935.2 138.5L936.6 136.2L938.1 133.9L939.5 131.6L940.9 129.3L942.3 127.0L943.6 124.6L944.3 122.1L946.1 123.0M932.2 131.4L933.6 129.2L934.9 127.1L936.1 124.9L937.3 122.6L938.1 120.2L938.9 117.9L939.0 115.3L938.2 113.0L937.1 110.7L937.7 112.6M945.2 110.1L942.5 109.8L940.0 108.5L938.1 106.6L936.1 104.6L934.8 102.2L935.0 104.0M960.0 516.3L957.6 516.3L955.2 516.3L952.8 516.3L954.9 516.3M959.9 502.6L957.5 502.6L955.2 502.6L952.8 502.7L954.9 502.6M954.5 418.1L954.8 419.4L955.2 420.7L955.5 422.0L954.8 419.0M953.9 404.5L954.6 405.8L955.2 407.0L955.8 408.3L954.6 405.4M953.0 391.3L954.1 392.3L955.2 393.4L956.2 394.5L954.4 392.1M951.9 378.4L953.5 379.1L955.2 379.7L956.8 380.4L954.4 379.2M951.0 365.8L953.1 365.9L955.2 366.1L957.2 366.2L954.8 366.1M950.7 352.7L952.9 352.6L955.2 352.4L957.4 352.3L955.2 352.5M950.6 339.7L952.9 339.2L955.2 338.8L957.5 338.3L955.4 338.8M950.7 327.6L953.0 326.4L955.2 325.1L957.4 323.8L956.0 325.1M951.5 315.9L953.4 313.8L955.2 311.4L956.9 309.1L956.3 310.6M951.8 303.3L953.6 300.6L955.2 297.8L956.8 295.0L956.3 296.2M949.6 288.4L952.3 286.2L955.2 284.1L958.1 282.1L958.5 283.9M951.2 276.4L953.8 273.8L955.2 270.5L956.5 267.1L956.4 268.0M948.5 261.2L950.9 260.0L953.2 258.7L955.2 256.8L957.1 255.0L958.5 252.7L958.3 254.5M953.6 251.4L954.2 248.7L954.7 245.9L955.2 243.2L955.7 240.4L956.2 237.7L955.5 239.2M951.5 238.3L952.6 235.3L953.8 232.4L955.2 229.5L956.5 226.6L957.9 223.7L957.2 224.9M950.2 225.5L951.4 223.0L952.6 220.6L953.9 218.2L955.2 215.8L956.5 213.5L957.8 211.1L959.2 208.8L958.3 210.3M949.1 212.0L950.6 209.6L952.1 207.1L953.7 204.7L955.2 202.2L956.7 199.7L958.2 197.3L959.7 194.8L958.8 196.2M948.3 199.1L949.7 197.0L951.1 194.9L952.5 192.8L953.8 190.7L955.2 188.5L956.5 186.4L957.9 184.3L959.2 182.1L960.5 180.0L959.5 181.7M946.9 187.5L948.3 185.4L949.7 183.3L951.1 181.3L952.5 179.1L953.8 177.0L955.2 174.9L956.5 172.7L957.8 170.6L959.2 168.5L960.5 166.3L961.8 164.2L960.8 165.9M947.0 174.3L948.4 172.1L949.7 169.9L951.1 167.7L952.5 165.6L953.8 163.4L955.2 161.2L956.5 159.0L957.9 156.9L959.2 154.7L960.5 152.5L961.9 150.3L960.9 151.9M948.4 159.2L949.8 156.9L951.2 154.6L952.5 152.3L953.9 149.9L955.2 147.6L956.5 145.2L957.7 142.8L958.9 140.4L960.0 137.9L960.2 139.8M952.6 143.7L953.7 141.3L954.6 139.0L955.2 136.5L955.2 133.9L955.1 131.3L953.6 129.3L951.3 128.1L952.3 129.9M958.2 119.2L956.7 119.7L955.2 120.2L953.6 120.8L956.4 120.0M958.9 105.5L957.1 106.1L955.2 106.6L953.3 107.1L955.7 106.5M976.9 516.2L974.6 516.3L972.3 516.3L969.9 516.3L972.1 516.3M976.7 502.5L974.5 502.6L972.3 502.6L970.0 502.7L972.3 502.7M972.3 418.3L972.3 418.6M971.9 404.6L971.9 404.9M970.9 391.2L971.6 392.3L972.3 393.4L972.9 394.5L971.5 391.6M969.3 378.3L970.8 379.0L972.3 379.7L973.7 380.5L971.4 378.8M968.0 366.1L970.1 366.1L972.3 366.1L974.4 366.1L972.0 366.0M967.5 352.8L969.9 352.6L972.3 352.4L974.7 352.2L972.6 352.4M967.9 339.7L970.1 339.2L972.3 338.8L974.5 338.3L972.4 339.1M968.7 327.9L970.5 326.6L972.3 325.1L974.0 323.6L972.7 325.4M970.3 316.0L971.4 313.8L972.3 311.4L973.1 309.1L973.0 311.1M971.8 303.1L972.1 300.5L972.3 297.8L972.4 295.1L972.5 296.9M972.7 290.1L972.5 287.1L972.3 284.1L972.0 281.2L971.9 282.7M971.4 276.6L971.7 273.5L972.3 270.5L972.8 267.4L972.5 268.8M971.3 262.6L971.8 259.7L972.3 256.8L972.7 253.9L972.7 255.5M971.4 249.0L971.8 246.1L972.3 243.2L972.7 240.2L972.2 241.7M969.8 236.5L971.0 233.0L972.3 229.5L973.6 226.0L973.2 226.7M967.9 224.8L969.3 221.8L970.8 218.8L972.3 215.8L973.8 212.9L975.3 210.0L974.7 211.0M966.3 212.6L967.8 210.0L969.3 207.4L970.8 204.8L972.3 202.2L973.8 199.6L975.3 197.0L976.8 194.4L976.0 195.7M966.5 198.6L967.9 196.1L969.4 193.6L970.8 191.1L972.3 188.5L973.7 186.0L975.2 183.5L976.6 180.9L975.8 182.3M965.8 186.0L967.1 183.8L968.4 181.6L969.7 179.3L971.0 177.1L972.3 174.9L973.6 172.6L974.9 170.4L976.1 168.2L977.4 165.9L976.5 167.6M965.1 173.1L966.5 170.7L968.0 168.4L969.4 166.0L970.8 163.6L972.3 161.2L973.7 158.8L975.1 156.5L976.6 154.1L978.1 151.7L977.2 153.2M964.7 159.8L966.2 157.3L967.7 154.9L969.2 152.4L970.8 150.0L972.3 147.6L973.8 145.1L975.3 142.7L976.8 140.2L978.2 137.7L977.4 139.2M967.3 143.9L968.6 141.4L970.0 139.0L971.2 136.5L972.3 133.9L973.4 131.3L974.3 128.7L975.1 126.0L975.3 127.8M975.0 125.9L974.8 122.5L972.3 120.2L969.7 118.0L970.8 116.8M976.9 109.8L974.9 107.8L972.3 106.6L969.7 105.4L971.3 104.8M993.6 516.1L991.5 516.2L989.4 516.3L987.3 516.4L989.7 516.3M993.5 502.6L991.5 502.6L989.4 502.6L987.3 502.7L989.7 502.6M989.8 418.4L989.7 418.7M989.5 404.9L989.5 405.2M988.3 391.6L988.5 391.8M986.8 378.3L988.1 379.0L989.4 379.7L990.6 380.5L988.4 378.4M985.8 365.8L987.6 365.9L989.4 366.1L991.2 366.2L988.5 366.0M985.7 353.2L987.6 352.9L989.4 352.4L991.2 352.0L989.0 353.5M987.2 341.3L988.3 340.1L989.4 338.8L990.4 337.5L988.8 339.8M987.2 328.1L988.3 326.6L989.4 325.1L990.4 323.6L989.1 325.9M988.6 315.5L989.1 313.5L989.4 311.4L989.7 309.4L990.0 311.9M990.7 300.8L990.1 299.3L989.4 297.8L988.7 296.3L990.0 298.8M990.8 287.1L990.1 285.6L989.4 284.1L988.7 282.6L989.0 285.5M986.2 274.1L987.7 272.2L989.4 270.5L991.0 268.7L989.5 270.3M988.4 260.6L989.2 258.8L989.4 256.8L989.6 254.8L990.3 257.2M988.0 248.0L988.2 245.5L989.4 243.2L990.5 240.9L989.6 242.5M987.0 234.6L988.2 232.0L989.4 229.5L990.5 227.0L989.9 228.6M986.4 222.8L987.3 220.5L988.3 218.2L989.4 215.8L990.4 213.5L991.5 211.2L990.5 213.0M985.1 210.2L986.5 207.5L987.9 204.8L989.4 202.2L990.8 199.5L992.3 196.9L991.6 198.2M985.0 196.6L986.5 193.9L987.9 191.2L989.4 188.5L990.8 185.8L992.2 183.1L991.6 184.5M985.1 183.6L986.5 180.7L988.0 177.8L989.4 174.9L990.8 171.9L992.1 169.0L991.7 170.2M984.3 171.3L985.6 168.8L986.9 166.3L988.1 163.7L989.4 161.2L990.6 158.7L991.8 156.2L993.1 153.6L992.4 155.2M983.8 157.7L985.2 155.2L986.6 152.7L988.0 150.1L989.4 147.6L990.8 145.0L992.2 142.5L993.7 140.0L992.8 141.3M982.8 143.9L984.3 141.3L986.0 138.8L987.7 136.4L989.4 133.9L991.1 131.5L992.8 129.0L994.3 126.4L995.3 128.0M988.3 126.5L989.1 123.4L989.4 120.2L989.6 117.1L989.8 118.4M990.0 111.9L989.7 109.2L989.4 106.6L989.1 103.9L989.4 105.7M1010.4 516.0L1008.4 516.1L1006.5 516.3L1004.5 516.5L1007.0 516.3M1010.5 502.4L1008.5 502.5L1006.5 502.6L1004.5 502.7L1007.0 502.7M1005.4 418.5L1005.6 418.8M1005.8 404.7L1005.9 405.0M1005.4 391.2L1005.5 391.5M1004.0 378.4L1005.2 379.1L1006.5 379.7L1007.7 380.4L1005.1 378.8M1003.4 365.9L1004.9 366.0L1006.5 366.1L1008.0 366.2L1005.0 365.9M1003.9 354.3L1005.2 353.4L1006.5 352.4L1007.7 351.5L1005.6 353.5M1004.9 341.4L1005.7 340.1L1006.5 338.8L1007.3 337.5L1005.7 340.0M1004.7 328.0L1005.6 326.6L1006.5 325.1L1007.3 323.6L1006.0 326.1M1005.3 315.1L1005.9 313.3L1006.5 311.4L1007.0 309.6L1006.4 312.1M1005.9 301.7L1006.2 299.7L1006.5 297.8L1006.8 295.8L1006.2 298.3M1005.6 287.9L1006.0 286.0L1006.5 284.1L1006.9 282.3L1006.3 284.8M1005.9 273.5L1006.2 272.0L1006.5 270.5L1006.7 269.0L1006.2 271.9M1005.5 260.7L1006.0 258.8L1006.5 256.8L1007.0 254.9L1006.4 257.3M1005.5 247.7L1006.0 245.4L1006.5 243.2L1006.9 240.9L1006.7 243.1M1005.7 234.3L1006.1 231.9L1006.5 229.5L1006.8 227.1L1006.5 229.1M1004.4 221.6L1005.3 218.7L1006.5 215.8L1007.6 213.0L1006.7 214.1M1002.4 208.1L1004.4 205.1L1006.5 202.2L1008.5 199.2L1008.1 200.1M1003.2 194.2L1004.9 191.4L1006.5 188.5L1008.0 185.6L1007.8 186.9M1004.3 180.9L1005.4 177.9L1006.5 174.9L1007.5 171.8L1007.2 173.1M1004.4 168.3L1005.5 164.8L1006.5 161.2L1007.5 157.7L1007.4 158.5M1004.6 155.2L1005.3 152.7L1005.9 150.1L1006.5 147.6L1007.0 145.0L1007.5 142.4L1007.5 144.3M1005.9 140.5L1006.3 137.2L1006.5 133.9L1006.6 130.6L1007.0 131.7M1007.1 123.6L1006.8 121.9L1006.5 120.2L1006.2 118.6L1006.7 121.3M1007.7 110.5L1007.1 108.6L1006.5 106.6L1005.9 104.6L1006.6 106.9M1027.2 516.0L1025.4 516.1L1023.6 516.3L1021.7 516.5L1024.4 516.2M1027.2 502.3L1025.4 502.5L1023.6 502.6L1021.8 502.8L1024.4 502.6M1022.4 418.6L1022.5 418.9M1023.1 404.7L1023.2 405.0M1022.9 391.0L1023.0 391.3M1021.1 379.2L1021.4 379.3M1021.2 365.7L1021.5 365.7M1021.1 353.4L1022.4 353.0L1023.6 352.4L1024.8 351.9L1022.5 354.1M1021.8 341.3L1022.7 340.0L1023.6 338.8L1024.4 337.5L1023.0 340.1M1022.2 328.2L1022.9 326.7L1023.6 325.1L1024.2 323.5L1023.4 326.2M1022.7 314.8L1023.2 313.1L1023.6 311.4L1024.0 309.8L1023.3 312.4M1021.4 301.3L1022.4 299.5L1023.6 297.8L1024.7 296.1L1023.1 297.8M1019.9 287.2L1021.8 285.7L1023.6 284.1L1025.4 282.6L1024.0 284.1M1022.2 274.0L1022.9 272.3L1023.6 270.5L1024.2 268.7L1023.6 271.2M1023.0 260.7L1023.3 258.8L1023.6 256.8L1023.8 254.9L1023.8 257.4M1024.0 246.9L1023.8 245.0L1023.6 243.2L1023.3 241.3L1023.8 243.9M1024.2 233.1L1023.9 231.3L1023.6 229.5L1023.3 227.7L1023.6 230.4M1023.5 220.2L1023.5 218.0L1023.6 215.8L1023.7 213.7L1023.2 216.0M1022.5 206.4L1023.0 204.3L1023.6 202.2L1024.1 200.1L1023.7 202.4M1023.0 191.5L1023.3 190.0L1023.6 188.5L1023.8 187.0L1023.3 190.0M1022.6 178.9L1023.1 176.9L1023.6 174.9L1024.0 172.9L1023.3 175.2M1022.2 165.4L1022.9 163.3L1023.6 161.2L1024.3 159.1L1023.6 161.3M1023.3 152.1L1023.6 149.8L1023.6 147.6L1023.6 145.3L1024.2 147.5M1025.3 137.4L1024.5 135.6L1023.6 133.9L1022.7 132.2L1024.1 134.3M1026.1 122.8L1024.8 121.5L1023.6 120.2L1022.3 119.0L1024.2 120.9M1026.1 109.3L1024.8 108.0L1023.6 106.6L1022.3 105.2L1023.9 107.3M1044.2 516.3L1042.4 516.3L1040.7 516.3L1038.9 516.3L1041.6 516.2M1044.2 502.6L1042.4 502.6L1040.7 502.6L1038.9 502.7L1041.7 502.5M1040.3 418.3L1040.4 418.6M1039.6 404.8L1039.7 405.1M1039.2 395.4L1039.4 395.2M1039.3 381.9L1039.5 381.6M1041.0 368.5L1040.9 368.2M1041.0 354.8L1040.9 354.5M1040.2 341.6L1040.4 340.2L1040.7 338.8L1040.9 337.3L1040.3 340.3M1040.2 328.2L1040.4 326.7L1040.7 325.1L1040.9 323.6L1040.6 326.5M1040.7 314.2L1040.7 312.8L1040.7 311.4L1040.6 310.1L1040.8 313.2M1040.9 300.2L1040.8 299.9M1039.9 287.6L1040.3 285.8L1040.7 284.1L1041.1 282.4L1040.4 285.1M1039.9 274.4L1040.4 272.5L1040.7 270.5L1041.0 268.5L1040.9 271.0M1041.1 261.0L1040.9 258.9L1040.7 256.8L1040.4 254.7L1040.8 257.1M1041.2 246.5L1041.0 244.9L1040.7 243.2L1040.4 241.5L1040.8 244.2M1041.1 231.9L1041.0 231.6M1041.0 219.1L1040.8 217.5L1040.7 215.8L1040.5 214.2L1040.6 217.1M1040.5 206.1L1040.6 204.1L1040.7 202.2L1040.8 200.2L1040.6 202.8M1040.2 192.2L1040.4 190.4L1040.7 188.5L1040.9 186.7L1040.5 189.3M1039.6 178.5L1040.1 176.7L1040.7 174.9L1041.3 173.1L1040.1 175.4M1038.9 164.3L1039.8 162.8L1040.7 161.2L1041.6 159.7L1040.2 162.0M1039.8 151.0L1040.4 149.3L1040.7 147.6L1041.0 145.8L1041.8 148.4M1041.9 136.0L1041.7 135.8M1042.5 122.7L1041.6 121.5L1040.7 120.2L1039.8 119.0L1041.7 121.3M1043.7 108.7L1042.2 107.7L1040.7 106.6L1039.2 105.5L1041.1 107.3M1061.4 516.5L1059.6 516.4L1057.8 516.3L1056.0 516.2L1058.6 516.3M1061.5 502.9L1059.7 502.8L1057.8 502.6L1055.9 502.5L1058.5 502.7M1058.4 418.4L1058.3 418.7M1057.8 409.5L1057.8 409.2M1057.8 395.8L1057.8 395.5M1057.7 382.3L1057.7 381.9M1057.7 368.7L1057.8 367.4L1057.8 366.1L1057.8 364.8L1057.8 368.0M1057.8 355.1L1057.8 353.8L1057.8 352.4L1057.8 351.1L1057.7 354.2M1057.6 341.7L1057.7 340.2L1057.8 338.8L1057.9 337.3L1057.6 340.3M1057.6 328.2L1057.7 326.6L1057.8 325.1L1057.9 323.6L1057.7 326.5M1057.7 314.5L1057.8 312.9L1057.8 311.4L1057.8 309.9L1057.8 312.9M1057.8 300.8L1057.8 299.3L1057.8 297.8L1057.8 296.3L1057.8 299.3M1057.7 287.4L1057.8 285.8L1057.8 284.1L1057.8 282.5L1057.8 285.4M1058.1 274.4L1058.0 272.4L1057.8 270.5L1057.6 268.5L1058.1 271.0M1059.2 261.3L1058.5 259.0L1057.8 256.8L1057.0 254.6L1057.8 256.6M1059.3 247.6L1058.5 245.4L1057.8 243.2L1057.0 241.0L1057.5 243.1M1058.4 233.0L1058.1 231.3L1057.8 229.5L1057.5 227.7L1057.9 230.4M1058.4 219.4L1058.1 217.6L1057.8 215.8L1057.5 214.1L1058.0 216.7M1059.4 205.4L1058.6 203.8L1057.8 202.2L1056.9 200.6L1058.3 202.9M1061.0 189.4L1059.3 189.1L1057.8 188.5L1056.2 188.0L1058.2 190.1M1060.5 176.8L1059.0 176.0L1057.8 174.9L1056.5 173.7L1057.1 176.6M1057.9 164.8L1057.8 163.0L1057.8 161.2L1057.8 159.4L1057.7 162.1M1058.6 151.1L1058.2 149.3L1057.8 147.6L1057.3 145.8L1058.4 148.3M1060.3 136.5L1059.0 135.2L1057.8 133.9L1056.5 132.6L1058.4 134.5M1061.4 122.9L1059.5 121.7L1057.8 120.2L1056.0 118.8L1057.7 120.3M1060.5 105.7L1059.1 106.1L1057.8 106.6L1056.4 107.0L1059.4 106.7M1078.5 516.5L1076.7 516.4L1074.9 516.3L1073.1 516.2L1075.7 516.4M1078.7 502.9L1076.8 502.8L1074.9 502.6L1072.9 502.5L1075.5 502.7M1079.0 489.4L1077.0 489.2L1074.9 489.0L1072.8 488.8L1075.2 489.0M1078.3 475.7L1076.6 475.5L1074.9 475.3L1073.2 475.1L1075.9 475.4M1077.8 461.5L1076.3 461.6L1074.9 461.7L1073.4 461.7L1076.5 461.6M1077.6 448.2L1076.2 448.1L1074.9 448.0L1073.5 447.9L1076.6 448.6M1077.4 434.9L1076.1 434.6L1074.9 434.4L1073.6 434.1L1076.7 435.1M1077.4 421.0L1077.1 421.0M1075.4 409.5L1075.3 409.2M1075.1 395.8L1075.1 395.5M1075.1 382.2L1075.1 381.9M1075.0 368.7L1074.9 367.4L1074.9 366.1L1074.8 364.8L1074.9 367.9M1074.9 355.2L1074.9 353.8L1074.9 352.4L1074.8 351.0L1074.9 354.2M1075.0 341.4L1074.9 340.1L1074.9 338.8L1074.8 337.4L1075.0 340.6M1075.0 327.8L1074.9 326.4L1074.9 325.1L1074.8 323.8L1074.9 326.9M1074.9 314.4L1074.9 312.9L1074.9 311.4L1074.8 310.0L1074.9 313.0M1075.0 300.9L1074.9 299.3L1074.9 297.8L1074.8 296.2L1075.0 299.2M1075.2 287.2L1075.0 285.7L1074.9 284.1L1074.7 282.6L1075.0 285.5M1075.3 273.6L1075.1 272.0L1074.9 270.5L1074.6 268.9L1075.1 271.8M1075.4 260.1L1075.2 258.5L1074.9 256.8L1074.6 255.2L1075.1 258.0M1075.4 246.9L1075.1 245.0L1074.9 243.2L1074.6 241.3L1074.9 243.9M1075.1 233.2L1075.0 231.3L1074.9 229.5L1074.7 227.7L1075.0 230.3M1075.6 219.4L1075.3 217.6L1074.9 215.8L1074.5 214.1L1075.5 216.6M1077.5 204.0L1076.2 203.0L1074.9 202.2L1073.5 201.3L1076.2 202.4M1077.7 187.7L1076.3 188.1L1074.9 188.5L1073.5 189.0L1076.3 187.9M1076.9 176.7L1075.9 175.7L1074.9 174.9L1073.8 174.1L1076.7 175.3M1076.7 163.7L1075.8 162.5L1074.9 161.2L1073.9 160.0L1075.6 162.5M1095.5 516.4L1093.8 516.3L1092.0 516.3L1090.2 516.3L1092.9 516.3M1095.6 502.7L1093.8 502.6L1092.0 502.6L1090.2 502.6L1092.9 502.6M1094.6 490.0L1093.3 489.5L1092.0 489.0L1090.6 488.5L1093.5 489.5M1094.2 476.5L1093.9 476.3M1094.9 461.2L1093.4 461.4L1092.0 461.7L1090.5 461.9L1093.5 461.4M1095.0 448.0L1093.5 448.0L1092.0 448.0L1090.5 448.0L1093.5 448.0M1094.9 434.5L1093.4 434.4L1092.0 434.4L1090.5 434.3L1093.5 434.4M1094.2 422.2L1093.1 421.5L1092.0 420.7L1090.9 419.9L1093.1 422.1M1092.5 409.5L1092.4 409.2M1092.3 395.8L1092.2 395.5M1092.3 382.1L1092.2 381.8M1092.2 368.6L1092.2 368.3M1092.2 355.1L1092.1 353.7L1092.0 352.4L1091.9 351.1L1092.1 354.2M1092.2 341.2L1092.1 340.9M1092.2 327.5L1092.2 327.2M1092.2 314.2L1092.1 312.8L1092.0 311.4L1091.9 310.1L1092.1 313.2M1092.4 300.8L1092.2 299.3L1092.0 297.8L1091.8 296.3L1092.2 299.2M1092.5 287.1L1092.2 285.6L1092.0 284.1L1091.7 282.7L1092.2 285.6M1092.4 273.1L1092.2 271.8L1092.0 270.5L1091.7 269.1L1092.3 272.2M1092.4 259.2L1092.3 258.9M1092.1 246.6L1092.0 244.9L1092.0 243.2L1091.9 241.4L1091.9 244.2M1092.0 233.1L1092.0 231.3L1092.0 229.5L1092.0 227.7L1092.0 230.4M1092.3 219.4L1092.2 217.6L1092.0 215.8L1091.8 214.1L1092.4 216.7M1093.6 205.0L1092.9 203.6L1092.0 202.2L1091.1 200.8L1093.0 202.9M1093.8 190.7L1092.9 189.6L1092.0 188.5L1091.1 187.5L1092.9 189.9M1093.4 177.2L1092.7 176.0L1092.0 174.9L1091.2 173.7L1092.9 176.4M1093.5 163.8L1092.7 162.5L1092.0 161.2L1091.2 159.9L1092.7 162.5M1112.5 516.6L1110.8 516.4L1109.1 516.3L1107.4 516.2L1110.1 516.3M1112.4 503.1L1110.7 502.8L1109.1 502.6L1107.4 502.4L1110.3 502.7M1111.8 489.9L1110.4 489.4L1109.1 489.0L1107.7 488.5L1110.6 489.7M1111.6 476.2L1110.3 475.8L1109.1 475.3L1107.8 474.9L1110.7 476.0M1112.0 461.9L1110.5 461.8L1109.1 461.7L1107.6 461.6L1110.7 461.6M1112.0 448.1L1110.5 448.1L1109.1 448.0L1107.6 448.0L1110.6 448.0M1111.9 434.8L1110.5 434.6L1109.1 434.4L1107.6 434.2L1110.7 434.5M1111.3 422.4L1110.2 421.6L1109.1 420.7L1108.0 419.8L1110.1 422.1M1109.9 409.5L1109.4 408.3L1109.1 407.0L1108.7 405.8L1109.4 408.9M1109.5 395.9L1109.4 395.5M1109.4 382.2L1109.4 381.9M1109.4 368.7L1109.2 367.4L1109.1 366.1L1108.9 364.7L1109.3 367.9M1109.3 355.2L1109.2 353.8L1109.1 352.4L1109.0 351.0L1109.2 354.1M1109.3 341.4L1109.2 340.1L1109.1 338.8L1109.0 337.4L1109.2 340.6M1109.3 327.8L1109.2 326.4L1109.1 325.1L1109.0 323.8L1109.2 326.9M1109.3 314.4L1109.2 312.9L1109.1 311.4L1109.0 310.0L1109.2 313.0M1109.4 300.9L1109.2 299.3L1109.1 297.8L1108.9 296.2L1109.3 299.2M1109.5 287.2L1109.3 285.7L1109.1 284.1L1108.9 282.6L1109.3 285.5M1109.5 273.4L1109.3 271.9L1109.1 270.5L1108.9 269.0L1109.3 272.0M1109.5 259.8L1109.3 258.3L1109.1 256.8L1108.9 255.3L1109.2 258.3M1109.3 246.5L1109.2 244.8L1109.1 243.2L1108.9 241.5L1109.1 244.3M1109.3 233.1L1109.2 231.3L1109.1 229.5L1109.0 227.7L1109.2 230.4M1109.5 219.5L1109.3 217.6L1109.1 215.8L1108.8 214.0L1109.3 216.7M1110.2 205.5L1109.7 203.8L1109.1 202.2L1108.5 200.5L1109.6 203.0M1110.7 191.4L1109.9 190.0L1109.1 188.5L1108.2 187.1L1109.8 189.5M1110.8 177.7L1109.9 176.3L1109.1 174.9L1108.2 173.5L1109.7 175.9M1110.7 164.0L1109.9 162.6L1109.1 161.2L1108.2 159.8L1109.7 162.3" fill="none" stroke="#0a0a0a" stroke-width="0.9" stroke-linecap="butt"/>
<path d="M695.0 518.3L698.0 514.5L699.8 517.7ZM694.8 504.4L698.1 500.8L699.7 504.1ZM694.8 490.6L698.1 487.1L699.7 490.4ZM695.2 477.7L698.0 473.7L700.0 476.8ZM695.7 464.4L697.8 460.0L700.3 462.7ZM696.1 450.6L697.9 446.1L700.6 448.7ZM697.3 437.7L698.3 433.0L701.4 435.1ZM700.8 423.7L696.7 421.2L699.7 419.0ZM701.3 410.0L697.0 407.8L699.8 405.4ZM702.4 395.9L697.6 394.8L699.7 391.8ZM703.2 381.5L698.4 381.7L699.6 378.2ZM704.0 367.6L699.2 368.2L700.1 364.6ZM705.2 353.4L700.5 354.7L700.9 351.0ZM705.8 339.4L701.3 341.0L701.4 337.3ZM706.0 325.8L701.4 327.4L701.7 323.7ZM706.2 312.5L701.5 313.8L702.0 310.1ZM706.5 298.9L701.8 300.1L702.3 296.5ZM706.6 285.3L701.9 286.5L702.4 282.9ZM706.7 271.8L702.0 273.0L702.5 269.3ZM706.6 258.6L701.8 259.5L702.6 255.9ZM706.3 245.2L701.5 245.8L702.5 242.3ZM706.6 231.7L701.8 232.3L702.7 228.7ZM707.8 218.9L703.0 219.3L704.1 215.8ZM708.2 205.7L703.4 205.9L704.6 202.4ZM708.4 192.2L703.5 192.3L704.8 188.9ZM708.6 179.2L703.8 179.2L705.3 175.8ZM708.3 165.9L703.4 165.7L705.0 162.3ZM706.8 152.1L702.0 151.6L703.7 148.3ZM706.1 138.2L701.3 137.5L703.1 134.3ZM706.3 124.7L701.4 124.0L703.3 120.8ZM706.7 111.4L701.9 110.7L703.8 107.5ZM712.0 518.2L715.2 514.5L716.9 517.8ZM711.9 504.3L715.3 500.8L716.8 504.2ZM711.8 490.4L715.4 487.2L716.7 490.6ZM712.3 477.6L715.3 473.8L717.1 477.0ZM712.6 464.4L714.8 460.0L717.2 462.9ZM713.2 450.8L715.0 446.3L717.7 448.9ZM716.4 438.0L715.3 433.2L719.0 433.9ZM718.1 423.5L713.8 421.2L716.7 418.8ZM719.1 409.5L714.4 408.3L716.6 405.4ZM719.6 395.5L714.8 394.7L716.8 391.6ZM720.5 380.6L715.7 381.7L716.4 378.0ZM720.9 367.1L716.1 368.1L716.9 364.4ZM723.0 352.8L718.5 354.4L718.6 350.7ZM723.5 338.8L719.0 340.6L719.0 336.9ZM723.4 325.3L718.9 327.1L719.0 323.4ZM723.4 312.3L718.8 313.6L719.1 310.0ZM723.6 298.7L719.0 300.0L719.4 296.4ZM723.7 284.9L719.0 286.4L719.4 282.7ZM723.9 271.8L719.2 272.9L719.8 269.2ZM723.8 258.4L719.0 259.4L719.7 255.8ZM723.4 245.2L718.5 245.8L719.4 242.3ZM723.6 231.7L718.8 232.2L719.8 228.7ZM725.0 219.0L720.2 219.3L721.4 215.8ZM725.4 205.7L720.5 205.9L721.8 202.4ZM725.6 192.4L720.7 192.4L722.1 189.0ZM726.5 179.8L721.6 179.6L723.2 176.3ZM726.5 166.2L721.6 166.0L723.2 162.7ZM724.3 152.2L719.5 151.8L721.2 148.5ZM723.1 138.2L718.3 137.5L720.2 134.3ZM723.3 124.8L718.5 124.0L720.5 120.8ZM723.6 111.9L718.9 110.8L721.1 107.8ZM729.2 518.4L732.2 514.6L734.0 517.8ZM729.2 504.7L732.3 500.9L734.1 504.2ZM729.3 491.1L732.3 487.3L734.1 490.5ZM729.3 477.5L732.2 473.5L734.1 476.7ZM730.0 464.0L732.4 459.8L734.7 462.6ZM730.2 450.6L732.2 446.2L734.7 448.9ZM732.2 438.2L732.1 433.3L735.6 434.6ZM735.3 423.9L731.4 420.9L734.6 419.1ZM736.3 409.5L731.6 408.2L733.8 405.3ZM736.8 395.5L732.0 394.8L733.8 391.6ZM737.6 380.8L732.7 381.4L733.7 377.8ZM738.0 367.2L733.2 368.0L734.1 364.4ZM740.0 353.0L735.3 354.3L735.8 350.6ZM740.6 338.9L736.0 340.5L736.2 336.9ZM740.5 325.5L735.8 327.0L736.1 323.3ZM740.5 312.3L735.8 313.6L736.2 309.9ZM740.7 298.8L736.1 300.0L736.5 296.4ZM740.8 285.1L736.1 286.3L736.6 282.7ZM741.0 271.7L736.3 272.9L736.8 269.2ZM741.1 258.3L736.3 259.3L737.0 255.7ZM741.2 245.2L736.4 246.0L737.3 242.4ZM741.8 232.3L737.0 232.7L738.1 229.2ZM742.7 219.7L737.8 219.7L739.2 216.3ZM743.0 206.5L738.1 206.4L739.7 203.0ZM743.3 193.3L738.4 193.1L740.0 189.8ZM743.6 180.3L738.8 179.8L740.5 176.5ZM743.5 166.9L738.7 166.1L740.7 163.0ZM742.7 153.6L737.9 152.7L739.9 149.6ZM740.9 139.9L736.2 138.7L738.4 135.7ZM739.8 126.5L735.3 124.7L737.8 122.0ZM740.0 113.0L735.5 111.2L738.0 108.6ZM746.1 518.2L749.3 514.5L750.9 517.8ZM746.3 504.7L749.3 500.9L751.1 504.1ZM746.4 491.1L749.3 487.2L751.2 490.4ZM746.5 477.5L749.4 473.6L751.3 476.8ZM747.1 464.0L749.4 459.8L751.8 462.6ZM747.3 450.6L749.4 446.2L751.9 449.0ZM749.0 438.0L749.2 433.1L752.6 434.7ZM751.7 424.2L748.4 420.6L751.9 419.3ZM753.1 409.8L748.6 408.0L751.2 405.3ZM754.0 395.4L749.2 395.1L750.8 391.8ZM754.5 381.4L749.6 381.6L750.9 378.1ZM755.1 367.6L750.2 368.0L751.4 364.5ZM756.1 353.7L751.3 354.4L752.2 350.8ZM756.9 339.7L752.2 340.8L752.7 337.1ZM757.2 325.9L752.6 327.2L753.0 323.6ZM757.5 312.3L752.9 313.7L753.2 310.0ZM757.8 298.8L753.2 300.1L753.6 296.4ZM758.0 285.3L753.3 286.5L753.8 282.8ZM758.2 271.8L753.5 272.9L754.1 269.3ZM758.6 258.6L753.8 259.5L754.5 255.9ZM759.2 245.7L754.4 246.3L755.3 242.7ZM760.1 233.2L755.2 233.5L756.4 230.0ZM760.8 220.7L755.9 220.6L757.4 217.2ZM760.8 207.2L756.0 207.0L757.5 203.7ZM761.0 193.9L756.1 193.7L757.7 190.3ZM761.4 181.9L756.6 181.2L758.5 178.1ZM761.7 169.4L756.9 168.3L759.0 165.3ZM761.0 155.4L756.2 154.3L758.4 151.3ZM757.6 140.9L753.0 139.3L755.4 136.5ZM755.9 126.2L751.4 124.3L754.1 121.7ZM756.6 113.1L752.1 111.2L754.7 108.6ZM762.6 517.3L766.5 514.3L767.5 517.9ZM762.9 503.9L766.5 500.7L767.7 504.2ZM768.3 423.4L764.8 419.9L768.3 418.5ZM769.7 409.7L765.5 407.3L768.4 405.0ZM771.6 394.8L766.7 395.2L767.8 391.7ZM771.7 381.0L766.9 381.6L767.8 378.1ZM771.9 367.6L767.1 368.0L768.2 364.5ZM772.8 353.9L768.0 354.5L768.9 351.0ZM773.8 339.7L769.1 341.0L769.6 337.3ZM774.4 325.6L769.8 327.3L770.0 323.6ZM774.7 311.8L770.2 313.5L770.3 309.8ZM774.9 298.3L770.3 300.0L770.5 296.3ZM775.2 285.0L770.6 286.5L770.9 282.8ZM775.6 271.8L770.9 273.0L771.4 269.3ZM776.1 258.8L771.3 259.6L772.0 256.0ZM776.4 245.7L771.6 246.3L772.5 242.7ZM777.1 232.6L772.2 233.2L773.2 229.6ZM778.0 220.2L773.1 220.6L774.3 217.1ZM778.1 207.3L773.2 207.2L774.7 203.8ZM778.7 195.1L773.9 194.4L775.8 191.2ZM778.9 182.6L774.1 181.6L776.2 178.5ZM778.7 169.4L774.0 168.4L776.1 165.3ZM778.1 156.6L773.4 155.2L775.8 152.3ZM777.4 145.3L772.9 143.4L775.6 140.8ZM776.8 131.7L772.5 129.5L775.3 127.1ZM775.5 116.0L771.2 113.7L774.0 111.3ZM779.4 516.8L783.7 514.4L784.1 518.1ZM779.7 503.3L783.9 500.8L784.4 504.4ZM784.8 422.4L782.1 419.5L785.0 418.4ZM785.2 409.0L781.6 405.9L784.8 404.3ZM788.1 395.3L783.4 394.3L785.5 391.2ZM788.7 381.2L783.8 381.4L785.1 377.9ZM789.1 367.6L784.3 368.1L785.3 364.5ZM790.1 353.6L785.3 354.6L786.0 351.0ZM791.2 339.4L786.5 340.9L786.8 337.2ZM791.9 325.2L787.3 327.0L787.4 323.3ZM792.0 311.5L787.5 313.3L787.5 309.6ZM792.0 297.9L787.5 299.7L787.5 296.0ZM792.3 284.6L787.7 286.3L787.9 282.6ZM792.8 271.5L788.2 272.9L788.5 269.2ZM793.2 258.7L788.4 259.7L789.1 256.0ZM793.0 245.5L788.2 246.2L789.1 242.6ZM793.0 231.9L788.1 232.5L789.1 228.9ZM794.4 219.0L789.6 219.6L790.6 216.0ZM796.8 208.2L791.9 208.2L793.3 204.8ZM797.9 197.6L793.1 197.1L794.9 193.8ZM797.5 184.2L792.8 183.1L794.9 180.1ZM796.1 170.0L791.3 169.0L793.4 165.9ZM794.7 158.7L790.2 157.1L792.6 154.3ZM793.5 147.1L789.4 144.5L792.4 142.4ZM793.3 133.2L789.4 130.3L792.6 128.4ZM793.0 118.2L789.0 115.4L792.1 113.4ZM796.6 516.8L800.9 514.5L801.2 518.2ZM796.8 503.3L801.0 500.9L801.5 504.5ZM802.0 422.5L799.1 419.5L802.1 418.3ZM802.2 409.0L798.7 405.8L802.0 404.2ZM804.2 395.9L799.6 394.1L802.2 391.4ZM805.9 381.3L801.1 381.8L802.1 378.2ZM806.7 367.1L802.0 368.2L802.5 364.6ZM807.7 353.1L803.0 354.6L803.3 350.9ZM808.5 339.1L803.9 340.8L804.0 337.1ZM808.9 325.3L804.3 327.0L804.4 323.3ZM809.0 311.5L804.5 313.3L804.6 309.6ZM809.1 297.9L804.6 299.7L804.6 296.0ZM809.3 284.3L804.8 286.1L804.8 282.4ZM809.8 270.9L805.2 272.7L805.3 269.0ZM810.4 258.1L805.7 259.5L806.1 255.8ZM810.4 245.2L805.6 246.3L806.3 242.6ZM810.4 231.9L805.6 232.6L806.5 229.0ZM812.5 219.2L807.7 219.8L808.7 216.2ZM814.8 207.4L810.0 207.7L811.2 204.2ZM815.6 195.4L810.8 195.6L812.0 192.1ZM814.9 182.5L810.0 182.5L811.4 179.1ZM813.0 169.6L808.1 169.1L809.9 165.8ZM811.7 160.1L807.0 158.7L809.3 155.8ZM810.3 149.4L806.3 146.8L809.3 144.7ZM809.2 134.9L805.6 131.7L808.9 130.1ZM808.1 119.5L804.6 116.2L807.9 114.7ZM814.0 517.2L818.1 514.6L818.7 518.2ZM814.1 503.7L818.1 500.9L818.9 504.6ZM819.8 423.2L816.0 420.2L819.2 418.4ZM820.5 409.6L816.2 407.3L819.1 404.9ZM822.3 395.2L817.4 394.9L819.1 391.6ZM823.6 380.4L819.0 381.7L819.4 378.0ZM823.8 366.6L819.1 368.0L819.5 364.3ZM825.3 352.7L820.8 354.4L820.9 350.7ZM826.1 338.8L821.6 340.6L821.6 336.9ZM826.0 325.2L821.4 327.0L821.5 323.3ZM826.0 311.6L821.5 313.4L821.5 309.7ZM826.2 297.8L821.7 299.7L821.7 296.0ZM826.2 284.1L821.7 286.0L821.7 282.3ZM826.5 270.5L822.0 272.4L822.0 268.7ZM827.6 257.3L823.0 259.0L823.1 255.3ZM828.6 244.2L824.0 245.8L824.2 242.1ZM829.9 231.3L825.3 232.7L825.6 229.1ZM832.6 219.5L827.9 220.6L828.5 217.0ZM834.1 207.7L829.3 208.3L830.2 204.7ZM833.0 193.7L828.2 194.1L829.3 190.5ZM829.8 178.6L825.0 179.3L825.9 175.8ZM828.5 165.7L823.7 166.4L824.6 162.8ZM828.0 157.2L823.1 157.0L824.6 153.7ZM824.5 149.3L820.2 147.0L823.0 144.6ZM822.3 135.1L819.3 131.3L822.9 130.3ZM821.4 119.5L818.7 115.5L822.4 114.8ZM831.5 517.9L835.1 514.6L836.3 518.1ZM831.7 504.4L835.1 501.0L836.5 504.4ZM836.8 423.1L833.1 420.0L836.3 418.2ZM837.6 409.1L833.2 407.1L836.0 404.6ZM838.7 394.9L833.8 394.6L835.5 391.3ZM840.2 380.7L835.4 381.3L836.4 377.7ZM840.9 366.7L836.1 367.9L836.7 364.2ZM842.1 352.9L837.5 354.3L837.8 350.6ZM843.0 338.9L838.5 340.6L838.6 336.9ZM842.9 325.2L838.4 327.0L838.5 323.3ZM843.1 311.4L838.6 313.3L838.6 309.6ZM843.3 297.7L838.8 299.7L838.8 296.0ZM843.4 284.1L838.9 286.0L838.8 282.3ZM843.8 270.3L839.4 272.3L839.3 268.6ZM844.8 256.7L840.4 258.7L840.3 255.0ZM845.6 243.2L841.1 245.1L841.1 241.4ZM847.3 229.9L842.7 231.7L842.8 228.0ZM849.8 217.4L845.2 218.9L845.5 215.2ZM850.9 204.7L846.3 206.2L846.6 202.5ZM848.6 190.9L844.0 192.5L844.2 188.8ZM843.2 176.3L838.5 177.4L839.1 173.7ZM842.7 162.6L837.9 163.6L838.6 160.0ZM840.5 152.3L835.7 151.1L837.9 148.2ZM840.4 143.3L836.3 140.7L839.4 138.6ZM836.2 132.2L833.1 128.4L836.7 127.4ZM836.3 118.4L834.4 113.9L838.1 113.9ZM848.8 518.1L852.0 514.5L853.6 517.8ZM848.9 504.4L852.0 500.7L853.7 504.0ZM853.2 422.4L850.5 419.5L853.4 418.5ZM854.0 408.6L849.9 406.7L852.4 404.4ZM854.5 394.1L850.0 394.3L851.2 391.0ZM855.4 380.8L850.5 380.9L851.8 377.4ZM857.0 367.3L852.2 367.8L853.3 364.2ZM858.4 353.2L853.7 354.4L854.3 350.7ZM859.4 339.1L854.8 340.7L854.9 337.0ZM859.9 325.0L855.5 327.0L855.4 323.3ZM860.2 311.2L855.8 313.2L855.6 309.5ZM860.4 297.4L856.0 299.5L855.8 295.8ZM860.8 283.6L856.4 285.8L856.1 282.1ZM861.3 269.8L857.0 272.1L856.7 268.4ZM861.9 256.5L857.5 258.6L857.3 254.9ZM861.6 243.2L857.1 245.0L857.1 241.3ZM862.9 229.5L858.5 231.4L858.4 227.7ZM868.9 216.8L864.4 218.9L864.3 215.2ZM868.7 203.1L864.3 205.2L864.1 201.5ZM864.5 187.5L860.7 190.6L859.7 187.0ZM860.7 174.2L857.4 177.8L855.9 174.5ZM859.0 162.4L854.8 164.9L854.3 161.3ZM853.6 149.2L850.2 146.8L852.9 145.1ZM855.8 135.3L851.1 136.7L851.5 133.1ZM859.2 122.2L855.0 124.7L854.5 121.0ZM859.7 112.2L854.9 113.1L855.7 109.5ZM865.7 517.4L869.4 514.3L870.5 517.8ZM865.6 503.5L869.5 500.6L870.4 504.2ZM870.4 422.5L867.4 419.5L870.5 418.3ZM871.0 408.7L866.9 406.5L869.7 404.3ZM872.0 394.6L867.2 393.9L869.0 390.7ZM872.5 381.0L867.6 380.7L869.2 377.4ZM873.8 367.4L868.9 367.7L870.1 364.2ZM875.1 353.3L870.4 354.4L871.0 350.7ZM876.4 338.9L871.9 340.7L871.9 337.0ZM877.3 324.8L872.9 326.9L872.8 323.2ZM877.5 311.2L873.0 313.2L872.9 309.5ZM877.6 297.3L873.2 299.5L873.0 295.8ZM877.9 283.4L873.6 285.6L873.3 281.9ZM878.3 269.4L874.1 271.8L873.6 268.1ZM878.9 255.6L874.9 258.2L874.2 254.6ZM879.2 242.2L875.1 244.9L874.4 241.3ZM880.7 227.8L876.8 230.7L875.9 227.1ZM884.1 213.3L880.3 216.3L879.3 212.7ZM884.0 199.1L880.4 202.2L879.2 198.7ZM879.5 182.7L877.4 187.2L874.9 184.5ZM874.0 168.4L873.4 173.2L870.2 171.4ZM873.8 155.3L872.6 160.0L869.7 157.8ZM874.4 145.0L872.6 149.5L869.9 146.9ZM873.3 132.5L870.0 136.1L868.4 132.8ZM874.5 118.6L871.2 122.2L869.6 118.8ZM876.9 105.2L873.4 108.6L872.0 105.2ZM882.7 517.0L886.7 514.4L887.5 518.0ZM882.6 503.1L886.9 500.7L887.3 504.4ZM887.1 422.5L885.0 419.2L887.9 418.6ZM887.3 409.0L884.6 405.6L887.8 404.6ZM888.7 395.6L884.5 393.1L887.5 390.9ZM889.9 381.5L885.1 380.8L887.0 377.6ZM891.0 367.2L886.1 367.9L887.1 364.3ZM891.9 353.0L887.3 354.4L887.6 350.7ZM893.1 338.8L888.6 340.6L888.5 336.9ZM894.1 324.7L889.8 326.9L889.5 323.2ZM894.5 310.9L890.2 313.2L889.8 309.5ZM895.0 297.2L890.6 299.4L890.3 295.7ZM895.2 283.7L890.8 285.8L890.6 282.1ZM895.2 269.3L891.1 271.9L890.4 268.2ZM895.6 254.4L891.9 257.5L890.8 254.0ZM896.0 240.6L892.1 243.6L891.1 240.0ZM896.5 226.8L892.7 229.8L891.7 226.2ZM901.8 211.5L898.3 214.9L897.0 211.4ZM901.1 196.2L898.4 200.3L896.3 197.2ZM897.2 181.3L894.8 185.5L892.5 182.6ZM892.0 167.9L890.9 172.6L887.8 170.5ZM890.2 154.3L891.0 159.2L887.4 158.3ZM886.1 141.3L888.6 145.4L885.0 146.0ZM886.3 127.8L887.8 132.4L884.1 132.2ZM889.8 114.0L889.0 118.8L885.8 116.9ZM892.5 101.0L890.7 105.6L888.0 103.0ZM899.8 517.1L903.9 514.4L904.5 518.1ZM899.7 503.2L904.0 500.8L904.4 504.5ZM904.2 422.6L901.9 419.1L905.1 418.5ZM904.6 409.0L901.5 405.7L904.7 404.4ZM905.8 395.4L901.4 393.3L904.1 390.8ZM907.0 381.1L902.1 380.8L903.8 377.5ZM908.0 366.5L903.4 368.0L903.7 364.3ZM908.7 352.6L904.2 354.3L904.3 350.6ZM909.3 338.7L904.9 340.6L904.8 336.9ZM910.2 324.4L906.0 326.8L905.5 323.2ZM911.1 310.1L907.1 313.0L906.2 309.4ZM911.7 296.3L907.9 299.3L906.9 295.7ZM912.0 282.7L908.1 285.5L907.2 281.9ZM912.0 268.4L908.1 271.3L907.2 267.7ZM912.1 253.6L908.8 257.1L907.3 253.7ZM912.6 240.0L909.3 243.6L907.7 240.3ZM912.8 226.4L909.6 230.1L907.9 226.8ZM915.5 209.6L913.0 213.8L910.8 210.8ZM916.0 193.9L913.5 198.1L911.3 195.1ZM915.7 179.5L913.8 184.0L911.2 181.4ZM912.6 165.4L911.4 170.1L908.4 167.9ZM909.6 151.3L909.0 156.1L905.8 154.4ZM906.0 138.0L906.9 142.8L903.2 142.0ZM905.2 125.5L905.8 130.3L902.3 129.3ZM907.3 111.7L907.0 116.5L903.7 114.9ZM908.7 98.5L907.9 103.3L904.8 101.4ZM916.7 517.0L920.8 514.4L921.5 518.0ZM916.9 503.5L920.9 500.8L921.6 504.4ZM921.0 422.5L919.5 418.9L922.5 418.9ZM921.7 408.9L918.7 405.8L921.7 404.6ZM922.3 394.7L918.6 393.2L920.7 391.0ZM923.9 380.9L919.0 380.5L920.7 377.2ZM924.6 366.1L920.1 367.9L920.1 364.2ZM926.3 352.4L921.8 354.3L921.8 350.6ZM926.2 338.7L921.7 340.6L921.7 336.9ZM926.7 324.0L922.7 326.9L921.9 323.3ZM927.2 309.0L924.0 312.6L922.4 309.3ZM927.9 294.8L924.7 298.5L923.0 295.2ZM929.0 282.2L925.1 285.2L924.1 281.6ZM929.2 268.9L925.3 271.8L924.4 268.2ZM928.4 252.7L926.0 257.0L923.7 254.1ZM927.8 237.0L926.4 241.6L923.5 239.2ZM928.2 222.0L926.9 226.7L924.0 224.4ZM929.1 207.1L927.7 211.8L924.8 209.5ZM930.5 192.4L929.0 197.1L926.2 194.7ZM930.7 177.3L929.3 181.9L926.4 179.6ZM930.1 163.3L929.1 168.1L926.0 166.0ZM929.1 148.4L928.3 153.2L925.1 151.2ZM929.4 133.8L928.7 138.6L925.5 136.7ZM928.2 121.3L927.8 126.1L924.5 124.4ZM926.2 108.6L926.6 113.4L923.1 112.3ZM924.4 96.6L925.0 101.4L921.5 100.4ZM933.4 516.5L937.8 514.4L938.0 518.1ZM933.5 503.0L937.8 500.7L938.2 504.4ZM938.3 422.7L936.2 418.9L939.5 418.5ZM939.0 409.0L935.5 405.9L938.7 404.3ZM939.7 394.9L935.2 393.2L937.7 390.5ZM941.1 381.0L936.3 380.8L937.8 377.5ZM942.1 366.3L937.5 367.8L937.8 364.1ZM942.9 352.4L938.4 354.3L938.4 350.6ZM943.1 338.3L938.8 340.7L938.4 337.0ZM943.3 323.2L940.0 326.8L938.4 323.4ZM943.1 307.6L941.1 312.1L938.5 309.4ZM943.2 293.1L941.4 297.6L938.8 295.0ZM944.0 279.6L941.9 284.0L939.4 281.2ZM944.5 265.8L941.8 269.9L939.7 266.9ZM944.3 251.5L942.7 256.1L939.9 253.6ZM942.3 235.4L942.0 240.3L938.6 238.7ZM943.5 220.4L942.5 225.2L939.4 223.1ZM945.4 205.2L944.4 210.0L941.3 207.9ZM945.6 192.0L944.4 196.7L941.4 194.5ZM947.2 176.8L946.2 181.5L943.2 179.5ZM946.6 162.7L945.8 167.5L942.6 165.5ZM945.8 148.9L945.1 153.7L941.9 151.8ZM945.8 134.6L945.2 139.5L942.0 137.7ZM943.2 119.6L947.5 121.7L944.8 124.2ZM936.0 108.4L939.4 111.9L936.0 113.3ZM933.9 99.6L936.8 103.6L933.2 104.5ZM950.4 516.3L954.9 514.4L954.9 518.1ZM950.4 502.7L954.9 500.8L955.0 504.5ZM955.8 423.3L953.0 419.4L956.6 418.5ZM956.4 409.6L952.9 406.1L956.4 404.7ZM957.3 395.6L953.0 393.3L955.8 391.0ZM958.4 381.1L953.6 380.9L955.2 377.5ZM959.3 366.3L954.7 368.0L954.9 364.3ZM959.7 352.1L955.3 354.3L955.0 350.6ZM959.8 337.8L955.8 340.6L955.0 337.0ZM959.5 322.3L957.1 326.6L954.8 323.7ZM958.5 306.7L958.0 311.5L954.7 309.7ZM958.3 292.2L958.0 297.0L954.6 295.3ZM961.0 280.1L960.0 284.9L957.0 282.8ZM956.8 263.5L958.3 268.1L954.6 267.8ZM959.4 250.1L960.1 255.0L956.5 254.0ZM956.9 235.0L957.2 239.8L953.7 238.6ZM959.3 220.8L958.9 225.7L955.6 224.0ZM960.5 206.4L959.9 211.2L956.7 209.4ZM961.1 192.3L960.4 197.1L957.2 195.2ZM961.8 177.9L961.1 182.7L957.9 180.7ZM963.2 162.1L962.4 166.9L959.2 164.9ZM963.2 148.1L962.5 152.9L959.3 151.0ZM960.8 135.4L962.0 140.1L958.3 139.5ZM949.1 126.7L953.6 128.5L951.0 131.2ZM952.1 121.3L955.9 118.2L957.0 121.7ZM951.4 107.7L955.2 104.7L956.2 108.3ZM967.6 516.4L972.1 514.5L972.1 518.2ZM967.8 502.8L972.3 500.8L972.4 504.5ZM972.3 422.8L970.5 418.6L974.0 418.6ZM972.6 409.1L970.2 405.2L973.7 404.7ZM973.6 395.7L969.9 392.5L973.2 390.8ZM975.1 381.3L970.4 380.3L972.4 377.3ZM976.5 366.1L972.0 367.8L972.1 364.1ZM977.0 352.0L972.7 354.2L972.4 350.6ZM976.6 337.7L972.9 340.9L971.8 337.3ZM975.6 322.0L974.1 326.7L971.3 324.2ZM973.8 306.7L974.8 311.4L971.2 310.8ZM972.5 292.4L974.4 296.9L970.7 296.9ZM971.8 278.2L973.8 282.6L970.1 282.8ZM973.5 264.4L974.3 269.2L970.7 268.3ZM973.0 251.0L974.6 255.6L970.9 255.4ZM973.3 237.3L974.0 242.2L970.4 241.3ZM975.0 222.6L974.9 227.4L971.5 225.9ZM976.9 207.1L976.3 211.9L973.1 210.1ZM978.2 191.8L977.6 196.6L974.4 194.8ZM978.0 178.4L977.5 183.2L974.2 181.4ZM978.7 163.7L978.1 168.5L974.8 166.7ZM979.5 149.4L978.8 154.2L975.6 152.2ZM979.6 135.3L979.0 140.1L975.8 138.2ZM975.7 123.3L977.1 127.9L973.4 127.6ZM966.4 117.8L970.3 115.0L971.2 118.6ZM966.8 105.0L971.3 103.0L971.4 106.7ZM985.2 516.5L989.6 514.5L989.8 518.1ZM985.2 502.7L989.7 500.8L989.7 504.5ZM989.0 422.7L988.0 418.4L991.4 418.9ZM989.2 408.9L988.0 405.0L991.1 405.3ZM990.3 395.0L987.1 392.6L989.8 391.0ZM991.8 381.3L987.2 379.8L989.6 377.0ZM993.0 366.4L988.3 367.8L988.6 364.2ZM992.9 351.3L989.9 355.1L988.1 351.8ZM991.4 336.1L990.4 340.9L987.3 338.8ZM991.5 322.0L990.7 326.8L987.6 324.9ZM989.7 307.4L991.9 311.7L988.2 312.0ZM987.9 294.8L991.7 297.9L988.4 299.7ZM988.1 281.1L990.8 285.1L987.2 285.9ZM992.7 267.0L990.9 271.5L988.2 269.0ZM989.3 252.9L992.1 256.8L988.5 257.7ZM991.8 238.6L991.2 243.4L987.9 241.6ZM991.6 224.4L991.6 229.3L988.2 227.9ZM992.6 209.0L992.2 213.8L988.9 212.1ZM993.8 194.3L993.2 199.1L989.9 197.3ZM993.6 180.4L993.3 185.3L989.9 183.7ZM993.5 166.0L993.4 170.9L990.0 169.4ZM994.3 151.1L994.0 155.9L990.7 154.4ZM995.2 137.5L994.4 142.3L991.3 140.4ZM995.0 123.5L997.1 127.9L993.4 128.1ZM989.5 113.9L991.7 118.3L988.0 118.5ZM988.7 101.3L991.2 105.4L987.6 106.0ZM1002.5 516.6L1006.9 514.4L1007.2 518.1ZM1002.5 502.8L1006.9 500.8L1007.0 504.5ZM1007.4 422.6L1004.0 419.6L1007.1 418.1ZM1007.1 409.0L1004.2 405.5L1007.5 404.6ZM1007.4 395.3L1003.9 392.3L1007.1 390.7ZM1008.9 381.1L1004.1 380.4L1006.0 377.2ZM1009.5 366.2L1004.9 367.8L1005.2 364.1ZM1008.9 350.5L1006.8 354.8L1004.3 352.1ZM1008.0 336.2L1007.3 341.0L1004.1 339.0ZM1008.2 322.2L1007.7 327.0L1004.4 325.2ZM1007.6 307.7L1008.2 312.5L1004.6 311.6ZM1007.1 293.9L1008.0 298.7L1004.4 297.9ZM1007.4 280.4L1008.1 285.2L1004.5 284.3ZM1007.0 267.4L1008.0 272.2L1004.4 271.5ZM1007.4 252.9L1008.2 257.7L1004.6 256.9ZM1007.3 238.6L1008.5 243.3L1004.8 242.8ZM1007.2 224.7L1008.3 229.4L1004.6 228.8ZM1009.0 210.2L1008.4 215.0L1005.1 213.2ZM1010.6 196.3L1009.6 201.1L1006.5 199.0ZM1009.4 182.6L1009.5 187.5L1006.1 186.2ZM1008.5 168.8L1009.0 173.6L1005.4 172.5ZM1008.4 154.1L1009.2 158.9L1005.6 158.1ZM1008.0 139.8L1009.3 144.5L1005.6 144.1ZM1006.5 127.3L1008.9 131.5L1005.2 132.0ZM1005.8 116.9L1008.5 120.9L1004.9 121.6ZM1005.3 102.6L1008.3 106.4L1004.8 107.5ZM1019.9 516.6L1024.2 514.4L1024.6 518.1ZM1020.0 503.0L1024.3 500.7L1024.6 504.4ZM1024.6 422.5L1021.0 419.7L1024.0 418.0ZM1024.0 409.1L1021.5 405.3L1024.9 404.7ZM1024.1 395.4L1021.3 391.8L1024.7 390.9ZM1025.7 380.2L1021.0 381.0L1021.8 377.5ZM1025.6 366.4L1021.2 367.4L1021.8 364.0ZM1025.9 351.2L1023.6 355.5L1021.3 352.7ZM1025.3 336.2L1024.6 341.0L1021.4 339.1ZM1024.8 321.9L1025.2 326.8L1021.6 325.6ZM1024.4 308.1L1025.2 312.9L1021.5 312.0ZM1026.0 294.4L1024.5 299.0L1021.7 296.6ZM1027.2 281.0L1025.2 285.5L1022.7 282.8ZM1024.8 266.8L1025.3 271.7L1021.8 270.7ZM1024.0 252.9L1025.6 257.5L1021.9 257.3ZM1023.1 239.5L1025.6 243.6L1022.0 244.2ZM1023.0 225.9L1025.5 230.1L1021.8 230.7ZM1023.9 211.5L1025.0 216.2L1021.4 215.7ZM1024.6 198.0L1025.5 202.8L1021.9 202.0ZM1024.1 185.5L1025.1 190.3L1021.5 189.6ZM1024.6 170.9L1025.1 175.7L1021.5 174.7ZM1025.0 157.0L1025.3 161.8L1021.8 160.7ZM1023.4 143.1L1026.0 147.1L1022.4 147.8ZM1021.7 130.5L1025.7 133.4L1022.5 135.3ZM1021.0 117.7L1025.5 119.6L1022.9 122.2ZM1021.1 103.8L1025.4 106.1L1022.5 108.4ZM1037.1 516.3L1041.6 514.4L1041.7 518.1ZM1037.2 502.7L1041.6 500.7L1041.7 504.4ZM1041.0 422.8L1038.6 418.8L1042.1 418.3ZM1041.6 409.0L1038.1 405.9L1041.3 404.3ZM1041.9 391.6L1040.9 396.2L1038.0 394.1ZM1041.9 377.9L1041.0 382.6L1037.9 380.6ZM1040.4 364.0L1042.6 368.0L1039.2 368.4ZM1040.4 350.3L1042.7 354.3L1039.2 354.7ZM1041.2 335.9L1042.1 340.7L1038.5 340.0ZM1041.1 322.0L1042.5 326.7L1038.8 326.3ZM1040.6 308.7L1042.7 313.1L1039.0 313.3ZM1040.5 295.7L1042.6 299.7L1039.1 300.0ZM1041.5 280.7L1042.2 285.5L1038.6 284.6ZM1041.2 266.5L1042.8 271.1L1039.1 270.9ZM1040.1 252.7L1042.6 256.8L1039.0 257.4ZM1040.1 239.8L1042.7 243.9L1039.0 244.5ZM1040.3 227.4L1042.7 231.3L1039.3 231.9ZM1040.4 212.6L1042.5 217.0L1038.8 217.2ZM1040.9 198.3L1042.4 202.9L1038.7 202.6ZM1041.1 184.9L1042.4 189.6L1038.7 189.1ZM1041.9 171.3L1041.8 176.1L1038.4 174.7ZM1042.5 158.1L1041.8 162.9L1038.6 161.1ZM1040.9 144.0L1043.6 148.1L1040.0 148.8ZM1039.6 132.0L1043.3 134.9L1040.2 136.6ZM1038.8 117.8L1043.1 120.1L1040.3 122.5ZM1037.7 104.4L1042.3 105.9L1039.9 108.7ZM1054.2 516.1L1058.7 514.5L1058.6 518.2ZM1054.0 502.4L1058.6 500.8L1058.4 504.5ZM1057.2 422.7L1056.7 418.2L1060.0 419.1ZM1057.7 404.9L1059.6 409.1L1056.1 409.2ZM1057.8 391.3L1059.5 395.5L1056.1 395.5ZM1057.8 377.5L1059.5 382.0L1055.9 381.9ZM1057.8 363.5L1059.6 368.0L1055.9 368.0ZM1057.8 349.7L1059.5 354.3L1055.8 354.2ZM1058.0 335.9L1059.5 340.5L1055.8 340.2ZM1057.9 322.0L1059.6 326.6L1055.9 326.5ZM1057.8 308.4L1059.6 312.9L1055.9 312.9ZM1057.8 294.8L1059.6 299.3L1055.9 299.3ZM1057.8 280.9L1059.6 285.4L1055.9 285.4ZM1057.3 266.6L1059.9 270.7L1056.3 271.3ZM1056.2 252.4L1059.5 256.0L1056.0 257.2ZM1056.3 238.7L1059.3 242.6L1055.8 243.6ZM1057.1 226.0L1059.7 230.1L1056.1 230.7ZM1057.1 212.3L1059.8 216.4L1056.2 217.1ZM1056.1 199.0L1059.9 202.0L1056.7 203.8ZM1054.8 187.1L1059.4 188.7L1056.9 191.5ZM1055.7 172.3L1058.8 176.0L1055.3 177.2ZM1057.8 157.6L1059.6 162.1L1055.9 162.1ZM1056.7 144.1L1060.1 147.6L1056.7 149.0ZM1055.3 131.3L1059.7 133.2L1057.1 135.8ZM1054.4 117.3L1059.0 119.0L1056.5 121.7ZM1055.0 107.4L1059.2 104.9L1059.7 108.5ZM1071.3 516.1L1075.9 514.5L1075.6 518.2ZM1071.0 502.4L1075.7 500.9L1075.4 504.6ZM1070.7 488.6L1075.3 487.2L1075.0 490.9ZM1071.4 475.0L1076.1 473.5L1075.8 477.2ZM1072.0 461.8L1076.4 459.8L1076.5 463.5ZM1072.2 447.7L1076.9 446.8L1076.2 450.4ZM1072.4 433.7L1077.2 433.3L1076.1 436.8ZM1072.7 420.4L1077.3 419.2L1076.9 422.8ZM1074.4 404.9L1077.1 408.8L1073.6 409.6ZM1074.6 391.3L1076.9 395.3L1073.4 395.7ZM1074.6 377.6L1076.9 381.7L1073.3 382.1ZM1074.7 363.4L1076.8 367.9L1073.1 368.0ZM1074.8 349.7L1076.8 354.1L1073.1 354.2ZM1074.7 336.1L1076.8 340.5L1073.1 340.7ZM1074.7 322.4L1076.8 326.8L1073.1 327.0ZM1074.8 308.5L1076.8 312.9L1073.1 313.0ZM1074.7 294.7L1076.8 299.1L1073.1 299.3ZM1074.5 281.0L1076.9 285.3L1073.2 285.7ZM1074.4 267.4L1076.9 271.5L1073.3 272.1ZM1074.3 253.5L1076.9 257.6L1073.3 258.3ZM1074.4 239.4L1076.7 243.7L1073.1 244.1ZM1074.6 225.8L1076.8 230.1L1073.1 230.5ZM1074.0 212.3L1077.2 216.0L1073.7 217.2ZM1072.1 200.6L1076.9 200.7L1075.5 204.1ZM1072.1 189.5L1075.7 186.2L1077.0 189.7ZM1072.6 173.4L1077.5 173.6L1076.0 177.0ZM1073.1 158.7L1077.1 161.4L1074.1 163.5ZM1088.4 516.2L1092.9 514.5L1092.9 518.2ZM1088.4 502.6L1092.9 500.8L1092.9 504.5ZM1089.3 488.0L1094.2 487.8L1092.9 491.2ZM1090.0 474.3L1094.7 474.7L1093.1 477.9ZM1089.0 462.2L1093.1 459.6L1093.8 463.2ZM1089.0 448.0L1093.5 446.2L1093.5 449.9ZM1089.0 434.3L1093.6 432.6L1093.5 436.3ZM1089.8 419.1L1094.4 420.8L1091.8 423.5ZM1091.5 404.9L1094.1 408.8L1090.7 409.5ZM1091.7 391.3L1093.9 395.2L1090.5 395.7ZM1091.7 377.6L1094.0 381.6L1090.5 382.0ZM1091.7 363.8L1094.0 368.1L1090.4 368.5ZM1091.8 349.8L1093.9 354.1L1090.3 354.4ZM1091.8 336.6L1093.9 340.7L1090.4 341.0ZM1091.8 323.0L1093.9 327.0L1090.4 327.3ZM1091.8 308.7L1094.0 313.0L1090.3 313.3ZM1091.5 294.8L1094.1 298.9L1090.4 299.5ZM1091.4 281.2L1094.1 285.3L1090.4 285.9ZM1091.5 267.8L1094.1 271.9L1090.5 272.5ZM1091.6 254.7L1094.0 258.6L1090.6 259.2ZM1091.9 239.7L1093.8 244.2L1090.1 244.2ZM1092.0 225.9L1093.8 230.4L1090.1 230.4ZM1091.5 212.3L1094.2 216.3L1090.6 217.1ZM1090.1 199.5L1094.4 201.7L1091.6 204.1ZM1090.2 186.4L1094.4 188.8L1091.5 191.1ZM1090.5 172.6L1094.5 175.4L1091.4 177.4ZM1090.4 158.6L1094.3 161.6L1091.1 163.4ZM1105.6 516.0L1110.3 514.5L1110.0 518.2ZM1105.8 502.3L1110.4 500.9L1110.1 504.5ZM1106.4 488.1L1111.2 487.9L1109.9 491.4ZM1106.5 474.4L1111.4 474.3L1110.1 477.7ZM1106.2 461.5L1110.7 459.8L1110.6 463.5ZM1106.1 448.0L1110.6 446.1L1110.6 449.8ZM1106.2 434.0L1110.9 432.7L1110.4 436.3ZM1107.0 418.9L1111.4 420.8L1108.8 423.4ZM1108.4 404.5L1111.2 408.5L1107.6 409.4ZM1108.7 391.2L1111.2 395.2L1107.7 395.8ZM1108.8 377.5L1111.2 381.7L1107.6 382.2ZM1108.8 363.4L1111.1 367.7L1107.4 368.1ZM1108.9 349.7L1111.0 354.0L1107.3 354.3ZM1108.9 336.1L1111.0 340.4L1107.4 340.7ZM1108.9 322.4L1111.0 326.8L1107.4 327.0ZM1108.8 308.5L1111.0 312.8L1107.4 313.1ZM1108.7 294.7L1111.1 298.9L1107.4 299.4ZM1108.6 281.1L1111.1 285.3L1107.4 285.8ZM1108.7 267.5L1111.1 271.7L1107.5 272.2ZM1108.7 253.9L1111.1 258.1L1107.4 258.6ZM1108.8 239.8L1111.0 244.2L1107.3 244.4ZM1108.9 225.9L1111.0 230.3L1107.3 230.5ZM1108.5 212.3L1111.2 216.3L1107.5 217.0ZM1107.8 198.9L1111.3 202.3L1107.9 203.8ZM1107.4 185.7L1111.3 188.5L1108.2 190.5ZM1107.4 172.1L1111.3 175.0L1108.2 176.9ZM1107.4 158.4L1111.3 161.4L1108.1 163.2Z" fill="#0a0a0a"/>

</g>
<rect x="695.25" y="106.6" width="410.4000000000001" height="409.69999999999993" fill="none" stroke="#555" stroke-width="1"/>
<path d="M695.25 516.3v12.5M695.25 106.6v-0.0M708.93 516.3v6.5M708.93 106.6v-0.0M722.61 516.3v6.5M722.61 106.6v-0.0M736.29 516.3v6.5M736.29 106.6v-0.0M749.97 516.3v6.5M749.97 106.6v-0.0M763.65 516.3v12.5M763.65 106.6v-0.0M777.33 516.3v6.5M777.33 106.6v-0.0M791.01 516.3v6.5M791.01 106.6v-0.0M804.69 516.3v6.5M804.69 106.6v-0.0M818.37 516.3v6.5M818.37 106.6v-0.0M832.05 516.3v12.5M832.05 106.6v-0.0M845.73 516.3v6.5M845.73 106.6v-0.0M859.41 516.3v6.5M859.41 106.6v-0.0M873.09 516.3v6.5M873.09 106.6v-0.0M886.77 516.3v6.5M886.77 106.6v-0.0M900.45 516.3v12.5M900.45 106.6v-0.0M914.13 516.3v6.5M914.13 106.6v-0.0M927.81 516.3v6.5M927.81 106.6v-0.0M941.49 516.3v6.5M941.49 106.6v-0.0M955.17 516.3v6.5M955.17 106.6v-0.0M968.85 516.3v12.5M968.85 106.6v-0.0M982.53 516.3v6.5M982.53 106.6v-0.0M996.21 516.3v6.5M996.21 106.6v-0.0M1009.89 516.3v6.5M1009.89 106.6v-0.0M1023.57 516.3v6.5M1023.57 106.6v-0.0M1037.25 516.3v12.5M1037.25 106.6v-0.0M1050.93 516.3v6.5M1050.93 106.6v-0.0M1064.61 516.3v6.5M1064.61 106.6v-0.0M1078.29 516.3v6.5M1078.29 106.6v-0.0M1091.97 516.3v6.5M1091.97 106.6v-0.0M1105.65 516.3v12.5M1105.65 106.6v-0.0M695.25 516.30h-13.5M695.25 502.64h-6.5M695.25 488.99h-6.5M695.25 475.33h-6.5M695.25 461.67h-6.5M695.25 448.01h-13.5M695.25 434.36h-6.5M695.25 420.70h-6.5M695.25 407.04h-6.5M695.25 393.39h-6.5M695.25 379.73h-13.5M695.25 366.07h-6.5M695.25 352.42h-6.5M695.25 338.76h-6.5M695.25 325.10h-6.5M695.25 311.44h-13.5M695.25 297.79h-6.5M695.25 284.13h-6.5M695.25 270.47h-6.5M695.25 256.82h-6.5M695.25 243.16h-13.5M695.25 229.50h-6.5M695.25 215.85h-6.5M695.25 202.19h-6.5M695.25 188.53h-6.5M695.25 174.87h-13.5M695.25 161.22h-6.5M695.25 147.56h-6.5M695.25 133.90h-6.5M695.25 120.25h-6.5M695.25 106.59h-13.5" stroke="#444" stroke-width="1" fill="none"/>
<text x="677.75" y="549.6" font-size="12.6" font-family="Liberation Sans, sans-serif" fill="#111">140<tspan font-size="7.5" dy="-5.2">o</tspan><tspan dy="5.2">W</tspan></text>
<text x="746.15" y="549.6" font-size="12.6" font-family="Liberation Sans, sans-serif" fill="#111">135<tspan font-size="7.5" dy="-5.2">o</tspan><tspan dy="5.2">W</tspan></text>
<text x="814.55" y="549.6" font-size="12.6" font-family="Liberation Sans, sans-serif" fill="#111">130<tspan font-size="7.5" dy="-5.2">o</tspan><tspan dy="5.2">W</tspan></text>
<text x="882.95" y="549.6" font-size="12.6" font-family="Liberation Sans, sans-serif" fill="#111">125<tspan font-size="7.5" dy="-5.2">o</tspan><tspan dy="5.2">W</tspan></text>
<text x="951.35" y="549.6" font-size="12.6" font-family="Liberation Sans, sans-serif" fill="#111">120<tspan font-size="7.5" dy="-5.2">o</tspan><tspan dy="5.2">W</tspan></text>
<text x="1019.75" y="549.6" font-size="12.6" font-family="Liberation Sans, sans-serif" fill="#111">115<tspan font-size="7.5" dy="-5.2">o</tspan><tspan dy="5.2">W</tspan></text>
<text x="1088.15" y="549.6" font-size="12.6" font-family="Liberation Sans, sans-serif" fill="#111">110<tspan font-size="7.5" dy="-5.2">o</tspan><tspan dy="5.2">W</tspan></text>
<text x="672.95" y="521.10" font-size="12.6" text-anchor="end" font-family="Liberation Sans, sans-serif" fill="#111">20<tspan font-size="7.5" dy="-5.2">o</tspan><tspan dy="5.2">N</tspan></text>
<text x="672.95" y="452.81" font-size="12.6" text-anchor="end" font-family="Liberation Sans, sans-serif" fill="#111">25<tspan font-size="7.5" dy="-5.2">o</tspan><tspan dy="5.2">N</tspan></text>
<text x="672.95" y="384.53" font-size="12.6" text-anchor="end" font-family="Liberation Sans, sans-serif" fill="#111">30<tspan font-size="7.5" dy="-5.2">o</tspan><tspan dy="5.2">N</tspan></text>
<text x="672.95" y="316.24" font-size="12.6" text-anchor="end" font-family="Liberation Sans, sans-serif" fill="#111">35<tspan font-size="7.5" dy="-5.2">o</tspan><tspan dy="5.2">N</tspan></text>
<text x="672.95" y="247.96" font-size="12.6" text-anchor="end" font-family="Liberation Sans, sans-serif" fill="#111">40<tspan font-size="7.5" dy="-5.2">o</tspan><tspan dy="5.2">N</tspan></text>
<text x="672.95" y="179.67" font-size="12.6" text-anchor="end" font-family="Liberation Sans, sans-serif" fill="#111">45<tspan font-size="7.5" dy="-5.2">o</tspan><tspan dy="5.2">N</tspan></text>
<text x="672.95" y="111.39" font-size="12.6" text-anchor="end" font-family="Liberation Sans, sans-serif" fill="#111">50<tspan font-size="7.5" dy="-5.2">o</tspan><tspan dy="5.2">N</tspan></text>
<!-- right map titles -->
<g font-family="Liberation Sans, sans-serif" fill="#111">
<text x="694" y="91.6" font-size="13.1" textLength="476.5" lengthAdjust="spacingAndGlyphs">NCEP GFS IWV (mm; shaded), 850-hPa Wind (vectors), and SLP (hPa; contours)</text>
<text x="694.2" y="104.4" font-size="9.8" textLength="153" lengthAdjust="spacingAndGlyphs">Initialized: 1200 UTC 12/27/2022</text>
<text x="940.5" y="104.4" font-size="9.8" textLength="165" lengthAdjust="spacingAndGlyphs">F-000: Valid: 1200 UTC 12/27/2022</text>
<rect x="1074.8" y="106.6" width="31" height="48.9" fill="#fff" stroke="#777" stroke-width="0.8"/>
<text x="1090" y="118.2" font-size="11.8" text-anchor="middle">20</text>
<path d="M1078.2 130H1099" stroke="#111" stroke-width="1" fill="none"/><path d="M1102 130l-5.2-2v4z" fill="#111"/>
<text x="1077" y="150.9" font-size="11.8" textLength="26.4" lengthAdjust="spacingAndGlyphs">[m/s]</text>
<text x="698.5" y="512.6" font-size="11" textLength="315.5" lengthAdjust="spacingAndGlyphs">CW3E, Scripps, UC San Diego; Contact B. Kawzenuk/M. Ralph</text>
<rect x="760.5" y="433.6" width="296" height="53.4" fill="#bfbfbf" stroke="#000" stroke-width="1.4"/>
<text x="771" y="455" font-size="18.7" fill="#000" textLength="273" lengthAdjust="spacingAndGlyphs">IWV with 850-hPa Wind and SLP</text>
<text x="788.5" y="477.6" font-size="18.7" fill="#000" textLength="238" lengthAdjust="spacingAndGlyphs">4 AM PT 27 December 2022</text>
</g>

<rect x="695.8" y="107.2" width="72" height="52" fill="#fff"/>
<g transform="translate(731 123.5) scale(1.0000)">
<path d="M-16.2 -0.5A16.2 16.2 0 0 1 16.2 -0.5L9.9 -0.5A9.9 9.9 0 0 0 -9.9 -0.5Z" fill="#f7941d"/>
<path d="M-16.2 0.6A16.2 16.2 0 0 0 16.2 0.6L9.9 0.6A9.9 9.9 0 0 1 -9.9 0.6Z" fill="#2381b0"/>
<path d="M-16 3.4H16M-15 6.4H15M-13.5 9.4H13.5M-11 12.4H11" stroke="#1a6a94" stroke-width="0.7" opacity="0.8"/>
<circle r="9.9" fill="#fff"/>
<path d="M0 -7.5C1.6 -4.4 5 -1.6 5 2.4A5 5 0 0 1 -5 2.4C-5 -1.6 -1.6 -4.4 0 -7.5Z" fill="#2489c4"/>
<path d="M1.6 -4.2L-2.6 0.9L-0.3 1.2L-1.9 5.6L2.8 -0.3L0.4 -0.6Z" fill="#fff"/>
</g>
<text x="695.6" y="149.2" font-size="6.1" font-weight="bold" font-family="Liberation Sans, sans-serif" fill="#1f7ba8" textLength="70.9" lengthAdjust="spacingAndGlyphs">Center for Western Weather</text>
<text x="705.6" y="155.3" font-size="6.1" font-weight="bold" font-family="Liberation Sans, sans-serif" fill="#1f7ba8" textLength="51.4" lengthAdjust="spacingAndGlyphs">and Water Extremes</text>
<rect x="1121" y="110.70" width="24.3" height="18.56" fill="#7f3fae"/>
<rect x="1121" y="128.96" width="24.3" height="18.56" fill="#5b0087"/>
<rect x="1121" y="147.23" width="24.3" height="18.56" fill="#9b0050"/>
<rect x="1121" y="165.49" width="24.3" height="18.56" fill="#d4002a"/>
<rect x="1121" y="183.75" width="24.3" height="18.56" fill="#ff0000"/>
<rect x="1121" y="202.02" width="24.3" height="18.56" fill="#ff3c00"/>
<rect x="1121" y="220.28" width="24.3" height="18.56" fill="#ff7300"/>
<rect x="1121" y="238.55" width="24.3" height="18.56" fill="#ffa000"/>
<rect x="1121" y="256.81" width="24.3" height="18.56" fill="#ffbe00"/>
<rect x="1121" y="275.07" width="24.3" height="18.56" fill="#ffdc00"/>
<rect x="1121" y="293.34" width="24.3" height="18.56" fill="#ffff00"/>
<rect x="1121" y="311.60" width="24.3" height="18.56" fill="#b4e600"/>
<rect x="1121" y="329.86" width="24.3" height="18.56" fill="#5ac80a"/>
<rect x="1121" y="348.13" width="24.3" height="18.56" fill="#14b414"/>
<rect x="1121" y="366.39" width="24.3" height="18.56" fill="#14c850"/>
<rect x="1121" y="384.65" width="24.3" height="18.56" fill="#00dc9b"/>
<rect x="1121" y="402.92" width="24.3" height="18.56" fill="#00f5e6"/>
<rect x="1121" y="421.18" width="24.3" height="18.56" fill="#00c3ff"/>
<rect x="1121" y="439.45" width="24.3" height="18.56" fill="#0078ff"/>
<rect x="1121" y="457.71" width="24.3" height="18.56" fill="#0a1eff"/>
<rect x="1121" y="475.97" width="24.3" height="18.56" fill="#0a00c8"/>
<rect x="1121" y="494.24" width="24.3" height="18.56" fill="#ffffff"/>
<path d="M1121 128.96h24.3M1121 147.23h24.3M1121 165.49h24.3M1121 183.75h24.3M1121 202.02h24.3M1121 220.28h24.3M1121 238.55h24.3M1121 256.81h24.3M1121 275.07h24.3M1121 293.34h24.3M1121 311.60h24.3M1121 329.86h24.3M1121 348.13h24.3M1121 366.39h24.3M1121 384.65h24.3M1121 402.92h24.3M1121 421.18h24.3M1121 439.45h24.3M1121 457.71h24.3M1121 475.97h24.3M1121 494.24h24.3" stroke="#000" stroke-opacity="0.35" stroke-width="0.8"/>
<rect x="1121" y="494.24" width="24.3" height="18.26" fill="#fff" stroke="#bbb" stroke-width="1"/>
<text x="1158" y="133.06" font-size="10.2" text-anchor="middle" font-family="Liberation Sans, sans-serif" fill="#111">60</text>
<text x="1158" y="151.33" font-size="10.2" text-anchor="middle" font-family="Liberation Sans, sans-serif" fill="#111">58</text>
<text x="1158" y="169.59" font-size="10.2" text-anchor="middle" font-family="Liberation Sans, sans-serif" fill="#111">56</text>
<text x="1158" y="187.85" font-size="10.2" text-anchor="middle" font-family="Liberation Sans, sans-serif" fill="#111">54</text>
<text x="1158" y="206.12" font-size="10.2" text-anchor="middle" font-family="Liberation Sans, sans-serif" fill="#111">52</text>
<text x="1158" y="224.38" font-size="10.2" text-anchor="middle" font-family="Liberation Sans, sans-serif" fill="#111">50</text>
<text x="1158" y="242.65" font-size="10.2" text-anchor="middle" font-family="Liberation Sans, sans-serif" fill="#111">48</text>
<text x="1158" y="260.91" font-size="10.2" text-anchor="middle" font-family="Liberation Sans, sans-serif" fill="#111">46</text>
<text x="1158" y="279.17" font-size="10.2" text-anchor="middle" font-family="Liberation Sans, sans-serif" fill="#111">44</text>
<text x="1158" y="297.44" font-size="10.2" text-anchor="middle" font-family="Liberation Sans, sans-serif" fill="#111">42</text>
<text x="1158" y="315.70" font-size="10.2" text-anchor="middle" font-family="Liberation Sans, sans-serif" fill="#111">40</text>
<text x="1158" y="333.96" font-size="10.2" text-anchor="middle" font-family="Liberation Sans, sans-serif" fill="#111">38</text>
<text x="1158" y="352.23" font-size="10.2" text-anchor="middle" font-family="Liberation Sans, sans-serif" fill="#111">36</text>
<text x="1158" y="370.49" font-size="10.2" text-anchor="middle" font-family="Liberation Sans, sans-serif" fill="#111">34</text>
<text x="1158" y="388.75" font-size="10.2" text-anchor="middle" font-family="Liberation Sans, sans-serif" fill="#111">32</text>
<text x="1158" y="407.02" font-size="10.2" text-anchor="middle" font-family="Liberation Sans, sans-serif" fill="#111">30</text>
<text x="1158" y="425.28" font-size="10.2" text-anchor="middle" font-family="Liberation Sans, sans-serif" fill="#111">28</text>
<text x="1158" y="443.55" font-size="10.2" text-anchor="middle" font-family="Liberation Sans, sans-serif" fill="#111">26</text>
<text x="1158" y="461.81" font-size="10.2" text-anchor="middle" font-family="Liberation Sans, sans-serif" fill="#111">24</text>
<text x="1158" y="480.07" font-size="10.2" text-anchor="middle" font-family="Liberation Sans, sans-serif" fill="#111">22</text>
<text x="1158" y="498.34" font-size="10.2" text-anchor="middle" font-family="Liberation Sans, sans-serif" fill="#111">20</text>
<!-- bullets -->
<g font-family="Liberation Sans, sans-serif" fill="#000" font-size="24">
<circle cx="70.7" cy="581.5" r="2.8"/><circle cx="70.7" cy="639.5" r="2.8"/>
<text x="91" y="589" textLength="1075" lengthAdjust="spacingAndGlyphs">AR contained IVT magnitudes of ~1000 kg/ms at landfall in San Francisco Bay Area with inland water</text>
<text x="91" y="618" textLength="431" lengthAdjust="spacingAndGlyphs">vapor transport throughout Western U.S.</text>
<text x="91" y="647" textLength="820" lengthAdjust="spacingAndGlyphs">Coastal IWV values exceeded 40 mm with values &gt;35 mm into Central Valley</text>
</g>
<!-- footer -->

<rect x="0" y="662" width="1280" height="58" fill="#26779f"/>
<g transform="translate(33.75 690.8)">
<clipPath id="fc"><circle r="23.9"/></clipPath>
<path d="M-23.9 -0.6A23.9 23.9 0 0 1 23.9 -0.6Z" fill="#fff"/>
<g clip-path="url(#fc)"><rect x="-23.9" y="1.20" width="47.8" height="2.05" fill="#fff"/><rect x="-23.9" y="4.70" width="47.8" height="2.05" fill="#fff"/><rect x="-23.9" y="8.20" width="47.8" height="2.05" fill="#fff"/><rect x="-23.9" y="11.70" width="47.8" height="2.05" fill="#fff"/><rect x="-23.9" y="15.20" width="47.8" height="2.05" fill="#fff"/><rect x="-23.9" y="18.70" width="47.8" height="2.05" fill="#fff"/><rect x="-23.9" y="22.20" width="47.8" height="2.05" fill="#fff"/></g>
<circle r="14.5" fill="#26779f"/>
<g transform="scale(1.5)"><path d="M0 -7.5C1.6 -4.4 5 -1.6 5 2.4A5 5 0 0 1 -5 2.4C-5 -1.6 -1.6 -4.4 0 -7.5Z" fill="#fff"/><path d="M1.6 -4.2L-2.6 0.9L-0.3 1.2L-1.9 5.6L2.8 -0.3L0.4 -0.6Z" fill="#26779f"/></g>
</g>
<text x="63.2" y="686.8" font-size="18.4" font-weight="bold" font-family="Liberation Sans, sans-serif" fill="#fff" textLength="58.8" lengthAdjust="spacingAndGlyphs" stroke="#fff" stroke-width="0.5">CW3E</text>
<text x="63.3" y="698.9" font-size="9" font-weight="bold" font-family="Liberation Sans, sans-serif" fill="#fff" textLength="109.4" lengthAdjust="spacingAndGlyphs">Center for Western Weather</text>
<text x="63.3" y="708.3" font-size="9" font-weight="bold" font-family="Liberation Sans, sans-serif" fill="#fff" textLength="79.9" lengthAdjust="spacingAndGlyphs">and Water Extremes</text>
<text x="883.5" y="699.3" font-size="31.5" font-family="Liberation Serif, serif" fill="#fff" textLength="146.5" lengthAdjust="spacingAndGlyphs" word-spacing="-4" stroke="#fff" stroke-width="0.3">UC San Diego</text>
<path d="M883 704.7H1006M1022 704.7H1028.5" stroke="#fff" stroke-width="1.2"/>
<path d="M1046.8 667.8V714" stroke="#7fb0c8" stroke-width="1"/>
<defs><radialGradient id="gl" cx="0.4" cy="0.35" r="0.75"><stop offset="0" stop-color="#3f9ad6"/><stop offset="0.6" stop-color="#2a5fb8"/><stop offset="1" stop-color="#5b2d91"/></radialGradient></defs>
<circle cx="1082" cy="691.2" r="18.7" fill="url(#gl)"/>
<path d="M1072 676c4-3 10-4 14-2l3 4-2 5-5 2-2 5-5-1-3-5-3-3zM1084 692l6 1 4 4-1 6-5 6-3-1 1-7-3-5z" fill="#5fc08a" opacity="0.9"/>
<text x="1103.5" y="690.3" font-size="21.5" font-family="Liberation Serif, serif" fill="#fff" textLength="82" lengthAdjust="spacingAndGlyphs">S<tspan font-size="17.8">CRIPPS</tspan></text>
<text x="1187.2" y="690" font-size="7.2" font-weight="bold" font-family="Liberation Sans, sans-serif" fill="#fff" textLength="79.5" lengthAdjust="spacing">INSTITUTION OF</text>
<text x="1103.8" y="707.9" font-size="19.6" font-family="Liberation Serif, serif" fill="#fff" textLength="163" lengthAdjust="spacingAndGlyphs">OCEANOGRAPHY</text>
</svg></body></html>
